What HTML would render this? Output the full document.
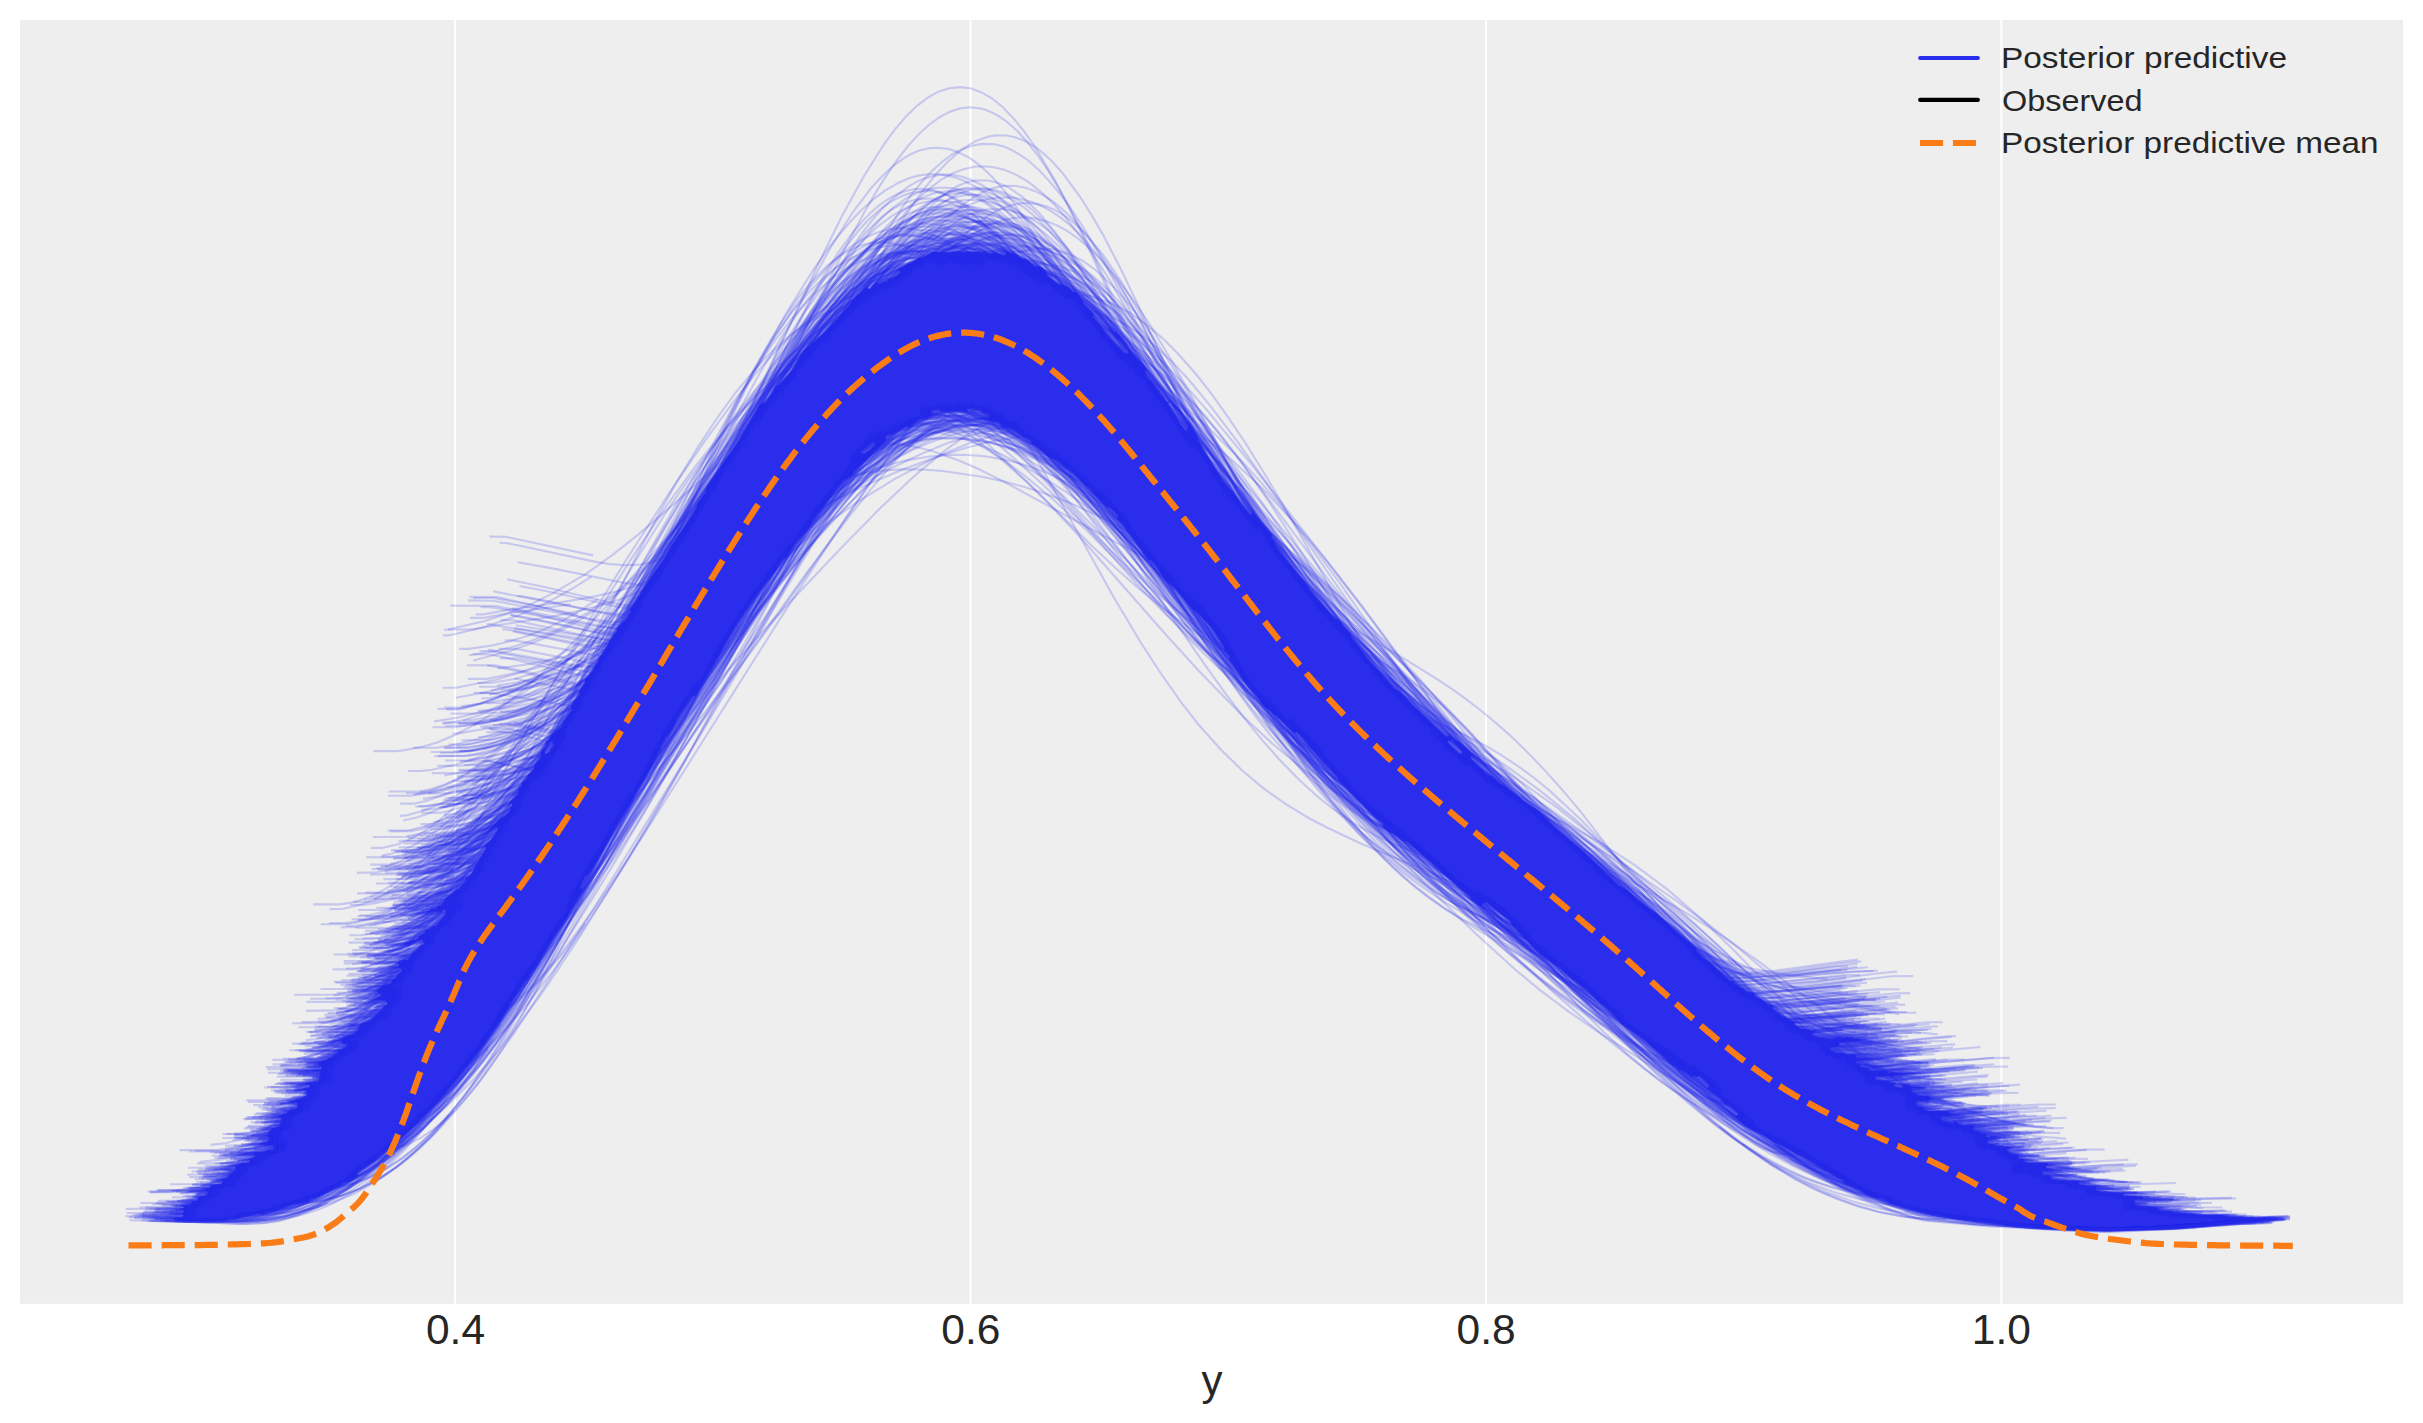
<!DOCTYPE html>
<html><head><meta charset="utf-8"><style>
html,body{margin:0;padding:0;background:#fff;}
svg{display:block;}
text{font-family:"Liberation Sans",sans-serif;fill:#262626;}
</style></head><body>
<svg width="2423" height="1423" viewBox="0 0 2423 1423">
<rect x="20" y="20" width="2383" height="1283.8" fill="#eeeeee"/>
<g stroke="#ffffff" stroke-width="2.1">
<line x1="455" y1="20" x2="455" y2="1303.8"/>
<line x1="970.5" y1="20" x2="970.5" y2="1303.8"/>
<line x1="1486" y1="20" x2="1486" y2="1303.8"/>
<line x1="2001.3" y1="20" x2="2001.3" y2="1303.8"/>
</g>
<path d="M172 1218 174 1218 175 1220 180 1221 225 1221 229 1219 234 1219 257 1213 264 1214 267 1212 275 1211 291 1204 308 1202 310 1199 317 1197 338 1186 340 1186 342 1183 350 1181 359 1175 357 1174 358 1171 374 1161 381 1154 392 1146 433 1107 482 1047 503 1016 511 1001 518 992 524 981 529 978 529 975 537 965 548 945 562 925 563 922 567 918 569 912 588 882 583 889 580 888 585 876 588 875 594 866 619 820 631 803 635 793 646 776 658 754 658 752 661 750 660 747 665 737 668 735 672 729 678 716 691 697 696 695 716 659 721 652 725 642 733 630 735 625 756 595 772 575 780 562 783 559 786 558 795 543 810 526 813 519 823 507 836 488 842 481 851 476 853 474 853 472 873 452 884 443 887 439 885 438 886 435 892 434 905 426 910 427 919 419 928 418 932 415 938 414 939 413 935 414 931 413 931 411 934 409 940 409 941 412 944 411 964 411 971 413 968 412 967 409 972 408 981 410 983 413 987 413 989 415 988 418 984 417 977 418 982 418 991 421 999 422 1002 427 1010 428 1015 430 1024 437 1029 439 1031 441 1031 443 1038 447 1049 457 1059 461 1067 469 1069 469 1074 473 1085 485 1091 489 1093 493 1107 507 1110 507 1118 515 1117 519 1125 526 1126 530 1131 535 1149 560 1151 560 1156 565 1165 580 1177 590 1191 608 1197 612 1213 629 1224 646 1224 650 1230 656 1229 659 1246 684 1258 697 1262 704 1267 709 1270 710 1274 715 1276 715 1294 733 1297 732 1306 741 1310 747 1338 777 1338 779 1342 784 1377 819 1383 823 1383 827 1389 832 1392 832 1403 841 1407 841 1463 891 1468 894 1471 897 1471 899 1477 904 1488 911 1482 906 1483 903 1487 902 1501 914 1511 921 1511 924 1540 954 1555 965 1558 966 1571 978 1587 990 1600 1003 1607 1008 1623 1025 1644 1039 1672 1065 1677 1067 1678 1070 1681 1070 1687 1073 1692 1078 1693 1076 1696 1077 1700 1076 1703 1078 1709 1085 1708 1088 1706 1088 1698 1082 1720 1098 1723 1101 1724 1104 1730 1106 1738 1113 1738 1115 1735 1116 1722 1106 1747 1127 1764 1135 1775 1143 1780 1144 1797 1154 1810 1160 1824 1170 1831 1173 1838 1178 1842 1179 1845 1184 1859 1189 1867 1195 1876 1198 1882 1198 1885 1199 1886 1201 1888 1201 1889 1203 1933 1215 1938 1215 1957 1219 1971 1220 1972 1221 1989 1222 2010 1226 2033 1227 2034 1228 2054 1228 2055 1229 2076 1229 2077 1230 2164 1229 2165 1228 2194 1227 2195 1226 2206 1226 2207 1225 2217 1225 2218 1224 2238 1223 2239 1222 2253 1222 2254 1221 2277 1219 2277 1218 2228 1217 2222 1215 2197 1215 2196 1214 2174 1213 2171 1211 2162 1211 2159 1210 2156 1207 2137 1206 2134 1202 2135 1199 2158 1199 2144 1199 2142 1197 2137 1197 2136 1196 2124 1196 2123 1195 2124 1192 2123 1193 2100 1192 2096 1190 2096 1186 2080 1185 2079 1182 2081 1181 2054 1180 2051 1178 2050 1175 2043 1175 2042 1174 2043 1171 2054 1170 2046 1168 2046 1166 2049 1164 2046 1163 2028 1163 2025 1162 2024 1159 2019 1159 2018 1158 2019 1155 2011 1154 2008 1152 2007 1149 2010 1147 1995 1146 1994 1144 1988 1144 1987 1141 1989 1139 1999 1137 1991 1136 1990 1138 1986 1137 1985 1133 1980 1133 1979 1131 1976 1131 1973 1129 1973 1126 1975 1125 1974 1124 1973 1125 1960 1125 1956 1121 1954 1121 1953 1123 1943 1121 1941 1119 1942 1116 1958 1114 1952 1114 1949 1113 1948 1111 1926 1111 1923 1107 1917 1106 1916 1105 1917 1101 1927 1101 1933 1098 1930 1098 1929 1096 1919 1096 1911 1091 1912 1088 1921 1088 1923 1087 1912 1087 1909 1085 1899 1084 1903 1085 1902 1088 1899 1088 1894 1086 1895 1083 1890 1083 1889 1081 1876 1080 1875 1079 1876 1076 1890 1076 1893 1077 1894 1075 1913 1073 1894 1073 1893 1072 1888 1073 1887 1070 1870 1071 1868 1068 1861 1067 1860 1064 1856 1063 1856 1061 1863 1059 1877 1058 1857 1058 1855 1056 1855 1054 1849 1055 1843 1053 1836 1053 1830 1050 1831 1047 1842 1046 1839 1045 1840 1042 1860 1041 1860 1039 1854 1039 1852 1037 1846 1037 1845 1038 1837 1037 1834 1039 1827 1039 1813 1036 1812 1033 1816 1031 1815 1030 1812 1031 1806 1029 1800 1029 1799 1027 1794 1025 1795 1022 1798 1022 1791 1021 1789 1019 1781 1016 1773 1009 1772 1005 1768 1005 1762 1000 1756 998 1753 993 1747 992 1742 988 1740 988 1738 985 1736 985 1734 983 1734 981 1730 981 1708 961 1703 958 1696 951 1696 948 1675 931 1655 912 1652 911 1640 902 1627 890 1619 886 1585 853 1554 827 1540 812 1527 804 1505 786 1500 784 1492 776 1487 775 1471 759 1471 757 1474 756 1480 760 1487 768 1486 765 1477 757 1475 757 1462 744 1455 740 1449 734 1449 736 1446 737 1416 709 1399 691 1394 689 1378 670 1367 659 1359 647 1351 638 1351 634 1343 626 1339 620 1335 619 1309 590 1307 585 1277 549 1274 541 1271 538 1272 535 1259 520 1251 509 1253 514 1250 515 1240 503 1233 492 1224 483 1208 457 1203 451 1200 443 1198 441 1198 438 1190 424 1187 422 1178 408 1167 397 1169 399 1169 401 1168 402 1165 401 1165 399 1159 393 1158 390 1154 386 1154 384 1146 376 1145 371 1147 370 1142 363 1135 357 1119 335 1116 332 1114 332 1101 317 1109 326 1110 331 1118 340 1120 340 1128 350 1128 353 1125 354 1105 333 1101 326 1093 317 1093 314 1090 310 1083 304 1083 301 1076 292 1072 292 1070 289 1062 284 1059 285 1047 276 1046 272 1042 268 1038 266 1035 267 1027 260 1022 259 1014 253 1010 253 1003 249 1006 252 1005 256 995 252 990 254 984 251 982 253 979 252 965 252 962 253 960 251 945 253 944 251 943 252 932 252 924 257 918 258 911 263 899 268 896 271 899 270 900 273 897 276 889 279 886 282 882 282 880 284 878 284 876 282 870 289 867 288 868 285 851 301 851 303 848 307 844 310 838 318 819 338 814 342 812 342 803 351 794 368 779 385 776 386 766 402 760 404 740 439 707 486 706 492 697 504 697 507 692 516 671 546 665 558 649 580 640 594 640 596 638 597 635 603 630 609 631 613 629 614 628 618 617 628 617 632 614 634 613 637 610 640 608 645 599 658 598 662 594 667 593 671 585 679 585 683 579 691 580 695 574 701 571 706 572 710 564 721 561 728 556 730 551 735 550 739 546 742 546 747 542 750 540 759 535 764 534 769 528 775 527 779 522 782 522 786 518 789 519 790 518 795 509 803 512 804 512 806 510 808 510 811 504 817 502 817 485 834 495 827 497 827 498 830 492 839 484 846 486 847 486 849 476 864 473 872 466 878 466 881 459 889 456 890 445 899 445 901 443 902 442 905 437 907 436 909 431 909 429 911 427 911 427 912 431 911 441 912 443 909 445 909 446 914 436 926 433 926 430 929 425 930 425 933 419 936 418 939 403 944 408 945 420 939 423 940 424 944 420 946 418 949 411 954 411 956 408 960 402 960 398 962 399 966 394 968 401 968 402 971 397 975 396 978 392 980 392 982 390 984 383 985 378 990 375 990 377 990 378 993 381 994 381 996 369 1002 374 1000 385 1000 387 1002 387 1004 372 1019 367 1022 360 1024 358 1030 354 1034 344 1037 340 1040 333 1041 341 1040 342 1043 347 1044 346 1047 341 1050 335 1050 337 1050 338 1053 335 1054 333 1057 331 1057 324 1061 316 1062 319 1063 319 1066 321 1066 322 1069 321 1070 312 1070 312 1071 319 1071 320 1072 319 1081 318 1082 303 1083 310 1085 309 1088 305 1088 300 1090 306 1090 307 1095 303 1098 289 1102 297 1102 298 1107 295 1109 290 1110 286 1114 277 1116 282 1118 281 1121 276 1121 280 1121 281 1124 278 1127 273 1128 269 1132 268 1135 265 1135 269 1137 268 1142 259 1144 273 1145 274 1148 272 1150 268 1150 263 1152 245 1153 244 1154 251 1153 255 1155 254 1158 248 1159 250 1160 249 1163 242 1163 238 1165 235 1165 236 1167 235 1171 229 1175 228 1178 222 1179 221 1180 223 1181 222 1184 211 1185 210 1188 206 1188 205 1190 199 1191 207 1191 208 1194 205 1196 198 1197 197 1201 192 1201 192 1203 189 1205 181 1205 183 1205 184 1208 179 1209 183 1209 184 1212 183 1213 176 1213 182 1213 183 1216 182 1217ZM552 741 554 746 551 749 550 752 545 754 544 751 549 742ZM1448 741 1452 740 1462 751 1462 753 1459 754 1448 743ZM875 443 875 445 870 450 864 454 861 453 861 451 872 442ZM1169 402 1171 402 1172 405 1182 415 1188 426 1187 431 1185 431 1179 423 1177 418 1170 408 1170 406 1168 405Z" fill="#2a2eec"/>
<g fill="none" stroke="#2a2eec" stroke-opacity="0.2" stroke-width="2.1">
<path d="M504.7 640.4l8.6 0 17.3 2.7 80.6 15.2M1377.4 676l43.2 38.5 28.8 28 20.2 20.8M1933.4 1116.7l43.2-3.1"/>
<path d="M408.6 882.7l14.6-4 14.5-6.4 14.6-8.6 11.6-8.6 17.5-15.8 14.6-15.2 14.5-17 17.5-22.7M533.8 776.4l29.1-42.7M656.1 579l37.8-64.7 29.1-48 26.2-41.3 29.1-42.4 23.3-29.8 20.4-22.5 20.4-18.5 8.7-6.6 11.7-7.5M1174.3 580l26.1 39 23.3 32.9 26.2 34.9 26.2 31.9 23.3 25.9 23.3 23 23.3 20.7 29.1 22.4"/>
<path d="M868.8 297.6l21.2-23.9 17.6-15.4 7-4.9 10.6-5.9 10.6-4.3 7-1.9 10.6-1.1 7.1 0.2 7 0.9 7.1 1.8 7 2.7 10.6 5.2 10.6 6.9 10.6 8.3M1686.8 1065.2l35.2 32.1 31.7 25.2M1774.9 1137.1l28.2 17.3 24.7 13"/>
<path d="M376.1 1014.4l6.9-0.2 6.8-0.9"/>
<path d="M1689.4 1065.6l32.8 26.1"/>
<path d="M765.6 575.8l36.5-32.6 26.5-20.8 29.8-21.1 36.5-22.4 36.4-19.3 16.6-7.6 23.2-9.5 29.8-9.2 16.6-3.6 9.9-1.3M1431.8 730.5l26.5 22.4 53 43.1M1537.8 817.3l63 50.8 39.8 33.6 46.3 41.1 59.7 54.5M2008.4 1158.2l16.6 1.6"/>
<path d="M394.7 975.1l7-0.9 10.6-2.6M2146.9 1212.1l45.7 0.4"/>
<path d="M858.3 447.8l15.1-7.5 22.8-9 18.9-5.5 22.8-4.4 22.7-1.9 18.9 0.2 22.8 2.4 18.9 3.7M1676.7 938.5l30.3 15.1 22.7 12.4 26.6 15.7 30.3 19.4 45.4 31.8 94.8 69.5 30.3 20.9 26.5 17.1 26.5 15.6 22.8 11.9 22.7 10.6 22.7 9.2M2123.8 1201.6l18.9 4.1 19 3 18.9 2 22.8 1.1"/>
<path d="M459 833.6l17.8-4.3 14.8-5.5 17.8-9.3 11.9-7.6"/>
<path d="M1998.8 1155.6l24.3-1.2"/>
<path d="M197 1172.7l28.6-0.2 21.4-3.5M957 406.7l14.3 3 14.3 4.4 14.2 5.5 17.9 8.8"/>
<path d="M1229.7 494.7l26.1 30.1 39.1 41.9 84.8 84 35.9 37.9 35.9 41.7 19.5 24.6 26.1 34.5"/>
<path d="M188.9 1151.5l27.2 0 10.2-1 10.2-1.9 10.2-2.8 10.2-3.7 10.2-4.5 13.6-7.3M1202.8 610.1l30.6 45.2M1264.1 698.2l17 22.9 20.4 25.8 37.4 43.9 34.1 36 34 32.1 30.6 25.7 40.8 30.2 40.9 26.4 54.4 33M1917.4 1099.5l10.2-0.6"/>
<path d="M709.6 663.3l42.6-60.2 51.8-76.2M1711.2 973.1l9.1 2.4 9.2 1.4 12.1 0.7 12.2-0.3 18.3-1.3 85.2-9.1"/>
<path d="M2126.3 1208.2l14.6 0.3"/>
<path d="M157.8 1200.8l17.7-0.1 14.2-1.5 14.3-2.5 14.2-3.9M544.8 767.2l21.3-34.9"/>
<path d="M373.7 1007.3l13.3-2.6 9.9-3.6"/>
<path d="M262.2 1141l15.9 0"/>
<path d="M1353.9 648.6l94.6 90 48.9 48"/>
<path d="M569.2 907l27.8-46.1 24.2-42.4 24.3-45.2 27.8-54.4M884.9 292.9l10.4-12.5 13.8-14.1 10.4-8.6 10.4-7.2 10.5-5.3 10.4-3.6 10.4-2.1 6.9-0.5 13.9 1.3 10.4 2.6 10.4 4.1 13.9 7.4 10.4 7 13.8 10.9 13.9 12.9 10.4 10.7"/>
<path d="M216.3 1218.5l23.7 0 20.3-1.6 16.9-3.5 20.4-6.6 10.1-4.4 13.6-7 16.9-10.4 20.3-15.6 17-15.5M1906.6 1097.5l23.7-2"/>
<path d="M272.1 1146.9l13.8 0"/>
<path d="M541.9 947.9l26-35.4 29.3-43 29.3-45.1 39-62.7 48.8-82.1 78.1-139.2M1085.1 315.7l16.3 14.1 16.3 15.8 16.2 17.5 22.8 27.3 19.5 25.3 22.8 31 58.5 84.1"/>
<path d="M380.5 936.3l11.8-2.8 11.8-4.3 11.8-5.9 11.9-7.2 17.7-13.6 11.8-10.8 11.8-11.7 14.8-16.3M1819.8 1050.7l35.5 6.4 35.5 4.1"/>
<path d="M299 1093.9l9.2-1.2 9.2-2M1826.3 1056.1l36.8-3.1"/>
<path d="M323.8 1067.9l10.9-1.9M1052.4 449.5l29.1 30.3 21.9 24.4 83.8 99 29.1 33.3 25.5 28M2087 1189l43.8 3.4 54.6 1.8"/>
<path d="M423.1 798.9l15.7-2.7 12.6-3.5 9.5-3.3 18.8-8.8 22.1-13.5 22-16.6 22.1-19.7 25.2-26.1 22-25.4"/>
<path d="M314 1076.9l16 0"/>
<path d="M417.6 886.5l17-2.7 10.1-3 10.2-4 10.2-5 10.1-5.9 17-11.9"/>
<path d="M376.3 969l13.3-2.7 13.4-4.6 10-4.5 13.4-7.7"/>
<path d="M212.9 1179.6l14.2-1.6 14.1-3.1M535.2 782.7l31.9-56.5M620.2 636.7l21.3-34.1"/>
<path d="M1144.6 380.8l16.5 15.4 16.5 17.3 16.5 19.1 16.5 20.6 36.3 49.8 59.4 88.7"/>
<path d="M1771.1 1017.5l16.2 1.2 16.3-0.1 87.7-5.8"/>
<path d="M349.2 999.3l13.9-2 13.8-4.1 13.9-6.1 13.8-8.4M810.1 516l31.2-27.5 24.3-18.6 27.7-17.7 20.8-10.5 13.9-5.7 17.3-5.6 24.2-5.3 20.8-2.1 27.8 0.2M1281.4 560.5l27.8 31.8 31.2 39.5"/>
<path d="M500.5 1014l29.8-44.8 33.2-54.3M570.2 903.7l76.3-129.2 36.5-59.7 66.3-105 56.4-85.9M1074.5 303.8l13.2 4.7 16.6 8.1 16.6 10.4 13.3 10.1 13.3 11.1 16.6 15.4 19.9 20.5 23.2 26.3 43.1 52.5 73 93.5 49.8 65.4 53.1 72.6 63 91.6"/>
<path d="M604.2 839.8l45.1-70 104-158.5 79.8-124.6M1082.8 311.6l17.3 11.7 10.5 8.4 10.4 9.6 17.3 17.8 24.3 28.9 20.8 27.3 17.3 24.3 72.9 106.3 27.7 39"/>
<path d="M803 528.6l29.2-38.8 39-54.1M1043.2 282.2l9.8 1.6 9.7 3.1 6.5 2.7 9.7 5.4 9.8 6.9 9.7 7.9 16.3 16 19.4 23.4 16.3 22.3 22.7 34.7 26 43"/>
<path d="M477.4 683l13.4 0 23.4-4 23.5-6.7 20-8.1 16.8-8.2 20.1-12 23.4-16.7 23.4-19.1"/>
<path d="M786.3 549.7l29.5-32.2 26.2-27 19.7-18.9 23-20.3 19.6-15.2 19.7-13.2 19.7-10.8 13.1-5.6"/>
<path d="M391.3 941.9l14-1.9 17.4-5.3 13.9-6.4 13.9-8.2M2149.1 1213l20.9 0.6"/>
<path d="M389.8 927.7l7.1-0.3 10.7-1.5 17.7-4.7 14.2-5.7 21.3-11.5M2172.1 1226.4l32-1.6"/>
<path d="M286.9 1113.8l14 0"/>
<path d="M238.1 1155.3l26.9 0M541.2 773.5l37.1-70.8 37-66.8 40.4-68.7 40.5-64.9 33.6-50.6 30.4-41.5 23.5-28.9 13.5-14.7 13.5-13.4M1417 844.2l23.5 24.1 37.1 36 26.9 24.7 20.2 17.5 30.4 25 23.5 18 33.7 24.2 20.2 13.4"/>
<path d="M398.1 900.7l13.9-1.7 10.3-2.9 13.8-5.7 10.4-5.8 10.4-6.9 13.8-10.9 13.8-12.6 13.8-14.4M1652.2 1040.6l20.7 21.9 24.2 24 24.2 22.2 13.8 11.6 17.3 13.7 24.1 17 20.8 13 20.7 11.5 24.2 11.6 24.2 9.7 20.7 7 20.7 5.8 17.3 3.8 31.1 4.2 44.9 4"/>
<path d="M241.3 1144.5l17.3-0.2 10.4-1.6 10.4-2.7M921.2 408.2l10.4-0.2 10.4 0.8 13.8 2 7 1.7 20.8 6.5 24.3 11.2 24.3 14.3 27.7 19.1 31.2 24.5 34.7 29.1"/>
<path d="M189.5 1190.9l18-1.1 14.5-2.4M948 407.2l14.4 4.4 18.1 6.5 32.5 14.8 32.5 18.4 18 11.3 21.7 14.8"/>
<path d="M935.6 262.8l11-2.6 11-0.7 11 1.3 10.9 3.1M2172.4 1215.8l18.3-0.1"/>
<path d="M201.3 1178.9l19.6-3 13-3.7 13.1-5M266.6 1157.3l19.5-13.1M1082.3 474.6l65.2 76.6 19.6 22.1"/>
<path d="M848.9 469l10.7-6.3 14.2-7.2 14.2-5.9 14.2-4.7 14.2-3.4 14.2-2.2 14.3-1 10.6 0.1 17.8 1.3 17.8 2.9 28.4 7.5 14.2 4.9 17.8 7.2 39.1 18.9M1701.9 961.2l35.5 29.9M2124.8 1199.2l10.7 0.5"/>
<path d="M651.1 756.3l40.3-58.6 40.3-54.3 141.1-181.9 36.9-44.9M2041.5 1178l23.5 3.6 23.5 1.6"/>
<path d="M417.6 913.6l9.4-1.4 9.3-2.4 9.4-3.5 9.4-4.7M813.9 354.2l25-44.3 21.8-35.1 18.7-26.5 15.6-18.6 9.4-9.5 9.3-8.1 15.6-10.3 9.4-4.4 6.2-2.1 6.3-1.3 9.3-0.9 9.4 0.7 6.2 1.3 9.4 3.1 6.2 3 9.4 5.6 9.4 6.9 18.7 17.3 15.6 17.9 21.8 29.3 18.8 28 28 45.4"/>
<path d="M1960.4 1128.2l55.9-4.5"/>
<path d="M161.1 1221l36.1 0.7 14.5-0.4 14.4-1.2 10.8-1.9 10.9-2.7 10.8-3.7 10.8-4.7M1305.6 733l28.9 40.7 32.5 41.5 28.9 32.7 14.4 14.7 18.1 16.8 14.4 12.4 18.1 14.3 14.4 10.5 21.7 14.4 39.7 23.2 43.3 23.1"/>
<path d="M272.4 1206.2l22.8-2.7 22.8-5.8 22.7-9.2 11.4-6 11.4-6.9 22.8-16.7 22.8-20.5 22.7-24 22.8-27.7 19-25.5 22.7-32.9 22.8-35 30.4-48.8 140.4-233.1 38-65.7 45.5-80.8M1657.7 920.4l26.6 18.9 37.9 29.3 87.3 71.8M2124.5 1208.1l56.9-1.8"/>
<path d="M323 1190.6l15.6-7 15.6-8.7 15.7-10.7 12.5-9.8 12.4-11 12.5-12.1 18.8-20.3 15.6-18.8M1728.4 987.9l18.8 1.1 21.8-0.8 96.8-9.2"/>
<path d="M145.1 1207.2l18.3 0 14.7-1 18.3-2.4 14.7-3.2M1289.4 720.6l22 27.4 18.4 21 18.3 19.7 22 21.6 25.7 23.1 22 18.2 22 16.9 29.4 21M1476.5 894.6l47.7 33"/>
<path d="M1845.6 1060l74.6-7.2"/>
<path d="M235 1158.8l14.4-1.1 10.8-2 14.5-3.7 10.8-3.9M1476.9 892.3l54.1 51.4 36.1 31.5 28.9 24.2 25.3 20.8 43.3 34 36.1 26.8 21.6 15.2"/>
<path d="M1900.2 1093.4l13.3 0.4 16.7-0.8 63.2-6.4 26.6-2"/>
<path d="M403.8 910.8l33.2-0.5 10-2 13.3-4.5"/>
<path d="M345.6 997.8l14.3 0 10.7-1.8 10.7-3.2 14.3-6.7"/>
<path d="M329.2 1029.5l10.5-1.5 7-1.8 7-2.5 10.5-5.2 7-4.2 10.5-7.7 14-12.2 7-6.9"/>
<path d="M427.2 851.9l12.2-2.1 9.1-2.4 15.2-5.4 12.2-5.5 12.2-6.6 12.1-7.6 21.3-15.7M1163.6 407.1l15.2 17.2 21.3 26.8 21.3 29.8 21.3 32.3"/>
<path d="M801.2 364.1l19.6-31.9 19.6-29.2 16.4-21.6 19.6-22.6 16.3-15.7 16.4-12.6 16.4-9.5 9.8-3.8 6.5-1.9 9.8-1.7 6.6-0.4 6.5 0.1 9.8 1.5 9.8 2.9 6.6 2.8 13.1 7.4 9.8 7.1 6.5 5.5 16.4 16.3 16.3 19.4 16.4 22.5"/>
<path d="M1902.2 1093.9l9.8 0.7"/>
<path d="M427.5 932.7l10.3-1.4M936.1 262.7l10.3-2.6 13.7-0.8 6.9 0.6 6.9 1.5 10.3 3.5M2083.8 1227.8l24 1.4 13.8 0 61.8-1.6"/>
<path d="M279.9 1103.9l17.4-2.9 10.5-3.1 10.4-4.4"/>
<path d="M770.9 403.3l24.9-36.1 10.7-14.2 14.3-16.9 10.7-11.4 10.7-10.1 14.2-11.6 7.1-4.8M1294.8 721.6l28.5 36.3 21.4 25.1 21.4 23.5 28.5 27.8 24.9 21.1 28.5 21.1 35.7 23.2 28.5 16.9"/>
<path d="M963.5 267.2l13.2-7.5 13.1-5.3 13.2-2.7 9.9-0.5 9.8 1 16.5 5.1 13.1 6.8 9.9 6.7 9.9 8 13.1 12.9 13.2 14.9 13.1 16.8 13.2 18.6 13.2 19.9 32.9 54.5"/>
<path d="M1962.5 1129.4l20.7 1.8"/>
<path d="M321.6 1081.7l10.5-1.3"/>
<path d="M402.6 967.6l9.3 0M724.4 636.8l65.6-91.6M852.5 462.8l25-30M1149.4 385.9l18.7 21.2 21.9 28.1 25 35.2 31.2 47.3"/>
<path d="M360.3 969.6l24.6-0.3 12.3-2.6 12.2-4.1M1907.5 1098l21.5-1.6"/>
<path d="M1409.9 708.8l46 34.3 31.8 25.8 28.4 24.9 21.2 20.4 21.2 21.7M2061.1 1226.6l46 2.8 63.7-2.2"/>
<path d="M463.8 782.2l15.9-3.2 9.5-2.7 15.8-5.6 12.7-5.6 22.2-12.6 25.3-18"/>
<path d="M301.8 1089.5l10.3-1.2 10.2-2.6M1146 547.2l51.3 83.2 30.7 47.4 27.4 38.2 13.7 17.5 17.1 19.8 13.6 14.6 13.7 13.1 13.7 11.9 17.1 13.1 17 11 13.7 7.5 17.1 8 20.5 8.2"/>
<path d="M182.6 1213.2l14.7 0.2"/>
<path d="M412.1 933l9.3-1.8 12.4-4 9.3-4.2 9.3-5.3M1820.5 1046.9l12.4 8.1 6.1 3.2M1845.2 1060.8l9.3 2.6 9.3 1.6 12.4 1 12.4 0 21.6-1.2 83.6-7.1"/>
<path d="M681.2 541.1l33.4-65 16.6-30 16.7-28 13.3-21.1 16.7-24.2 13.3-17.7 13.3-16.1 13.4-14.8 13.3-13 16.6-13.9 13.4-9.3 13.3-7.6 13.3-5.8 13.4-4.1 13.3-2.1M2007.4 1158.5l10-0.4"/>
<path d="M200.9 1221.1l33.7 0.8 15-0.4 18.7-1.9 15-2.8 15-4.3 11.3-4 22.5-10.4 15-8.5 11.2-7.4 18.8-14.3 18.7-16.8 15-15.5 15-17.2 15-19.1 18.8-26.5 15-23"/>
<path d="M784.9 386.6l21-27.5M819.9 342.5l14-14.9 14-13M1267.4 697l31.5 48.5 17.5 24.7 17.4 23.3 14 17.5 14 16.1 14 14.8 17.5 16.8 14 12.1 13.9 10.8 14 9.7 17.5 11 17.5 9.8 24.5 12.4 48.9 23"/>
<path d="M300.5 1103.2l10.9 0"/>
<path d="M1953.6 1215.3l17.7 3.8 21.2 3.2 28.4 2.9 35.4 2.7 49.6 1.4 42.5-2.3"/>
<path d="M280.9 1123.7l10.3 0M1983.3 1148.5l47.9-3"/>
<path d="M192 1185l24.9-0.1 17.8-2.4M921.3 409.7l14.2-0.8 10.7 0.3 10.7 1 14.2 2.3 24.9 6.6 24.9 9.7M1949.4 1128.3l60.5-3.8"/>
<path d="M651.3 756.2l45-70.6M703.2 674.9l48.5-74.9 31.2-46.9M2012.9 1168.1l27.7 9 24.2 6.1 24.3 3.8 24.3 1.9"/>
<path d="M1015 270l11.6 3.3 11.5 4.9M1080.4 307.9l15.4 15.3 15.3 17.5 15.4 19.7 11.6 16.1M1411 839.5l19.3 18.7 23 18.9M2195.4 1224.2l34.6-1.9"/>
<path d="M456.6 746.4l15.7-2.9 15.6-4.3 18.8-7.5 18.8-9.6 18.8-11.8 18.7-13.3 21.9-17.7 21.9-19.5"/>
<path d="M1978.8 1144.1l13 1.1"/>
<path d="M247 1163.4l12.9 0"/>
<path d="M459.5 887.3l15.5-3.5"/>
<path d="M401.2 970.1l10.8 0M2217.2 1218.9l14.3-0.7"/>
<path d="M444.7 798l11.4-0.8 14.3-3 14.3-4.6 17.1-7.6 14.3-8.2 17.1-11.4 14.3-11.3 17.2-15.1"/>
<path d="M921.2 414.9l19.6-3.2 9.8-0.8 13.1 0.3 19.5 2.5 19.6 5.1M1864.5 1075.4l104.4-8.9"/>
<path d="M288 1070.9l24.4-0.1 9.1-1.2 9.2-2.1"/>
<path d="M1089.8 483.7l53.8 61.9M1189.8 599.3l34.7 38.1"/>
<path d="M203.9 1185l13.5-0.3 16.8-2"/>
<path d="M1096.1 330.1l9.8 7.2 13.1 11.4 22.8 23.7 13.1 15.7 13 17 29.4 42.5"/>
<path d="M873.3 291.7l16.3-11 9.8-4.9 9.7-3.6"/>
<path d="M419.5 1114.1l13.3-9 10-8.1 9.9-9.1 10-10.4 23.3-28 23.2-32.9 23.2-37.2 26.6-46.2 39.9-75.1 33.2-65.6"/>
<path d="M851.6 461.5l22.3-25.9M2123.4 1205.1l41 2.3"/>
<path d="M388.5 973.8l12-2.1 12-3.9M1905.8 1105.5l18-1.1"/>
<path d="M2124.7 1201.3l11.4 0.6"/>
<path d="M390.8 992.9l8.5 0M1736.5 994.1l28.3-1.2 76.7-6.4"/>
<path d="M347.1 1001.8l30.1-0.3 10.1-1.9 13.4-4.7"/>
<path d="M2126.9 1208l32.7-0.7"/>
<path d="M319.5 1063.1l10.2-0.2 6.9-1"/>
<path d="M1647.5 1036.8l22.6 22.1 22.7 20.5 29.2 24 16.2 12.2 25.9 17.7 19.5 11.9 25.9 14.3 22.7 10.9"/>
<path d="M407.1 946l15.9-3.4 12.7-4.6"/>
<path d="M142 1215.6l31.2 0.1 23.4-2.2M883.3 294.7l15.7-21 15.6-17.8 15.6-14.5 11.7-8.4 11.7-6.3 7.8-2.8 7.8-1.9 7.8-0.8 7.8 0 11.7 2.1 11.7 4.4 15.6 9.3 15.6 13 15.6 16.3 15.6 19.2 15.6 21.6 15.6 23.6 19.6 31.3M2085.1 1189.8l23.4 2.1 27.3 1.2"/>
<path d="M1819.3 1048.5l19.9 9.3M1845.8 1060.6l26.4 9.8 23.2 6.3 19.8 3.6 19.8 2"/>
<path d="M279.5 1127.2l13.9-0.4"/>
<path d="M285.1 1090.8l19.5-0.3 16.2-3.2"/>
<path d="M506.7 1003.6l25.3-38.3M568 904.5l25.3-45.8M2068 1187l64.9-2.8 43.2-1.2"/>
<path d="M266.1 1154.3l9.4 0M1864.7 1080.2l9.5-0.8"/>
<path d="M417.1 898.6l15.5-3.2 15.6-5.4 15.5-7.7 18.7-11.9"/>
<path d="M168.6 1213.7l28 0.5M1929 1118.5l31.5-2.4"/>
<path d="M1501.7 906.3l37 45.9 33.9 38.5 36.9 37.3 24.7 21.8 27.7 22.4 21.5 15.8 18.5 12.7 27.7 17.6 9.3 5.1 6.1 2.5 9.3 2.2 9.2 1"/>
<path d="M334.2 1050.9l12.2-2.2 12.2-4.1"/>
<path d="M754.7 590.9l37-38.3 40.3-40.5 23.5-22.4 26.9-24.3 23.5-19.5 20.2-15.2 20.1-13.6 20.2-11.4M1235.2 502.9l20.1 23M1268.8 541.7l83.9 99.9 67.2 76.9"/>
<path d="M2230.5 1221.1l59.2-3.7"/>
<path d="M264.3 1139.2l16.3 0M774.2 399.1l22.9-32.7 22.8-27.8 19.6-19.4 9.9-8 9.8-6.8"/>
<path d="M342.8 1047l13.7-0.9"/>
<path d="M241.7 1138.6l6.8-0.2 13.7-2.2 10.3-2.8 10.2-3.6M925.9 405.4l10.3 2.4 10.2 3.3 20.6 9 13.6 7.8 10.3 6.7 27.4 20.4 17.1 14.7 27.4 25.7 75.2 76.9 37.6 36.8 30.8 27.2 17.1 13.6 17.1 12.5"/>
<path d="M239.3 1153.6l24.5 0 10.5-1.2 10.5-2.4"/>
<path d="M387.2 966.3l12.5-1.6 9.3-1.9M649.1 761.7l24.9-34.1 28.1-41.2 31.2-49 56.1-91.1M1082.5 314.9l15.6 9.9 9.3 7 12.5 10.7 18.7 18.9 15.6 18 18.7 24 28.1 40 24.9 38.8 28.1 45.7"/>
<path d="M2013.2 1172.5l34.2-1.6"/>
<path d="M788.2 384.9l21.3-38.5 15.2-25.5 15.2-23.2 15.2-20.8 12.1-14.5 15.2-15.3 12.2-9.7 15.2-9.2 12.1-4.6 15.2-2.4 12.2 0.5 12.1 3.1 12.2 5.3 15.2 9.5 12.1 10.1 15.2 15.2M1292.6 721.6l18.2 24.1 18.3 22.1 15.2 16.9 24.3 24.8 21.2 19.3 24.3 20.2 51.7 38.6M1471.9 892l51.6 37.8"/>
<path d="M213.1 1185.5l22.6-0.8M2122.2 1204.2l11.3 0.4"/>
<path d="M324.5 1047.6l21.2 0 12.1-2.7M1102.9 494.4l60.5 78.3 30.3 38 27.3 32.2 18.2 19.8M1802.5 1034.9l33.3 5.8 36.4 4.2"/>
<path d="M484.7 1036.6l23.5-30.8 23.5-34 23.5-36.1 26.9-44 33.6-58.1 26.8-48.7 26.9-50.2 30.2-58.6M937.9 268l10.1-8.6 10.1-7.4 16.7-9.5 13.5-4.9 10-2.1 10.1-0.9 6.7 0.2 10.1 1.4 6.7 1.6 10.1 3.5 16.8 8.6 16.8 12.1 16.7 15.2 16.8 18 16.8 21 20.1 28.4 20.2 31.3 23.5 39.4 60.4 108.9"/>
<path d="M1303.9 589.6l41.9 42.3 52.5 55 28 30.6 41.9 47.5M2122.2 1200.6l41.9-0.7"/>
<path d="M589.2 865.4l36-51.5 39.2-62.6 39.3-68.1 49.1-91.1"/>
<path d="M2111.6 1195.5l44 1.5"/>
<path d="M2086.3 1191.7l10.3-0.3"/>
<path d="M804.4 359.6l19.1-29.5 9.5-12.9 12.8-15.5 12.7-13.2 6.4-5.7 15.9-11.6 15.9-8.3 9.6-3.2 9.5-1.9 9.6-0.6 9.6 0.4 12.7 2.4 9.6 3.3"/>
<path d="M302.2 1074.6l29-0.1M620.6 638.4l29-56.3 35.4-65.1 25.7-43.5 25.7-39.6 22.5-30.7 22.6-26.6 22.5-22.1 9.6-8 12.9-9.3"/>
<path d="M1099.8 335.1l20 17.3 16.7 16.4 13.4 14.6 20 24 20 26 20 27.7 46.7 68.4M1990.5 1149.9l20-1"/>
<path d="M500.2 1014.5l17.9-26.4 14.9-23.7M571.9 900.8l71.6-118.4 92.6-148.3 53.7-89.6M1088.4 319.3l20.9 17 20.9 20.2 23.9 26.3 23.9 28.7 23.9 30.7 32.9 44.4 83.6 119.8M1864.8 1075.6l38.8-3.3"/>
<path d="M402.9 891.4l8.6-0.4 11.6-3.2 14.4-6 14.4-8 11.6-8.1 11.5-9.4 14.5-13.3 17.3-18"/>
<path d="M1088.6 317.2l16.8 19.4 16.9 22.4M1931.1 1115.6l47.2-4"/>
<path d="M1205.3 460.8l27.4 33.3 24.2 31.4M1269.1 541.8l21.2 28.6M1855 1070.9l33.4-2.9"/>
<path d="M941.4 263.3l16.4-5.8 13.1-2.2 13.1-0.1 6.5 0.9 9.8 2.4M1019.9 266.8l9.8 6.1 9.9 7.3M1984.7 1148.4l39.3-2.3"/>
<path d="M643.8 598.8l26.8-48.4 20-34.2 20.1-32.4 20-30.5 26.8-37.5 13.4-17.5 20-24.4 20.1-21.6"/>
<path d="M234.5 1133.5l14.8-0.9 14.7-3.3 14.7-5.6 14.7-7.8M473.8 876.8l51.6-93.8 114.1-214.4 33.1-58.2 25.8-41.8 14.7-21.9 18.4-25.2 14.8-18.1 14.7-16.2 14.7-14.1 14.7-12.2 14.8-9.9 14.7-8.1M1066.5 459.4l29.5 36.3 73.6 95.6 25.8 32.4 40.5 46.6 18.4 19.3 14.7 14.2M1291.1 723.9l22.1 18.6M1622.4 1016.8l25.8 25.5 22.1 20.8 25.8 22.8 29.4 24.1 25.8 19.4 25.8 17.7 25.7 16 22.1 12.1 22.1 10.9 25.8 11 22.1 7.9 22.1 6.5 14.7 3.2 33.1 4.8 55.2 4.9M2045.8 1226l22.1 1.1"/>
<path d="M283.6 1084.4l14.7 0 7.3-0.7 14.7-3.2 11-4.1"/>
<path d="M259 1136.4l10.4 0 10.4-1.3M1012.8 424.2l17.4 14.7 24.3 23.1 24.3 25.1 48.7 52.9 31.2 33 38.2 37.4 27.8 25M2013.3 1166.2l20.9 1.7"/>
<path d="M267.6 1131.5l15.5-0.5M852 453.4l21.7-12.8 24.9-11.8 21.8-7.7 18.6-4.3 18.7-2 18.6 0.5 24.9 4 18.6 6M1831.2 1044.4l24.8-2.2"/>
<path d="M1785 1026.8l69-7.4"/>
<path d="M256.9 1153l10-0.8 16.6-3M999.8 415.3l16.5 12.5 13.3 11 19.9 18.1 19.9 19.6 36.5 38.9 86.2 95.9 23.2 24.9 19.9 20.4M1818.8 1047.4l13.3 0.6 19.9-1 69.6-7.5 29.9-2.6"/>
<path d="M939.7 268.2l14.1-12.5 14.2-9.5 14.2-6.9 14.1-3.7 14.2-0.6 14.2 2.5 14.1 5.5 14.2 8.8 14.2 11.7 14.1 14.2 14.2 16.6 14.2 18.8 17.7 26.1 17.7 28.5 42.5 74.7M1478 890.2l31.9 31.9 35.4 32.4 28.3 23.8 42.5 32.8"/>
<path d="M1208 464.4l48.8 63.1M1269.8 544.6l19.5 25.5M2047.1 1225.5l42.3 3.5 19.5 0.8 19.5-0.3"/>
<path d="M1904.2 1096.9l54.2-3.8"/>
<path d="M218.5 1179.8l22.8 0M685.4 538.4l18.9-40.2 22.8-46.1 15.2-29.1 19-34.3 15.2-25.1 15.1-23 15.2-20.6 15.2-18 15.2-15.2 11.4-9.3 15.2-9.9 11.4-5.3 15.1-4.1 7.6-0.9 7.6-0.1 11.4 1.5 15.2 4.5M1163.6 567.9l34.2 50.6 30.4 41.6 26.5 33.3 38 43.1 41.7 42.1 34.2 30.7 38 31 41.7 31M1478.7 892.9l22.7 15.5"/>
<path d="M1819.6 1048l57-6.3 22.1-1.7"/>
<path d="M365.3 1163l15.8-9.4 15.8-11.8 12.6-11.1 15.9-15.7 15.8-17.9 15.8-20.2 12.6-17.6 15.8-23.8M943.8 266.6l12.6-10.7 12.7-8.3 12.6-5.9 12.7-3.2 9.4-0.8 12.7 1.6 12.6 3.9 12.7 6.7 12.6 8.9 12.7 11.2 12.6 13.1 12.6 15.1 12.7 16.5 15.8 22.8 19 29.6 18.9 31.3"/>
<path d="M969.4 401.2l24.1 15.6 20.6 16.2 24 20.9 75.6 69.4 41.3 35M2007.1 1159.3l34.3-1.7"/>
<path d="M386.1 1006.4l12.5-1.8M807.8 356.8l12.5-16.7 12.5-15.1 12.5-13.4 12.5-11.8 9.4-7.7 15.6-10.8 12.5-6.8 15.6-6.3M1566.9 968.6l40.6 38.9 43.7 38.1 46.9 36.1 21.9 15.6 28.1 18.8"/>
<path d="M275.4 1129.7l13.6 0"/>
<path d="M1978.4 1146.1l59.7-4.6"/>
<path d="M758.5 425.4l25.9-54.5 25.9-51.8 19.4-35.6 19.4-31.9 13-18.6 9.7-12.4 9.7-11 9.7-9.8 16.2-12.7 9.7-5.5 6.4-2.8 9.7-2.9 9.8-1.4 9.7 0.4 9.7 1.9 9.7 3.4 9.7 4.8 9.7 6.4 9.7 7.9 9.7 9.1 9.7 10.4 19.4 24.6 16.2 23.5 25.9 43.2M1658 1043.9l19.4 17.2 25.9 21.7 22.6 17.7 22.7 16.4"/>
<path d="M192.9 1219l39.6 1.3 19.7-0.6 19.8-2.4 19.8-4.5 23.7-8.1 19.8-9 23.7-13.8 19.8-14.2 19.8-16.7 15.8-15.3 23.7-26.4 19.8-25 15.8-22.1 27.7-42.1 23.7-39.4 23.7-41.7M572.6 896l23.7-44M1229 496.4l47.5 47.5 23.7 25.5 27.7 31.3 43.5 53.3 55.3 72.8"/>
<path d="M840.8 320.6l19.3-20.5 19.4-17.1 9.6-6.9 9.7-6 16.1-7.9 16.1-5.2 9.7-1.7 9.7-0.6 16.1 1.3 16.1 4.3M1466.3 887.2l22.5 24.8 22.6 22.9 32.3 29.7 19.3 16.3 25.8 19.8 25.8 18.3 29 19.1 41.9 26"/>
<path d="M1423.3 720.1l23.8 22.8 20.8 21.4"/>
<path d="M1019.1 266.8l9.2 3.4 9.1 4.5 9.1 5.8 9.2 6.7"/>
<path d="M568.3 902.3l34.1-54.5 30.6-52.4 23.8-43.2 27.2-52.3M956.2 260.7l13.6-4 13.6-2 13.7 0.1 13.6 2 13.6 3.8 13.6 5.5 13.6 7.6 17 11.8 13.6 11.5 13.6 13.3 17 18.9 13.6 16.7 27.3 37.5 23.8 36.7 17 28"/>
<path d="M954.3 260.1l14.8-6.2 11.2-2.6 14.8-0.6 7.4 1 7.4 1.9 14.9 6.2 14.8 9.3 14.8 12.3 14.9 15.1M1963.1 1216l29.7 6.6 29.7 4.2 44.5 3.7 37.1 1.3 70.4-3.2 66.8-5.5"/>
<path d="M2110.6 1195.8l25.8 1.1"/>
<path d="M871.9 292.9l10.7-8.2 7.1-4.4 10.7-5.1 10.7-3.4M2049.9 1182.9l64.3-2.8"/>
<path d="M2078.7 1227.4l28.2 2.5 36.2 0 32.1-1.2 64.4-4.8 28.1-1.3"/>
<path d="M1864.6 1080.9l66.6-5.5"/>
<path d="M921.4 413.1l21.9-8.1M1353.4 650.2l62.6 51.1 37.5 32.7 37.6 36.6 37.6 41.4"/>
<path d="M282.8 1113.9l18-0.2M1566.5 967.2l21.5 22.4 32.4 31.7 25.2 22.7 18 15.2 25.1 19.8 18 13.2 25.2 17 21.5 13.5"/>
<path d="M268.5 1146.2l17.3-2.8M1689.2 1065.1l31.2 28.4M1789.7 1145.8l27.7 17.1 20.8 11.1"/>
<path d="M768.3 406.2l20.4-31.2 17-24.2 20.4-27.2 17-20.7 13.6-15 17-16.6 17-13.7 13.6-8.8 13.6-6.9 16.9-5.5 13.6-1.9 13.6 0.8 13.6 3.5 13.6 6.1 13.6 8.7 13.6 11.4M1291.8 719.4l20.4 28.6 20.4 26.9 27.1 33.6 13.6 15.7 17 18.6 20.4 20.8 17 16.5 23.8 21.6 40.8 33.6 44.2 32.4 44.2 29.6 105.4 67.4M1692.9 1069l23.8 15.6"/>
<path d="M236.6 1214.3l15-0.9 15-1.9 15-3.1 15-4.3 18.7-7.2 11.2-5.1 26.3-15 15-10.6 14.9-11.9 22.5-20.7 15-15.6 15-16.7 26.2-32.8M506.4 1004l22.4-35.4M2124.6 1207.9l18.8 0.8"/>
<path d="M180.3 1206l22 0.1"/>
<path d="M366.9 999.6l18.2-0.1 15.1-2.7"/>
<path d="M806.9 358.9l18.8-28.7 15.6-22 15.7-19.8 15.6-17.6 15.7-14.9 15.6-12.1 12.5-7.5 15.7-6.5 15.6-3 12.5 0 12.5 2.3 12.6 4.6 12.5 6.9 15.6 11.7 12.5 11.8 15.7 17.7M1288.7 718.5l28.2 40.1 21.9 27.8 28.1 31.7 31.3 30 18.8 15.9 21.9 17.1 175.2 128.1M1880 1085.3l9.4-0.4"/>
<path d="M183.3 1215.8l11.2 0.3M231.8 1215.5l18.6-2 22.3-4.5 18.7-5.8 14.9-5.9M2000.9 1156.4l55.9-4.7 29.8-1.8"/>
<path d="M490 818.5l15.5-2.3 12.4-2.9M2013.6 1166.9l58.9-3.2"/>
<path d="M193.3 1197.1l11.3-0.7 15-2.2"/>
<path d="M381.5 980.1l16.8-3.5 13.4-4.7M2012.7 1166.8l23.5 7.9 20.2 5 20.2 3.6 23.5 2"/>
<path d="M388.2 882.8l27.3 0 6-0.6 15.2-4.2 12.1-5.4 15.1-9.2 15.2-11.8 15.1-14.1 15.2-16.6"/>
<path d="M1847.6 1064.1l30.1 3"/>
<path d="M499.6 1013.2l15.1-21.4 15.1-23M575 891l18.1-33.7M1036.9 277.1l12.1 3.3 15.1 6.3 12 6.6 12.1 8.1 12.1 9.4 12.1 10.9 12 12.1 15.1 16.8 24.2 29.8 27.1 37.7 30.2 45 78.5 119.8"/>
<path d="M2068 1186.3l10.8 0.4"/>
<path d="M319.1 1058.2l16.6-3.1 13.2-4.6M1916.7 1114.3l59.6-6 33-2.4"/>
<path d="M928.1 260.6l16-10.9 9.6-4.7 9.5-3.4 9.6-2 6.4-0.5 9.6 0.4 9.5 1.9 9.6 3.3 6.4 3.1 9.6 5.8 9.5 7.2 9.6 8.7 12.8 13.5 12.7 15.5"/>
<path d="M273.8 1127.6l19 0"/>
<path d="M1869.7 1083.7l37.4-3.6"/>
<path d="M256.2 1129.1l20.4-0.2 13.6-2.5M1191.5 600.7l34.1 38.1"/>
<path d="M2230.8 1220.2l18.7-1.2"/>
<path d="M172.8 1218.5l20.8-0.3"/>
<path d="M1906 1103.8l22.1 2.4"/>
<path d="M329.3 1036.7l10.2 0 10.3-1.4 10.2-2.6 10.2-3.7"/>
<path d="M236.3 1214.9l22.2-2 14.8-3 14.8-4.3 18.5-7.6"/>
<path d="M342.6 1043.1l14-1.7"/>
<path d="M221.8 1178.9l17.7-0.2M2015 1163.6l17.7 1.3"/>
<path d="M1945.8 1127.3l79.9-6.2"/>
<path d="M816.6 506.7l39.7-33.8 16.5-13 23.2-17 29.8-19.2 19.9-10.9 13.2-6.4"/>
<path d="M570.8 898.1l20.6-36.2M1765.2 1010.3l14.8 1.6 20.6-0.1 97.4-9.3"/>
<path d="M356.5 1031.8l12.4 0M931.7 258.6l15.5-7.4 12.4-3.4 15.4-1.3 12.4 1.5 12.4 3.5 15.4 7.4 12.4 8.1 15.5 12.9"/>
<path d="M201.2 1188.2l18.7-0.4M1471 888.5l37.2 40.9 18.6 18 21.8 19.3 18.6 14.7 18.6 13.1 18.7 11.4 18.6 9.8"/>
<path d="M2015.7 1164.4l9.9-0.4"/>
<path d="M1693.5 954.7l53.9 42.7M1996.5 1151.7l23.6 2.8"/>
<path d="M2010.6 1167.2l61.8-3.3"/>
<path d="M385.5 1006.1l12.7-1.8"/>
<path d="M651 757l36.7-60.3M1601.7 875.5l29.4 23.4M2181.7 1225.1l77.1-3.7"/>
<path d="M317.6 1018.7l25.9-0.4 11.1-2.2 7.5-2.4 11.1-5 11.1-6.7 18.5-14.7M1961.4 1216.2l22.2 4.7 22.3 3.4 29.6 3.1 37 2.4 33.3 1.1 11.1-0.3 55.6-2.2 37-2.6"/>
<path d="M1377.7 678.5l35 25.3 35 29 28.7 27.3 35 37.6"/>
<path d="M381.5 1151.3l13.2-2.4 13.2-4.6 13.1-6.6 13.2-8.8 13.2-11.1 16.4-16.9 13.2-15.9 13.2-17.8 13.1-19.8 13.2-21.8 16.4-29.5 13.2-25.2 36.2-75.9 36.2-82.2"/>
<path d="M1803.8 1036.9l78-6.1"/>
<path d="M1932.1 1119.9l15.6-1.2"/>
<path d="M203.7 1174.2l26.2-0.7 18.7-3.3M607.4 654.9l44.8-80.1 37.4-61.2 33.6-49.5 15-19.9 18.7-23.1M1687.5 1066l33.7 28.3M1807.1 1155.1l22.5 12.6"/>
<path d="M414.7 868.8l13-2.5 13-4 9.8-4.2 13-7.2 13-8.7 13-10.3 16.2-14.7 16.2-16.3M902.1 424.3l22.7-2 9.8 0.1 9.7 1 22.8 4.3 22.7 7.3 16.2 6.5 26 12.9 29.3 16.1 42.2 24.9"/>
<path d="M1820.7 1047.6l53.6-5"/>
<path d="M247.3 1158.9l19.9 0"/>
<path d="M1961.7 1130.1l66.3-4.8"/>
<path d="M850 454.9l20.3-11.4 23.8-10.6 23.7-7 20.4-3.5 23.7-1.2 20.4 1.6 16.9 3.2 10.2 2.6 23.7 8.1M1382.4 682.9l30.5 24.2 27.2 23.5 23.7 22.5 33.9 35"/>
<path d="M187.2 1191.8l18-0.1 14.3-1.1"/>
<path d="M377.7 998.1l13.8-2.3 10.3-3.3M2012 1172l24.1-0.6 99.8-5.6"/>
<path d="M297.3 1085.1l7.1-0.9 10.6-2.5 7.1-2.5 10.6-5.1"/>
<path d="M602.6 842.6l64.6-102.6 105.4-173.3M1996.6 1153.3l44.2-3.6 30.6-1.7"/>
<path d="M366.5 988.1l19.1 0 9.5-1.7M1436.8 861.2l25.4 27.8 16 15.3 15.9 14.1 31.9 24.7 50.9 34.1"/>
<path d="M856.2 452.1l25-18.1"/>
<path d="M271.5 1119.2l9.8-1 9.9-1.9M1062.8 458.1l29.5 34.5 98.1 122.3 32.7 38.3 29.4 32.1M1291.7 724l26.2 23.5M1864 1082.3l52.3-5.2 26.1-2"/>
<path d="M418.1 933.6l16.3-4.4 13.6-5.9M959.8 261.2l10.9-0.3 10.8 1.3"/>
<path d="M414.8 926.9l23.4-0.1 10-1.1M1200.2 453.7l23.4 28.7 30.1 38.4 66.8 89"/>
<path d="M823.4 497.9l20.9-19.9 17.4-15.3 17.4-13.9 17.4-12.4 17.4-10.8 13.9-7.3 17.4-7.4 13.9-4.6M1279.2 558.8l24.4 21.9 31.3 29.4 59.1 59.3 52.2 56.2 62.7 72.3M2089.9 1194l66.1-2.5"/>
<path d="M306.2 1051.4l20.7-0.1 6.9-0.9 10.3-2.3 13.8-5.3M1198.7 604.8l37.9 54.4M1267.6 700.8l27.5 33.7 31 33.8 27.6 26.2 27.6 22"/>
<path d="M157.1 1203.7l20.5 0 30.7-2.6M1677.8 937.7l85.5 64.1 20.5 14.1 27.3 16.5 27.3 13.5 20.5 7.7 24 6.1 20.5 2.7"/>
<path d="M295.2 1088.6l15.8-0.1 9.5-1.6M1103.3 496.7l25.2 27.7"/>
<path d="M1952.2 1128.4l32.8-2.5"/>
<path d="M1948.4 1126.2l22.7-1.6"/>
<path d="M1473.6 768.3l47.9 31.6 34.2 23.5 24 17.5 30.8 24.8 27.4 24.3 34.2 33.5 34.2 36.4 27.4 30.6M2123.9 1198.9l71.8-1.3"/>
<path d="M291.8 1112.4l14.3 0M1380.3 680.2l82.1 70.5 57.1 52.3"/>
<path d="M1984.1 1146.7l13.9 0.8"/>
<path d="M669.3 727l28-43.6M712.8 659l43.6-68.4M1136.2 373l21.8 17.5 18.6 17.7 21.8 23.6 21.8 26.1 37.4 49.2 90.2 126.2 46.7 61.5M1976.6 1144.4l24.9 3.5 28 1.9"/>
<path d="M1964.6 1130.6l13.5 2 13.5 1.1"/>
<path d="M317.6 1026.8l12.6 0 9.4-1.4 9.4-2.6 9.4-3.7 9.4-4.7 9.4-6 12.6-9.6 9.4-8.4M618.8 638.7l37.7-69.9 37.6-66.8 25.1-41.5 25.1-37.8 25.1-33.5 12.5-14.8 12.6-13.6 15.7-15.1 9.4-8 12.5-9.4 12.6-7.8M1462.8 884.2l40.7 44.3 25.1 25.5 28.3 27.5 50.2 45.3 31.4 26 25.1 19.8 43.9 32.1 28.2 18.6 22 13.2 25.1 13.5 18.8 9 18.8 7.7 18.8 6.4"/>
<path d="M381.9 951.8l12.3-2.2 12.4-3.6 15.4-6.4 12.3-6.6"/>
<path d="M874.2 293l12.2-10.9 15.4-10.9 12.2-6.6 12.2-4.4M935.4 258.3l12.3-0.9 9.2 0.7 9.2 1.7 12.2 4.5"/>
<path d="M384.8 871.3l10.1-1.6 13.5-3.6 10.1-4 10.1-5 13.5-7.9 10.1-7.2 23.6-19.4 20.2-20 23.6-26 26.9-32.6 37.1-47.6"/>
<path d="M568.9 904.8l60.6-96.3 41.6-69.3 41.7-72.7 41.6-77.1M2170.3 1226.3l34.1-1.2"/>
<path d="M1933.8 1123.8l52.3-5.1 32.6-2.4"/>
<path d="M1974.2 1140.1l26.6-1.5"/>
<path d="M1686 944.7l23.9 21.4 24 23.2"/>
<path d="M446.4 709.4l11.6 0 2.9-0.5 14.6-3.7 14.5-4.6 26.1-10.4 11.6-5.7 14.5-8.1 26.1-16.9 26.2-19.5 23.2-19.4 29-26.5"/>
<path d="M203.9 1171.4l17.2-2.4 10.3-2.5 13.8-4.6 20.7-10.1 20.6-13.6"/>
<path d="M853.4 465l18.8-15.8 18.7-13.6 15-9.1 18.7-9 15-5.1 18.7-3.6 18.8-0.6 15 1.8M2112.5 1196.6l18.7 1.1"/>
<path d="M181.6 1220.4l26.2-0.1 23-1.9 19.7-3.5 19.7-5.5M1703.7 965.4l9.8 3.8 9.8 2.3 13.2 1.4 13.1 0 26.2-2.4 55.8-7.8 26.2-3.1"/>
<path d="M254.7 1139.9l14.3-2 10.8-2.6M2039.4 1178.7l32.3 2.8 17.9 0.8"/>
<path d="M380.7 1010.8l13.2-2.4M1907.7 1102.8l49.5 16.2 42.9 11.3 16.5 3.2 19.8 2.9 29.7 2.2"/>
<path d="M274.5 1148.7l10.5-0.1"/>
<path d="M364.7 1005.3l16.1-3 9.7-3.2 9.6-4.3"/>
<path d="M448.5 1084.3l20.8-25.6 20.8-28.6 17.3-25.6 24.3-38.7M573.3 894l20.8-38M1211.3 472.1l24.2 25.8 24.3 27.1 45.1 53.7 20.8 25.9 27.7 36.3 41.6 56.5M2033 1175.3l31.2 3.2 31.2 1.5"/>
<path d="M164.4 1220.9l40.2 1.3 32.9-0.5 21.9-2.6 11-2.5 14.6-4.4 14.6-5.7 14.6-6.9 25.6-15.1 25.6-19 25.6-23.2M1947.7 1127.7l54.8-5.8 29.3-2.2"/>
<path d="M391.6 937.7l12-3.3 12-5.3 12-7.6 9-6.8 9-7.9 12-12.4 12-14 12-15.8M535.7 777.6l33-62.4 54-107 36-69 30-53.2 30-47.5 18-25.3 15-19 15-16.7 12-11.8 15.1-12.7 18-12.5 15-7.9 12-4.8"/>
<path d="M442.7 723.8l20.2-3.5 14.5-4.4 11.6-4.5 11.6-5.3 11.6-6.3 23.1-14.7 20.3-15.2 31.8-26.7 72.4-67.9M923.3 409.5l11.6-0.6 14.5 0.5 11.6 1.5 11.5 2.4 14.5 4.5 14.5 5.9 23.2 12.4 11.5 7.6 14.5 10.7 26.1 22 34.7 33.9 29 30.9M1907.8 1100.6l14.4-1.1"/>
<path d="M2182.9 1225.1l56.8-3.9 37.8-1.8"/>
<path d="M493 725l11.8-0.8 14.7-3 11.8-3.9 11.8-5.1 14.8-7.9 11.8-7.5 14.8-11.2 11.8-10.7M811.8 354.2l20.7-31.1 17.7-24.5 14.7-18.4 17.8-19.4 17.7-16.3 14.7-10.7 14.8-7.9 14.8-5 14.7-2 14.8 1.3 5.9 1.4 8.8 3.1 8.9 4.3 5.9 3.6 8.9 6.2 8.8 7.2 14.8 14.6 14.7 17.6 14.8 20"/>
<path d="M1881 1084.7l21.5-1.8"/>
<path d="M1940.6 1125.6l36.3-3.5 29.6-2"/>
<path d="M396 879l10-0.4 16.6-3.5 13.3-4.5 13.3-6.1 16.7-9.5 13.3-9.1 13.3-10.4 16.6-14.3"/>
<path d="M1996.8 1151.1l30.3 5.6 30.2 2.9"/>
<path d="M1477.2 892.9l27.6 23.2 21.5 17.1"/>
<path d="M210.6 1144.9l13.9-1.5 13.9-3.3 10.4-3.5 13.9-6.2 13.9-8 13.9-9.3 13.9-11.2 13.9-12.3M902.1 421.3l13.9 1 13.9 2.5 13.9 3.9 13.9 5.3 13.9 6.7 17.4 9.8 13.9 9.1 20.9 15.4 27.8 23 34.7 32.1 111.2 111.4 41.7 40.1 45.2 40.1 38.2 30.4M1913.4 1113.6l73-4.9"/>
<path d="M456.4 791.8l14.5-3 11.6-3.3 14.5-5.5 14.6-6.9 14.5-8.4 11.6-7.9 8.7-6.6 17.4-14.8M1914.7 1109.9l26.1-1.5"/>
<path d="M2172 1216.6l54.8-1.2"/>
<path d="M251.8 1144.2l18.3-0.1 14.5-2"/>
<path d="M2123.3 1205.8l65.8-1.5"/>
<path d="M450.7 1078.5l18.4-14.2 18.3-16.8 18.3-18.8 22-25.2 29.4-37.6 22-30.9 25.6-38.2 22-35 22-36.6 36.7-64.8 40.3-75.3 69.7-134.3 29.3-54.2M1583.7 858.1l223.7 179.5M2185 1216.6l29.4 0.7 33-0.1"/>
<path d="M211.7 1173l19.9-0.5 16-2.6M2192.5 1224.3l59.9-3.5"/>
<path d="M315.6 1043.8l10.4-0.2 13.8-2.6 13.8-5 13.9-7.4"/>
<path d="M493.1 591.3l106.3 20.7 21.9 2.4 18.7 0"/>
<path d="M1210.7 470.5l48.6 59.6M1266.8 539.6l52.3 68.9"/>
<path d="M1820.1 1049.8l24.2 3.1"/>
<path d="M426.8 914.6l6.1-0.1 9.2-1.4 18.4-5.4"/>
<path d="M386.2 1001l12.9 0"/>
<path d="M373.5 990.6l21.6-0.1"/>
<path d="M378.2 939.4l10.8-1.6 7.2-1.8 10.9-3.8 7.2-3.3 10.8-6.3 10.9-7.4 10.8-8.5 10.9-9.6"/>
<path d="M1803 1151.9l20.4 13"/>
<path d="M419.8 791.5l12.4-2.7 12.5-4.3 9.4-4.3 12.4-7.2 15.6-11 12.5-10.2 24.9-24.4 21.9-24.6 21.8-26.8 68.6-91.1 31.2-40 24.9-30.4 28.1-32"/>
<path d="M693.7 521.9l31.5-62.9 21-39.3 28-48.8 24.6-38.7 24.5-34.5 21-25.8 21-21.5 10.5-9.1 10.5-7.9 17.5-10.6 10.5-4.4 10.5-3.1 10.5-1.6 10.5-0.2 10.5 1.2 7 1.5 10.5 3.7 10.5 5.1 7 4.2 10.5 7.5 10.5 8.8 10.5 10.1 21.1 23.9"/>
<path d="M367.2 1011.5l13.3-1.9 10-3.2 6.7-2.8M810 359.7l16.6-32.7 13.3-24.3 13.3-22.1 13.4-19.5 9.9-12.8 13.4-14.6 13.3-11.2 13.3-7.8 6.7-2.7 6.6-1.7 10-0.9 6.7 0.5 6.6 1.4 13.3 5.2 13.3 8.2 13.4 11.2 13.3 13.8 13.3 16M1412.5 841.7l20 16.1M1935.2 1211.8l23.3 6 29.9 4.9 33.3 3.2 46.6 2.5"/>
<path d="M331.2 1055.3l17 0"/>
<path d="M468.5 1059l27.3-35.6 24.4-34.7 24.3-37.2 36.5-58.5 79-133.3 103.3-179.8M1745.1 995.1l15.2 2.7 18.2 0.3 79.1-7"/>
<path d="M2015.3 1161.3l23.5 2.3"/>
<path d="M935 260.9l14-4.7 7-1.5 10.5-1.1 14.1 0.6 10.5 2.2 10.5 3.4"/>
<path d="M334.8 1038.2l14.6 0 10.9-1.6"/>
<path d="M1908.1 1105.9l24.8 2.9"/>
<path d="M258.4 1140l10-0.8 10-1.7"/>
<path d="M422.6 886.2l6.2-0.3 9.4-2 9.4-2.8 9.3-3.9 18.8-10.6 15.6-11.6"/>
<path d="M2086.6 1191.9l10.6 0.5"/>
<path d="M303.3 1079.4l12.9-0.8 13-2.8"/>
<path d="M497.6 1016.4l20.2-27.4 20.1-29.4 23.5-36.6 20.2-33.7 23.5-41 23.5-43.2 47-90.5M1303.4 588.5l43.7 48 26.9 31.3 30.2 36.6M2011.9 1169.1l33.6-1.4"/>
<path d="M271.6 1120.5l19.5 0M1900.7 1094.5l32.6-3.3"/>
<path d="M231.8 1215.6l16.6-1.2 19.9-3.7 19.9-6.3 16.5-7.6M1689.8 1066.2l26.5 26.6 19.9 18.3 19.9 16.8 16.5 12.4 19.9 13.3 19.9 11.2 23.2 10.6 19.9 7"/>
<path d="M2009.5 1158.7l9.8-0.5"/>
<path d="M278.4 1123.9l13.9-0.1M1190 598.6l41.9 52.1"/>
<path d="M282.3 1111.6l12.9-0.8 12.8-3.2M535.9 781.4l48.2-87.6M609.8 649.9l48.1-78.6 57.8-88.4M1492.5 900l38.6 44.6 22.4 24.4 25.7 26.5 45 42.6 25.6 22.4 25.7 21.2 22.5 17.2 22.5 16 16 10.7 22.5 13.7 19.2 10.4 22.5 10.6 19.3 7.8 22.4 7.2"/>
<path d="M278.6 1109.1l15.3-2 15.4-4.6M1405.4 834.4l30.6 29 23 19.3 30.7 22.8 34.5 22.2M2171.9 1215.5l30.7 1 34.4-0.3"/>
<path d="M362.7 1026.5l9.9 0"/>
<path d="M263.3 1108.2l27.3 0 10.3-1.2 6.8-1.5"/>
<path d="M343.1 1048.1l13.6-1.7"/>
<path d="M214.3 1186.5l21.4 0"/>
<path d="M958.1 402l26.5 16.6 26.5 19.3 29.8 24.4 33.1 29.8 29.8 28.8 36.4 37.2 102.6 111.4M1901.4 1093.9l46.4-4.7 26.5-2"/>
<path d="M255.4 1152.9l14.9-1.3 15-2.6"/>
<path d="M286.3 1099.2l16.5-0.6 16.5-3.5"/>
<path d="M914.1 266.7l13.3-9.5 13.4-6.6 9.9-3.2 13.4-1.7 13.3 1.1 10 2.8 13.3 6 13.3 8.6"/>
<path d="M1555.1 956.7l37.1 42.9 18.6 19.8 24.8 24.9 30.9 28.1 34.1 27.9 24.8 18 21.6 14.5 15.5 9.3 18.6 10 18.6 8.9 18.6 7.2 15.4 5 12.4 3.2"/>
<path d="M603.4 839.7l47-59.5 30.2-39.8 20.1-28.4 20.1-30.3 20.1-32.4 23.5-40.8 26.8-49.5 33.5-64.2M1082.9 312.4l20.1 15.5 23.5 20.9 26.8 27.3 30.2 33.4 30.1 35.9 93.9 114.4 67.1 79.5 50.3 60.8 40.2 51.2 26.8 36.1"/>
<path d="M277.1 1113.4l14.4-2.3 18-5.7M1052.1 450.6l28.8 28.6 32.5 35.1 129.7 151.8"/>
<path d="M500.4 711.9l12.2 0 6.2-0.8 27.5-6.7 21.4-7.6 24.5-11.8"/>
<path d="M178.7 1210l18.5 0.2M1468.3 886.4l33.3 33 33.4 29.5 37 29 33.4 22.6"/>
<path d="M1950.3 1127.1l22.7-1.1"/>
<path d="M1998.2 1151.7l52.4-4"/>
<path d="M150.2 1191.9l21.5-0.5 14.4-1.8 14.3-2.9 14.3-4.2 10.8-4 21.5-10.1M261.3 1159.8l25.1-18.4M436.8 936.2l78.8-139.5 35.9-60.5 42.9-67.3 21.5-31.2 25.1-34.5M1479.3 892.7l43 36.1"/>
<path d="M220.7 1183.8l13.5 0"/>
<path d="M282.5 1122.9l9.5-1.3M1884.6 1088.1l12.6-0.8"/>
<path d="M403.7 843.4l24.7 0 10.6-1.1 14.1-3.3 17.6-6.5 10.6-5.2 17.6-11.4 14.1-11.4 17.7-16.9M756.3 420.8l21.2-34 17.6-25.6 17.6-22.7 17.7-19.1 17.6-15.3 14.1-9.2 7.1-3.7 10.5-4.5 14.1-3.6M2060.9 1226.5l21.2 1.9 28.2 1.4 59.9-2.4 35.3-2.8"/>
<path d="M214.7 1218.9l18.6-0.4 14.9-1.4 14.8-2.4 11.2-2.6 14.8-4.9 14.9-6.1 14.9-7.5 14.8-8.9M2083.7 1193.1l14.8-0.4"/>
<path d="M293.8 1086.1l17.2-2.7 10.3-3 10.3-4.2M1081.2 471.3l85.9 119.7 34.4 44.8 24.1 29.3 34.4 38.1 24 23.8 31 27.5 30.9 23.9"/>
<path d="M251.1 1142.6l15.8-2.7 12.7-3.8M519.9 801.6l50.6-102.1 41.1-79 34.8-62.4 18.9-31.6 19-30 31.6-45.5 15.8-20.6 15.8-18.9 19-20.4 12.7-12.3 15.8-13.8 15.8-11.8M1193.4 600.6l47.4 68.4M1250.3 682.1l38 49.5 18.9 22.8 22.2 25.2 18.9 20.4 25.3 25.8 25.3 24.5 25.3 23 31.6 27.6 19 15.5 25.3 19.6 22.1 16 25.3 17.3 25.3 15.8 41.1 22.9"/>
<path d="M1884.6 1090.5l43.6-4.3 23.4-1.7"/>
<path d="M306.9 1096.8l10-1.3M680.5 543.2l40-75.9 30-52.7 13.3-21.3 16.7-24.8 13.4-18.2 10-12.3 13.3-14.8 13.4-12.7 13.3-10.5 10-6.5 10-5.2 13.4-5 13.3-3 13.3-0.8M1491 899l36.7 38.7 50 51 60 58.5 43.4 39.1 23.4 19.1 23.3 17.7 20 13.8 23.4 14.5 20 11 20 9.8 20 8.7 20 7.5 26.7 8.6 23.3 6"/>
<path d="M2068.3 1227.1l21.8 0.9M2097.4 1228.3l21.8-0.1"/>
<path d="M340.9 1038.7l14.4-2.5 11.5-4"/>
<path d="M328.9 923l17.3-0.1 7-0.9 13.8-3.1 10.4-3.4 10.4-4.3 13.9-7.4 10.4-6.5 13.9-10.2 27.7-23.8 24.3-24.4 34.6-38.4 45.1-53M1258 690.6l24.3 34.5 20.8 26.9 24.3 27.9 20.8 21.1 24.2 21.3 24.3 18 24.3 15.3 27.7 14.6"/>
<path d="M153.8 1210.4l26.3 0.2 15.1-1"/>
<path d="M455.7 791.7l17.1-2.6 10.2-2.5 13.7-4.4 13.6-5.5 10.3-4.8 13.6-7.6 13.7-8.6 13.7-9.7"/>
<path d="M932.9 259l10.1-3.6 6.6-1.7 16.8-1.6 16.7 2 10 2.8 6.7 2.8M1581.4 979.9l26.7 27.6 30.1 29 30.1 27.1 30.1 24.8 26.7 20.4 33.4 23 10 5 13.4 3.7"/>
<path d="M299.8 1084.6l9.5-0.2 6.3-0.7 15.7-4M956.9 405.3l22 4.9 25.2 8.4M1859.2 1074.1l47.1-3.9"/>
<path d="M719.6 645.5l29.1-44.2M1441.6 744.5l36.5 23 18.2 12.4 25.6 18.7 36.4 29.1 43.8 37.7 142.2 130.8M2087.1 1192.8l11 0.5"/>
<path d="M419.9 1114.6l16.3-14.2 16.3-16.5 29.4-35.1 32.7-44.3 49-73.1 68.6-108.8 49-81.7 49-87 58.7-109.6M1164.5 408.4l26.2 28.7 35.9 42.2 104.5 131.5 45.7 55.2 42.5 47.6 49 50.9M1968 1136.1l39.2-2.3"/>
<path d="M2000.4 1156l12.8-0.7"/>
<path d="M165.6 1209l30.5 0.1"/>
<path d="M322.3 1189.4l9.7-2.8 13-5 19.4-10.2 22.7-16 16.2-14.2 19.4-20 22.7-27.4 19.5-26.7 22.6-34.3M954 259.8l6.5-3 9.7-3.5 12.9-2.4 9.7-0.3 9.8 1 9.7 2.2 12.9 5 9.8 5 9.7 6.4 9.7 7.6 9.7 8.6 13 13.3 22.6 27.2 26 36.1M1932.2 1122.2l16.2-1.1"/>
<path d="M1963 1128.9l12.9-0.5"/>
<path d="M321.8 1061.8l9.5-0.3 9.5-2M1883.2 1089.1l57-5.7"/>
<path d="M468.3 759.8l13.9-1.7 13.8-2.6 13.8-3.4 10.4-3.3 10.4-3.8 17.3-7.6 24.2-12.7M852.3 462.5l31.1-28.1"/>
<path d="M474.7 818.6l18.9-2.5 25.2-6.2M1271.2 548.8l40.9 42.4 103.9 118 25.2 28.1 25.2 26.8"/>
<path d="M1974.5 1138.2l9.9 0.6"/>
<path d="M363.3 1022.2l13.1-2.1 9.8-3.1M657.2 583.9l52.2-121.1 22.9-49.6 16.3-33 16.3-30.4 16.4-27.3 16.3-23.8 13.1-16.1 16.3-16.6 13-10.2 6.6-4 9.8-4.7 6.5-2.3 9.8-2 6.5-0.6 9.8 0.4 9.8 1.8 6.5 2 6.6 2.5 9.8 4.9 16.3 10.7M1166.5 572.7l22.9 33.4 22.9 31.8 22.8 29.9 16.3 19.6 22.9 25.5 16.3 16.3 19.6 17.8 22.9 18.1M1963.2 1216.8l22.9 3.6 22.8 2.1"/>
<path d="M282.6 1117l15.8-3.3M531.7 781.5l41-76.7 22.1-38.9 18.9-31.4 18.9-29.6 15.8-23 18.9-25.5 18.9-23.3M891.2 426.4l25.2 1.1 22.1 2.5 28.4 5.6 25.2 7.1 25.3 9 28.3 11.9 34.7 17.7 22.1 12.9"/>
<path d="M1723.9 985.6l14.9-0.1 17.9-1.1 89.6-8.3"/>
<path d="M458.1 723.2l6.9 0 10.4-1.4 13.8-2.4 10.3-2.6 17.3-5.4 20.7-8.9 20.7-11.2 20.7-13.8 17.2-13.6 17.3-15.6"/>
<path d="M510.4 614.7l26 4.6 63.6 14.1 23.1 4.1M1880.2 1085.5l20.2-1.2 57.8-5.6 28.9-2.2"/>
<path d="M437.8 755.9l26.4 0 11.7-1.8 20.5-5.3 17.6-7 11.7-5.9 11.7-6.7 14.6-9.8 14.7-10.8 23.4-20.7M827.3 339l23.4-39.7 17.6-27.2 17.6-24.4 17.6-21.2 8.7-9.1 8.8-7.9 14.7-10.6 8.8-4.6 5.8-2.2 5.9-1.8 8.8-1.3 8.7 0.1 5.9 0.8 5.9 1.4 8.7 3.4 14.7 8.8 8.8 7.3 8.8 8.6 17.5 21 14.7 21.4 17.5 29.5 17.6 33.1M1292.9 721.3l14.7 19.5 17.6 21.4 14.6 16.2 20.5 21 26.4 24.2 23.4 19.8 43.9 34.1M1477.4 894.8l44 32.3"/>
<path d="M324.4 1014.9l10.1-0.5 13.3-3.4 10.1-4.3 13.4-7.7 13.4-10.3 13.3-12.5 13.4-14.7 13.4-16.5 23.4-33 20.1-31.5 26.8-44.5 56.9-97.2 30.1-48.9 33.4-50.4 26.8-37.3"/>
<path d="M1537 943.9l58 66.7 25.7 27.8 19.3 19.8 25.8 24.9 22.6 20 22.5 18.5 19.3 14.5 19.4 13.2 22.5 13.3 22.5 11.3 16.2 6.7 22.5 7.3 19.3 4.7 19.4 3.1 19.3 1.2"/>
<path d="M266.9 1143.1l13.3 0M1949.5 1127.1l13.3-0.9"/>
<path d="M282.3 1124.8l9.7-0.4"/>
<path d="M293.2 1090l28.5-0.2M1854.2 1067.8l28.5 6.7 28.5 3.8"/>
<path d="M1062.3 459.4l68 63.3"/>
<path d="M275.6 1117.7l11.1-1.3 11.1-2.6M852.6 465.4l33.2-27.5 25.9-18.4"/>
<path d="M1368.5 667.6l43.8 34.9 51 43.3 43.7 40.1 36.5 36"/>
<path d="M396 875.4l13.5-2.4 20.2-6.1 16.9-7.6 13.5-7.6 16.9-11.6 16.9-13.5 13.5-12.4 16.8-17.5"/>
<path d="M379.1 962.2l12.9-2.3 16.2-5.4 12.9-6.4 12.9-8.2"/>
<path d="M1822.4 1048.6l42.4-5.2 30.3-2.9"/>
<path d="M224.6 1181.2l11.1-0.8"/>
<path d="M1790.8 1031.2l12.4 0.2 12.4-0.9 49.5-6.4 21.7-2.2"/>
<path d="M303.8 1094.8l14.2 0"/>
<path d="M247.1 1161.2l13.7 0M853.3 465.9l27.4-16.8 24-11.5 13.7-5.1 10.3-3 20.5-4 20.6-1 10.2 0.6 13.7 1.8 20.6 5 13.7 4.9 13.7 6.1M1552 831.4l34.3 24.4 30.8 25 34.2 31.1 30.9 31M1976.7 1140.9l20.6-1.4"/>
<path d="M264.4 1120.7l29.1-0.1"/>
<path d="M449.8 856.5l17.1-4.3 14.3-5.9 11.4-6.1 14.3-9.4"/>
<path d="M382.2 1008.9l13.3-2.2"/>
<path d="M705.9 668.2l18.1-24.5 21.8-32.2 32.6-53.4"/>
<path d="M283.2 1127.3l9.8 0"/>
<path d="M421.6 906.2l13.8-4.6 13.8-6.7 11-6.9 16.6-13.1M1790 1027.9l24.8 4.9 16.6 2.3"/>
<path d="M193.7 1197.7l24.7 0"/>
<path d="M801.6 531.1l35.7-42 17.9-19.2 21.4-20.7 17.9-15.5 14.2-10.9 17.9-11.8 14.3-7.7M1351.5 647.6l85.7 71.3 53.6 47.2 46.4 44 46.4 47.6M2126.3 1207.3l14.3 0.3"/>
<path d="M226 1168.9l6.2-0.4 9.2-1.7 9.3-2.3 9.3-3.2M501.3 832.8l40.3-74.8 37.1-64.6 34-53.7 21.7-31.5 12.4-16.8M922.2 409.5l21.6-0.4 21.7 1.4 15.4 2.1 21.7 4.7"/>
<path d="M1414.9 841.7l22.1 22.2 25.4 21.3 25.3 17.8 28.5 16.7"/>
<path d="M1864.3 1077.6l23.2-1.7 56.4-6.5 29.9-2.8"/>
<path d="M184.1 1202.8l14.9 0 11.2-0.6"/>
<path d="M401.5 957.3l3-0.3 9.1-2.6 12.1-5"/>
<path d="M893.2 290.2l21.5-32.2 12.3-16.3 9.2-11.1 9.3-10.1 9.2-8.9 9.2-7.6 9.3-6.4 9.2-5.1 9.2-3.9 9.2-2.2 6.2-0.6 9.2 0.2 9.3 1.7 9.2 3.2 9.2 4.7 9.3 6.1 9.2 7.5 9.2 8.7 9.2 10.2 18.5 24.1 18.5 28.6 21.5 38.2 18.5 36.3 24.6 51 36.9 79.4"/>
<path d="M432 835.3l11.8-0.2 5.9-1.3 11.9-3.7 14.8-6 14.8-8 11.8-7.6 14.8-11.2 11.9-10.2"/>
<path d="M322 1070.9l9.7-1.4M1195.4 602.7l19.4 26 16.2 20.1"/>
<path d="M313.7 1065.2l10.9-1.4 7.2-1.6M800.7 529.5l21.8-24.8 21.8-23.6 18.2-18.3 18.2-16.7 14.5-12.2 18.2-12.9 18.2-10.3 14.5-6.2M2087.4 1194.3l83.6-2.9"/>
<path d="M444.1 775.5l18-3.3 15-3.6 18-5.6 18-6.9 18-8.5 11.9-6.4 15-9 15-10.2"/>
<path d="M235.3 1174.7l10.6-1"/>
<path d="M2153.4 1226.7l37.7-0.9 60.3-3.4"/>
<path d="M225.1 1169.4l22.8 0M1934.2 1212.3l34.2 6.1 41.8 4.1"/>
<path d="M1226.9 491.1l30.2 33.6M1263.1 531.7l36.3 44.2 81.5 103.5"/>
<path d="M1579.1 855.2l20.4 12.2 23.8 15.5 23.8 17 20.4 16 20.4 17.2 23.8 21.6 23.8 23 33.9 34.5M1983.5 1148.8l30.6-2.4"/>
<path d="M335.9 1013.2l14.3-2.7 10.6-3.6 7.2-3.2 14.2-8.4 14.3-10.7M542.5 773.3l21.4-38.4M645.8 594.3l32-49.4M1297.6 726.3l39.2 46.8 46.3 51.7 35.6 36.5 28.5 26.6 17.8 15.1 21.4 17 28.5 20.2 32 19.6 28.5 15.1M2123.9 1206.6l32.1 1.5"/>
<path d="M1810.8 1040.4l67.4-5.6"/>
<path d="M738 451.2l21.5-43.3 18.4-34.9 18.5-32.5 15.3-24.9 18.5-26.4 15.3-19 15.4-16.1 15.4-12.7 15.3-9.6 9.2-4 6.2-1.9 6.1-1.4 9.3-0.9 9.2 0.3 6.1 0.9 6.2 1.5 9.2 3.3 15.4 8.5 15.3 11.7 15.4 14.9"/>
<path d="M363.9 979.8l27.8-0.2 10.4-2 7-2.2M2125.1 1227.8l17.4-0.4"/>
<path d="M289.7 1114.4l10.7-0.9"/>
<path d="M731.8 462.2l16.8-35.4 20.1-39.8 20.1-36.3 20.1-32.5 16.7-23.7 13.4-16.5 16.8-17.6 16.7-13.9 16.8-10.3 6.7-3 10-3.3 6.7-1.7 10.1-1.3 6.7-0.1 10 0.9 10.1 2.2 6.7 2.1 16.7 7.5 16.8 10.6 16.7 13.7"/>
<path d="M1845.8 1060.2l26.5 5 20.6 1.9"/>
<path d="M237.8 1172.1l10.6 0M896.3 424.3l17.7 0.7 21.2 2.4 28.3 4.9 21.3 4.6 42.4 11.8 24.8 8.5 21.3 8.2"/>
<path d="M265.3 1135.3l12.6 0M1860 1072.8l15.8-0.9"/>
<path d="M270.9 1114.8l19.4-2.9 6.4-1.7 12.9-4.9M619.3 637.2l22.6-37M922.5 411.6l19.4 3.7 25.8 7.4 22.6 8.8 25.8 12.3 25.8 14.4 29 18.6 29 20.8 29.1 22.8M1883.8 1088.8l35.5-3.1"/>
<path d="M378.1 1016.5l10.2 0"/>
<path d="M348.8 956.4l19.6 0 6.5-0.7 13-3 16.3-6.2 16.2-8.8 13.1-8.8 16.2-13.4 13-12.2"/>
<path d="M298.6 1084.9l13.9-0.6 10.4-2 7-2.1"/>
<path d="M657.1 578.4l24-40.9 27.5-42.3M1103.4 494.3l34.3 43.6M1144.6 546.7l51.5 64.2 13.7 16.1 24 26.5"/>
<path d="M351.7 986.4l29.1 0 9.6-1.7 12.9-4.2"/>
<path d="M406.9 895.6l20.8 0 13.9-2.5 7-2.2 10.4-4.3 17.4-9.8M886.5 432.1l20.9-5.8 17.4-3.4 17.4-1.8 17.3-0.3 17.4 1.2 17.4 2.9 17.4 4.2 20.8 7"/>
<path d="M305.8 1040.4l10.9-1.6 10.9-3 10.8-4.7 14.5-8.6 14.5-11.3 10.8-10.1 14.5-15.4 10.9-12.9 21.7-28.7 25.3-37.3 25.4-40.1 65.2-106.3 25.3-38.8 18.1-26.4"/>
<path d="M1977.8 1139.4l16 1.6"/>
<path d="M348.4 992.6l14-2 17.6-6 14-7.5 17.6-12.6"/>
<path d="M377.4 940.6l21.1-0.1 14.1-2.6 14-4.6 21.1-10.5M2144.2 1210l28.1 0.8"/>
<path d="M437.3 842l22.1 0 12.6-2.4 19-6.9 18.9-10.6M920.6 415.7l19-3.3 15.8-1.5 18.9-0.5 19 1.2M1950.5 1126.4l12.7 0.3 12.6-0.6 75.8-5.7"/>
<path d="M237.6 1163.5l10.4-0.4 13.9-2.4M970.2 404.6l13.9 5.6 20.9 10.8 17.3 11.1 24.3 18.3 20.9 18 20.8 19.5 55.6 56.9"/>
<path d="M1693.5 956.9l35.8 13.2 20.8 6.4 23.9 6.1 17.8 4 26.9 4.6 47.6 5.9"/>
<path d="M209.6 1152.2l25 0 14.2-1.7 14.2-3.7 17.8-7.7M544.3 768.4l21.4-36.6M672.5 553.3l60.5-98.4 24.9-37.9 17.8-25.2 21.4-27.7 17.8-20.3 21.4-20.6 14.2-10.8M1167.4 570.8l49.8 71.8 42.8 56.6 35.6 43.2 24.9 28.1 24.9 26.1 21.4 21 24.9 22.7 21.4 18.1 24.9 20 24.9 18.7 28.5 19.9 53.4 34.4"/>
<path d="M274.4 1149.4l9.5-0.1M853 456.6l25.3-15.4 25.3-14.3 25.3-13.4 19-8.8"/>
<path d="M308.2 1083.1l20.9 0"/>
<path d="M311.5 1078.2l10.2-0.2 10.2-1.7M1976 1142.8l67.8-4.1"/>
<path d="M341.9 1035.1l11.9 0 11.9-1.7"/>
<path d="M1783.6 1025.8l18 3.6 15 1.9"/>
<path d="M2111.4 1197.1l37.2-0.7"/>
<path d="M1160.1 402.5l20.9 23.7 20.9 26.6 24.4 33.9 27.9 41.5"/>
<path d="M1374.4 810.7l18.3 17 18.2 15.5 14.6 11.3 21.9 15.2"/>
<path d="M1763.8 1011.5l54.2 4.5"/>
<path d="M734.1 457.8l34-64.3 13.5-23.4 17-27.1 13.6-19.5 16.9-21.6 10.2-11.3 13.6-12.8 13.6-10.5 13.5-7.8 13.6-5.5 13.6-2.9 13.6-0.5 13.5 1.9 13.6 4.3 13.6 6.4M1317.8 748.3l30.5 39.9 33.9 39.9 27.2 28.5 33.9 32 33.9 28.5 44.2 33 20.3 14 30.6 19.8 44.1 26.4"/>
<path d="M194.9 1194.2l15-1.4 11.3-2.3M1146.1 546.9l56.4 75 22.6 27.9 18.8 22"/>
<path d="M373.2 983.3l29.5-0.5"/>
<path d="M852.6 466.3l18.8-13.2 15-9.5 18.7-10.3 15-7 18.7-7.1 22.5-6.5 18.8-3.7 15-1.6M2130.8 1208.9l22.5 0.7"/>
<path d="M1905.8 1095.1l25.9 4.4 29.3 2.9"/>
<path d="M1931.4 1118.1l9.8-0.4"/>
<path d="M378.4 1150.1l14-7.7 14.1-9.5 14.1-11.5 14-13.3 14.1-14.9 14-16.6 17.6-22.8 14.1-19.9 28.1-43.8 31.6-53.1 98.4-177 45.7-79.1M2012.6 1165l21.1-0.6 94.8-4.7"/>
<path d="M662.7 735.1l69.2-88 79.5-102.6 24.2-30.4 20.8-24.8 27.6-30.5 24.2-23.6 20.8-17.3 10.3-7.4 13.9-8.7M1350.8 644.7l27.6 26.8 27.7 25.4 48.4 41.8 55.3 46.5 45 39.6 44.9 42.9 34.6 34.9"/>
<path d="M880.4 292l13.3-11.4 16.6-11.6M933.7 257.1l13.3-3.7 10-1.4 6.6-0.2 13.4 1.4 16.6 5.1M1689.7 1066.5l30 23.4"/>
<path d="M1286.4 718.3l14 16.5 17.6 18.7 14 13.3 10.5 8.9"/>
<path d="M296.2 1105.4l14.2-2.6M2074.2 1187.8l39.1 1.8"/>
<path d="M328.2 1035.7l27.2 0 10.2-1.1"/>
<path d="M355.4 1032.2l13.2-2M963.7 264.9l9.9-3.7 10-2.2M993.5 258l9.9 0.5 9.9 1.9M1019.9 262.3l13.3 6.1 13.2 8.3 13.2 10.7 9.9 9.8M1691.1 1067.3l29.7 23.5"/>
<path d="M320.7 1054.3l6.9-0.8 10.5-2.5 10.4-4 10.5-5.3M536.5 778.4l31.3-61.9 31.4-60.1 24.3-44.1 20.9-35.4 24.4-37.7 20.9-29.1 20.9-26 24.3-26.5M978.6 406.9l20.9 10.5 20.9 12.6M1051.7 452.7l14 11.4 24.3 21.7 38.3 38.5"/>
<path d="M306.3 1061.6l21.7-0.1 14.4-2.4"/>
<path d="M310.9 1195.6l18.4-6 18.4-8.1 18.4-10.5 15.3-10.5 18.4-14.6 18.4-17 18.4-19.3 18.4-21.2 27.6-35.7 27.6-38.8 42.9-64.5 92-143.1 39.9-59.7 67.4-98.1 55.2-76.9 43-57 21.4-26.7 18.4-21.6 18.4-19.9 15.4-15.4 15.3-13.8 18.4-14.3M1190.9 441.9l36.8 34.7 42.9 45.3 21.5 24.1 73.6 85.9 36.8 41.8 36.8 39.3 18.4 18.3 30.6 28.5 33.8 28.5 36.8 29.2 61.3 47.3 36.8 30 36.8 32.6 42.9 40.1 6.1 4.1 9.2 3.7 6.2 1.4 9.2 0.7 18.4-1 55.2-6.5"/>
<path d="M461.4 1066.7l19.8-20.9 16.4-20.9 19.8-28.1 23-36.4 19.7-33.3 26.3-46.5 46.1-84.6 42.7-80.8M902.1 278.4l19.8-25.3 16.4-17 9.9-8.5 6.6-4.7 6.5-4.1 9.9-5 9.9-3.1 6.5-1.4 13.2-0.3 9.9 1.5 6.5 1.9 9.9 4.2 6.6 3.6 6.6 4.2 9.8 7.6 16.5 15.4 16.4 19.1 19.8 26.6 16.4 25.1 19.7 32.9 26.3 47.2 26.4 49.2M2033.5 1177.3l42.7-2.5"/>
<path d="M2064.1 1226.7l43.2 2.4 50.2-1.2"/>
<path d="M2104.5 1228.1l32.8 0.6 43.7-1.1"/>
<path d="M489.6 720.4l15.5-2.9 12.4-3.2 18.6-6.5 15.5-7 12.4-6.8 15.6-9.9 12.4-9.2 12.4-10.2"/>
<path d="M232.7 1174.4l14.6-1.3"/>
<path d="M206 1168.3l19-0.9 19-3.8 11.5-3.9 11.4-4.8 19-10.7M533.3 779.3l49.5-89.2 45.7-76.6 38.1-58.4 22.8-32 19-24.8M967.3 402.4l19 9.9 22.9 14 19 13.2 22.8 17.8 22.9 19.6 19 17.5 22.9 22.5 30.4 31.8"/>
<path d="M391.8 895.1l14.4-0.2 10.7-1.5 10.8-2.7 14.4-5.6 14.4-7.7 14.4-9.7 10.8-8.5 14.4-13.1"/>
<path d="M1866.7 1083l15.9-1.2"/>
<path d="M322 1062.4l18.7-0.6M2124.3 1228l18.6 0.3 30-0.6 59.8-4.2"/>
<path d="M712.1 658.8l52.1-68.1 88.9-119.7 30.6-39.9M1168.7 415.2l30.7 34.8 33.7 41.7 30.6 40.8 33.7 47.6M1775.5 1020.8l91.9-6.4"/>
<path d="M343.1 1041.7l10.5-1.5"/>
<path d="M269.9 1127.4l23.1 0M1936.1 1124.8l16.5-1.1"/>
<path d="M1203.3 458.8l20 25 31.5 42.1"/>
<path d="M923.6 409.9l20.8-3.3M1589.9 863.5l20.9 16.1 41.6 34.5 86.8 76.7M2013.3 1170l20.9 3.8 17.3 1.7"/>
<path d="M956.8 261.3l12.8-1.2 12.7 0.8"/>
<path d="M1041.9 278.6l13.1 4.7 9.7 4.6 13 7.6 13.1 8.9 13 10.4 13 11.8 26.1 27.9 22.7 28.6 26.1 36.3 26 39.5 45.6 73.3"/>
<path d="M368.2 994.5l15.8-2.6 12.7-4.3M1973.6 1136.1l12.7-0.8"/>
<path d="M1801.2 1038.5l53.8-5.5"/>
<path d="M275.1 1146.8l11.1-1M2113.7 1197.8l47.9-1"/>
<path d="M2154.5 1227.3l21.7-0.4 39.9-2.3"/>
<path d="M174.8 1209.3l22.7 0"/>
<path d="M272.7 1111.3l24.7 0 9.2-0.8M1718.1 982.1l12.3 0.2 18.5-1.2 67.8-8.4 30.8-2.9"/>
<path d="M1829 1042.7l16 2.6 12.7 1.3"/>
<path d="M1460.3 882.9l24.3 22.1 24.3 20.3 24.3 18.9 24.3 17.8M2043.1 1182.6l62.4-2.3"/>
<path d="M205.7 1175.6l22.3-1.7 18.6-3.8M957.1 406.5l22.3 3 14.9 3.9"/>
<path d="M922.2 410.4l10.2-2.5 10.2-1.4M956.2 406.1l10.2 0.9 13.6 2.6 10.2 2.9 13.6 5.5M1868.3 1080.5l13.6 3.4 17 0.9 78.3-5.3"/>
<path d="M249.3 1156.1l13.8-1.8 10.3-2.6 10.3-3.6"/>
<path d="M322.6 1063.5l13.9 0"/>
<path d="M349.2 1019.5l23.9 0 11.9-2.7M1859.7 1070.9l14.9 1"/>
<path d="M1074.2 303.5l14.6 8.5 10.9 7.7 21.8 18.4 21.9 21.7 14.6 16.2 18.2 21.6 25.4 32.5 32.8 44.2 105.6 147.9 51 70.1M2170.1 1226.3l21.9-1.3"/>
<path d="M1786.3 1142.6l23.1 16.4 29.8 17.8 26.4 12.7 29.7 11.1"/>
<path d="M861.7 302.6l17.6-20.6 10.6-10.4 7.1-6 14.1-9.8 7.1-3.7 10.5-4.1 7.1-1.7 10.6-1.1 10.6 0.6 7 1.3 14.1 4.9 17.7 9.6M1800.3 1149.3l28.2 21.7 14.1 9.5 17.6 10.4 17.7 8.9 17.6 7.6 24.7 8.1 10.6 2.5 21.2 3.2 31.7 3.5 60 3.7 49.4 1.3"/>
<path d="M226 1175l19.3-0.2M2121.9 1205.3l77.2-2.7"/>
<path d="M368.6 994.1l10.1-1.7 16.7-5.2"/>
<path d="M708.3 497.8l20.2-44.6 23.6-49.3 16.8-32.6 16.9-29.9 16.8-26.5 16.9-23 16.8-19.1 13.5-12.5 13.5-9.9 10.1-5.7 6.8-2.9 16.8-4.8 6.8-0.9 10.1-0.5 16.8 2.3 16.9 5.4 16.8 8 20.3 13.3M1631.8 1025.3l30.4 28.2 26.9 22.3 33.7 24.7 30.4 19.9M1982.4 1219.4l26.9 3.5M2043 1225.9l43.9 2.2M2097 1228.3l20.2 0M2127.3 1228.1l13.5-0.4"/>
<path d="M408.8 961.4l13.6-2.9M1702.2 962.8l64.7 43.5 78.3 56.1M2012 1165l34 13.1 34.1 9.4 17 3.6 17 2.7 34 2.9"/>
<path d="M262.7 1114.2l26.1 0 9.8-1.4"/>
<path d="M2229.2 1220.1l11.4-0.9"/>
<path d="M830.2 333.7l18.8-25.5 18.9-21.1 9.4-8.7 9.4-7.5 9.4-6.3 9.4-4.9 15.7-5.5 9.4-1.5 9.4-0.2 9.4 1 9.4 2.2 12.6 4.8 9.4 4.8"/>
<path d="M392.1 948.1l10.4-1.9 10.4-3.2 6.9-2.7 13.9-7.5"/>
<path d="M868.7 298.1l12.5-15.4 12.4-13.6 12.5-11.7 9.3-7.4 12.5-7.8 9.3-4.4 9.4-3 9.3-1.5 9.4-0.3 9.3 1.1 12.5 3.7 9.3 4.7 9.4 5.8 12.4 9.8 9.4 8.9 12.4 13.9"/>
<path d="M165.6 1216.4l27.9 1.2"/>
<path d="M272.4 1129l18.6 0"/>
<path d="M409.6 882.8l19.9-3.4 8.6-2.5 17.1-6.7 17.1-8.8 22.8-14.8M1820.3 1050.7l45.6-5.2"/>
<path d="M293.1 1073l20.4-0.3 10.2-1.9 10.2-3.3M927.8 406.3l17 2.4 20.4 5.4 20.3 7.6 20.4 9.6 23.8 13.1 23.7 15.1 30.6 21.6 20.3 15.4"/>
<path d="M748 602l19.5-26.8M825.9 497.3l29.3-36 26-28.6M1433.4 731.9l35.8 33.1M1976 1137.7l35.7-3.4 29.2-1.9"/>
<path d="M490.3 729.4l33.5 6.6 40.3 9.5M651.3 747.7l6.7-4.4 6.7-5.9 10.1-12.3 6.7-10.9 20.1-37"/>
<path d="M905.4 420.4l13.8-2.4 17.2-1.8 27.5 0.2 27.5 3.7 13.7 3.2 13.8 4.1M2012.4 1172.8l61.9-4.2"/>
<path d="M283.1 1119.2l9.5-0.7"/>
<path d="M459.9 761.1l25.5 0 22.3-5 16-4.9 12.7-4.8 12.8-5.7 12.7-6.7M2042.2 1178.1l22.3 3 25.6 1.9"/>
<path d="M445 747.5l20-0.1 13.2-1.6 16.6-3.5 16.6-5.3 19.9-8.7 16.6-9.1 19.9-13.2 23.2-18M2080.9 1188.9l59.7-2.2"/>
<path d="M785.6 386.6l18.2-30.8 18.3-27 18.2-22.4 9.2-9.5 9.1-8.3 15.2-11.4 6.1-3.5 12.2-5.5 6.1-2 9.1-2 9.1-0.7 9.2 0.2"/>
<path d="M1018 271.3l16.1 3.7 12.9 5.2 12.9 7.3 12.9 9.6 16.1 14.4 16.1 16.9 12.9 15.4 19.3 25.6"/>
<path d="M908.1 420l14.6-1.1 18.3 0.6 18.3 2.4 18.3 3.8 22 6.4 18.3 6.4 18.3 7.5 18.3 8.3M1431.6 730.9l40.3 35"/>
<path d="M498.2 709.9l30.5-6 15.3-4.6 12.2-4.5 12.2-5.2 15.2-7.9 18.3-11.4M861.2 301.9l15.3-17.2 18.3-16.6 9.1-6.5 9.2-5.4 12.2-5.1 6.1-1.7 9.1-1.5 6.1-0.4 9.2 0.7 9.1 1.8 9.2 2.8 15.2 7"/>
<path d="M937 263.6l13.7-5.4 13.7-2.9 13.8-0.3 13.7 2.2"/>
<path d="M856.8 464.1l29.3-24.6 29.3-20.9M921.9 414.4l19.5-11M1947.8 1126.1l71.7-6.4 26-1.8"/>
<path d="M281.7 1203.5l13-0.3 16.2-2.3 19.4-5.3 16.2-6.6 16.2-8.6 16.1-10.6 13-10.2 16.2-14.8 12.9-13.4 16.2-19 16.2-20.9 12.9-18.2 32.4-50.7 32.4-56.1M864.4 306.8l19.4-35.1 16.2-26 16.2-22.3 9.7-11.7 6.5-6.7 6.5-6 9.7-7.5 9.7-5.7 6.5-2.7 6.4-1.9 6.5-0.9 9.7 0.2 6.5 1.2 9.7 3.4 6.5 3.2 12.9 9.1 16.2 15.5 16.2 19.7 16.2 23.1 16.2 25.8 19.4 33.1 32.4 58M1803.2 1152.5l9.7 6.2 9.7 3.6"/>
<path d="M373.4 751.1l22.5 0 7.5-0.7 18.8-3.6 15-4.4 18.7-7.9 18.8-9.8 18.7-11.8 15-11 15-12.1 18.8-16.8 30-29.8 33.8-36.5 67.5-76.6 22.5-24.2 22.5-22.8M921.1 409.6l22.5 9.9 11.3 6.2 15 9.4 26.2 19.7 30 26.6 22.5 22.2 30.1 31.9 86.2 98 33.8 37.2 45 46.2 30 27.9 33.8 27.8 26.2 18.9 33.8 21.3 37.5 20.1M2151.5 1226.7l30.1-0.9 60-4.8 48.7-2.5"/>
<path d="M2123.1 1198.5l36.4 1.1"/>
<path d="M1818.4 1048.1l6.8 2.3 10 2.3 10.1 1.3 13.5 0.4 23.5-1.1 70.7-5.8"/>
<path d="M1311.4 599.9l26.9 22.9 30.3 27 43.7 42.8 36.9 40.1 47.1 55.9"/>
<path d="M1431.2 731.2l38.8 34.1M2126.2 1228.4l46.6-0.6 66-4.8"/>
<path d="M1696.5 1068l19.7 18.3M1795.1 1148l19.7 12.7 29.5 16.4"/>
<path d="M2124.2 1205.9l10.7 0.4"/>
<path d="M772.9 400.6l17.9-25 17.9-22 14.3-15.4 17.9-15.9"/>
<path d="M1845.6 1059.5l24.7 2.8"/>
<path d="M413.3 747.8l22.5 0 12.9-1.9 25.7-5.9 25.7-8 25.7-11 22.5-11.4 22.5-13.4 25.7-17.8M1412.8 841.7l12.8 11.1 19.3 15.3M2013.7 1167l22.5 3 19.3 1.3"/>
<path d="M1269.7 703.7l25.1 31 25.1 27.3 25.1 23.6 25.1 20.4"/>
<path d="M1846.3 1060.8l40.3-4.4 18.5-1.5"/>
<path d="M345.8 985.4l13.7-2.1 13.6-4.6 13.6-6.8 13.7-9.1 17-13.9 13.7-13.2 17-18.4 13.7-16.7"/>
<path d="M224.5 1150.9l14.1-0.7 14.2-3 14.1-4.8 14.2-6.9M475.5 875.5l67.2-120.6 49.5-83.6 21.2-33.7 28.3-43.3 28.3-41.1 24.7-34.2M1062.4 457.5l31.9 40.9 84.8 113 17.7 22.4 28.3 33.3 31.8 34.6 28.3 27.6 31.8 27.7 31.8 24.1"/>
<path d="M259.2 1137.8l20.5 0M1929.2 1119.5l51.4-4 27.4-1.5"/>
<path d="M957.9 259.1l13.2-3.7 13.2-1.5 6.6 0.2 9.8 1.2 13.2 3.6 13.1 5.6 16.5 9.9 13.2 10 13.1 11.8M1083 309.8l16.4 19.1 23.1 30.4"/>
<path d="M473.5 692.7l13.4 0.2 20.1 2.6 77.1 12.8M2149.6 1211.8l36.9 1"/>
<path d="M325.6 998.2l24.1-0.2 9-1.5 9-2.6 12-4.7 9-4.7 12-7.5 9-6.7M1763.8 1010.5l96.1-9.5"/>
<path d="M433.9 929.3l8.8-1.7M694.7 688.6l52.8-67.1 41-49.6 41-47.3 29.3-31.2 32.3-31.1 17.6-15.3 14.6-11.8 11.7-8.7 14.7-9.6 26.4-14.3M1597.3 870.7l64.5 49.7 46.9 37.2 99.6 80.9M1820.1 1045.5l5.8 2.1 8.8 1.8 17.6 0.8 17.6-1.1 61.5-6.4"/>
<path d="M1801.3 1033.8l69.1-7.3"/>
<path d="M252.5 1117.7l16.2-0.2 9.7-1.6 16.3-4.6 13-5.7M655.2 579.8l22.7-36.2 26-38.2M1486.6 894.2l39 44.9 35.7 38.2 29.3 28.6 29.2 25.7 29.2 22.7 32.5 21.8 26 15.3 35.7 17.9"/>
<path d="M406.4 867.6l13.1-2.6 16.3-4.7 16.4-6.9 9.8-5 13-7.7 16.3-11.2 13.1-10.4 16.3-14.3M919.1 415.8l22.8-1.3 13.1 0.3 16.3 1.7 26.1 5.3 19.6 5.9"/>
<path d="M242.7 1220.6l19.9 0 19.9-1.9 16.6-3.3 16.5-5 13.3-5.2 19.9-10.3 16.6-10.7 16.5-12.8 16.6-15.3 16.6-17.5 16.5-19.6 13.3-17.4 16.6-23.6 16.5-25.6 19.9-33 16.6-29.2M1150.8 388.6l19.9 23.3 29.8 37.7 92.8 123.2 36.5 46.6"/>
<path d="M429 874.8l10.1-0.1 16.7-2.9 16.8-5.2 16.7-7.4M1316.5 605.2l103.8 103.7 90.4 89.1"/>
<path d="M195.6 1195.3l17.7-0.1 7-0.6M523.5 793.8l31.7-63 28.2-53.1 28.2-49.9 24.7-40.5 24.6-37.8 24.7-35 28.2-36.2 28.2-32.2"/>
<path d="M411.9 917.1l9.8-1.7 13-3.8 13.1-5.5 9.8-5.2M2056.3 1183.1l26.1-1"/>
<path d="M275.7 1207.3l24.7-7.6"/>
<path d="M2006.8 1159.1l9.9-0.3"/>
<path d="M479.1 686.8l25.7 0 6.4-0.7 16.1-3 19.2-5.3 16.1-5.8 16-7.2 16.1-8.3 22.4-13M2087 1191.8l32 1.8"/>
<path d="M1840.3 1057.9l39.9-3.8"/>
<path d="M381.8 981.1l22.8 0"/>
<path d="M1349.7 642.2l32.8 39.9M2102.3 1195.5l43.9-1.6"/>
<path d="M424.3 898l9.3-0.1 12.5-2.4 12.5-4 12.4-5.9"/>
<path d="M312.3 1087.6l10.3 0"/>
<path d="M815.5 509.2l26.4-20.4 29.4-20.6 23.5-14.9 23.5-13.1 20.6-9.6 23.5-8.7 20.6-5.4 20.5-3.4M1270.9 548.6l29.3 29.1 35.3 36.6 158.6 169.5M1820.3 1048l41.1-5.3 29.4-2.8"/>
<path d="M1550.3 955.2l21.4 20.7 14.3 12.9 17.9 15.2 21.4 16.8"/>
<path d="M382.3 955l26-0.1 11.2-1.3 7.4-1.5M713.2 654.8l78.1-105 37.2-48.5 18.6-23 18.6-21.7 14.9-16.3 18.6-18.5M1207.8 466l37.2 40.3 37.2 43.6 137.6 169.4M2226.8 1220.4l55.7-3.1"/>
<path d="M2012.5 1162.6l27.9 7.9 24.4 5.2 27.8 4 31.3 2.1"/>
<path d="M2010.4 1223.2l32.8 4 32.7 2.1 32.8 0.4 61.9-2.7"/>
<path d="M175.3 1216l17.8 0.9M225.2 1217.4l17.8-0.7 14.2-1.7 14.3-2.9 14.2-4.1 14.2-5.3 14.3-6.4 14.2-7.6 14.3-9"/>
<path d="M253.6 1149.4l15.1-1 19-4.2M851.1 454.8l30.3-12.7 22.7-7.4 15.1-3.8 15.1-2.8 22.7-2.4 22.7 0.3 22.7 3.4 22.7 6.5 18.9 7.9M2144.4 1227.5l41.6-0.8"/>
<path d="M486.9 760.7l26.8 5.4 29.8 7M1267.4 542.2l65.6 75.6 32.8 39.4 35.7 44.8"/>
<path d="M350.2 1026.2l23.3-0.2"/>
<path d="M1864.8 1080.7l74.5-8.1 25.9-2.1"/>
<path d="M149.9 1192.5l40.3-0.5 16.8-1.4 13.4-2M1829.2 1043.3l37-4.6"/>
<path d="M1963.8 1131.5l16.3 2.7 16.3 1.6"/>
<path d="M348.5 1172.7l12.9-5.3 16-9.1 16-11.6 12.9-11.3 12.8-13 16-18.6 16-21.2 16.1-23.2M935.3 261.2l9.6-3.7 6.5-1.8 9.6-1.7 9.6-0.7 16 1.4 16.1 4.8M1018.7 267.2l9.6 6.1 9.6 7.2M1910.1 1109.4l32.1-2.5"/>
<path d="M481.8 1040.6l20.2-25.8 23.5-33.7 20.1-31.2 26.9-44.3 57.2-100.3 67.2-124.2M1224.4 489.8l43.7 40.5 33.6 32.5 80.7 80.6 57.1 58.1 63.8 68.7 67.2 77.7"/>
<path d="M338.5 1055.9l10.3 0"/>
<path d="M278.8 1116.5l16.5 0M758.4 420.2l22.9-34.5 23-29.7 13.2-14.6 9.8-9.9 13.2-11.8 9.8-7.7M1402.1 833.1l29.5 28 32.9 28.4 36.1 28.2 36.1 25.8M1911.1 1110.2l46-3.3"/>
<path d="M1946.3 1127.2l60.2-4.3"/>
<path d="M1976.5 1144.8l13.9-0.8"/>
<path d="M239.7 1213.9l19.3-2.3 19.3-4 15.4-4.7 15.4-6.1M2124.6 1207.8l57.8 1.2"/>
<path d="M1888 1090.9l14.6-0.9"/>
<path d="M417.6 892.7l29.5-0.2 11.8-2.6 11.9-4.4M851.9 458.2l26.6-24.7M1138.5 372.9l23.7 16.9 23.6 20.9 26.6 28 23.6 28.8 26.6 35.8 26.6 38.9 85.7 133.9"/>
<path d="M1861.1 1072.9l42.1-4.1"/>
<path d="M229.7 1158.8l26.9-0.2 10.1-1.2M1480.3 892.8l20.3 15.6M1905.1 1104.4l23.6 3 23.6 1.6"/>
<path d="M694.4 689l38.7-51.2 35.1-49.2 31.6-46.9 70.2-107.2"/>
<path d="M281.7 1119.7l10.4 0"/>
<path d="M2124 1208.3l14.4-0.2"/>
<path d="M773.6 400l25-40.5 21.4-30.7 21.4-26.3 10.8-11.2 10.7-9.7 10.7-8.2 10.7-6.6 7.2-3.5 10.7-3.8 10.7-2 7.2-0.4 7.1 0.3 10.7 1.9M2124.2 1227.8l25-0.6"/>
<path d="M246.8 1136.6l10.5-1.3 10.4-2.3 10.5-3.3 10.5-4.4M850.7 462.4l21-11.9 20.9-10.3 24.4-9.8 17.5-5.6 20.9-4.4 14-1.5 17.5-0.3 17.4 1.3"/>
<path d="M335.6 999.8l10.3 0 10.4-1.4 6.8-1.8 10.3-4.4 10.4-5.9 10.3-7.3 10.3-8.9 10.3-10.4M442.2 926.1l20.6-30.1M531.6 781.5l58.4-98.3M621 634.3l20.6-31.4M1545.8 951.4l58.4 65 27.5 28.4 20.6 20 20.7 18.8 20.6 17.3 27.5 21.2 20.6 14.1 27.5 17 24.1 12.9 24.1 11.2 24 9.7 31 10.6 24 6.9 27.5 6.4 20.7 3.1"/>
<path d="M500.2 658.2l17.5 0.3 84.8 16.1"/>
<path d="M1083.9 311.2l14.7 13.7 11.8 12.6 14.8 17.6 11.8 15.7"/>
<path d="M292.2 1023.3l27.6 0 6.9-0.7 13.8-3.5 13.8-5.9 13.8-8.4 17.3-13.7 13.8-13.5 13.8-15.3M437.1 931.6l24.2-34.5M1317.1 748.3l48.3 57.9 55.2 60.9 48.3 49 31.1 29.3 27.6 24.1 24.1 19.9 20.7 15.6 20.7 14.5 24.2 15.4 17.2 10 27.6 14.3 24.2 11.3 31.1 12.4M2014.1 1164.2l41.4-1.7"/>
<path d="M501.9 1009.3l35.9-50.4 42.5-62.1 49-73.6 42.5-66.2 22.8-37.6 39.3-67.3 71.8-129.6M1315.5 603.4l32.6 31.5 26.2 23.9 91.5 79 35.9 32.9 45.8 45.2 29.4 31.5 22.8 25.8"/>
<path d="M370 933.3l13.4-1.9 13.4-3.8 13.3-5.4 13.4-6.9 16.7-11.1 13.3-10.3 13.4-11.4 16.7-15.8"/>
<path d="M1745.8 998.2l24.2-0.2 72.5-6.3"/>
<path d="M312.5 1070.9l10.3-0.2 10.3-1.9M1477.8 891.3l17.2 15.4 27.5 23.1"/>
<path d="M782.6 392.3l14.7-25.1 14.7-23.4 11.1-16.1 14.7-19.7 11-13.3 11.1-11.8 14.7-13.3 11-8.2 11.1-6.5 14.7-6.3 11-2.8 14.8-1.2 11 1 14.7 3.7 14.7 6.2 11.1 6.5M1971.2 1217.9l22.1 3"/>
<path d="M434.8 892.4l6.5 0 13.1-2.3 19.5-6.3"/>
<path d="M818.8 345.5l13.6-17.7 13.7-16 13.7-14.2 13.7-12.2 13.6-9.8 13.7-7.7 13.7-5.2 13.7-2.7M935 259.6l10.3 0.7 10.2 2.1M1181.2 585.9l23.9 41.4 24 37.6 20.5 28.8 20.5 25.4 20.5 21.9 24 21.7 23.9 17.9 23.9 15M1964.3 1128.2l10.2-0.6"/>
<path d="M1376.1 808.7l18.4 22.9 18.4 20.5 22 21.7 18.4 16.1 18.4 14.1 25.7 17.6 18.4 10.9 25.7 13.6"/>
<path d="M336.9 1015l27.2 0 6.8-0.5 10.2-2 13.6-4.8"/>
<path d="M475.2 766.5l6.7-0.1 13.5-1.9 10-2.5 13.5-4.6 10-4.3 13.4-7.2 20.2-13.4M2069.1 1226.9l40.2 2.5 40.3-1.3 40.3-2.6"/>
<path d="M145.4 1209.3l30.6-1.2 27.2-3.5M1846.4 1060.7l37.5-1.7"/>
<path d="M1884.2 1088.1l31.4-2.2"/>
<path d="M771.1 403.4l21.8-32.4 21.8-29.6 18.2-21.9 18.1-18.7 18.2-15.1 7.3-5 10.9-6.4 14.5-5.9 7.3-1.9 10.9-1.7M1290.8 720.8l25.4 26.7M1930.4 1211.4l29.1 6.7 29.1 4.1 43.6 3.5 50.9 2"/>
<path d="M392.9 967.2l15.1-3.4"/>
<path d="M1850.4 1069.8l42.7-5.1 26.3-2.4"/>
<path d="M351.3 1029.3l10.3-1.5 10.3-2.5"/>
<path d="M1997.1 1154l27.8 2.4"/>
<path d="M432.3 860.2l17.9-0.1 14.3-2.4 7.2-1.9 10.7-4 14.3-6.9M844.1 474.6l21.5-12.9 21.4-11 21.5-9.3 25.1-8.5 21.5-5.3 21.5-3.6 21.5-1.7 21.4 0.3M2226.3 1221.5l35.8-1.3"/>
<path d="M469.7 794l9.7-1.2 9.8-2 9.8-2.8 13.1-5.1 19.5-10 22.9-16"/>
<path d="M2224.5 1219.7l35.7-0.7"/>
<path d="M246.7 1163.4l14.9-1.7"/>
<path d="M352.1 964.3l13-2.2 9.8-2.8 16.3-7.1 9.7-5.8 9.8-6.8 16.3-14 9.7-9.4 9.8-10.6 19.5-23.6 22.8-31.8 19.5-30M534.4 777l35.8-63.2 55.3-100.3 29.3-51.1 35.8-59.4 32.6-49.7 32.5-44.4 16.3-20.2 16.3-18.6 16.2-17 13-12.4 13.1-11.3 16.2-12.5M1240.7 667.5l22.8 36.9 19.5 30.2 16.3 23.8 19.5 26.8 22.8 28.6 16.3 18.5 16.2 16.8 19.6 18.8 19.5 16.8 13 10.2 19.5 14.1 16.3 10.8 35.8 22.3 68.4 40.3 55.3 34"/>
<path d="M402 921.8l14.2-2.7 11.4-4.2 11.4-5.8 14.3-9.6M1834.8 1057l22.7-1.5"/>
<path d="M2012.1 1167.2l63.2-4.3"/>
<path d="M377.6 976.6l15.8-3 18.9-6.6"/>
<path d="M2061.5 1183.9l23.9-1"/>
<path d="M304.7 1091.6l6.5-0.2 6.5-1.1M957.8 260.1l13-1.1 13 1.3"/>
<path d="M934.3 262.2l10.2-9.1 10.2-7.5 10.3-6 13.6-5.3 10.2-1.8 10.2 0 10.2 1.9 13.6 5.5 10.2 6.1 10.2 7.9 10.2 9.6 13.6 15.3 10.2 13.1 13.6 19.6 13.6 21.7 13.6 23.3"/>
<path d="M517.7 562.2l34.8 6.2 69.7 14.1 19 2.7 15.9 0.8"/>
<path d="M375.8 985.3l26.2 0"/>
<path d="M413.2 952.7l13-2.6"/>
<path d="M298.1 1105.5l10.2-1.3M920.8 412.5l17-2.4 20.4-1.2 20.4 0.8 13.6 1.6"/>
<path d="M2008.9 1160.7l10.2-0.4"/>
<path d="M250.4 1152l15.3-1.7 19.1-4.9"/>
<path d="M317.8 1044.6l12.5-1.8 12.6-3.6 12.5-5 12.5-6.7M1906.8 1108.8l12.5-0.9"/>
<path d="M487 623.9l37.5 6.2 65.7 12.2 28.2 3.6"/>
<path d="M2013.7 1169.9l21.2 4.8 17.6 3.1 28.2 3.1 17.7 0.8"/>
<path d="M296.1 1071.2l23.8 0 13.6-2.1"/>
<path d="M408.6 863.6l11.7-0.3 14.6-3.3 14.6-4.9 14.7-6.9 14.6-8.8 14.6-10.6 14.6-12.4 11.7-11.1M1402.6 832l20.4 20.8 26.3 22.9 35.1 26.5 35.1 23.6M1867.4 1079.7l35.1-2.7"/>
<path d="M2069.9 1187.7l44.5-1.8"/>
<path d="M311.9 1077.1l18.5 0"/>
<path d="M271.2 1130.3l16.9 0M1932.1 1116.4l64.2-5"/>
<path d="M347.6 1038.6l12.1-2.6"/>
<path d="M277.1 1105.2l11.5-1.4 7.6-1.7 11.5-3.8 11.4-5.1M854.2 465.9l30.6-24.5 22.9-15.1 11.5-6.5 11.4-5.4 11.5-4.4 11.5-3.2M2207.1 1223.4l23-0.8"/>
<path d="M270.9 1150l13.2-1.1"/>
<path d="M479.3 1044.4l20.1-25.2 23-32 20.1-30.2 34.5-55.1 28.8-48.7 43.1-75.7 57.5-107.4M936.4 267l17.3-17.3 8.6-7.4 11.5-8.5 11.5-6.7 8.6-3.9 8.6-2.9 8.7-1.9 8.6-1 8.6 0.1 8.6 1.2 11.5 3.2 8.7 3.6 8.6 4.6 8.6 5.7 8.6 6.8 17.3 16.3 17.2 20.1 20.2 27.2 14.3 21.9 17.3 28.6 23 40.7 74.8 140.4"/>
<path d="M325.2 1050.3l29.3-0.5"/>
<path d="M281.2 1127.6l10.8 0"/>
<path d="M142 1213.6l26.7-1.5 13.3-2.1 13.3-3M465.5 891.9l90-162.9 36.7-63.4 26.7-44.5 26.6-42.1 26.7-39.6 26.7-36.7 23.3-29M995.7 413.8l13.3 10.7 20 18 33.4 34.1 26.7 30 83.3 98.6 26.7 29.8 23.4 24.9 26.6 26.8 23.4 21.9 50 44M1782.7 1028.4l63.4-5.4"/>
<path d="M2012.7 1163.5l10.1-0.4"/>
<path d="M1977.9 1140.4l13.2-0.6"/>
<path d="M445.1 846.4l18.1-3.8 18.1-7.4 18.1-10.7 18.1-14M1978 1145.2l9-0.3"/>
<path d="M1991.9 1149.4l39.5-2.5"/>
<path d="M219.6 1155.9l23.5 0 10.1-1.2 16.8-3.9 13.4-5.4"/>
<path d="M393.7 901.7l29.8-0.1 13.3-2.7 16.6-5.9 9.9-5.2 9.9-6.2"/>
<path d="M409.4 915.7l9.1-1.6 12-3.2 12-4.7 12-6.1"/>
<path d="M266.7 1136l12.8-1.1M1883.8 1087.7l12.8-0.7"/>
<path d="M241 1144.4l11.1-0.1 11-1.1 11-2.6 7.3-2.5M1479 894l25.7 21 18.4 13.8"/>
<path d="M419 941.4l14.7 0M1019.5 262.3l8.9 1.7 8.8 2.8 8.8 3.6 8.9 4.5 17.6 11.9 17.7 15.8 17.6 19.4 20.6 26.8 23.6 35.5 20.6 34.3"/>
<path d="M416.2 950.5l12.3-2M1901.6 1091.3l48.9-5.6 27.5-2.3"/>
<path d="M1886.2 1088.1l43.4-4.2"/>
<path d="M297.1 1058.6l10-1.5 13.3-3.8 13.3-6 13.4-7.6 9.9-7.2 13.4-11 16.6-15.9 10-10.7"/>
<path d="M980.9 258.7l15.8-6.8 15.8-3.9 15.8-0.9 6.4 0.6 9.4 1.7 15.8 5.5 15.8 8.5 15.8 11.3 15.8 14.4 12.7 13.5 19 23 15.8 21.5 22.1 33.1 18.9 30.6 19 32.3 56.9 102.8M1492.9 900l31.6 34.5 25.3 24.1 34.8 29 28.4 20.8"/>
<path d="M384.5 1147.9l14.7-12.2 18.5-18.1M572.7 892.4l22.2-37.4M650.3 760.6l36.9-64.3"/>
<path d="M336 1035l9.3-1 12.5-3.8 15.5-8.1 12.5-9.1M731.3 461.1l37.4-78.5 18.7-37.7 21.8-41 15.5-26.5 15.6-23.6 18.7-23.8 9.3-9.9 9.4-8.6 6.2-5.1 9.3-6 9.4-4.6 6.2-2.2 9.3-2 9.4-0.6 6.2 0.4 9.4 1.9 9.3 3.6 9.3 5.1 15.6 11.3 12.5 11.5 6.2 6.7 18.7 23 21.8 31.7M1207.7 613.6l18.7 32.4 15.5 25.4 28 41.1 25 31.9 12.4 14.3 18.7 20 21.8 21 24.9 21.7 105.8 83.4 46.7 39.5 53 49.2 90.2 88.6 40.5 36.3 24.9 19.8 28 19.4 21.8 12.8 24.9 12.2 25 9.3 28 7.7 24.9 4.4 15.5 1.8 15.6 1"/>
<path d="M1094.6 327.6l10 8 13.3 12.5 10 10.4 13.2 15.4 23.3 30.6 26.6 39.8"/>
<path d="M1474.5 769.2l20.4 14.7"/>
<path d="M1442.8 745.5l24 15.5 26.9 18.6 17.9 13.2 27 21.5 14.9 12.6 24 21.6 47.9 47.2M1801.9 1034.7l89.8-10.3"/>
<path d="M934.7 258l11.6-4.7 15.6-3.8 11.7-0.5 11.6 1.4 15.6 4.7 11.7 5.7 15.5 10.3 11.7 10M1292.4 715.7l27.3 42.9 23.3 32.5 27.2 32.7 23.4 23.3 11.6 10.3 15.6 12.2 27.2 17.9 31.1 16.6 42.8 19.8M2183 1217.2l15.5-0.3"/>
<path d="M410.1 920.6l12.7-0.6 12.7-3 12.7-5.4 12.6-7.4"/>
<path d="M1017.9 266.4l10.6 4.1 14.2 7.7"/>
<path d="M388.6 962.9l14.2-0.3 17.1-4.1"/>
<path d="M353.8 1014l29.1-0.1 7.3-0.8M2194.1 1224.4l18.2-1.1"/>
<path d="M568.6 905.6l37.9-49.8 34.2-46.8 26.6-39.5 18.9-30.8 22.8-39.6 26.6-50.4 19-38.8 30.4-65.3M936.8 268.9l11.4-9.6 11.4-7.6 11.4-5.1 7.6-2.1 11.4-1.5 7.6 0.2 11.4 2.2 11.3 4.3 11.4 6.3 11.4 8.3 11.4 10 11.4 11.7 11.4 13 11.4 14.4 30.4 43.3M2163.1 1214.6l11.4 0"/>
<path d="M2006 1161.5l62.9-4.1"/>
<path d="M822.1 342l13.3-18.3 13.4-16.8 13.4-15.3 10-10.3 10-9.2 13.4-10.3 10-6.3 10.1-5.1 10-3.8 10-2.3 10.1-0.9 10 0.3 10 1.8 10 3 13.4 6.2 10 6M1290.1 717.4l16.7 24.7 16.7 22.6 20.1 24.4 16.7 17.5 20 18.1 23.4 17.6 20.1 12.8 23.4 13.3"/>
<path d="M163.2 1210.8l15-0.2 18.7-1.4M1194.9 601.4l29.9 42.5 18.7 24.6M1288.3 720.9l22.5 22.6 18.6 16.9"/>
<path d="M407.8 771l13.7-0.1 10.2-1.2 27.3-6 13.7-4.4 13.6-5.2 23.9-11.8 20.5-12.7 23.9-18.3 13.7-12.3 13.6-13.4 23.9-26.1"/>
<path d="M1912.9 1108.1l19.8 4.5 23 2.9"/>
<path d="M184.8 1203.5l17.7 0.1M1932.5 1124.1l60.1-4.5"/>
<path d="M398.8 1132.3l16.5-9.3 13.2-10 16.4-15.6 13.2-15 16.5-21.7 19.7-29.9 16.5-27.5 23.1-42.3M1288.1 568.4l72.5 82.4 42.8 50.9"/>
<path d="M276.7 1119.1l10.6 0 7.1-0.9M833.1 481.1l17.7-5.1 14.2-3 14.1-2.1 21.3-1.5 21.3 0.1 21.2 1.5 39 5.8 21.3 4.5 21.2 5.7 21.3 6.8 24.8 9.3 35.4 16.3 21.3 11.4 17.7 10.5"/>
<path d="M226.4 1163l10.9-0.8 18.2-3.6 14.6-5 14.5-6.8"/>
<path d="M409.1 1123.4l12.9-8.7 13-10.2 13-11.7 16.3-16.7 12.9-14.9 16.3-20.6 16.2-22.3 16.2-24.2 29.3-47.5 35.7-64.3 35.7-69.8 45.4-94M1444.8 746.5l35.7 24.7 35.7 26.4 38.9 32.6 35.8 33.6M1964.2 1129.9l42.2-3.1"/>
<path d="M919 410.9l15-0.3 26.2 1.4 26.3 3.4 18.7 3.6"/>
<path d="M175.8 1206.1l18.1 0.1 10.8-0.7M1928.5 1211.2l21.7 4.7 18.1 2.8 14.4 1.7 25.3 1.9"/>
<path d="M758.5 418l18.2-30.9 18.2-28.9 18.2-26.8 14.6-19.6 14.6-17.6 14.6-15.4 10.9-10 18.2-13.7 10.9-6.4 11-4.9 7.3-2.4 14.5-3 14.6-0.6 14.6 2.3 14.6 5 14.5 7.8 14.6 10.4M1214 622.3l21.8 39.6 18.3 29.9 21.8 31.9 11 14.4 10.9 13.1 21.9 23.2 25.5 22.2 21.8 16.1 36.5 22.9"/>
<path d="M246.5 1127.1l17.2 0 6.9-0.6 10.3-1.9 10.4-3"/>
<path d="M368 1015.4l12.7-1.9 9.5-2.9M1974 1137.6l9.5-0.4"/>
<path d="M188.3 1187.5l25.2 0 14.5-1.3"/>
<path d="M570.2 904.9l14-22.3 20.9-35.7 24.4-45.3 21-41.8M933.2 263l13.9-3.8 10.5-0.9 13.9 1.2 14 3.8"/>
<path d="M375.2 934.5l13-2.3 12.9-4 13-5.7 9.7-5.5 13-8.6 13-9.9 13-11.1 13-12.4"/>
<path d="M830.2 488.9l22.9-18.8 19.1-13.6 22.9-13.6 22.8-10.7 22.9-7.4 22.9-4.5 22.9-1.5 19.1 1.4M1409.9 711.9l38.1 15.4 15.3 7 22.9 11.7 15.2 9.1 19.1 12.7 15.3 11.4 15.2 12.7 30.5 28.4 30.5 32 30.5 34.6 80.1 94.9"/>
<path d="M219.1 1163.5l11.5-0.1 15.3-1.9 11.5-2.9 11.5-4M957.4 406.1l11.5 1.6 11.5 2.6 22.9 7.5"/>
<path d="M283.5 1071.1l25.5-0.4 12.7-2.5 9.6-3.2"/>
<path d="M363.2 998.7l15.4-2.6 9.2-3 9.3-4.1"/>
<path d="M213.1 1170.5l19.2-2.6 15.3-4.3 15.4-6.1 11.5-6 11.5-7M884.2 431.7l23.1-5.2 15.3-1.8 19.2-0.1 19.1 2 15.4 3.2 19.2 6.2 23 10.4 15.3 8.8 19.2 12.9 15.3 11.6 15.4 12.7 23 21.1 38.3 39 80.6 86.6M2130.7 1208.3l42.1 1.9"/>
<path d="M1446.7 748.2l59.7 41.8 19.9 14.6 26.5 20.2 33.2 26.6 26.5 22.8 29.9 26.9 96.1 90.8"/>
<path d="M240.8 1149.9l10.1-0.9 10.1-1.8 10.1-2.7 10.1-3.7"/>
<path d="M197.3 1193.9l23-0.1"/>
<path d="M314.5 1068.3l17.4 0"/>
<path d="M360.3 957.5l8.9-0.4 14.8-3.7 11.8-4.6 11.9-5.8 11.8-7.2 11.9-8.4 14.8-12.6 14.8-14.1M985.4 408.5l17.7 11.1 26.7 18.7 29.6 22.2 41.5 32.7M1847.4 1062l26.7-2.1"/>
<path d="M425 871.9l15.8 0 15.9-3.3 15.9-6.2 9.6-5.2 12.7-8.4"/>
<path d="M142.7 1218.2l37.1 1.3 22.2-0.2M847.1 318.7l29.6-55.3 14.8-25.7 11.2-17.8 11.1-16.7 11.1-15.2 11.1-13.7 11.2-12 11.1-9.8 11.1-7.9 7.4-4 11.1-3.9 7.4-1.3 11.2 0.1 7.4 1.4 11.1 4 11.1 6.8 7.4 5.8 7.5 6.8 11.1 12.2 18.5 25.1 11.1 17.6 11.2 19.4 18.5 35.5 22.2 46.9 74.2 167.8"/>
<path d="M413.9 794.8l14.8-3.6 14.8-5.2 14.8-7 14.9-8.8 14.8-10.5 11.9-9.8 20.7-19.3 11.9-12.3 23.7-27.4 26.7-34.5 32.6-45 56.3-80.5 23.8-32.4 32.6-41.1 20.7-23.4M1694.8 1067.6l23.7 22.8M1777.8 1139.3l20.8 13.9 14.8 8.7 14.8 7.7 17.8 8"/>
<path d="M335.3 1040.9l15.9 0"/>
<path d="M1883.8 1086.9l45.8-4.7"/>
<path d="M336.6 992.9l23.8 0 10.1-1.5 6.8-1.6 10.2-3.6 17-8.1M1168 573.8l44.1 60.9 27.2 35.2 13.5 16.6M1263 698.1l30.6 32.2 16.9 15.4 17 13.7"/>
<path d="M264.6 1130.1l13.5-1.6 13.4-3.4"/>
<path d="M1534 941.7l43 47.6 23.1 23.4 23.2 22.2 29.8 26.6 23.1 19.2 26.5 20.9 23.2 17 36.4 24.2 23.1 13.6 23.2 12 26.4 11.9 19.9 7.5 19.9 6.3 23.1 5.6"/>
<path d="M1691.6 952.9l22.9 18.1 23 19.5M1976.8 1139.4l13.1 1.2"/>
<path d="M2008.6 1159.4l20.3 3.5 23.7 2.2"/>
<path d="M230.3 1165.9l23.4 0"/>
<path d="M1846.6 1064.5l41.7-3.8"/>
<path d="M375.6 1000.8l12.5-1.9 12.6-3.7M1928.5 1114.3l53.4-4.2"/>
<path d="M375.1 942.5l10.1 0 10-1.5 13.4-3.6 10-3.9 13.4-6.9 10-6.2 20.1-15.3"/>
<path d="M206 1189.2l17.5-1.6"/>
<path d="M222.2 1185.7l11.5-0.2"/>
<path d="M1789.3 1145l29 18.4 25.8 13.7"/>
<path d="M2088.3 1192.7l28.1 2.3"/>
<path d="M1730.9 986.8l16.2 7.8 16.1 6.8 19.4 7.4 22.6 7.2 19.3 4.9 12.9 2.5 12.9 2 19.4 1.9"/>
<path d="M448.7 744.6l19.3-0.3 16-2.7 19.3-5.3 19.3-7.7 16-8.3 19.3-12 19.3-14.5 19.3-17.1"/>
<path d="M1976.2 1137.8l29.5-2"/>
<path d="M222.8 1216.8l14.6-0.4 10.9-0.9 18.3-3.3 18.3-5.2 21.9-9.2M642.9 773.8l22-36.4 25.5-45.5"/>
<path d="M1961.7 1132.6l26.7-1.7"/>
<path d="M1847.2 1066.2l38-4.4 22.2-1.9"/>
<path d="M170.3 1209.4l24.4-0.9M1865.8 1079.4l52.2-5.8 31.3-2.5"/>
<path d="M321.5 1079.4l10.4-1.2"/>
<path d="M765.3 412l21-38.1 21-33 18-23.7 18-19.3 9-7.8 9-6.6 15-8.5 9-3.3 9-2.3 12-1.1 9 0.4"/>
<path d="M984.1 407.8l13.3 8.1 16.6 11.6 23.4 18.6 19.9 17.4 43.3 41.3 66.6 67.6M1606.8 879.6l39.9 31.6M1656.7 919.3l66.6 54.6 33.3 25.8 33.3 23.8 30 18.8 26.6 13.9 13.4 5.9 16.6 6.3 13.3 4.2 13.3 3.2 13.4 2.6 16.6 2"/>
<path d="M275.2 1151.2l10.7 0M825.5 341.6l21.6-31 10.8-13.6 10.8-11.9 10.8-10.4 10.8-8.7 7.2-4.8 10.8-5.8 10.8-3.9 10.7-2.1 7.2-0.3 10.8 1 10.8 2.8 7.2 2.8 7.2 3.5 10.8 6.9"/>
<path d="M306.6 1089.9l14.3-1"/>
<path d="M466.9 665.2l28.4 0.2 31.1 6.4 68 15.6M1906.5 1106.8l8.5 0.5"/>
<path d="M2013 1167l58.6-3.2"/>
<path d="M1066.9 461.8l35.1 33.7"/>
<path d="M220.6 1177.5l11.2-0.6 11.1-1.5"/>
<path d="M2170.7 1226l47.9-2.3"/>
<path d="M1551.3 953.5l34.3 40.4 31.2 33.3 28.1 26.9 21.8 18.9 12.5 9.9 28 20.2 15.6 10.1 21.9 12.9 31.2 15.6 31.1 12.5"/>
<path d="M2112.9 1197.5l21.2-0.6"/>
<path d="M916.4 265.2l12.7-10.6 12.7-8.6 12.7-6.7 12.7-4.4 12.7-2.1 12.7 0.3 12.7 2.6 12.7 5 12.7 7.4 9.6 7 12.7 11.3 12.7 13.4 12.7 15.3 12.7 16.9 15.8 23.3 15.9 25.4"/>
<path d="M216.5 1185.6l17.3-2"/>
<path d="M1997.8 1151.5l26.3-1.6"/>
<path d="M436.6 907.6l10.4-0.9 13.9-2.8"/>
<path d="M1802 1039l92.2-6.7"/>
<path d="M2013.8 1169.2l37.3-1.6"/>
<path d="M740.8 448.3l24.1-51.3 24.1-47.1 20.7-36.6 10.3-16.9 10.4-15.4 13.7-18.8 10.4-12.6 17.2-17.7 6.9-6 13.8-10.2 10.3-5.8 6.9-3.1 10.3-3.5 6.9-1.5 10.4-1 10.3 0.2 10.3 1.8 10.4 3 10.3 4.1 10.4 5.4 10.3 6.7 10.3 7.8 10.4 8.8 10.3 9.9 20.7 22.8 24.1 30.8M1330 760.1l20.7 32.2 13.7 19.3 13.8 17.9 24.1 27.5 20.7 19.8 20.7 16.9 20.7 14.1 20.6 12.4 65.5 35.8"/>
<path d="M719 647.3l46.9-64.9 46.8-59.9 46.9-54.5 24.9-26.6 21.9-21.4M1137.4 372.9l15.7 10 15.6 11.2 18.7 15 18.7 16.5 34.4 34.2 21.8 24.1 15.7 18.4 34.3 43.2 28.1 38.4 34.4 49.7 68.6 102.7 21.9 31.7"/>
<path d="M293.2 1087.8l9.2-1.5 9.3-2.6 9.2-3.7 9.2-4.8M995.6 414.9l18.4 13.9 21.5 17.7 101.2 89.2M1848.3 1066.5l12.2-1"/>
<path d="M1786 1024.3l8.6 1"/>
<path d="M871.3 299.7l14.8-20.9 14.9-18.2 14.9-15.4 11.1-9.6 14.9-9.7 11.1-5.1 11.2-3 7.4-0.9 7.4 0.1 7.5 1.1 7.4 1.9 11.1 4.6 11.2 6.8 11.1 8.7 14.9 14.3 11.1 12.9 14.9 19.6 14.9 22.1M2123.5 1201l26 0.1"/>
<path d="M155.5 1202.7l13.8-0.4 20.7-2.6 13.8-2.8 13.8-3.9M1103.9 495l24.1 28.5M1186.7 596.8l27.6 33.9 20.7 24.3"/>
<path d="M1204.8 611.5l27.8 42.1M1267.4 700.8l24.3 29.1 20.8 22.2 20.9 19.8 20.8 17.8"/>
<path d="M1223.4 487l20.3 22.2 30.5 36 67.7 85.8M1348.6 639.6l30.5 37.9M2012 1165.2l47.4-2.5"/>
<path d="M369.6 918.7l20.6 0 8.8-1.7 14.7-4.8 8.8-4.1 8.8-4.9 14.7-10.3 17.7-15.2 14.7-15.2 17.6-20.2"/>
<path d="M621.2 810.6l45.9-71.9 30.5-49.4 38.2-64 26.7-46.3M2148.4 1212.5l38.2 1.1"/>
<path d="M1582.2 980.4l45.8 49.1 16.4 16.8 26.2 25.2 36.1 31.9 22.9 18.3 19.6 14.4 23 15.4 19.6 11.7 19.7 10.4 16.4 7.8 19.6 7.8 16.4 5.3 16.4 4 19.6 3.4"/>
<path d="M353.4 1002.8l14.2-0.1 10.7-1.4 7.2-1.8 14.2-5.5"/>
<path d="M257.2 1159.7l10.3 0M859.6 304.7l13.8-19.1 10.3-12.7 13.8-14.9 10.3-9.4 10.4-8.2 13.7-8.2 10.4-4.1 10.3-2.5 10.3-0.7 13.8 1.8 10.3 3.4 10.3 5.1 13.8 9.6 10.3 8.9 13.8 14.3 10.3 12.4"/>
<path d="M1605.3 878.6l24.6 18.1 24.5 20.3M1801.8 1035.5l15.3-0.9 58.4-6.7"/>
<path d="M403.3 906l9.8-1.8 9.7-2.6 9.8-3.4 9.7-4.3 13-7 9.8-6.2 19.5-15M2008.5 1158.8l32.5 3 22.7 1.1"/>
<path d="M275.3 1149l10.1 0M810.1 353.9l20.3-27.4 16.9-21 20.4-22.5 20.3-19.6 16.9-13.4 13.5-8.6 17-7.9 13.5-3.8 13.5-1.6 13.6 1 13.5 3.3 10.2 4.3 6.7 3.6 13.6 9.1 13.5 11.5 16.9 17.7 17 21.2M1470.2 889.3l64.3 62.2 67.7 67.2 47.4 44.1 27.1 23 23.7 18.6 30.4 22.2 23.7 15.5 37.3 22 27 14 30.5 13.7 30.5 11.3 27 8 23.7 4.8 37.3 4 37.2 1.8"/>
<path d="M301.9 1199.3l22-6.7 14.6-5.9 14.7-7 22-12.9 25.6-18.8 22-19.4 25.6-26.4 25.6-30.1 25.7-33.3 29.3-41.5 32.9-50 29.3-46.7 33-54.2 47.6-82 98.9-177.8 40.3-69.7M1382.4 681.9l25.6 24.2 44 39.6 65.9 55M1536.2 815.3l102.6 80.6 54.9 44.8 98.9 82.4 47.6 38.4"/>
<path d="M298.7 1100.3l15.4 0M713.9 487.9l36.9-73 18.4-33.4 15.4-25.6 15.4-23.5 15.4-20.8 15.3-17.9 12.3-12.3 15.4-12.5 12.3-7.5 15.4-6.7 12.3-2.9 15.4-0.9 12.3 1.6 15.3 4.8 15.4 7.8M1479.6 894l64.6 62.8 21.5 19.7 24.6 21.3 24.6 19.4 21.5 15.6 21.6 14.4 27.7 17"/>
<path d="M369.1 980.6l13.9-2.4 10.4-3.2 10.4-4.5 10.4-5.7"/>
<path d="M316.9 1065.8l9.5 0 6.4-0.6M1904.1 1095.9l31.7-2.5"/>
<path d="M221.4 1182.9l14.2-1M1196.2 601.7l17.8 26.1 21.4 29.3M1288.7 720.8l32 31.8"/>
<path d="M293.6 1090.1l16.2 0 9.7-1.8M908.6 419l22.6-1 16.2 1.1 16.2 2.6 22.7 5.8 19.4 7 29.1 13.1 22.7 12.1 19.4 11.5M1442.6 743.6l25.9 20.9"/>
<path d="M346.9 1175.3l9.8-4.1 13-7 9.8-6.2 13.1-9.5 9.8-8.1 13-12.4 13.1-13.5 13-14.7 22.9-28.8 26.1-36.6 29.4-46 35.9-60.7M568.9 904.9l42.4-75.9M653.8 752.1l19.5-35.2M1110.8 346l22.9 18.7 19.6 18.4 19.5 21.1 22.9 27.5 35.9 47.9 78.4 112.2 22.8 31.7"/>
<path d="M304.8 1088.8l16.7 0M1945.8 1126.7l40-3.5 23.4-1.4"/>
<path d="M352 991.5l22.9-0.1 9.9-1.5 9.8-2.8"/>
<path d="M271.5 1124.6l20 0M1199.4 603.6l29.9 49.2 30 45.7 26.6 36.3 13.3 16.5 13.3 15.1 26.6 26.9 26.6 22.2 13.3 9.5 16.6 10.6 16.7 9.7 19.9 10.4"/>
<path d="M196.2 1194.2l23.4-1.9"/>
<path d="M2012.8 1170.4l13.6 1"/>
<path d="M187.3 1204.9l16.8 0.1M760.7 583.5l40.2-46.3 16.8-18.2 20.1-20.7 16.8-16.1 13.4-11.8 16.8-13.5 13.4-9.5 13.4-8.5 13.4-7.3 13.4-5.9 13.4-4.7 16.8-3.9 10-1.4 13.5-0.7 13.4 0.6M1434.7 731.9l57 44.3 50.3 40.8 50.2 43.7 60.4 55.7M1756.5 1003.4l6.8 1.6 10 1.6 20.1 0.3 23.5-2.1 57-6.8 26.8-2.4"/>
<path d="M1964.1 1132.5l9.8 0.8"/>
<path d="M389.8 916.9l9.5-1.5 12.6-3.4 12.7-4.9 12.6-6.7 12.6-8 9.5-7 9.5-7.8 15.8-14.6"/>
<path d="M883.6 290.6l14.1-13.5 10.6-8.5 10.6-7.3 10.6-6 10.6-4.8 10.6-3.3 10.6-1.9 10.6-0.5 14.2 1.4 10.6 2.6 10.6 4.1 10.6 5.3 10.6 6.7 10.6 8 10.6 9.4 10.6 10.7"/>
<path d="M1718.1 977.7l24.7 12.2 21.7 9 27.8 10 21.7 6.3 21.6 5.1 30.9 5.9 27.9 3.8 43.3 4.4"/>
<path d="M820.5 342.7l14.1-17 10.5-11.5 21-19.7 10.5-8 14-8.9 10.5-5.3 10.6-3.9M1265.6 697l24.5 37 14 19.4 21 27.4 14.1 16.6 21 23.1 17.5 17.5 14 12.8 31.6 25.4 28 19.5 38.5 23.7 56.1 31.5"/>
<path d="M386.5 994.2l12.5-2.6"/>
<path d="M647.5 592.7l18.1-32.2 18.1-30.5 14.5-23 18.1-27.1M1295.8 723.6l25.4 32.7 28.9 34.2 29 31.2 25.4 24.4 32.6 27.8 28.9 21.7 32.6 21.4 32.6 18.9"/>
<path d="M519.5 586l37.4 7.2 59.1 13.2 24.9 4.3"/>
<path d="M487.2 665.3l25.7 4.9 57.8 13.8 22.4 3.4"/>
<path d="M421.5 810.1l12.4-1.1 18.5-3.8 18.4-5.9 18.5-8.2 18.5-9.7 15.4-9.2 21.6-14.8 18.5-14.3M1043.8 281.3l9.3 2.9 12.3 5.5 12.3 7.1 9.3 6.6 9.2 7.4 12.3 11.4 21.6 23.5 21.6 27.7 24.6 36.1 27.7 44.7 27.8 47.9M1478.2 891.9l21.6 24.3 27.7 29 27.7 26.6 30.8 27 30.9 24.8 46.2 34.9 36.9 26.6 52.4 36.3M1780.1 1139.6l30.8 19.1 21.6 12.1"/>
<path d="M1974.1 1139l52-3"/>
<path d="M1671.8 933.2l25.6 19.8 18.3 15.2 40.3 36.5"/>
<path d="M1007.8 261.4l14.2-1.2 10.6 0.8 10.6 2.2 14.1 5.2 14.2 7.6 10.6 7.4 10.6 8.8 14.1 13.9 14.2 16.1 10.6 13.5 14.1 19.6 14.2 21.4 14.1 22.8 14.2 24.5 35.3 65.6M1693.8 1066.8l24.8 23.5M1778.7 1139l24.7 16 14.2 7.9 17.7 8.6"/>
<path d="M1829.9 1042.7l64.4-7.4"/>
<path d="M2062.6 1227l45 1.7 44.9-1.7"/>
<path d="M1567 843.4l31.9 24.9 42.5 35.9 46 41 56.7 51.9M2084.3 1191.2l17.8 3.1 24.8 3.4 21.2 1.8 24.8 1.1"/>
<path d="M782.2 389.9l17.5-25.2 17.6-22.7 17.5-20 14.6-14.3 17.6-14.2 14.6-9.2 14.7-6.8 14.6-4.1M1197.6 602.7l20.5 32.1 20.4 29.3M1291.2 725l23.4 20.2M1835.4 1057.3l20.4-2"/>
<path d="M342.3 1014.2l17.3-0.1 10.4-1.9 13.8-4.5 13.9-6.9"/>
<path d="M931.2 258.7l6.6-4.2 9.8-5 6.6-2.6 9.8-2.8 9.9-1.3 6.5 0 9.9 1.1 6.5 1.6 6.6 2.2 9.8 4.6 16.4 10.5 16.4 14.3 16.4 17.6"/>
<path d="M314 1042.2l14.5-0.7 14.5-3 14.5-5.3 10.9-5.2"/>
<path d="M346.4 975.7l20.6-0.1 14.7-2.4 20.7-6.7 17.7-8.7"/>
<path d="M258.7 1116.6l24.4-0.4 7-1.1 10.5-2.9"/>
<path d="M1480.4 890.6l29.9 29.8 20 18.4M1550.2 956.7l53.2 43.3M1693.1 1068.2l23.3 17.4"/>
<path d="M1088.7 321.7l10.1 4.5 13.4 7.5 13.5 9.1 13.5 10.6 23.6 22.3 16.8 18.4 10.1 12.1 27 36.1 30.3 45.6 33.6 55.8 37.1 64.8"/>
<path d="M2011.8 1165.6l20.5-0.9"/>
<path d="M390.4 831.4l20.9-0.3 20.9-4.3 13.9-5 10.4-4.5 10.5-5.5 13.9-8.5 24.3-18.1 24.4-22.3 20.9-22.1 13.9-16.2 17.4-21.7M2148 1211l20.8 0.4"/>
<path d="M1954.3 1215.7l20.5 3"/>
<path d="M1962.8 1132.2l16.3-1.1"/>
<path d="M784.7 551.2l30.3-30.3 30.3-28.2 30.4-25.5 26.5-19.4 22.7-14.2 22.7-11.6 11.4-4.5 11.4-3.5 11.3-3 11.4-1.8M2148.7 1211.1l41.7 3.2 45.4 0"/>
<path d="M167.2 1212.3l27.6 0.1M1887.9 1090.4l37.9-2.8"/>
<path d="M1906 1104.9l22.4-1.4"/>
<path d="M268.4 1131.3l14.8 0"/>
<path d="M181.8 1202.4l26.6 0"/>
<path d="M353.3 1171.7l20.4-14.6"/>
<path d="M803.5 528l27.9-31.1 15.5-15.4 12.4-11.3 12.4-10.2 15.5-11.4 12.4-7.7 12.4-6.6 12.4-5.5 12.4-4.2 12.4-3 15.5-2.4 12.4-0.8 12.4 0.4 15.5 1.6 12.4 2.3M1342.9 634.6l83.7 77.2 77.5 69.1 43.4 39.7 27.9 26.8 27.9 28M1711.8 975.5l15.5 2.5 21.7-0.3 18.6-2 62-8.9 27.9-3.1"/>
<path d="M298.9 1050.5l6.8-0.3 6.8-1.2 13.5-3.8 13.6-5.7 10.2-5.5 10.1-6.7 13.6-10.5 13.6-12.1 13.5-13.6"/>
<path d="M305 1066.7l21.6 0 7.2-0.9"/>
<path d="M640.2 778.5l67-106.6 59.2-99.3M2185.8 1216.9l75-0.6"/>
<path d="M216.3 1179.8l10.8-1 14.5-2.6"/>
<path d="M194 1206.5l10.8 0"/>
<path d="M323.1 1066.1l9.5-1.6M545 769.3l19-35.6M614.7 643.2l44.4-72.8 47.5-72.2M1495.9 903.2l25.4 26.2M1543.5 951.4l41.2 38.2 38 32 47.6 36.2 50.7 35.3"/>
<path d="M385.5 976.8l13.5-1.8 13.6-3.8M1085.9 314.8l10.1 10.3 13.6 15.4 20.3 26.4"/>
<path d="M437.1 765.8l24.8 0 22.1-3.3 16.5-3.6 30.4-9.6 30.3-13.4"/>
<path d="M360.9 963.1l23.2 0 10-1.1 16.6-4.7 13.3-5.6"/>
<path d="M363.4 962.9l24.3 0 7-0.8 13.9-3 14-5.2M2124.3 1204l17.4 0.8"/>
<path d="M1437.3 737.4l29.5 25.8M2064.8 1226.9l40.6 1.9 36.9-0.5"/>
<path d="M1347.9 644.8l30.5 15.5 27.1 16.6 20.4 14.7 20.3 17.2 20.4 19.7 23.7 26.1 23.7 29.1 30.5 40.4"/>
<path d="M1431.8 732.3l84.9 67.6M1539.5 818.4l62.1 50.8 45.7 39.4 39.2 35.6 48.9 46.5"/>
<path d="M399.7 935.1l13.3-2.1 6.7-2 9.9-4.1 16.7-9.8 16.6-13.3M1287.7 568.5l16.6 18.2 23.3 26.9 26.6 32.5 26.6 34"/>
<path d="M244.3 1149.1l21.3-0.4 10.6-1.7 10.6-2.9M1693.1 1065l31.9 33.6 14.2 13.7 17.7 15.9 28.3 22.4 17.7 12.2 14.2 8.7 17.7 9.6 14.2 6.7 31.9 12.4 31.9 8.7 17.7 3.5 21.2 2.6"/>
<path d="M411.5 869.5l14.8-4 14.7-5.7 11.8-5.9 14.8-8.9 11.8-8.5 14.7-12.5 26.6-26.3M1022.1 429.1l26.5 26.2 70.8 74 26.6 26.1 26.5 24.6"/>
<path d="M296 1085.5l10.2-1.6 6.8-1.8 17.1-6.8"/>
<path d="M2126.5 1227.5l28.7 0.2 28.6-0.8"/>
<path d="M301.5 1042.5l26.6 0 6.6-0.9 16.7-4.7 16.6-7.5M1102.8 492.1l39.9 59.4 23.3 33.5 26.6 35.8 26.5 32.9 26.6 29.5 16.7 16.7 26.6 24.1 26.6 21.2"/>
<path d="M262.1 1151.2l13.4-2.4 10.1-2.7M1102.3 496.3l33.5 38.5"/>
<path d="M182.6 1196l26-0.1 11.1-0.7"/>
<path d="M367.2 957.9l24.7 0 6.2-1.2 18.5-6 18.6-9.1M1050 448.2l24.8 31.7 80.3 106.8 27.8 34.5 24.7 28.6 30.9 32.6 21.6 20.2 27.8 23 27.9 19.7M1865.7 1081.4l18.6-0.5 61.8-5.5"/>
<path d="M1086.4 315.1l15.8 17.9 18.9 24.5M1661.3 1046.2l28.4 26.2 31.6 26.9 19 14.9 6.3 3.9 6.3 3"/>
<path d="M159.8 1219.1l52.7 1.9 17.5-0.6 14-1.4 14.1-2.8 14-4.3 14-6 14.1-7.6M780.9 397.3l28.1-53.2 21.1-37.5 17.5-28.8 17.5-25.5 17.6-21.8 17.5-17.5 14.1-10.5 10.5-5.8 7-2.7 7-1.9 10.6-1 7 0.4 7 1.5 14 5.5 10.6 6.4 7 5.5 14 13.4 17.6 21.4 17.5 25.7 17.5 29M1268.7 697.3l35.1 56.6 21 31 14.1 19.5 14 18.2 17.5 20.9 14.1 15.4 17.5 17.1 14.1 12 14 10.7 14 9.6 14.1 8.6 24.5 12.7 66.7 30.4 24.6 12.4"/>
<path d="M1823.8 1055.3l42.9-4.9 15.3-1.2"/>
<path d="M662.1 573.7l27.6-56.9 24.2-47.2 27.6-50.6 24.2-41 20.8-32.3 24.1-33.8 20.8-25.1 20.7-21.3 10.4-9 10.3-7.7 17.3-10 17.3-6.4 10.3-2.1 7-0.5 10.3 0.4 6.9 1.1 6.9 1.7 10.4 3.9 10.4 5.4 6.9 4.3 10.3 7.7 10.4 9M1401.4 831.1l41.5 45.9 38 39.1 41.4 38.9 31.1 26.8 44.9 35.5 45 32.2 55.2 36.9 55.3 34.4"/>
<path d="M502.9 701.2l27.4-5.8 21.4-5.5 24.4-7.6 24.4-9.3M850.5 458.9l18.3-15 12.2-8.9M920.6 414.1l15.3-4.8 15.2-2.8M1579.2 854.6l48.8 31.1 30.5 20.5 21.3 15 36.6 27 48.8 39.2 91.5 77.9 30.5 25M2015.2 1163.5l24.4 6 21.4 3"/>
<path d="M1847 1060.7l18.2-1.5"/>
<path d="M1901.1 1094.5l39.2-3.7 29.5-2.1"/>
<path d="M320.2 1082.5l10.5-0.2"/>
<path d="M414.2 899.1l13.4-1.7 20.1-4.6 10.1-3.1 16.7-6.5"/>
<path d="M402.9 855.9l15.4-3 15.5-4.2 18.5-6.8 12.3-5.5 15.5-8.3 18.5-11.6 24.7-18.7"/>
<path d="M377.6 869.5l29.4-0.1 16.4-3.6 9.8-3.7 13-6.7 9.8-6.2 9.8-7.3 13.1-11.1 13.1-12.6 22.8-25.4 26.2-32.7 32.6-44.6"/>
<path d="M390 968l9.5-1.9 9.5-3M1983.4 1148l18.9-0.7"/>
<path d="M1947.2 1126.9l39-2.7"/>
<path d="M456.9 852.9l9.6-1.4 12.8-3.2 12.8-4.8 9.5-4.6M1099.2 335.6l16 10.2 19.2 15.5 19.2 19.1 15.9 18.4 22.4 29.4 19.2 28.3 19.2 30.7 25.5 43.8"/>
<path d="M406.8 887.1l25.6-0.2 11.3-2.4 19.9-6.6 19.9-10.2M1754.6 1003.2l19.9-1.6 82.2-8.4"/>
<path d="M930.3 258.5l16.2-8.6 9.7-3.4 9.7-2.3 9.8-1 6.4 0.1 6.5 0.7 9.7 2.1 16.2 6.1 9.7 5.3 9.7 6.4 16.2 13 19.4 19.2M1859.3 1072.2l45.3-4.4 25.9-1.9"/>
<path d="M352.1 953.2l29.4-0.2 13-2.8 13.1-5 13.1-6.9 13-9.1 13.1-10.9 16.3-16.1"/>
<path d="M2012.5 1167.5l13.9 3.4 14 2.4 24.4 2.3"/>
<path d="M327.3 1032.1l19.4-4.1 16.1-6.1 19.4-10.6 16.1-11.7M1924.6 1114l51.6-3.6"/>
<path d="M371.8 997.2l12.8-1.1 16-4M1976.2 1143l19.2 2.4 12.8 0.8"/>
<path d="M169.1 1218.1l25.5 0.9M212.8 1219.1l14.5-0.7 14.6-2 14.5-3.7 14.6-5M740.3 448.3l25.4-57.1 21.9-46.7 18.1-36.3 18.2-33 14.6-23.1 14.5-19.9 10.9-12.6 7.3-7.3 7.3-6.4 7.3-5.4 7.3-4.4 7.2-3.4 7.3-2.3 7.3-1.4 7.3-0.3 10.9 1.4 14.5 5.4 7.3 4.1 10.9 7.7 14.6 13.5 18.1 21.7 18.2 26.2M1173.2 574.2l29.1 52.1 29.1 46.3 29.1 40.1 25.4 30 18.2 19.2 10.9 10.5 14.6 13 18.2 15.1 21.8 16.6 21.8 15.3 51 32.5"/>
<path d="M1007.8 258.9l13.8 0.2 13.9 2.1 13.9 4.2 13.8 6.1 13.9 8.3 13.8 10.2 10.4 9.2 13.9 14.3 13.9 16.5 13.8 18.4 24.3 36.9 27.7 48.1 38.2 72.5"/>
<path d="M2173.4 1216.1l54.9-0.9"/>
<path d="M357.9 1013.2l10.4-1.5 10.4-2.9 7-2.6 13.9-7.3M1383.7 816.9l20.9 17.9M2124.4 1208.3l10.4 0.1"/>
<path d="M921.4 412.3l14.2-3.9 14.2-2.3"/>
<path d="M934 262.6l13.8-12.6 13.8-10.1 10.4-5.9 13.9-5.3 6.9-1.5 6.9-0.7 13.8 0.8 10.4 2.8 13.8 6.5 13.9 9.8 10.4 9.3 13.8 14.9 13.8 17.5 10.4 14.8 13.9 21.8 13.8 23.4 17.3 31.5"/>
<path d="M1976.4 1143.6l64.4-4.7"/>
<path d="M380.7 1014.7l9-1.6"/>
<path d="M324.3 1066.8l10 0M1997.8 1153.9l30-1.6"/>
<path d="M291.7 1091.9l9.8-1.7 9.8-3 9.7-4.1 9.8-5.5M546 765.6l19.5-32.2M1367.5 803.8l26 28.9 29.4 29.8 22.8 21.2 29.3 25.2 22.9 18 32.6 23.8 26 17.3 39.2 24.4"/>
<path d="M1040.3 278.4l14.1 6.1 17.6 11 14.1 11.3 14 13.7 14.1 15.5 14.1 17.3 17.6 24.4 17.6 26.7M1796.8 1149.3l35.2 22.8 24.6 13.5 31.6 14.4 21.2 7.7 14 4.4 31.7 6.7 31.7 4.4 42.2 3.4 52.8 2.2"/>
<path d="M1417.8 843.9l31.3 32.3 25 22.4 34.4 27.3 34.4 24.2"/>
<path d="M286.1 1062l10.1-1.8 13.5-4.8 10.1-5.4 13.5-9.5 13.6-12.1 13.5-14.3 13.5-16.5 16.9-23.5 23.6-37 20.3-34.9 108.1-200.9 23.6-41.9 30.4-51.8 30.4-49.4 43.9-68 33.8-49.4 30.4-41.4 20.3-25.5 16.8-19.4 20.3-20.7 16.9-14.4 16.9-11.6 16.9-8.5 6.7-2.4 10.2-2.5 13.5-1.2M1012.3 417.3l27 46 74.3 133.8 27 45.2 20.3 31.2 20.3 28.8 16.8 21.7 23.7 26.4 20.3 19.8 20.2 17.2 23.7 16.8 23.6 14.3 16.9 8.8 33.8 16 64.2 26.8 47.2 21.2"/>
<path d="M1018.8 262.8l13 4.4 13 6.8 13.1 8.9 13 11.2 13 13.3 13.1 15.4 13 17.4 13 19.3M1364 798.2l26.1 35.4 26.1 31 26 27.2 16.3 15.1 13 11.1 29.4 22.4 26 17.5 45.6 26.3 35.8 18.2"/>
<path d="M238.7 1159.3l26.3-0.2M1905.3 1097.4l13.1-1"/>
<path d="M439.9 910.5l12.1-2.5 9.1-2.8M1595.6 869.5l27.2 21.6 27.2 23.2M1692.2 951.9l18.1 16.4M1906.4 1104.4l21.2 7 15.1 3.9 18.1 3.7 21.1 2.5"/>
<path d="M414.4 926.6l12.6-2.3 9.4-3.3 15.8-8.3 9.4-6.6"/>
<path d="M1969.4 1135.4l74.5-4.7"/>
<path d="M1486.3 778.2l21.5 12.8 21.5 14.2 17.9 13 21.5 17.4 21.4 18.9 17.9 17.1 43 44.6"/>
<path d="M269.6 1138l11.1 0M848.5 471.1l29.6-22.7 14.9-10.3 14.8-9.2 22.3-11.7 18.5-7.5 11.2-3.6"/>
<path d="M255.5 1146l28.3 0M804.2 526.8l28.3-24.9 25.3-20.1 28.3-20.1 25.3-15.3 28.3-14.2 25.3-9.3 18.9-4.9 18.9-2.5M1378.1 677.2l66.2 54.8 31.5 27 31.6 28.4 28.3 27.4M1816.4 1042.5l50.5-6"/>
<path d="M320.7 1023.5l16.1-2.2 9.6-2.9 9.6-3.9 12.9-7 9.6-6.5 19.3-15.6M1290.6 720.9l22.5 25 28.9 29"/>
<path d="M1104.6 492.8l49.1 75.8 22.9 32.7 13.1 17.2 16.4 20.2 19.6 22.1 19.7 19.4 16.3 14.5"/>
<path d="M1914.9 1112.7l67.8-4.8"/>
<path d="M269.2 1113.7l20 0 10-1"/>
<path d="M413.2 871.1l10.2 0 10.1-1.5 13.6-3.4 10.1-3.7 13.6-6.5 10.1-5.9 13.6-9.3 10.1-8.1M2112.1 1197.3l30.4-0.9"/>
<path d="M362.7 978.2l13.4-0.4 13.4-3.3 10-4.1 13.4-7.4M1478.2 893.5l23.4 17.5 20.1 14"/>
<path d="M375.4 992.1l21.2 0M917.9 264.8l9.1-5.7 9.1-4.7 9.1-4 9.1-2.9 9-2 12.2-0.9 15.1 1.6 15.2 4.6 9.1 4.2 9.1 5.3 9.1 6.5 9 7.5 18.2 18.3"/>
<path d="M1433.1 734l31.9 29.1"/>
<path d="M833.4 332.4l14.6-21 14.6-18.5 11-12.3 14.6-13.9 14.6-11 10.9-6.5 14.6-6.3 14.6-3.7 14.7-1.1 14.6 1.4 14.6 3.8 14.6 5.8 14.6 7.9 14.6 9.7 14.6 11.4 14.6 12.9M2067.4 1226.9l40.2 1.9 21.9-0.5 43.8-1.9 47.4-4"/>
<path d="M309.8 1036.2l9.3-0.7 12.3-3.5 15.5-7.6 12.4-8.3 12.4-10.5 12.4-12.4 12.4-14.3 12.4-16.1 24.7-36.5 24.8-41.3 37.2-67.5 71.2-135.2 30.9-56.4 37.2-64.2 31-49.2 21.6-31.7 18.6-25.5 18.6-23.5 18.6-21.8 18.5-19.7 18.6-17.4 18.6-15.1 18.6-12.6M1412.1 840.3l34 30.4M1470.9 892.1l130.1 111.2 43.3 36 58.8 46.7 27.9 20.3 21.7 14.7"/>
<path d="M376.5 982.8l12.8 0 12.9-2.5M1969.4 1135.2l48.2-3.3"/>
<path d="M1774.4 1020l67-3.6"/>
<path d="M239.6 1156.3l26.2 0M815.6 510.5l37.4-44.8 33.7-36.7M2124.7 1208.2l26.2 0.3"/>
<path d="M1931.4 1122.4l48.6-4.4"/>
<path d="M755.2 420l25.7-44 22-33.5 14.7-19.6 11.1-13.2 18.3-18.7 11-9.2 7.4-5 11-5.9 11-4.3 11-2.4 7.4-0.6 7.3 0.2 11 2"/>
<path d="M1301.1 584.8l38.2 43 31.8 38.6 19.1 24.1"/>
<path d="M1315 606.3l90.7 53.4 33.3 20.6 15.1 10.1 18.2 13.4 18.1 14.5 18.2 15.8 18.1 17.4 18.2 18.9 18.1 20.3 18.2 21.7 36.3 47.1 57.5 79.2M1847.4 1060.6l12.1-1.2"/>
<path d="M313.5 1060.9l18.2 0 10.9-1.3M2112 1196.3l25.5 1.9 36.4 1.5"/>
<path d="M280.8 1064.5l21.3-0.1 17.7-3.2 17.7-6.4 10.7-5.5 10.6-6.4M2032.3 1173.8l60.3-2.9"/>
<path d="M1980.9 1218.7l23.1 3.7M2023.2 1224.6l46.2 3.4 38.6 1.1 65.4-2.8 69.4-5.8 34.7-1.7"/>
<path d="M1863.9 1076.3l25.7 6.1 38.4 6.8 32.1 3.9 28.8 2"/>
<path d="M1825.2 1042.6l53.6-5.4"/>
<path d="M521.8 758.9l19.9-3.3 19.9-5.4"/>
<path d="M1908 1098.3l22.3 4.2 19.1 1.8"/>
<path d="M955.7 260.3l13.4-1 13.4 1.5M1478.7 892.8l43.6 33.3"/>
<path d="M388 949.5l17.2 0 6.9-0.8 10.3-2.6 13.7-5.2M2125.3 1202.4l20.6 0.7"/>
<path d="M2029.9 1174.3l39.1-1.6"/>
<path d="M786.9 386.7l14.9-25.3 14.9-23.5 14.9-21.3 14.9-19.1 11.2-12.8 14.9-14.7 11.2-9.1 14.9-9.6 11.1-5.4 11.2-3.5 14.9-2.1 11.2 0.6 11.1 2.1 14.9 5.4 11.2 5.8 14.9 10.2M2090.3 1228l18.7 1 33.5-0.3 33.5-1 33.5-2.1"/>
<path d="M1658 1044.6l27 21.3 33.7 25.1"/>
<path d="M1914.4 1099.1l19-1.1"/>
<path d="M2013 1166.5l20.2-0.9"/>
<path d="M318.9 1049.9l22.9-0.4 9.8-1.9 6.6-2"/>
<path d="M299.1 1073.4l25.5 0 7.3-0.8"/>
<path d="M352.9 985.1l16.8-2.8 13.3-4.4 16.7-8.2 13.4-8.5"/>
<path d="M470.1 871.4l15.4-2.3M2031.8 1175.8l12.3 0.9"/>
<path d="M323.3 1189.1l11.9-1.2 8.9-1.8 11.9-3.5 11.9-4.5 17.9-9.1 17.9-11.9 17.8-14.6 20.9-20.6 20.8-24 20.9-27.1 17.8-25.7 17.9-27.3 35.7-58.7 241.2-424.2M1752.6 1002.6l8.9 0.8 14.9-0.1 68.5-5.6"/>
<path d="M609.2 829.5l57.1-80.2 32.1-46.9 17.8-27.2 39.2-63.6 53.5-93.7M1090.7 320.3l17.8 19.1 21.4 26.2"/>
<path d="M364.6 1000l17.6-0.2 8.7-1.3 8.8-2.3M1831.3 1042.8l29.3-2.4"/>
<path d="M433.9 721.5l25-4.1 28.2-7.1 25-8.7 18.8-8.5 25-13.5 28.2-18.5 18.7-14.5 25.1-21.5M1100.4 494.6l84.4 105 21.9 25.8 28.2 31.1"/>
<path d="M370.7 897.3l11.9-2.6 11.8-4.1 14.8-7.3 11.9-7.7 11.8-9.1 11.8-10.5 11.9-12 17.7-19.9 26.7-32.7 35.5-48.1 97.7-138.6 74-107.5M1167.1 570.5l59.2 93.6 23.6 35.5 26.7 37.6 20.7 27.5 20.7 25.2 17.8 20 20.7 21.6 17.8 17 26.6 22.6 14.8 11.3 26.7 18.2 32.5 19.8 23.7 12.9 17.8 9 44.4 20.6"/>
<path d="M204.2 1185.8l13.6-0.4 17-2.6"/>
<path d="M256 1157.1l9.4 0M1790.9 1030.9l69.1-7.4"/>
<path d="M503.7 1007.7l8.6-11.3 17.3-24.7 17.2-27.2 14.4-24.2M572.7 900.1l34.5-65.2M1821 1048.2l28.8-2.4"/>
<path d="M942.1 263.5l8.8-3.8 8.7-2.9 8.7-2 11.6-1.3 8.7 0.1 8.8 1.2 11.6 2.6 5.8 2.1M1020.6 262l8.7 4.6 11.7 7.6 8.7 6.8 11.6 10.5"/>
<path d="M2151.8 1227l15.3-0.5"/>
<path d="M2148.4 1212.3l31.9-0.7"/>
<path d="M187.4 1197.7l14.9-1.1 18.6-3.2"/>
<path d="M1788.4 1030.9l70.2-5.6"/>
<path d="M289.7 1108.6l21.3 0"/>
<path d="M1851.2 1069.1l31-3.2"/>
<path d="M276.3 1150.9l9.9-0.8"/>
<path d="M1930 1115.9l16 1.1"/>
<path d="M308.2 1059.4l10.1-0.6 13.5-3.4 13.5-6.4 13.5-9.1M486.9 855l43.8-79.3 30.3-51.8 30.3-48.1 27-39.2M1659.6 1045.8l27 19.7 33.7 23.1"/>
<path d="M252.4 1117l20.1 0 6.7-0.7 10-2.1 10-3.3"/>
<path d="M781.5 396.2l19.4-37.4 16.2-28.8 19.4-31 13-18.2 16.1-19.7 16.2-16.1 13-10.1 9.7-5.9 6.4-3.1 9.8-3.5 6.4-1.4 6.5-0.9 9.7-0.1 6.5 0.6 9.7 2.2 12.9 4.9 16.2 9.5 16.2 12.7 16.2 15.5 16.2 18.5"/>
<path d="M346.7 1010.8l14.5-2.5 10.9-3.7 14.6-7.1 14.5-9.6"/>
<path d="M422.2 926.7l12.2-2.2 15.3-5.1"/>
<path d="M386.4 946.3l16.9-3 16.8-6.4 16.9-9.6 13.5-9.9"/>
<path d="M2024 1224.3l44.8 4.1 37.9 1.6 10.3-0.2"/>
<path d="M432.7 870.4l26.5-0.4 14.8-3.4 14.8-5.7M1841.3 1058.1l70.9-8 29.6-2.7"/>
<path d="M377.6 976.3l8.7-1.6 8.8-2.6 8.8-3.9 8.7-4.9M1848.4 1060.4l23.4-1.9"/>
<path d="M738.4 614l100.1-117.8 38-43.1 34.5-37M1166.6 409.8l13.8 18.2 13.8 19.8"/>
<path d="M263.7 1103.4l14.6-1.3 14.5-3.4 10.9-3.8 14.6-6.9M922.7 408.2l10.9-0.2 14.6 1.1 14.6 2.2 14.5 3.7 18.2 6.3 14.6 6.2 14.6 7.4 18.2 10.5"/>
<path d="M254.3 1153.6l18-2.7 14.4-4.2M1109.3 500.3l21.6 26.8M1188.7 598.3l36 41"/>
<path d="M264 1103.6l25.4-0.2 10.9-1.5 10.9-2.6"/>
<path d="M309.9 998.8l22.4 0 9.6-1 12.8-3.2 16-6.6 16-9.6 16-12 16-14.5 16-16.8M1906.4 1100.4l38.4-2.2"/>
<path d="M321.5 1189.6l17.8-5.1 17.8-7.4 17.8-9.6 17.8-12 17.8-14.5 14.3-13.7 17.8-18.7 17.8-21.1 14.2-18.7 21.4-30.6 17.8-27.7 21.3-35.6 17.8-31.5 21.4-39.8 17.8-34.6 28.5-58.2"/>
<path d="M992.5 258.2l16-0.5 12.7 2.4 6.4 2.1 9.5 4.3 16 10.1 9.5 8 9.6 9.2 15.9 18 15.9 21.1 19.1 28.7"/>
<path d="M277.2 1102.9l11.8 0 7.8-0.8 11.8-2.7 7.9-2.8M1189.8 596.8l47.3 62.4M1280.3 712.9l23.6 26.9 15.8 16.9 35.4 34.5M2224.5 1220.6l15.7-1.5 47.2-2.7"/>
<path d="M391.6 905.2l25.8-0.1 12.9-2.1 16.1-4.6 19.3-9M1796.8 1149l29 18.8 29 15.8M1877.4 1193.7l19.3 7.6"/>
<path d="M1381.6 684.1l33.5 18.6 33.5 20.7 26.8 19.2 20.1 16.5 26.8 24.8 26.8 28.3 23.4 26.8 30.2 37"/>
<path d="M875.1 294.9l13.5-14.2 17-15.4 10.2-7.8 13.6-8.6 10.1-5.3 13.6-5 13.6-2.7 10.2-0.2 13.6 1.9 10.1 3.1 13.6 6.5 10.2 6.7 10.2 8.1 13.6 13.2 6.7 7.5 13.6 17.1M1289.1 718.5l20.4 29.9 27.2 34.7 23.7 26.5 27.2 26.2 37.3 31 37.3 27.2 40.8 26.5 30.5 18.8"/>
<path d="M1374 808.5l26.7 29.6 23 23.4 26.7 25.4 22.9 20.2 23 18.6 26.7 19.9 38.2 26.4 42.1 27M2023.7 1224.1l45.8 4.8 34.4 1.6 68.8-2"/>
<path d="M547.8 940.7l29.6-42.9 29.5-44.7 26.2-41 23-37.5 49.1-84.3 75.5-136.3M1489 781.6l32.8 16.3 29.5 17.3 22.9 15.8 26.3 20.6 26.2 23 23 21.8 104.9 106.6M1997.3 1152.1l13.1 1.2"/>
<path d="M404.2 853.2l12.9-0.4 9.6-1.9 9.7-2.8 19.4-8.1 19.3-11.2 19.4-14.4 22.5-20.4 16.2-16.7 22.5-26.3"/>
<path d="M2150.9 1212.8l45.4 1.2"/>
<path d="M356.5 995.5l10.1-1.4 13.4-3.8 10.1-4.3 13.5-7.5"/>
<path d="M389.2 972.5l12.9-2.7 9.7-3.3"/>
<path d="M241.5 1163.8l20.1-0.4"/>
<path d="M306.2 1064.4l26.6-0.2M1930.6 1118.2l46.6-4.6 30-2.1"/>
<path d="M301.4 1059.9l13.7-0.1 10.3-1.4 10.3-2.4 13.7-4.9M781.3 555l34.2-31.8 24-21.4 34.3-28.3 24-18 27.4-18.5 24-13.8 20.6-9.9 20.5-7.5M2011.7 1172.7l41.1-2.2"/>
<path d="M402.5 961.6l9.9-1.3 9.8-2.5M2069 1185.8l9.9-0.3"/>
<path d="M1278.8 556.5l39.2 45.4 33.1 36.2 42.2 42.8 78.3 76.1 42.2 42.6"/>
<path d="M1523.7 931.5l19.5 20.4 26.1 24.3 29.3 24.1 22.8 16.6"/>
<path d="M402.4 875.8l15.6-3.2 9.4-3 9.4-3.9 18.7-10.6 12.4-9.1 9.4-7.8 12.5-11.6 12.4-12.7 18.8-22.1 21.8-28.9 21.8-31.4M1793.4 1147l24.9 18.5 28.1 17.6 25 12.9 21.8 9.2 18.7 6.2 18.7 4.6 31.2 4.7 34.3 2.7"/>
<path d="M846.1 317.8l18.7-30.3 15-21.5 15-18.7 15-15.5 15-11.9 11.2-6.6 7.5-3.1 7.5-2.1 15-1.7 7.5 0.6 7.5 1.6 14.9 5.7 15 9.3 15 12.4 18.7 19.6 15 18.3 18.8 25.6 18.7 28M2172.4 1216.2l63.7-1.2"/>
<path d="M433.5 822.2l11.6-2.8 17.4-5.9 17.3-8.2 14.5-8.4 14.5-10 17.3-13.6 17.4-15.5 20.2-20"/>
<path d="M390.8 994l8.9 0M1824.7 1045.7l76.8-6.8"/>
<path d="M1878.7 1073.6l25.7-1.4 64.1-6.1 25.7-1.9"/>
<path d="M285.9 1092.6l6.9-0.3 10.4-1.7 10.3-3.1 6.9-2.8"/>
<path d="M260.8 1131.2l14.4-2.1 7.2-1.9 10.7-4M858.2 446l14.4-2 7.2-0.3 14.4 0.2 10.8 1.1 14.3 2.7 14.4 3.8 25.2 9 18 7.8 28.8 14.3 97.2 52.9 64.8 33.8"/>
<path d="M280.2 1204.4l19.3-4M306 1198.4l16.1-6.1 12.9-6.3 9.6-5.7 19.3-13.8 19.4-17.3M940.4 265.3l16.1-8 12.9-3.8 9.7-1.3 6.4-0.1 12.9 1.6 6.4 1.6 9.7 3.6 12.9 6.7 16.1 11.3 16.1 14.7"/>
<path d="M304.3 1059.8l23.9 0 10.2-1.8 6.8-2.1M542.7 774.4l51.1-99.9 47.6-89.4 37.5-65.5 34-54.6 17.1-25.2 17-23.5 17-21.6 13.6-15.7 13.6-14.1 13.7-12.5 13.6-10.7 13.6-8.8M1033 434.7l78.3 105.3 27.3 34.7 27.2 32.5 23.8 26.1 27.3 27.2 23.8 21.5 30.6 25.5M2030.7 1176.9l13.6-0.3"/>
<path d="M1786 1024l19 7.2 15.9 4.7 15.9 3.5 19.1 2.5"/>
<path d="M220.8 1163.5l14.7-1.5 18.3-3.9 14.7-4.6 18.4-7.7M1191 598.6l44.1 57M1290.3 720.6l36.7 39.7M1477.7 892.6l29.4 20.9"/>
<path d="M2162.4 1214.4l14.6 0.2"/>
<path d="M260.6 1128.8l23.4 0 7.7-0.6M2223.1 1220.3l23.3-1.7"/>
<path d="M191.8 1200.9l18-1.4M854.8 464.8l28.8-25.6 14.5-11 14.4-10"/>
<path d="M448 629.6l36.8-8.7 21.4-7 15.4-5.8 12.2-5.3 18.4-9.1 33.8-19.9 27.6-19.7 24.5-19.5 33.7-28.7 43-38 30.6-25.1M966.2 401.8l18.4 11.3 21.5 16.2 21.4 19.1 18.4 18.2 18.4 19.6 21.5 24.5 85.9 103.2 24.5 27.5 24.5 25.3 21.5 20.3 21.5 18.5 21.4 16.8 30.7 21.5"/>
<path d="M855.5 462.9l31.3-25.1 25.1-17.9M1434.6 734.5l31.3 28.1M1835.2 1057l53.2-6.6 34.4-3.3"/>
<path d="M243.2 1215.1l12.6-0.5 12.6-1.3 12.7-2.2 15.8-3.9 15.8-5.6 9.4-4.1 22.2-11.9 25.2-18 12.7-10.8 12.6-11.9 22.1-24 22.1-27.5M1769.2 1017.7l56.8-8.2 31.6-3.6"/>
<path d="M2090.5 1194.6l45.3-1.1"/>
<path d="M384.6 951.1l12.2-2.2 12.2-4 12.3-5.5 15.3-8.6"/>
<path d="M463 720.6l11-0.9 24.6-5 19.2-5 16.5-5.6 19.1-8 16.5-8 16.4-9.4 16.5-10.6M893.3 428.1l24.7-6.9 27.4-4.4 13.7-1 19.2-0.3 24.7 1.4M1852.7 1068.6l11-0.9"/>
<path d="M1961.5 1130.9l46.8-3.6"/>
<path d="M341.9 1044.2l10.4-1.8 7-1.9"/>
<path d="M398.1 869.4l25.1-0.2 12.6-2.3 15.7-4.8 15.7-6.9 12.5-7 15.7-10.5 12.6-9.9"/>
<path d="M441.5 918.9l6.8-0.2 6.8-1.1"/>
<path d="M1902.2 1090.8l12.6-0.9"/>
<path d="M388 795.8l22.9 0 16.3-2.5 22.8-5.6 26.2-9.5 29.3-14.5 26.2-15.4 19.5-13.2 22.9-16.9M854.8 461.4l19.6-13.2 19.6-11.2 16.3-7.3 9.8-3.6 13.1-3.7 22.8-4 19.6-0.8 13.1 0.9 9.8 1.3 19.6 4.5"/>
<path d="M788.5 384.5l16.5-26.8 19.8-28.2 13.2-16.1 16.4-17.1 16.5-13.3 16.5-9.7 9.9-4 6.6-1.7 9.9-1.8 6.6-0.5"/>
<path d="M746.7 603.1l107.7-130.7 42.5-49.3M1813.8 1041l97.9-8.2"/>
<path d="M1434.6 733.6l34.4 30.9M1903.6 1095.5l40.6-3.3"/>
<path d="M890 284.9l9.9-7 9.9-5.6M1688.4 1065.8l29.8 26.1"/>
<path d="M407.8 870.8l27.3-0.3 15.1-3.5 12.1-4.1 9.1-4 12.1-6.4 12.1-7.8"/>
<path d="M393.9 957.3l21.5 0 6.1-1.1"/>
<path d="M502.5 629.4l3.2 0 12.4 2.2 68.7 13.4 15.6 1.8 15.6 0"/>
<path d="M266.5 1119.9l13.7-1.7 13.8-3.6M850.6 459.5l17.2-13.8 13.7-9.4 10.3-5.9 13.8-6.3 10.3-3.6 17.2-3.6 13.7-1.1 13.8 0.8 10.3 1.7 13.7 3.7 17.2 6.6 17.2 8.5 17.2 10.3 17.1 11.2 48.1 35.1M1355.7 655l30.9 21.7 17.2 13 17.2 13.9 24 21.1 24.1 23 20.6 21.1 41.2 45.6"/>
<path d="M354.3 1000.3l9.8-1.3 9.7-2.3 9.7-3.4 13-6.1M1975 1138.3l35.6-2.5"/>
<path d="M1996.6 1152.5l13.3-0.6"/>
<path d="M1632.3 901.3l52.7 32.3 27.9 16 34 17.8 24.8 11.3 27.9 10.7 24.8 7.8 27.9 6.6 34.1 5.3"/>
<path d="M460.4 750.9l9.1-0.1 15.2-2.8 21.2-5.5 18.3-6.2 15.1-6.4 12.2-6 15.2-8.7 15.2-9.8"/>
<path d="M332.8 1045.8l25.9 0"/>
<path d="M1911.3 1109.1l20.5 3.3 20.5 1.9"/>
<path d="M178.1 1218l16.2 0.5M214.5 1218.5l16.1-0.9 12.2-1.6 12.1-2.6 16.2-4.7M1690.3 950.8l64.7 51M2232.1 1220.2l12.2-0.4"/>
<path d="M397.8 930.4l6.4-0.1 6.4-0.9 16-4 16-6.7 12.8-6.9"/>
<path d="M953.2 261.5l13.7-8.3 10.2-4.7 10.2-3.4 13.7-2 10.2 0.2 10.2 1.8 13.7 4.9 10.2 5.7 10.2 7.3 10.3 9.1 10.2 10.8 13.6 16.7 10.3 14.3 13.6 21.4 13.6 23.4 10.3 19.2M1342 777.5l20.4 23.6 17.1 16.6 10.2 8.6 13.7 10.2 17 10.3"/>
<path d="M390.9 1000.6l9.5-1.7"/>
<path d="M196.3 1181.7l25.8 0 14.7-1.5"/>
<path d="M957.3 262l9.4-2.9 15.6-2.5M991.7 256.8l9.4 1.2 9.4 2.3M1019.9 263.9l9.4 4.6 9.4 5.7 12.5 9.2 9.4 8.1M1930.3 1122.4l18.8-1.2"/>
<path d="M1768.8 1013.3l18.3 4.7 15.3 2.2"/>
<path d="M264.1 1132.1l19.9 0"/>
<path d="M1604.9 878.7l48.1 35.6 37.1 29.4 29.6 24.8 48.2 43"/>
<path d="M264.2 1153l11.3-1.1 11.3-2.3M2045.5 1225.6l26.3 2.5 33.8 1.7 33.8-1.1 45.1-2.8"/>
<path d="M272.1 1143.8l12.5 0M815.3 509l25-23.5 28.1-24.2 21.8-16.6 18.7-12.3 15.6-8.7 21.9-9.6 18.7-5.4 18.7-2.9M1445.8 748.4l31.2 18.2 37.5 23.7 28.1 19.8 31.2 24.7 25 21.8 31.2 29.6 28.1 28.2 49.9 52.7M1801.7 1038.8l12.5-1 53-6.5"/>
<path d="M438.3 912.5l13.4-2.2 10-2.6M2129.2 1209.2l16.7 0.4"/>
<path d="M2113.3 1198.5l62-1.8"/>
<path d="M1291.1 720.4l17.6 22.7 17.7 20.7 21.1 22.1 21.2 19.3"/>
<path d="M454 813.9l15.4-3.3 21.4-7.2 21.5-10.1 18.4-10.8M1978.3 1144.5l21.4 3.9 21.5 2.5"/>
<path d="M1084.9 315.2l12.3 9.9 12.2 11.7 12.3 13.3 15.4 18.9"/>
<path d="M284.2 1111.9l10.7-0.7 14.2-2.8M854 462.7l17.8-12.2 14.3-8.3 14.2-6.8 17.8-6.4 14.3-3.4 17.8-2 17.8 0.4 14.2 2 17.8 4.5 14.3 5.2 14.2 6.7 17.8 10.2 17.8 12 17.9 13.7 21.3 18.6 21.4 20M1495.1 785.1l21.3 12.2 28.5 18.3 21.4 15.5 32.1 25.8 24.9 21.8 32 29.7 96.2 93.1"/>
<path d="M953.4 406.9l14.4 4.6 14.5 5.8 18 8.3 14.5 7.7 36.1 22.1 36.1 24.7"/>
<path d="M288.9 1114.8l9.9-1.6"/>
<path d="M252.1 1153.8l14.4-0.4 18-3.7"/>
<path d="M349.6 980.7l9.9-1.5 9.9-2.6 13.2-4.9 9.9-4.9 19.9-12.5 13.2-10.3 9.9-8.7M821.8 502.3l19.8-19.9 23.1-21.8 26.4-22.4 29.7-21 26.5-14.5"/>
<path d="M826.9 338.3l23.5-33.3 10.1-12.4 10.1-11 10.1-9.9 10.1-8.6 6.8-4.8 13.5-7.8 10.1-4.1 10.1-2.6 10.1-1 10.1 0.7 10.1 2.3 10.1 3.7 10.1 5.3 10.1 6.6"/>
<path d="M1888 1090l59.1-3.7"/>
<path d="M851 456.6l14.3-11.7 14.3-10.5M1309.2 598.6l25 20.1 21.5 18.5 39.4 37.5 25 26.2 17.9 19.9 57.3 67.6M2125.2 1227.9l39.4-0.6 35.8-2.2"/>
<path d="M398.5 934.1l19.7 0 16.3-3.3"/>
<path d="M234.8 1166.4l18.6-0.2M966.1 404.3l14.8 4.7 18.6 7.7"/>
<path d="M568.8 899.8l125.7-201.3 89.4-146.9"/>
<path d="M1283.4 564.6l35.8 32.6 18 18.2 17.9 19.5 20.9 24.4 14.9 18.7 35.8 48"/>
<path d="M383.8 942.8l20.5 0 6.8-0.6 13.7-3.5 10.2-4.3M1428 853.6l23.9 23.2 27.3 23.6 20.4 16.1 30.7 21.6"/>
<path d="M372.6 1156.4l14-9.1 10.5-7.9 14.1-12.2 10.5-10.2 17.6-19.2 10.5-12.7 17.6-22.8 14-20.1M1046.6 286.5l14 0.3 10.5 1.8 14.1 4.6 10.5 5 10.5 6.3 10.6 7.8 14 12.6 10.5 11 14.1 17 14 19.3 24.6 38.8 17.5 31 14.1 26.5 31.6 63.4"/>
<path d="M271.1 1207.1l14.4-1.8 21.6-5 14.4-4.8 18-7.9 14.4-7.8 14.4-9.1 18-13.7 18-15.9 14.4-14.4 18-20.1 14.4-17.5 18-23.8 14.4-20.4 21.6-32.7 39.6-65.8M569.9 901.9l25.2-45.7M1228.7 497.5l50.4 46.9 43.2 41.4 82.8 80.3 43.2 43.3 54 57.5 39.6 45 36 42.7M2067.6 1187.3l32.4-1.1"/>
<path d="M1546 826.3l22.3 13.1 25.5 16.6 19.1 13.7 25.5 20.1 19.1 16.4 31.8 29.4 73.3 73.6"/>
<path d="M1801.5 1035.8l36.6 4.6 39.6 3.1"/>
<path d="M322.3 1054.9l24.6-0.2M1847.5 1065.8l46.2-4.5"/>
<path d="M758.8 418.7l14.6-25.7 18.3-30.1 14.6-22.1 14.6-20.4 14.6-18.4 14.6-16.1 14.6-13.8 14.7-11.3 14.6-8.7 14.6-6 14.6-3.1 10.9-0.5 14.7 1.9 10.9 3.3 11 5.1 14.6 9.1M1200.8 605.3l21.9 36.9 18.2 28.3 18.3 25.9 25.6 32 21.9 24 18.2 17.2 22 17.9 21.9 15.5"/>
<path d="M452.5 733.8l5.8-0.4 46.6-8 29.1-5.9 26.2-6.7 20.3-7.1M1907.6 1106.8l32 4.3"/>
<path d="M236.2 1214l18.7-1 26.1-3.4 15-3.3 14.9-4.4 11.2-4 18.7-8.3 14.9-8.3 18.7-12.4 14.9-11.8 14.9-13.6 15-15.5 14.9-17.2 15-19.3 14.9-21.2 14.9-23 15-24.9"/>
<path d="M391.4 928.8l28.4 0 3.2-0.5 15.7-4.1 12.6-5.4"/>
<path d="M254.7 1160.4l10.8 0"/>
<path d="M231.4 1171.6l16.5-0.2M1907.8 1102.4l16.6-1.1"/>
<path d="M865 296.9l10-7.9 10-6.7 13.4-7 13.4-4.7"/>
<path d="M302.5 1198.5l19.3-5.2 23.2-10 19.3-11.8 19.4-14.3 23.2-21.5 19.3-21.1 19.4-23.9 23.2-32.8M2123.9 1227.8l50.2-1.7"/>
<path d="M331.5 1031.7l13.5-0.1 6.7-1 10.1-2.6 10.1-4"/>
<path d="M758.2 424.2l22.8-48.9 19.6-39.7 19.5-36.8 16.3-27.1 16.3-23.3 13-15.9 16.3-15.7 9.7-7.2 6.5-3.6 6.6-3.1 9.7-3 6.5-1.2 9.8-0.2 9.8 1.2 6.5 1.8 13 5.5 16.3 10.6 9.7 8 9.8 9.1 19.6 21.4 22.7 28.6M1448.5 871.1l22.8 26.4 22.8 25.2 39 40.4 22.8 21.8 19.6 17.7 29.3 24.9 19.5 15.6 48.8 35.9 26.1 17.5 22.8 14.2 35.8 20.8 22.8 12.1 26 12.4 16.3 6.9"/>
<path d="M309.3 1097.9l10.3 0M1472.3 767.5l27.5 17.5 31 21.2 30.9 23 20.7 16.7 24.1 20.8 20.6 19.1 34.4 34 27.6 28.8"/>
<path d="M1309.8 597.3l19.7 16.4 19.7 17.8 16.4 16 16.4 17.1 36.2 41.4 49.2 62.3"/>
<path d="M211.8 1181.1l11 0 14.7-1.4"/>
<path d="M447.5 858.7l18.2-0.3 27.4-5.4M910.2 271.2l9.1-8.8 9.1-7.5 9.2-6.3 9.1-4.8 9.1-3.5 12.2-2.5 9.1-0.2 9.2 1 9.1 2.1 12.2 4.7 9.1 4.7 9.1 5.8 9.2 6.7 15.2 13.2 21.3 22.1"/>
<path d="M1474.5 770.5l21.7 13.1 18.1 11.8 21.7 16.1 18.1 14.5 32.5 29.7 14.5 14.6 25.3 27.3"/>
<path d="M195.8 1190.9l24.9 0M1977.4 1146.9l39.2-2.5"/>
<path d="M346.1 1177.3l13.8-9.3 17.3-13.6M964.1 267.2l17.3-10.8 13.8-6.1 10.3-2.9 6.9-1.2 13.8-0.5 13.9 2.3 10.3 3.4 10.4 4.7 13.8 8.3 17.2 13.9 17.3 17.4 13.8 16.3 13.8 18 20.7 30.1 17.3 27.5 17.3 29.2 62.1 112.7"/>
<path d="M2014.3 1168l55.7-3.1"/>
<path d="M861.8 303.2l12.3-17.4 12.4-15.5 12.3-13.2 9.3-8.5 12.3-9 9.3-5.3 12.3-5 9.3-2.1 9.3-0.9 12.3 1.2 12.4 3.7 12.3 6 12.4 8.2 9.2 7.5 12.4 11.9 12.3 13.7"/>
<path d="M242.5 1161.3l12.4-1.9 9.3-2.3M1687.7 949.9l27.9 9.1 18.6 5.2 21.7 5.2 34.1 5.9 37.2 3.8"/>
<path d="M442.5 1089.5l15.9-15 19.1-21.7 22.2-29.9 19.1-28.9 22.3-36.4 22.2-39.2 66.8-123.3M1351.9 645.1l41.3 42.8 38.2 36 38.1 33.5 66.8 56.8 41.4 37.3M1984.7 1147.1l19-1.2"/>
<path d="M1801.6 1033.8l15.1 5.5 15 4.6 15 3.5 21 3.2"/>
<path d="M270.7 1132.8l10.7 0"/>
<path d="M345.9 926l6.9 0 10.4-1.3 17.4-4 10.4-3.5 13.8-6 17.4-9.5 20.8-14 20.8-16.9 20.8-19.7 20.9-22.3M1102.2 491.2l45.1 67 34.7 49.4 24.3 32.6 31.2 38.7 13.9 16 17.3 18.7 24.3 24.2 24.3 21.7 34.7 27.7"/>
<path d="M305.4 1093.6l15.5-1.9M2181 1224.9l96.5-4.6"/>
<path d="M446.2 859.4l26.3-0.1 11.7-2.1 8.8-2.5M1906 1105.1l32.1-2.1"/>
<path d="M327.9 1060.7l13.5 0"/>
<path d="M1879.5 1085.8l49.9-4.3"/>
<path d="M343.4 1050.8l13.6-2.4M2013.7 1167.7l17 3.7 17 2.8 34 3.2"/>
<path d="M1431.7 729.5l40.2 34.3 36.6 32.5"/>
<path d="M858.9 447.8l23.7-12.5 20.3-9.3 27.1-10.3 27-8.2"/>
<path d="M530.6 967.3l37.3-52.7 41-61.9 67.2-106.6 134.3-218.8 37.3-57.6 26.1-36.8M1276.7 553.6l126.9 148.8M2231.8 1220.6l48.5-2"/>
<path d="M375.1 1015.6l15-3.5"/>
<path d="M646.2 597l23.7-45.7 20.2-36.8 23.7-39.6 16.9-26 20.3-28 16.8-20.7 16.9-17.9 16.9-15.3"/>
<path d="M266.5 1143.4l13.8 0"/>
<path d="M170.2 1214.8l26-0.6"/>
<path d="M252.6 1135.5l17.3-3.1 6.9-2 13.8-5.6"/>
<path d="M595.7 674.6l41.4-86.1 31.9-60.8 15.9-28.2 19.1-31.9 12.8-20 15.9-23.2 15.9-21.7 16-19.8 15.9-17.8 15.9-15.9 16-14 12.7-9.8 16-10 15.9-7.7M1545.3 951.2l38.3 40 38.2 38.1 28.7 26.4 31.9 27 12.7 9.6 9.6 4.9 12.7 3.6 15.9 1.6"/>
<path d="M409.9 1124.6l12.9-11.1 12.8-12.6 12.8-14.4 12.8-15.8 16-21.7 12.9-18.8 16-24.6 16-26.2M935.6 263.2l12.8-4.6 9.6-2.1 12.9-0.9 12.8 1"/>
<path d="M391.4 945.3l14.9-3.5 14.9-5.9 14.9-8.5 14.9-11"/>
<path d="M399 897.2l21.5-0.3 9.3-1.9 12.3-4.1 9.2-4 9.2-5 15.4-10.2 9.2-7.4"/>
<path d="M308.9 1050.7l30.1-0.3 10-1.8 10-2.8M2007 1158.8l10-0.3"/>
<path d="M1780.8 1019.4l23.6 8.6 26.7 7.5 26.6 5.4 35.6 4.3"/>
<path d="M2153.4 1226.9l11-0.2"/>
<path d="M1041.6 280l6.5 1.8 9.6 3.9 9.7 5 9.6 5.9 19.4 15.3 19.3 19.4 22.5 27 22.6 31.1 22.5 34.3 29 47.2"/>
<path d="M264.2 1122.1l13.7-0.8 13.7-3.3"/>
<path d="M1935.8 1122.8l13.2 2.1 16.5 1.2"/>
<path d="M191.6 1206.5l11 0"/>
<path d="M780.4 557.7l23.8-27.7 30.7-33.9 20.4-21.2 20.5-20 13.6-12.4 20.4-16.8 17.1-12.3 17-10.3M1788.6 1026.7l30.6 12.7 17.1 6 23.8 7 13.6 3.3 20.5 3.8 34 3.8"/>
<path d="M438.4 1095.2l24.7-26.2 17.7-21.1 10.5-13.9 28.3-39.4 35.3-54.4 31.8-52.5 45.9-79.4 123.5-221.4M1296.2 579l49.4 53.6 42.4 43.1 31.8 30.6 98.8 91.5 24.7 23.7"/>
<path d="M322.2 1033.1l17.1-0.6 10.2-2.2 10.3-3.7 6.8-3.3 10.2-6.3 10.3-7.5 6.8-6"/>
<path d="M1729.9 988.7l30.6-1.6 85.8-8.7"/>
<path d="M861.3 302.3l17.8-24.8 14.8-18.4 14.9-15.8 14.8-13 11.9-8.3 14.9-7.4 14.8-4.1 5.9-0.6 9 0.1 8.9 1.6 5.9 1.8 11.9 5.3 11.9 7.7 14.8 13 14.9 16.5 14.8 19.6 14.9 22.6 14.8 25.3M1297.8 724.5l17.9 25.6 14.8 19.1 17.8 20.8 20.8 21.3 17.8 16 17.9 13.9 23.7 16.1 17.8 10.4"/>
<path d="M374 1003.5l10.5-0.7 10.5-2.5 7-2.5"/>
<path d="M1690.1 953.4l24.8 16 31.8 22.7 28.3 21.6 28.4 22.8"/>
<path d="M1784.1 1028.2l76.9-5.8"/>
<path d="M358.1 997.7l27.7-0.1 13.9-2.6M2068.7 1184.9l58.9-3"/>
<path d="M716.3 484.7l35.4-68.4 14.1-25.2 17.7-29.7 14.1-21.9 14.1-19.9 14.2-17.7 14.1-15.4 14.1-12.8 10.6-7.7 14.2-7.8 10.6-3.9 10.6-2.2 14.1-0.3 14.1 2.9 7.1 2.4 7.1 3.4"/>
<path d="M2125.8 1207.6l26 0.6"/>
<path d="M2181.9 1225.1l11.5-0.5"/>
<path d="M462.5 800.9l19.6-3.8 8.4-2.4 14-5.1 19.6-9.2 16.8-10.2M1656.3 1044l28 27.9 30.8 27.4 25.2 19.9 5.6 3.4 8.5 3.5"/>
<path d="M1334.5 624.1l34.7 26.4 20.9 17.1 24.3 21.3 24.3 22.8 31.3 31.7 20.8 22.2 24.3 26.9 24.3 28"/>
<path d="M1602.9 876.4l19.8 14.9 23.1 19.3M1969.1 1136.4l33-3.3 26.3-1.9"/>
<path d="M1935.6 1122.9l16.1 1.7"/>
<path d="M1978.2 1142.6l19.5 1.7"/>
<path d="M292.1 1043.6l27.4 0 10.3-1.2 10.3-2.6 10.2-3.7 17.1-8.4"/>
<path d="M457.3 779l16.1-3.7 9.6-3.4 9.7-4.4 16.1-9.7 16.1-12.2 12.9-11.7 12.9-13.1 16.1-18.3 9.6-11.8 16.1-21.6 32.2-47.1 83.7-133.1 35.5-53 32.2-43.1 16.1-19 12.8-14.1"/>
<path d="M1857.1 1071.4l63.4-5.8"/>
<path d="M1997.7 1154.9l24.3-1.5"/>
<path d="M956.8 262.7l14.1-2.6 7-0.1 7 0.8"/>
<path d="M260.2 1127.3l15.9-0.8 15.9-3M1847.7 1063.3l34.9-2.8"/>
<path d="M2013.7 1173.1l83.6-4.7"/>
<path d="M1666.3 1047.2l22.5 23.5 19.2 18.6 19.3 16.7 19.2 15.4 22.5 15.8 12.8 7.7 12.8 4.8 12.8 2.6"/>
<path d="M272.4 1128.6l10.5-1.3 10.6-2.5"/>
<path d="M514.3 678.5l77.1 14.8M1687.6 947.2l23.4 21.6M2217.2 1219.2l10.1-0.5"/>
<path d="M365.4 892.6l20.2 0 6.7-0.7 16.8-3.3 16.8-5.2 16.8-7.2 16.8-8.8 16.9-10.6 20.1-14.6M812.5 514.4l23.6-24.9 20.1-19.6 16.9-14.8 16.8-13.2 20.1-13.7 13.5-7.7 16.8-7.7 16.8-5.9"/>
<path d="M1095.4 330.1l13 9.9 16.2 14.4 19.5 20.3 16.3 19.1 16.2 20.4 22.8 30.8 58.5 83.5"/>
<path d="M1402.8 701.9l46.3 35.5 86.1 62.3 33.1 25.9 23.1 19.4 26.5 24.4 29.8 29.8 26.5 28.7 39.7 45.9"/>
<path d="M183.2 1213.9l10.2-0.1M1859 1073.6l61.2-5.5"/>
<path d="M653.6 751.1l53.3-73.1 89.9-128.6 26.6-37.2 36.7-47.9 26.6-31.3"/>
<path d="M1997.3 1150.5l27.1 8.9 30.4 7.3 27 4.1 23.6 1.8"/>
<path d="M349.7 1172.1l18.2-9.5 18.2-12.2 18.2-14.8 18.2-17.8 18.3-20.5 18.2-23.1 18.2-25.5 18.2-28M2128.3 1208.2l32.8 1.6"/>
<path d="M467.6 802.6l15.5 0 12.3-2.1 18.5-5.9 15.5-7.6M862.8 298.4l18.5-16.5 18.5-13.3 18.6-9.9 12.3-4.7 9.3-2.5 9.2-1.7 9.3-0.9 9.3 0 12.3 1.2 15.4 4.1 18.6 7.8M1020.2 265.4l12.4 7.9 9.3 7"/>
<path d="M169.4 1204.4l21.5-0.7 17.9-2M1964.1 1132.8l32.2-1.8"/>
<path d="M217.5 1158.4l14.2-1.2 17.9-3.8 17.8-6.3 17.9-8.7M970.6 401.7l21.4 14.9 14.3 11.6 21.4 18.8 21.4 20.1 85.7 84.4 32.1 29.4 32.1 27.4"/>
<path d="M2125.2 1199.9l30.9 1.5"/>
<path d="M772.6 403.5l23-48.4 20.2-39.6 20.2-35.7 20.2-31.1 17.3-21.9 11.6-12 8.6-7.6 14.4-10 8.7-4.1 8.6-3.2 8.7-1.8 8.6-0.6 8.7 0.6 8.6 1.6 8.7 2.9 8.7 3.9 17.3 10.8 17.3 14.4 11.5 11.4 11.5 12.5 23.1 28.8 20.2 28.9"/>
<path d="M339.3 1019.1l13.6-0.6 6.8-1.4 10.2-3.3 13.6-6.5 13.6-9.2"/>
<path d="M608.2 830.2l96.2-117.4 38.4-49.8 44.9-61.3 92.9-133.2 25.7-34.5 22.4-28.3M1076.1 309.4l12.8 1.3 12.9 3.2 12.8 5.1 12.8 6.7 16 10.9 12.9 10.4 16 15.1 16 17.2 22.4 27 25.7 33.9 28.8 40.8 76.9 112.1 51.3 70.5 44.9 57.9 48.1 57.9"/>
<path d="M2032.8 1176.1l19.9 1.3"/>
<path d="M850.6 460.4l21.6-15.3 18.1-10.8 14.4-7.5 18-7.6 14.5-4.7 18-3.9 18-2 18.1 0.1M2145.6 1210.7l18.1 0.7"/>
<path d="M388.5 954.2l9.2-0.3 12.3-2.7 12.2-4.4 12.2-6.4M1906.9 1108.3l45.9-3.6"/>
<path d="M265.2 1098.7l29.7-0.1 11.2-1.4 11.1-2.5M2147 1212l14.8 0.4"/>
<path d="M375.1 964.5l15.4-2.4 12.3-4 15.4-7.7 15.4-10.3"/>
<path d="M421.2 929.5l6.4-0.1 6.5-1.1 12.9-4"/>
<path d="M814 509.4l28.2-22.9 21.1-15.1 24.7-15.4 17.6-9.8 28.2-13 24.7-9 21.1-5.8 24.7-4.2M2075.2 1188.6l21.1-0.4"/>
<path d="M1709.9 969.5l35.1 21.4 28 18.8 28.1 19.8 45.6 33.5M2008 1156.4l14 4.1 14 3.2 14 2.3 21.1 1.9"/>
<path d="M262.4 1143.4l16.1 0"/>
<path d="M377.4 973.1l16-3.3 16.1-6.3"/>
<path d="M1995.3 1149.6l17.5 4 17.5 3 17.5 2.2 21 1.4"/>
<path d="M421.5 855.2l15-3.6 14.9-5.6 12-5.9 11.9-7 15-10.6 14.9-12.1 24-23"/>
<path d="M379.3 972.5l20.3 0 13.5-2.2M1587.1 983.5l27 31.2 23.7 24.8 27.1 25.1 23.7 19.7 23.7 17.5 30.4 19.6 30.5 17.1 30.4 14.8"/>
<path d="M1100.5 491.2l47.6 69 37.4 50.7 34 41 20.4 21.6 23.8 22.5"/>
<path d="M235.9 1169.2l11.2 0M1262.8 537l29.8 31 29.8 33.2 44.6 54.2 41 51.8"/>
<path d="M493.9 1017.5l12.1-8.4 9.1-7.3 12.1-10.9 12.1-12.2 15.1-17.3 12.1-15 27.2-36.9 21.2-30.9 30.3-46.3 136.1-215.4 57.5-88.4 30.3-44.7 21.1-29.8 18.2-24.5 18.1-22.8M1086.9 320.4l12.1 4.2 12.1 5.7 12.1 7.1 12.1 8.5 12.1 9.7 12.1 10.9 15.1 15.1 12.1 13.2 18.2 21.2 27.2 34.1 96.8 130.2 45.4 58.5 42.3 50.9 24.2 26.9 21.2 22.3 30.3 29.8 30.2 27.9 99.9 85.5 36.3 32.2 45.4 42.4 42.3 41M1906.8 1101.5l57.4-6.1 27.3-2.3"/>
<path d="M364.2 948l23.9-0.4 10.3-2.2 10.3-3.3 10.2-4.4 10.3-5.5 10.2-6.6 13.7-10.4M962.5 405.8l20.5 2"/>
<path d="M416.5 1117l8.9-6.4 11.8-9.8 17.8-17.5 20.7-24.7 20.8-28.8 23.7-36.9 23.7-40.1 59.3-108.9M1036 274l8.9 0.2 14.8 2.8 11.8 4.3 11.9 6 11.9 8 11.8 9.5 11.9 11.1 11.8 12.7 11.9 14.3 14.8 19.6 23.7 34.8 29.7 48.2 50.3 85.8M1836.3 1057.5l41.5-4.7"/>
<path d="M447.9 848.9l26.1-0.3 11.5-1.9 14.5-4M1885.5 1089.1l43.5-4.3"/>
<path d="M337.2 1038.8l13.6-2.2 10.1-3.1 6.8-2.7"/>
<path d="M2043.4 1183.1l50.7-2.7"/>
<path d="M959.8 264.2l11-2.7 14.7-2.1M1018.7 261.8l18.4 5.9 14.7 7.4 14.7 9.8 14.7 12.5 14.7 15 14.8 17.6 14.7 20.1 14.7 22.5M1397.7 829.5l18.4 20.7 18.4 18.7 14.8 13.7 22 18.9 14.8 11.7 22 16.1 44.2 28.8M2060.2 1226.8l47.8 2.6 51.6-1.1"/>
<path d="M494.5 798.6l17.7-4.5 17.8-6.3M887.7 286.4l8.9-8.1 11.8-9.4 8.9-5.9 8.9-5 8.9-4 8.8-3.1 8.9-2 11.8-1.2 8.9 0.3 8.9 1.2 8.8 2.2 8.9 3.4 8.9 4.3 11.8 7.2 17.7 14"/>
<path d="M1722.4 979.4l20.3 14M2087.7 1189.6l10.1 0.7"/>
<path d="M229.3 1171.1l17.8-0.1"/>
<path d="M394.1 910.1l10.6-1.1 10.7-2.4 10.7-3.5 10.6-4.7 14.2-8.2 10.7-7.3 14.2-11 10.6-9.4M813.1 510.9l28.4-23.1 24.9-18.7 21.3-14.5 21.3-12.5 24.8-12.2 24.9-9.5 14.2-4.1 10.6-2.3 17.8-2.5M2098.5 1228l10.6 0.5 17.8-0.2 49.7-2.5"/>
<path d="M228.5 1172.3l19.8-2.4M919.5 407l15.9 2.3 15.9 4.1 11.9 4.1 15.9 6.9 15.9 8.1 11.9 6.9 27.8 18.8 31.8 25.5 27.8 24.7 99.3 96.2 27.8 25.9M2214.3 1221.8l43.7-1"/>
<path d="M329.6 1023.6l6.9-0.2 10.4-1.6 6.9-1.9 10.4-4.1 17.3-9.8 20.8-16.6"/>
<path d="M408.3 877l26.6 0 14.8-3 20.6-7.6 20.7-11.2M1279.2 556.5l59 71.9"/>
<path d="M1194.4 598.7l25.2 43.1 25.2 39.5 18.9 27 25.2 31.6 22.1 23 22 19.4 22.1 16.4 25.2 15.3M1821.3 1051.8l37.8-4.1"/>
<path d="M363.9 899.8l10.2-1.3 10.1-2.2 20.4-7.2 10.1-5 13.6-7.8 10.2-6.9 13.5-10.2 23.7-20.7 20.4-20.3 27.1-29.7 37.3-44.7"/>
<path d="M2014.2 1164.6l25.2-1"/>
<path d="M684.7 533.3l21.1-33.8M1109.5 497.8l42.2 62.9 17.5 24.8 21.1 28.3 17.5 21.9 21.1 24.7 14 15.4 21.1 21.4"/>
<path d="M270.8 1121.9l16.3 0 6.6-0.7"/>
<path d="M421.8 910.2l16.3-3.3 16.3-6.5"/>
<path d="M252.2 1213.3l16.3-1.1 13.1-2.2 16.3-4.6 16.4-6.5 16.3-8.6 13.1-8.5 16.3-12.6 16.4-15.1M918.9 267.9l13.1-12.9 16.3-13.1 13.1-8 16.3-6.9 13.1-2.5 9.8-0.3 6.5 0.6 13.1 3.2 13.1 5.8 13.1 8.4 16.3 14 16.3 17.8 13.1 16.6 16.4 23.8 16.3 26.7 32.7 59.8"/>
<path d="M1189.1 595.6l32.6 51.5 25.3 37 21.7 29 25.3 30.3 21.7 22.8 14.5 13.6 10.8 9.2 25.4 19.2 25.3 15.8"/>
<path d="M284 1061.9l19.5-0.1 9.8-1.5 9.8-2.4 16.3-6.1 9.7-5.1 9.8-5.9M1193 599.5l16.3 25.3 32.6 47.3 19.5 26.4 26.1 31.9 16.3 18 26 26 26.1 22.3 22.8 17.3"/>
<path d="M259 1214.5l25.5-1.6 22-3.3 10.9-2.6 14.6-4.3 22-8.9 21.9-12.1 21.9-15.6 21.9-19.2 22-22.8 21.9-26.9 21.9-30.5 18.3-28.2 21.9-37 25.6-46.8 25.6-50.2 25.6-52.7 29.2-62.4"/>
<path d="M222.1 1175.1l14.1-1.4 10.5-2"/>
<path d="M757.9 421.8l30.5-50.3 22.8-33.7 22.8-29.2 11.4-12.6 11.5-10.9 7.6-6.4 11.4-8 11.4-5.9 11.4-4.4 7.6-1.8 11.5-0.9 11.4 1 7.6 1.8M1168.9 573.4l22.9 34.1 19 26.1 19 23.8 22.9 25.5M1656 1042.3l22.9 22.4 22.8 20.6 22.9 18.7 19 14.2 19 13 26.6 16.3 22.9 12.4 22.8 10.9M2124.1 1228.3l49.5-2 30.5-2.5"/>
<path d="M280.5 1079.9l31.1-0.4 10.4-1.7 10.3-3"/>
<path d="M747.7 601.8l20.2-25.6 23.5-28.6 20.1-23 20.2-21.4 16.8-16.5 13.4-12.1 16.8-13.7 16.8-11.9 16.8-10 16.8-8 13.4-4.9 13.4-3.3 16.8-2.2 13.5-0.2 16.8 1.5 16.8 3.8M1419.4 719.7l53.8 31.6 43.6 27.5 40.3 28.8 30.3 24.2 30.2 26.3 36.9 34.8 97.4 97.9 37 36M1846 1058.8l13.4 0.5 20.2-1.1 67.1-8.1 33.6-3.1"/>
<path d="M538.4 955.6l20.3-31.9M568.8 907.4l27.1-45.1 43.9-76.4 57.5-105M2013.1 1164.6l23.6 2"/>
<path d="M341.6 1050.3l14.4 0M849.9 463l25.2-29.4M2097.1 1227.9l32.5 0.7 54.1-1.6"/>
<path d="M715.2 485.9l29.7-54.1 25.9-43.1 14.8-22.3 11.1-15.4 22.3-27.3 11.1-11.6 14.8-13.5 11.1-8.3 11.1-6.9 11.2-5.2 11.1-3.5 11.1-1.9 11.1-0.4M1141.3 542.1l25.9 40.8 18.5 27.2 18.6 25.4 22.2 27.6 18.5 20.6 22.2 21.9 26 21.8 22.2 16"/>
<path d="M1727 984.9l73.7 34.2 25.6 10.6 19.2 7.1 19.2 5.9 16 3.9 19.2 3.3 19.2 1.9"/>
<path d="M2012.2 1163.6l21.2 3.6 21.2 2.7 38.8 2.5"/>
<path d="M963.8 405.3l21.6 3.5"/>
<path d="M483.2 749.1l12.6-2.5 15.7-4.8 15.8-6.9 9.4-5.1 15.7-10.1 9.5-7 28.3-24.8"/>
<path d="M288.3 1101.4l24.5 0"/>
<path d="M295.7 1102.3l12.2-1.6M1472.5 890.1l24.4 26.3 27.4 27.3 24.4 22.3 27.5 23 21.3 16.7 36.6 26.6 85.4 57.2"/>
<path d="M366.2 857.2l26.3 0 11.8-2.4 23.4-7.7 23.5-11.1 23.5-14.1 23.4-17.3 29.4-25.5 26.4-26"/>
<path d="M667.6 725.9l74.4-95.4 101.4-126.4 47.3-56.1 20.3-22.4 16.9-17.4M1164.6 408l17 19.9 16.9 22 16.9 23.8 20.3 30M2013.4 1170.8l10.2 0.7"/>
<path d="M411.2 912.2l24.6-0.2 12.3-2.6 12.4-4.3"/>
<path d="M2124.9 1206.3l10.6-0.2"/>
<path d="M207.7 1194.8l11.4-0.4M1423.7 848.7l22.7 23.1 22.8 20.2 30.3 23.7 34 23.3"/>
<path d="M1322.2 752.6l27.9 36.2 21.7 25.3 21.7 22.7 34.1 32.1 37.3 30.9 37.2 27.8 34.1 23.7 46.6 30.1M1871.3 1084l49.7-3"/>
<path d="M957.9 261l13.6 0.5 10.2 2.1"/>
<path d="M1297.4 580l23.4 26.9 20 24.8"/>
<path d="M2013.3 1171.1l14.7-0.4 62.7-4.5 33.1-1.6"/>
<path d="M1778.2 1137.5l24.7 18.1 28.3 18.1 24.8 13.2 21.2 9.6 28.3 10.1 21.3 5.6 21.2 3.7 21.2 1.2"/>
<path d="M821.2 344.2l23.1-31.2 19.8-22.7 9.9-9.5 9.9-8.2 9.9-7.1 10-5.9 9.9-4.6 9.9-3.4 9.9-2 9.9-0.6 6.6 0.2 13.2 2.1 9.9 3.1 9.9 4.3M1693 1068.5l26.4 21.6"/>
<path d="M315.9 1077.4l16.5 0M1273.2 703.9l26.5 37.6 29.8 38.5 26.5 30 13.3 13.5 13.2 12.2 23.2 19.1 16.6 11.6 13.2 8.5 36.5 19.6 33.1 14.7M1978.8 1143.6l13.3 2.6 16.5 1.7"/>
<path d="M317.4 1057l10.2-1.5 10.2-2.9 10.2-4.5 10.2-5.7"/>
<path d="M243.2 1136l23.9 0 15.9-1.8M2215.8 1222.5l59.6-3.2"/>
<path d="M2005.4 1157.4l33.4-1.2"/>
<path d="M364.9 1162.4l14.2-7.1 17.7-11 17.6-13.4 17.7-15.8 21.2-21.9 17.7-20.6 17.6-22.6 17.7-24.7 17.7-26.6 17.7-28.5 21.2-36.3 17.6-32.2 21.2-40.2 24.8-49.2 45.9-96M955.2 265l14.1-5.5 14.2-2.4M990.5 256.9l7.1 0.3 10.6 2 7.1 2.3 10.6 4.5 10.6 6.1 7 5 17.7 14.9M2022.6 1224.6l45.9 4.1 35.4 1.2 10.6-0.2"/>
<path d="M940.3 264.3l13-6.3 6.4-2.3 9.7-2.4 9.7-1.1 6.5 0.1 6.5 0.5 9.7 1.8 16.1 5.9 16.2 9.1 16.2 11.9 16.2 14.7"/>
<path d="M1366 664.2l49.9 36.3 21.8 17.7 18.7 16.2 18.7 17.3 21.9 21.8 40.5 44.8M1846.3 1066.6l31.2-3.7 15.6-1.1"/>
<path d="M197.1 1200.7l11-0.7M1041.4 443.3l121.2 145.9 62.4 71.2 29.3 31.6 33.1 33.4 25.7 24.4 29.3 25.6"/>
<path d="M378.9 1151.1l9.9-6 9.8-7.1 19.6-17.5 13.1-13.9 9.8-11.7 19.6-26.4M935 261.7l16.4-7.7 16.3-4 13.1-0.8 16.4 2.3 9.8 3 9.8 4.3 13.1 7.4 16.4 12.2 16.3 14.8"/>
<path d="M254.1 1148.4l16.6-2.7 13.2-4.3"/>
<path d="M1268.6 543.8l51.2 52.9 45.2 49.5 45.3 53.4 42.2 53.9"/>
<path d="M497.2 1014.4l13-13 19.5-22.7 16.3-21.6 26-38.9 29.3-46.9 94.2-158.5 45.5-74.3 78.1-124.1 52-80M1046.6 284.2l9.8 1.1 16.2 4.7 13 6 13 8 13 9.8 13 11.5 16.3 16.9 9.7 11.3 9.8 11.8 16.2 21.6 29.3 42.6 29.3 45.9 52 84.2 32.5 49.8"/>
<path d="M766.6 412.6l47.5-101.8 27.1-55.3 23.8-44.5 13.5-23.1 10.2-15.8 10.2-14.4 10.1-12.8 10.2-11.2 10.2-9.2 10.2-7.4 10.1-5.4 10.2-3.3 10.2-1.1 10.1 1.1 6.8 1.9 10.2 4.8 10.2 7 10.2 9.2 10.1 11.2 10.2 13 10.2 15 16.9 28.5 23.8 46 30.5 66.3 44.1 100.5"/>
<path d="M436 904.3l10 0 9.9-1.1M713.8 653.3l46.3-62.8 42.9-61.8M2033 1176.7l56.2-4.2 36.4-2"/>
<path d="M966.4 264.7l11.5-4.6 8.7-2.4 11.5-1.6 8.6 0 8.6 1.2 11.5 3.3 8.7 3.8 11.5 6.5 8.6 6.1 11.5 9.9 17.3 17.8 20.1 25.6 14.4 20.8 11.5 18"/>
<path d="M351.9 979.5l12.9-1.9 9.7-2.9 9.7-3.9 9.7-5 12.9-8.1 9.7-7.2 19.4-16.8M1485.8 894.2l58.1 63.7 38.8 39.9 22.6 21.8 16.1 14.7 16.2 14 19.4 15.8 25.8 19.5 22.6 16 42 26.6 42 23.5 25.9 13 22.6 10.1"/>
<path d="M268 1141.9l12.9 0"/>
<path d="M282.2 1110.6l14.6-0.2 14.5-2.6M934.8 258.5l14.6-5.4 7.3-1.5 10.9-0.5 11 1.3 7.3 2 7.3 2.7 7.3 3.8M1266.6 700.2l14.6 20.1 18.2 22.7 14.6 16.2 14.6 14.6 18.2 16.4 14.6 12.1 21.9 15.8 21.9 14.7"/>
<path d="M1385.1 818.4l18.2 15.4M1819.5 1047.8l27.3-2.1"/>
<path d="M1867.1 1077.2l45.7-4.7"/>
<path d="M1930.9 1115.9l20.2-1 57.2-5.9 30.2-2.4"/>
<path d="M353.3 1168l17.7-5.8 17.7-8.9 17.7-11.5 17.6-14.4 21.3-20.5 17.6-19.8 21.3-26.4 21.2-29.3 21.2-31.8 24.8-39.3 28.2-48.1 21.3-38.3 24.7-47.1 17.7-35.7 24.8-52.3 24.7-55.7M852 313l21.2-36.4 17.7-25.3 10.6-12.7 10.6-11.1 10.6-9 10.6-7.3 7.1-3.9 10.6-4.2 10.6-2.6 10.6-0.8 10.6 0.8 10.6 2.4 10.6 3.9 10.6 5.2 10.7 6.4 10.6 7.8 14.1 11.6 10.6 10.1 17.7 18.5 14.2 16.2 28.2 35.6 28.3 39.4 31.9 48 35.3 57.2 42.5 71.6"/>
<path d="M330.8 1040.6l12.7-0.2 9.5-1.3M854.7 463.5l19.1-10.6 12.7-6 15.9-6.3 12.7-3.8 15.8-3.5 12.7-1.7 12.7-0.5 15.9 0.7 12.7 1.6 12.7 2.8 12.7 3.6 15.9 5.9 15.9 7.2 12.7 6.7 15.9 9.5 15.8 10.6M1908.9 1099.4l44.5-4.2"/>
<path d="M174.6 1220.2l31.6 0.4 24.7-1.4 17.5-3.5 21.1-7.1M1208.8 618.3l21.1 29.3M1937 1114.5l35.2-2.3"/>
<path d="M1848.3 1064.4l12.4-1"/>
<path d="M271.4 1106.1l14.1-1.7 10.6-2.9 10.6-4.2 10.6-5.4M1502.6 908.5l21.2 20.3M1569.7 971.6l35.2 30.5"/>
<path d="M426 907l13.9-1.1 14-3.3M1301.8 729.7l20.9 27.3 17.5 20.9 20.9 23.3 20.9 21.1 17.5 16 20.9 17.3 21 15.5 27.9 18.2M1479.7 895.4l21 11.7"/>
<path d="M870.7 294l11.2-8.1 11.2-6.4 7.4-3.5 11.2-3.8"/>
<path d="M437.2 925.2l11.8-2.3M1926.8 1114l11.8-0.7"/>
<path d="M1693.7 1066.8l22.7 18.5"/>
<path d="M331.9 1051.7l10-0.6 13.5-3.3"/>
<path d="M223.2 1155.1l16.7-0.1 13.5-1.9 16.8-4.9 13.4-5.8"/>
<path d="M328.7 1188l13.4-6.5 10-5.9 20.1-14.2 23.4-20.7 23.4-24.8"/>
<path d="M828.9 337.8l18.7-29.3 9.4-12.9 9.3-11.3 9.4-10.1 9.3-8.5 9.4-7.1 9.3-5.5 9.4-3.8 9.3-2.4 9.4-0.9 9.3 0.7 9.4 2.3 9.3 3.7 9.4 5 12.4 8.6M1823.1 1055.1l37.4-2.9"/>
<path d="M261.3 1136.8l19.4 0M1480.2 893.6l42 40.3 84.1 76.9 42 36.6 51.7 42.2 42 31.3 19.4 13.1 19.4 12 32.4 17.2 16.1 7.3 13 4.9"/>
<path d="M1762.4 1011.2l16.1 0.2 16.1-0.9 90.3-9.2"/>
<path d="M1157.9 399l24.9 28.9 17.8 22.8 21.3 29.7 28.5 42.5"/>
<path d="M194.2 1202.4l13.8-1.1M858.3 449.1l20.6-11.5 24.1-11.2 17.2-6.2 17.2-4.5 17.2-2.7 17.2-0.9 13.8 0.7 17.2 2.8M1904.3 1103.7l48.2-4.2"/>
<path d="M484.3 1038.1l14-19.4 24.4-36.6 38.5-63.2M568.2 906.8l31.4-55.7 31.5-57.5"/>
<path d="M440.8 878.9l19-4.3 9.5-3.3 15.8-7.3"/>
<path d="M172 1202.9l18.8-0.6 18.8-2.6M540.4 776.2l60.1-118.8 26.4-50.5 33.8-61.2 26.3-43.6 26.3-38.8 15.1-20.3 11.2-13.9 15.1-17 11.3-11.6 15-13.9 15-12M1412.5 840.4l26.4 26.7 30 29.1 75.2 69.4 52.7 45.8 52.6 43 45.1 34 18.8 13.2 26.3 17.2 45.1 27 22.6 12 22.5 11"/>
<path d="M352.5 1027.1l7.4 0 11-1.4M2147.4 1210.8l36.7 4.2 22 1.2 22 0.2"/>
<path d="M206.7 1193.7l15 0"/>
<path d="M779 396l28-47.4 14-21.3 14-19.3 10.5-13.1 10.5-11.7 10.5-10 10.5-8.6 10.5-6.9 10.5-5.1 10.5-3.5 14-1.7 10.5 0.7 10.5 2.5 10.5 4.3 10.5 5.9"/>
<path d="M203.7 1194.1l16.1 0M1736.7 993.8l25.6-1.2 80.2-7"/>
<path d="M480.1 726.8l16.9-2.1 10.1-2 16.9-4.6 10.2-3.6 27-12 16.9-9.4 16.9-11M2088.6 1227.8l20.3 1.3 23.6-0.3 40.6-1.7 33.8-2.8"/>
<path d="M307.5 1066.9l15.8 0 9.6-1.2"/>
<path d="M1292.9 576.2l46.1 44 36.2 36.7 49.4 52.7 69.1 75.8"/>
<path d="M1442.3 745.1l34.1 23.5 17 13.5 13.6 11.9"/>
<path d="M1694.4 1065.2l26.3 28.6 26.3 25.8 23 19.6 26.3 18.9 26.3 15.4 19.7 9.3 26.3 9.7 16.5 4.6 13.1 2.9"/>
<path d="M447.4 881.1l8.4-1.9 11.3-3.6 16.9-8"/>
<path d="M925.4 406.9l14.4 3.2 23 6.4 77.8 26.2M1262.5 536.4l23.1 16 28.8 22.4 28.8 25.7 28.8 28.8 31.7 35 31.7 37.8 34.6 43.9 40.3 53"/>
<path d="M466.5 773.9l8.8-0.4 17.8-4.4 14.8-6 14.8-8 11.8-7.9 14.8-11.9 17.7-16.7 14.8-16.1"/>
<path d="M399.5 930.1l15.4-3.8 18.4-6.3 12.3-5.5 15.3-8.5M958.5 404l15.3 5.4 15.4 6.9 15.3 8.2 21.5 13.4 24.6 17.8 24.6 19.2 52.2 43.3M1950.5 1125.9l18.4 2.5"/>
<path d="M304.7 1051.4l32.7-0.3 10.8-1.8 10.9-2.8M921 411l21.8-4.9M1537.3 817.2l25.4 19.2 32.7 26.6 32.6 28.9 32.6 30.6"/>
<path d="M415 913.9l9.9-1.5 13.2-3.3 19.7-7.5M2069.9 1185.9l26.3 2.4"/>
<path d="M262.4 1132.6l20.3 0M1374.4 810.6l20.3 19.6 20.2 17.8 23.7 18.9 23.7 17.4M1475.8 893.8l47.3 31.5"/>
<path d="M2170.3 1226.2l22-1.5"/>
<path d="M1698.9 1069.9l19 17.7M1794 1148.1l28.5 17.7 22.2 11.4"/>
<path d="M364.5 943.6l12.5-0.2 9.4-1.7 12.5-3.6 12.5-5.3 12.5-6.9 9.4-6.2 12.5-9.9 12.5-11.3M1290.3 721.6l28.2 32.4 15.6 16 15.6 14.7"/>
<path d="M636.5 784.9l135.7-193.4 45.2-62 30.1-38.5 26.4-31.7 22.6-24.9 18.8-18.7M1148.9 386.9l15.1 13.9 15.1 15.4 26.4 30.5 33.9 43.8 56.5 77.7 22.6 30 26.4 33.2 22.6 26.5 22.6 24.9 22.6 23.3 22.6 21.7 71.6 65.9"/>
<path d="M303 1096.8l14.2 0"/>
<path d="M272.6 1145.1l13.9-2.2M533.8 784.6l52.2-99.8 38.3-69.8 38.3-65.9 31.4-50.4 31.3-46 17.4-23.5 17.4-21.5 24.4-26.7 13.9-13.3 10.5-9M1435.7 860.6l20.9 23.2 31.3 32.5 31.4 29.3 27.8 23.5 20.9 16.1 24.4 17.5 94 61.8M1693.4 1069.3l24.4 16.4M1947.6 1214.4l20.9 4.3 17.4 2.7 27.9 2.8 31.3 1.8"/>
<path d="M1100.2 333.7l20 19.2 20 21.2 20.1 23 23.3 28.2 73.5 94.5 43.4 57.5 40.1 54.5"/>
<path d="M406.6 836.2l12.5-2.5 9.5-2.8 18.8-7.8 12.6-6.7 9.4-5.8 18.9-14.2 25.1-22.7 25.2-26.8 25.1-30.3 28.3-37.3M1198.7 601.7l28.3 50.4 28.3 45.7 25.1 35.3 12.6 15.9 12.6 14.6 12.6 13.2 12.5 11.8 12.6 10.9 12.6 9.6 15.7 11 15.7 9.8 37.7 20.2"/>
<path d="M1963 1130l16.9 2.6 23.8 2.2"/>
<path d="M2054.5 1182.8l21.5 0.8"/>
<path d="M358.6 971l19.4-4 9.7-3.3 9.7-4.1 16.2-8.6 19.4-13.1"/>
<path d="M859.7 300.2l15.1-14.2 9.1-7 9.1-6 6.1-3.5 9-4 9.1-3.1 9.1-1.9M935.4 259.6l15.2 0.7 9 1.9"/>
<path d="M336.4 1027.5l27.3 0 6-0.7M803.1 527.1l33.4-37.7 27.3-28.6 24.2-23.1 24.3-19.8M1533.6 813.2l18.1 12.1 18.2 13.2 21.2 16.6 21.3 17.7 42.4 38.9 66.7 66.1M1785.1 1026.9l12.1 0.9 12.2-0.4 75.7-8.7"/>
<path d="M482.5 800.9l11.2-2.5 14.1-4.5 11.3-4.8 11.3-5.8M1353.7 646.9l42.3 43.6 31 33.5M1435.4 733.2l22.6 24.6"/>
<path d="M405.2 851l9.8-1.8 9.8-2.6 9.9-3.4 9.8-4.4 19.6-11.4 9.9-7.1 13.1-10.6 22.9-21.3 19.6-21.2 26.2-31.2 26.2-33.9M1200.9 609.3l26.2 32.3"/>
<path d="M488.4 649.5l83.7 15.3 19 1.4 8.1-0.3 8.1-1.3M958.5 405.6l10.8 2.4 18.9 5.8 13.5 5.1 16.2 7.4M1787.8 1030.4l51.4-6.3 29.7-3"/>
<path d="M221.2 1185.6l14.7 0"/>
<path d="M472.3 770.9l10.9-2 16.4-4.7 11-4.3 13.7-6.7 21.9-13.4 13.6-10.2 13.7-11.7M874.6 291.8l16.4-12.5 11-6.3 8.2-3.5M1835.3 1056.4l35.5-3.2"/>
<path d="M644 772.5l58.6-86.9 80.1-121.2 27.7-40.7 37-51.1 33.9-42.1M1167.8 412.7l21.6 24.6 27.7 34.3 24.6 32.2 80.1 107.6M1784 1028.7l49.3-6 21.5-1.9"/>
<path d="M299.9 1106.9l10 0"/>
<path d="M622.5 810.9l40.7-67.1 37.5-63.5M713.3 658.9l28.1-48.4M1802.8 1037l40.7-4.8 12.6-0.9"/>
<path d="M1573.7 973.2l24.7 23.6 24.6 21.7M1633.5 1027.2l21.2 16.7 21.1 15.3 45.7 30"/>
<path d="M171.4 1205.8l31.6-0.2M1500.1 906.4l23.8 22.7M2061.7 1226.6l47.5 2.5 47.4-2 35.6-2.7"/>
<path d="M652.7 586.2l21.4-38.6 17.9-30.2 17.8-28 14.3-20.9"/>
<path d="M392.5 906.4l13.8-1.6 10.3-2.5 10.3-3.9 13.8-6.9 13.7-8.8 10.4-7.9 13.7-11.8 17.2-17.3M1979.1 1218.8l20.7 3.1M2023.8 1224.7l44.8 3.5 37.8 1.3 44.8-2.3"/>
<path d="M860.7 300.8l10.4-12.6 10.4-11.3 17.4-15.6 6.9-5.1 10.5-6.2 10.4-4.5 6.9-2.1 7-1.3 10.4-0.5 10.4 1.2 7 1.9 10.4 4 6.9 3.5 10.4 6.5 7 5.3M1447.6 871.8l34.7 32 34.7 29.5 52.1 41.6 41.7 31.8"/>
<path d="M388.4 995.7l12.2-0.2"/>
<path d="M319.2 1080l10.1-1"/>
<path d="M417.1 1117.9l12.7-11.3 16-16.4 15.9-18.7 15.9-20.6 16-22.4 19.1-29 28.6-48M863.1 303.4l22.3-29.6 12.8-14.8 9.5-10 12.8-12.1 12.7-10.7 12.8-9.1 9.5-5.9 9.6-4.8 12.7-5 9.6-2.4 9.6-1.4 12.7-0.2 9.6 1.3 12.7 3.4 9.6 3.9 9.5 5.2 9.6 6.4 9.5 7.7 9.6 9.1 19.1 22.1 19.1 26.9 19.1 31.8 22.3 42.3 22.3 47 31.9 72.7M1411.1 839.8l19.2 17.3 12.7 10"/>
<path d="M1019.9 265.5l12-1.7 12.1-0.1 15.1 2.5 15.1 5.5 15.1 8.4 15.1 11.4 12.1 11.1 15.1 16.2 12.1 14.8 15.1 20.3 27.2 41 21.1 34.4 60.4 102.9 33.3 54.8"/>
<path d="M402.1 926.4l18.5 0 6.2-0.9 15.5-4.1 12.3-4.9M1931.6 1116.4l49.4-3.7"/>
<path d="M1156.5 397.3l20.1 19.4 23.4 25 26.7 31.2 26.8 32.9 43.4 56.4 103.6 139.5"/>
<path d="M170.5 1213.2l27.7-1"/>
<path d="M385.6 943.9l18-0.2 7.3-1.1 14.4-4.1 10.8-4.5M808.1 515.6l25.3-14.7 28.9-14.2 39.7-17 36.1-13.3 28.9-9 25.3-6.1 25.2-4.2 21.7-1.4"/>
<path d="M268.5 1145.2l7.6-0.6 11.2-2.1"/>
<path d="M363.6 991.2l7.2-0.8 14.4-3.6 10.8-4.6 7.2-4M2169 1226.1l32.3-1.3"/>
<path d="M2226.3 1219.7l58.7-1.1"/>
<path d="M2031.9 1177.1l41.3-2.4"/>
<path d="M233.6 1157.7l14.2-1.5 14.1-3.2 14.2-4.7 10.7-4.8M850.4 458.4l35.5-23.9 28.4-15.3M921.3 415.9l14.2-5.9 14.2-5"/>
<path d="M998.1 414.6l18.5 12.6 14.7 11.5 18.4 15.8 18.4 17.5 29.5 30.1 92.1 101 40.5 42.4"/>
<path d="M358.3 977.6l23.1-0.1 6.7-0.9 13.2-3.5 9.9-4.1"/>
<path d="M410.5 960.1l8.8 0M891.4 287.3l14.6-17.7 14.6-15.2 14.6-11.9 14.5-8.7 14.6-5.4 11.7-1.9 11.6 0.4 14.6 3.3 11.7 4.9 14.5 9 14.6 11.9 17.5 17.5 11.6 13.5 14.6 18.8 20.4 29.1 17.5 27.4"/>
<path d="M849.6 455.7l11.3-8 15-9.3 11.3-5.8 11.2-4.8 11.3-3.9 11.3-2.9 11.2-2 11.3-0.9 11.3-0.1 11.3 1 22.5 4.2 11.3 3.2 15 5.4 15 6.6 11.3 5.7M1473.1 768.3l105.2 71.1 33.8 24.6 37.6 29.5 37.6 31.7 26.2 23.8 41.4 38.9 52.6 51M2216.9 1222.4l37.6-1.1"/>
<path d="M291.4 1085.4l6.9-0.6 10.4-2.2 10.4-3.3 10.4-4.6M541.2 771.3l55.5-104.8 27.8-49.1 13.9-23.2 20.8-33.4 20.8-30.9 20.8-28.3 17.4-21.3M1197 604.3l34.7 45.9M1290.7 722.5l27.7 30.5 31.3 30.5"/>
<path d="M321.9 1046.3l10.1-1.5 13.4-4 13.4-6.4 10.1-6.7M543.3 770.3l20.2-37.1M590.3 683.7l53.7-97.4 50.3-87.8 20.2-33.5 20.1-31.8 16.8-25.3 16.7-23.6 16.8-21.6 16.8-19.6 13.4-13.7 13.4-12.2 13.5-10.4 13.4-8.5 13.4-6.4 13.4-4.7M1422.4 848.1l50.3 53.4 47 46.8 43.6 39.6 33.6 28 16.8 13.1 36.9 27.8 26.8 19.3 36.9 25.7 40.3 27 30.2 18.8 23.5 13.6 26.8 13.9 20.1 9.3"/>
<path d="M259.3 1153.9l10.5-0.8 10.5-2.1M1289.9 721.5l17.6 21.8 17.5 20.4 24.5 26.5 17.6 17.3 17.5 15.8 24.5 19.9 21.1 14.9 17.5 11.4"/>
<path d="M236.3 1215l20.6-3.7"/>
<path d="M1575.8 850.6l35.2 26.4 49.3 40.5 45.8 40.5 49.3 45.1M2012.5 1169.7l28.1 5.2 28.2 2.3"/>
<path d="M1996 1150.6l16.4 1.6"/>
<path d="M234.4 1168.3l13.1-1.5"/>
<path d="M1433.1 734.6l76.2 60.5M1969.8 1133.4l9.5 0.9"/>
<path d="M401 852l18.4 0 6.1-0.6 15.4-3.3 15.3-4.8 18.4-8.2 15.4-8.5 12.2-7.8 18.4-13"/>
<path d="M1375.8 810l12.4 14.1 15.6 16.4 15.6 14.4 15.6 13 15.6 11.5 15.6 10.2 21.8 12.1 15.6 7.5M1843.4 1058.2l65.5-6.3"/>
<path d="M174.9 1221.4l22.3 0.7 26.1-0.3 14.8-1.4 11.2-1.8 14.9-3.7 14.9-5.5 14.9-7 11.1-6.3M934 263.8l11.1-5.6 14.9-4.8 11.2-1.5 14.9 0.9 11.1 2.9 14.9 7 14.9 10.1 11.1 9.7"/>
<path d="M1906 1097.8l34.9-3.9 22.3-1.7"/>
<path d="M849.3 461.9l14.3-13.1 17.9-14.1M1503 791.9l64.3 32.3 35.7 20.2 32.1 21 32.2 24 35.7 31 28.6 27.5 32.1 33 78.6 83.2"/>
<path d="M350 1016.1l22.2-0.1 7.3-0.9 11.1-2.4M2215.5 1219.5l18.4-1"/>
<path d="M1864.9 1075.7l13.5 0.1 13.4-0.6 74-5.9"/>
<path d="M936.9 263.2l9.9-3.5 13.3-2.7 13.2-0.3 9.9 1.3"/>
<path d="M442.3 905.4l12.3 0"/>
<path d="M1845.6 1061.9l52.4-4.2"/>
<path d="M305.3 1085.1l17.4 0M1144.7 547l34.8 49.8 27.9 37 31.3 37.6 24.4 26M1291 723.8l27.9 23.4M2067.7 1185l17.4-0.4"/>
<path d="M460.8 836.6l15.2-3.2 9-2.8 12.1-4.8 12.1-5.8M1297.9 580.2l39.3 47.3"/>
<path d="M236.6 1152.4l28-0.2 10.5-1.5 10.5-2.6"/>
<path d="M385.3 867.3l29.1 0 9.7-1.1 16.1-4.4 12.9-5.5 12.9-7.5 19.4-14.6 19.3-18.3 19.4-21.6M1637.4 1027.7l29.1 30.3 25.8 24.4 22.6 19.2 32.3 24.4 25.8 17.1 32.3 18.5 32.2 15.9 25.8 10.9"/>
<path d="M1821.7 1053.3l69.8-8.7 30.4-2.8"/>
<path d="M405.9 793.3l23.3 0 9.9-1.5 10-2.6 13.3-5 10-4.8 10-5.6 13.3-9 23.2-18.7 26.6-24.9 33.3-35.2 36.6-41.1"/>
<path d="M421.9 873l10.3 0 6.9-0.7 10.2-2.1 10.3-3.2 17.2-7.4 17.1-10.2M922.6 415.8l17.2-5 13.7-3.2"/>
<path d="M482.3 799.2l14.6-3.1 11.6-3.5 11.6-4.5 11.6-5.5M1907.8 1107.7l58.1-4.9"/>
<path d="M224 1217l26-1.4 14.9-2.4 11.1-2.9 22.3-7.7 14.9-7 11.1-6.3"/>
<path d="M347 1045.8l8.8-1.6"/>
<path d="M352.2 950.1l26-0.3 13-2.8 16.2-5.8 13-6.8 13-8.4 16.2-12.8 13-12.1M1978.4 1139.9l16.3 2.7 16.2 1.5"/>
<path d="M356.9 1025l11.9-2 14.8-4.6"/>
<path d="M149 1214.8l25.1 0.8 21.5-0.4M1864.3 1074.1l14.3 0.9 18-0.5 86.1-6.6"/>
<path d="M854.2 305.2l9.9-10.9 10-9.4 9.9-8 9.9-6.5 6.7-3.4 9.9-3.9 10-2.2 9.9-0.6M1202.2 608.8l23.2 35.6 16.6 24.1M1265.2 699.8l23.2 28.5 26.6 28.5 23.2 21.4 23.2 17.6"/>
<path d="M784.7 392.3l16.2-34.5 19.3-37.8 16.2-28.2 16.1-24.8 16.2-20.8 12.9-13.4 16.1-13 12.9-7.1 13-4.2 6.4-1 9.7-0.1 9.7 1.4 6.5 1.6 6.4 2.3 9.7 4.6 6.5 3.7 9.6 6.9 16.2 13.7 19.4 19.9 19.3 23.1M1343.3 778l19.4 25.2 19.4 22.3 16.1 16.2 22.6 19.9 16.2 12.4 22.6 14.7 22.6 12.8 35.5 18.5"/>
<path d="M2070.2 1184.9l10.4-0.3"/>
<path d="M382.7 992.5l12.3 0 6.2-0.8"/>
<path d="M1396.3 697.1l59.5 36 48.9 31.7 35 25.6 35 28.5 41.9 38.6 31.5 31.8 38.5 40.8 66.4 72.6"/>
<path d="M1976.1 1140.3l13.2-0.9"/>
<path d="M512.1 608.2l89.9 17.9 16.1 2.2 12.8 0.6M2131.2 1208.6l22.5 0.7"/>
<path d="M1933.1 1118.3l15.8-1"/>
<path d="M1018.6 263.4l14 2.8 10.5 3.8 7 3.4 17.6 11.3 17.5 15.4 17.6 18.9 17.5 21.9 21.1 29.9 17.5 27.1"/>
<path d="M405.9 879.3l28.6 0 11.4-2.6 11.5-4 11.4-5.2 11.5-6.5 11.4-7.7M1807.5 1039.6l60.1-6.1"/>
<path d="M312.6 1065.9l12.4 0 6.2-0.7M1564 965.9l37.2 38.5 31 30.4 34.1 31.1 27.8 23.2 27.9 21.1 27.9 18.8 12.4 5.1 15.5 2.9"/>
<path d="M853.1 456.6l26.1-23.1"/>
<path d="M2043.8 1225.3l25.5 2.6 36.4 1.9 43.6-0.8"/>
<path d="M449.3 879.2l9.8-0.2 6.6-1.1 9.8-2.6 9.8-3.8"/>
<path d="M155 1218.5l22.6 0.5 18.8-0.6"/>
<path d="M1677.2 938.5l57.3 29.4 8.6 3.4 11.4 2.9 14.4 1.5 17.1 0.1 91.7-5.2"/>
<path d="M365 994.5l9.3-0.1 6.3-1.2 6.2-1.5 9.4-3.4M1939.5 1126l21.9-1.4"/>
<path d="M215.7 1174.8l29.3-0.6"/>
<path d="M388.6 913.6l30.6-0.1 10.2-1.4 16.9-4.5 13.6-5.3"/>
<path d="M1433 733.6l34.3 32.9"/>
<path d="M1866.1 1082.7l19.1-1.3 60.7-6.9 32-2.9"/>
<path d="M474.7 831.1l18.2-4.2 15.2-5.5M1948.2 1214.7l24.3 4.3 33.3 3.5"/>
<path d="M275.8 1111.8l18.2-2.6 14.5-4.2M955.4 404.9l25.4 9.8 21.8 10.1 21.9 11.4 25.4 15.2"/>
<path d="M373.7 1154.4l21.1-10.1 17.6-10.6 21-16 17.6-15.6 21.1-21.1 17.6-19.7 21-26 28.2-37.9 17.5-25.4 24.6-37.3 45.7-73.9 49.2-84.2 98.4-173.7 35.1-59.4 21.1-33.3 17.5-26.2 17.6-24.4 21.1-26.8M1505.1 791.5l91.3 56 35.2 22.4 45.7 31.6 31.6 23.3 31.6 25 42.2 35.5 91.3 81.9 28.1 24.4 24.6 20.2 24.6 18.8"/>
<path d="M319.7 1069.7l13.8-1.8"/>
<path d="M1171.6 421.2l23.7 24.9 20.3 24.3 23.8 31.5 20.3 29M2032.4 1172.7l30.5-1.5"/>
<path d="M288.8 1111.5l6.7-0.5 10.1-1.7"/>
<path d="M450.6 713.6l25.1 0 21.9-4.8 12.6-3.9 12.5-4.9 12.5-5.8 12.6-6.8 21.9-14.6 22-17.7 25.1-25 25.1-29.1"/>
<path d="M497.2 716.9l2.8-0.1 5.8-1.5 20-6 11.4-4 17.1-7.2 25.7-13.7 22.9-15.6M1205.8 613.9l20 27.8"/>
<path d="M1744.6 1000.4l19.3-1.5 61.1-8.7 22.5-2.3"/>
<path d="M436.8 822.2l9.3-0.1 9.4-1.4 12.5-2.7 12.4-3.7 12.5-4.6 12.5-5.5 21.8-11.8M1937 1212.8l18.7 3.9 15.6 2.5 40.6 4"/>
<path d="M229.4 1216.5l26.5-1.5 13.2-2 9.9-2.3 10-2.7 16.5-6 19.9-9.5 19.8-11.5 13.3-9.1 13.2-10.3 23.2-20.7 23.1-23.8M570.3 900.7l26.4-44.7 33.1-58.3M649.7 761.9l23.1-42.5M1017 268.2l9.9 1.7 10 2.9 9.9 4.1 9.9 5.3 9.9 6.2 10 7.4 9.9 8.3 9.9 9.5 10 10.2 13.2 15.1 23.2 30 23.1 33.7 26.5 41.7"/>
<path d="M258.4 1116.7l13.1-2.1 16.3-5.4 13-6.3 16.3-10.5M1165.3 571.2l39.1 60.2 26.1 37.8 29.4 38.8 26.1 30.9 13 14 16.3 16.2 26.1 22.9 29.4 21.6 32.6 20M1866.6 1082.8l58.8-5.4"/>
<path d="M1575.5 975.7l25.5 22.9M1659.2 1045.2l25.4 18.2 32.7 21.6"/>
<path d="M359.3 915.2l9.3-0.2 9.3-2 12.4-3.9 12.5-5.1 9.3-5 12.4-7.8 12.4-9.1 12.4-10.4 24.8-24.1 24.9-27.8 34.1-42.7 31.1-41.9M1479.8 892.8l31 30.5 34.2 31 40.3 33.8 37.3 28.3"/>
<path d="M450.6 851.9l9.1-0.1 15.3-2.7 15.3-4.3 9.2-3.3M1964.8 1133.6l48.9-4.1"/>
<path d="M2013 1169.4l20.3 4.9 20.3 3.6 17 2.2 20.3 1.3"/>
<path d="M1479.5 893.7l26.8 21 16.8 12.1"/>
<path d="M1815.8 1042.2l42.5-4.1"/>
<path d="M147.4 1216.9l46.3 1.3"/>
<path d="M309.1 1051l27.1-0.4 9-1.9 12.1-4.3"/>
<path d="M306.9 1068.5l25-0.1"/>
<path d="M390.7 975.9l12.3-2.8 9.3-3.3"/>
<path d="M426.1 917.2l17.5-3.7 7-2.4 10.5-4.8"/>
<path d="M390.8 986.5l9.5-1.5M1685.6 947.4l31.6 23.3 38 30.8M1999 1150.9l9.5 1"/>
<path d="M285.9 1071.6l13.4-0.3 10.1-1.8 6.7-2 16.8-7.4 16.8-10.8M709.2 492.9l26.9-46.7 30.3-48.8 20.1-29.4 20.2-25.9 10.1-11.5 10-10.2 10.1-9.1 10.1-8 10.1-6.5 6.7-3.5 10.1-4.1 10-2.7M1088.9 479.7l40.3 62.6 37 54.7 33.6 45.5 16.8 21.1 16.8 19.9 30.2 32.8 30.3 28.7 20.1 17.7 16.8 13.7 43.7 32.8M1982.7 1148.4l20.1-1"/>
<path d="M250.5 1135.5l7.4-0.2 11.2-1.4 14.8-3.7"/>
<path d="M453.3 851.6l11.5-1.8 14.4-3.2 11.5-3.7 11.4-4.7M1852.7 1070.3l43.1-4.9 25.9-2.2"/>
<path d="M320.5 1071.4l12.5-1.4M1847.2 1061.2l75.3-6.7"/>
<path d="M208.7 1192.1l10.8 0"/>
<path d="M384.8 872.8l26 0 7.4-0.8 14.9-3.3 14.9-5.4 18.5-9.9 14.9-10.1 14.9-12.1 14.8-14.3M2231.9 1220.8l52-3.2"/>
<path d="M353.1 995.6l13.5 0 10.1-1.2 10.2-2.3 10.1-3.5"/>
<path d="M725.1 633.2l31.7-37.9 31.6-40.8 31.7-43.4 59.9-84.1"/>
<path d="M385.1 993.5l11.6-2.6"/>
<path d="M1432.3 735.1l35.3 24.2 35.3 26.9 31.8 26.8 38.9 36.6"/>
<path d="M231.6 1164.2l28.7 0M1693.2 1068.9l25.2 18.6"/>
<path d="M288.4 1106.1l11.4-1.5 11.4-2.8M1189.1 598.7l45.6 56.6M2150.6 1212.6l38 2 41.8 0.3"/>
<path d="M1860.9 1071l18.9 2"/>
<path d="M421.3 901.9l9.6-0.2 12.7-2.3 9.6-2.9 12.8-5.4"/>
<path d="M1963.3 1129.6l50.5-4"/>
<path d="M315.6 1033.8l23.4 0 10-1.1 10.1-2.6 13.3-5.7M1274 704.4l26.7 39.6 30.1 39.9 20 23.8 20 21.7 10 10.2 16.7 15.3 33.4 27.5 36.8 26 36.7 22.9 56.8 32.9"/>
<path d="M855.6 462.4l20.3-11.6 23.6-10.8 23.7-8 20.2-4.4 23.7-2.5 20.2 0.2 23.7 3.1 20.2 5.1M1686.4 947.7l57.4 40.6 64.1 49.1M2013.9 1161.1l16.9 2.9 16.9 1.6"/>
<path d="M1495.3 904.1l26 23.7M1659.1 1044.8l37.3 28.1 26 18.3"/>
<path d="M2023.5 1224.4l50.7 3.8 32.5 1 14.5-0.4"/>
<path d="M934.8 269.8l17.5-21.6 7.1-7.8 10.5-10.3 10.6-8.9 7-5 7-4.2 10.6-4.8 7-2.3 10.5-1.8 7.1 0 7 0.8 10.5 2.8 7.1 3 10.5 6.2 7 5.2 14.1 13.1 17.6 21.1 17.5 25.9 17.6 30.1 17.6 33.8 17.5 36.6 52.8 117.6M1658.7 1045.6l49.2 41.9 45.7 36.3M1760.6 1129l24.6 17.5 14.1 9.3 17.6 10.7 17.5 9.7 17.6 8.6 17.6 7.5 14 5.1 17.6 5.3"/>
<path d="M286 1114.2l13.4-2M1038.1 441.2l86.9 97 23.4 24.9 30 29.5 23.4 21.4 16.7 14.1"/>
<path d="M467.9 678.9l19.4 0 41.6-8.8 30.5-8.3 13.9-4.8 22.2-9.1 11.1-5.4 16.6-9.2M1818.9 1042l66.5-5.2"/>
<path d="M198.8 1191.8l21.6 0"/>
<path d="M1916.2 1110l33.5 6.4 20 2.4 16.7 1.1"/>
<path d="M427.3 862l9-1.5 12.1-3.6 12-5.1 12.1-6.8 12-8.2 12.1-9.6 12-10.9 12.1-12.1"/>
<path d="M362.3 946l9.8-1.6 9.8-2.9 16.2-7.4 16.3-10.5 16.3-13.5 16.3-16 19.5-22 22.8-28.1 32.6-43.2"/>
<path d="M331.4 1058l14.4 0M2125.3 1199.4l18 1.5 25.1 1"/>
<path d="M1480.3 894.9l44.4 36.5"/>
<path d="M2084.2 1227.8l24 1.7 43.9-0.8 23.9-1.2 63.9-5.6 43.9-2.2"/>
<path d="M2030.4 1173.6l14.2 0.6"/>
<path d="M401.4 964l9-0.7M1861.4 1073.6l38.9-4.5 26.8-2.3"/>
<path d="M295.8 1109.1l14.3 0"/>
<path d="M444 629.7l28.6-0.4 79.9-12.8 22.9-4.8 20-4.9 22.9-6.9 17.1-6.6 20-9.6"/>
<path d="M308.3 1077.4l14-2 10.4-3.7M520.6 797.4l38.3-74 27.8-51.8 27.8-48.8 27.9-45.3 24.3-36.9 27.9-38.6 27.8-34.8 24.4-27.1M1790.6 1145.1l27.8 20 27.9 16.9 24.3 12 27.9 11 13.9 4.4 13.9 3.6 24.3 4.3 34.8 4.3 34.8 2.8"/>
<path d="M340.1 1015.6l18.3-0.2 9.2-1.8 15.3-5.9 15.3-9.2"/>
<path d="M849.8 459.3l20.7-20.6M1865.8 1078.5l31.1 10.9 27.6 7.6 27.6 5.6 20.8 2.8 13.8 1.1"/>
<path d="M1385.2 685.8l46.4 35.2 43.1 35.1 29.8 27.3 33.1 33.3"/>
<path d="M308.6 1032.3l9.7-1.3 13-3.4 12.9-5.6 13-7.5 12.9-9.3 13-11.2 16.2-16.2 13-14.4M431.7 939.3l29.2-40.5"/>
<path d="M151.7 1213.1l23.5 0.2 19.7-1.1M925.3 406.5l11.8 1.1 19.6 3 27.5 7.2 15.7 5.6 11.8 4.9 31.4 15.9"/>
<path d="M422 918.5l9.6-0.7 9.5-1.5 15.8-4.4M989.8 258l9.5-1.4 9.6-0.2 9.5 1.1 9.5 2.2 9.5 3.5 9.5 4.6 9.5 5.9 9.6 7 12.6 11.2 12.7 12.8 19.1 22.5 25.3 34.9 22.2 34.7"/>
<path d="M1864.2 1076l25.1 6.1 18.8 2.4"/>
<path d="M652.6 752.5l37.4-58.8M710.5 662l44.2-67.4 34-49.3M850 465.9l13.6-15.4 17-17.8M2088.8 1192.9l20.4 2.4 34.1 1.9"/>
<path d="M397.8 972.7l6.3-0.9 9.5-2.4"/>
<path d="M1093.8 326.8l12.2 9.6 12.1 11 24.3 26.1 24.3 31 27.4 39.6M1497.8 905.1l24.3 27 18.2 19.1 21.2 20.8 27.4 24.7 24.3 19.7 21.2 15.5 24.3 16.2 27.4 16.5"/>
<path d="M2043.8 1181.2l23.9 1.6"/>
<path d="M650.7 758.4l70.4-107.5 67-105M1783.8 1021.7l20.2 13.4M1820.7 1046.5l20.1 13.8M1904.5 1101.7l30.2 16.4 23.5 10.4M1974.9 1134.5l16.8 4.7 10.1 2.1 23.4 2.6"/>
<path d="M1017.1 270.7l9.7-0.4 9.8 0.9 9.8 2.2 9.7 3.4 13.1 6.6 9.7 6.7 9.8 7.9 9.8 9.2 13 14.1 9.8 12 13 17.5 9.7 14.4 26.1 42.4 22.8 40.7"/>
<path d="M319.3 1075.2l12.1 0M1867.1 1081.4l9.1-0.4"/>
<path d="M663.3 736.3l67.5-96.1 77.6-107.4 27-36 23.6-30.2 20.3-24.6 16.8-19.3M1763.2 1006.1l43.9 25.6 57.4 31.8 47.2 24 30.4 13.5 26.9 10.3 30.4 9.1 23.6 4.7 13.5 1.9 16.9 1.3"/>
<path d="M134.7 1216.7l36.6 1.4 22-0.4"/>
<path d="M216.5 1182.4l18.6-2.3M2089.9 1194.6l33.6-0.8"/>
<path d="M198.8 1169.6l20.3-0.1 10.1-1.3 16.9-3.9 13.6-5M618.2 639.1l33.9-59.4 30.4-50 27.1-40.4 27-35.8M997.1 413.4l30.4 25.5 30.5 28.9 33.8 34.2 94.7 98.9 40.6 40"/>
<path d="M2124.2 1228.1l48.8-1.4 67.6-5.9 41.3-2.2"/>
<path d="M452.9 801.3l7.1-0.5 14.1-2.3 21.2-5.4 21.2-8.1 21.2-10.2M2169.3 1226.3l21.2-1.6M2232.9 1220.7l24.7-1.7"/>
<path d="M933 258.8l6.7-2.4 10.1-2.6 13.4-1.5 6.7 0.2 10.1 1.4 13.4 3.9"/>
<path d="M820.9 501.7l56.8-53.3 36.7-31.6M1558.7 839.1l33.3 15.4 26.8 14.7 26.7 17.2 26.7 19.7 23.3 19.2 23.4 20.9 96.8 92.7 26.7 24M1975.9 1138.4l10 1.9 13.4 1.5"/>
<path d="M1315.2 605.6l53.2 43.6 25 22.2 25.1 23.4 28.1 28.2 21.9 23.4 53.2 59.9"/>
<path d="M440.7 807.7l17.9-4.3 17.9-7.1 17.8-9.9 14.9-10.3 17.8-14.8 14.9-14.3 23.8-25.7 14.9-18.1"/>
<path d="M2041.3 1180.9l17.4 1.3"/>
<path d="M1378.8 812.1l55.2 53.3 29.4 26.9 40.4 35.3 51.5 41.1 36.8 26.5 29.4 19.8"/>
<path d="M1932.2 1120.2l23.2 6.8 19.9 4.3 19.9 3.1 19.9 1.7"/>
<path d="M1594.4 869.3l33.8 23.5 33.8 25.7 37.2 30.9 67.7 59.6M1932.6 1116.3l16.9 3.6 13.5 1.6"/>
<path d="M2007.3 1161.3l10.3-0.4"/>
<path d="M231.2 1164.6l20.8 0 10.4-0.8"/>
<path d="M329.8 1044.7l19.5 0 9.7-1.3M645.5 595.8l78.1-155.7 19.5-36.9 19.5-35 19.6-32.2 19.5-28.6 16.3-20.9 16.2-17.5 16.3-14.1 9.8-6.5 9.7-5.4 9.8-3.9 6.5-1.9 9.8-1.8 6.5-0.5 9.7 0.4 9.8 1.5 9.8 2.8 9.7 3.6 9.8 4.7 9.8 5.7 19.5 14.1M1384.3 817.8l39 37.3 78.1 68.7 26.1 23.8 29.3 27.7 81.3 79.9 35.8 33.4 22.8 20.2 19.5 16.3 19.6 15 16.2 11.6 22.8 14.5 26.1 14.2 26 11.8 26 9.3 26.1 6.9 29.3 5.2 19.5 2 48.8 2.4"/>
<path d="M807.7 358.4l19.6-29.2 13.1-17.3 9.8-11.8 9.8-10.5 9.8-9.2 9.8-8 9.8-6.5 6.6-3.6 9.8-4 9.8-2.6 9.8-1.2 9.8 0.3 9.8 1.8 9.8 2.9 9.8 4.2"/>
<path d="M405.4 857.9l29.3-0.2 9.8-1.8 13-3.4 13-4.7 13-5.9 13-7.2 13.1-8.6"/>
<path d="M378.7 1017.3l9.2-1.6M827.8 491.4l18.5-13.3 24.6-15.9 18.4-10.4 24.7-11.9 21.5-8 21.5-6.2 21.6-4.4 24.6-3.2M1292.3 572.8l67.7 76 36.9 40.5 30.8 31.9 43.1 42.6"/>
<path d="M423.1 942.8l12-2.6"/>
<path d="M297.4 1106.4l12.4 0M759.1 417.5l27.9-38.8 24.8-30.6 21.6-23 12.4-11.2 12.4-9.9M1496.6 905.5l24.8 22.1M1571 972.7l99.1 89.5 31 26.1 27.9 22 24.8 17.6 24.8 15.1 24.8 12.6 21.7 8.7"/>
<path d="M721.8 640.5l46.5-60.4 76.3-103.8 19.9-25.7 16.6-20.3"/>
<path d="M2013.7 1164.7l56.7-3.3"/>
<path d="M806 357.8l16.2-22.2 13-15.8 16.2-17.3 13-11.7 12.9-9.7 16.2-9 9.8-3.9 16.2-3.7M1308.8 738.3l19.4 25.9 16.2 19.8 22.7 25.6 19.5 19.6 16.2 14.6 22.7 18.2 26 17.6 19.4 11M1866.7 1073l16.2 2.9 19.5 1.8"/>
<path d="M382 855.5l9.6-1.9 9.6-2.9 9.7-4.1 9.6-5.1 12.8-8.4 6.5-4.9 12.8-11 9.6-9.2 19.3-20.5 22.4-26.4 61-77.5 38.5-46.7 25.7-29 28.9-30M1274.2 706.9l32.1 39.1 19.3 20.9 12.8 12.9 19.3 17.9 12.8 10.7 12.9 9.9 16 11"/>
<path d="M456.7 812.1l16.8-2.5 10.1-2.9 13.4-4.8 20.2-10.4 16.8-11M2123 1199l50.4 0.7"/>
<path d="M1803.3 1034.3l40.8-3.9"/>
<path d="M1793.7 1146.4l25.5 18.9 25.5 16 25.5 13 25.5 10.3 21.8 6.8 18.3 3.8 32.7 4.6 43.7 3.4"/>
<path d="M937.8 265.6l14.6-7 7.3-2.4 10.9-2.4 14.5-0.9 14.6 2.1 14.5 4.5 7.3 3.2 10.9 5.9 18.2 12.3 18.2 15.3M1083.4 310.4l25.4 28.1 25.5 31.7"/>
<path d="M1906.6 1102.4l24 2.7"/>
<path d="M439.4 884.3l10.6-1.5 10.7-2.8 14.3-6 10.7-5.9M2091.7 1227.9l14.3 1 24.9-0.5 42.7-2.2 17.9-1.6M2230.6 1220.6l28.5-2.1"/>
<path d="M849.5 468.8l23.4-15.8 16.7-10.1 20.1-10.4 20.1-8.4 16.7-5.4 16.7-3.8 16.8-1.8 20 0.2"/>
<path d="M198.3 1192.8l20.6-0.5"/>
<path d="M409.7 877.5l9.6-2.2 9.6-3.2 9.6-4.3 9.7-5.4 9.6-6.6 9.6-7.7 12.8-11.6 9.7-9.9 19.2-22.2 22.5-29.8 28.8-43.7 28.9-46.7M615 641.4l22.4-37.3 32.1-51.3 22.5-33.7 16-22.6"/>
<path d="M359.5 1001.5l10.5-1.4 10.6-2.9 10.5-4.2 10.6-5.6"/>
<path d="M303.1 1096.1l15.2-2.5M1783.5 1024.7l45.7-5.4 27.3-2.6"/>
<path d="M365.8 982.5l20.3-0.3 11.7-2.2 8.7-2.8M1820.2 1051.5l31.9-2.7"/>
<path d="M1224.6 489.3l92.2 97.1 44.5 48.2 38.1 42.9 95.4 110.6"/>
<path d="M359.6 1166.7l11.4-6.7 11.3-7.7 18.9-14.9 22.7-21.8 15.1-16.7 18.9-23.2 18.9-25.7 26.4-39.3 26.5-42.8"/>
<path d="M373.2 956.9l9.1-1.5 9.1-2.5 9.1-3.4 9.1-4.4 18.2-11 12.2-9.2 12.1-10.4M1869.7 1081.5l24.2 3.5 30.4 2.7"/>
<path d="M1906.6 1105.6l21.9-1.2"/>
<path d="M922.3 413l10.1-3.2 16.8-4.1"/>
<path d="M254.3 1155.3l10.5 0"/>
<path d="M173.6 1208.7l22.3-1.5"/>
<path d="M375 959.2l23.9 0 11.9-2.4 11.9-3.9M1866.8 1080.2l32.9-2.7"/>
<path d="M1575.1 974.9l35.5 40.7 29 32.2 25.8 27.3 22.6 22.5 22.6 20.8 22.6 19 22.6 17.1 16.1 11 22.6 13.4 19.4 10.1 22.6 9.7 22.5 8 19.4 5.3 25.8 4.8 16.2 1.7 25.8 0.4"/>
<path d="M275.4 1131.1l8.8-1.6M519.6 799.9l64.8-138.2 32.3-66.7 23.6-46.3 20.6-38.4 17.6-31.2 20.6-33.8 17.7-26.8 17.6-24.4 20.6-24.9 17.7-18.5 17.6-15.5 17.7-12.5 8.8-5 11.8-5.6 17.7-5.4 14.7-2M1081.7 475.2l50 61.8 26.5 31.4 32.3 35.9 35.4 35.6"/>
<path d="M269.8 1120.7l25.7 0"/>
<path d="M206.7 1197.8l10 0M734.9 455.1l23.4-41.4 16.7-26.8 20-28.5 16.8-20.7 10-10.9 10-9.6 16.7-13.3 16.7-9.9 10.1-4.3 6.7-2"/>
<path d="M1203.3 609.3l28.7 43.6M1264.3 697.7l21.5 27.4 18 20.9 17.9 19.4 25.1 25 18 16.6 28.7 24 14.3 11.3 43 31.7M1479.5 894l21.6 14.7"/>
<path d="M389.9 908l23.7 0 11.9-2.2 11.9-3.6 8.9-3.4 20.7-10.6M1866.8 1081.1l38.5-3.2"/>
<path d="M228.8 1165.6l19.2-1.8 15.4-3.6M605.8 659.2l34.6-67.4 34.6-63.5 30.8-52.2 26.9-41.1 26.9-36.2 15.4-18.3 11.5-12.5 11.6-11.3 15.4-13.3 11.5-8.4 11.6-7M1067.3 458.5l42.4 62.5 65.3 100.3 30.8 44.9 19.2 26.7 19.3 25.3 19.2 23.4 15.4 17.4 19.2 19.7 19.3 17.7 15.3 12.3 19.3 13.5 23.1 13.2 19.2 8.9 19.2 7.4 26.9 8.5"/>
<path d="M454.3 798.7l26.6-0.4 10-1.9 10-3.2 10-4.6 10-5.6 13.3-9.3 10-8.4M774 399l23.3-33.1 20-24.6 20-21 20-17"/>
<path d="M179.4 1193.7l23.9-2.3 20.4-4.2M963.8 402.9l17 6.8 17.1 8.8 17 10.3 17.1 11.9 13.6 10.4 23.9 19.6 23.9 20.9 34.1 31.3"/>
<path d="M936.5 265.5l16.1-8.1 16-4.8 6.4-1 9.7-0.3 16 2.1 16.1 5.4 16 8.5 16.1 11.9 16 14.6"/>
<path d="M638.2 610.7l30.8-67.8 30.9-65.8 27.7-56.1 21.6-40.6 21.6-37.1 21.6-33.1 18.6-24.5 18.5-20.6 9.2-8.7 12.4-9.9 9.2-6 9.3-4.8 9.2-3.7 9.3-2.5 9.3-1.4 9.2 0 6.2 0.7 12.3 3.1 9.3 3.5 9.2 4.8 9.3 6.1 9.3 7.2 15.4 14.6M1144.2 543.5l21.6 36.3 18.5 28.6 21.6 30 18.5 22.7 12.4 13.8 21.6 21.6 27.8 24 24.6 19.3M1496 904.1l27.8 27.8M1545.4 952.6l24.6 22.5 18.6 15.8 33.9 26.5"/>
<path d="M1821.8 1051.2l65.4-6.3"/>
<path d="M1074.5 303.5l12.3 6 12.3 7.6 21.5 16.7 18.4 17.7 21.5 24.4 21.5 28.3 21.5 31.5 24.6 39.6 33.8 57.6"/>
<path d="M955.2 404.2l21 9.1 28 14.1 35 19 31.5 18.3"/>
<path d="M344.1 1038.2l17.1-0.6"/>
<path d="M445.5 897.6l15.5 0"/>
<path d="M1801.8 1032.9l27.7 7.5 24.5 5.3 24.6 3.8 21.5 2.2"/>
<path d="M849.5 460.1l19.2-17.8 11.6-9.7M2210.2 1218.5l23.1-0.7"/>
<path d="M646.9 766.3l70.2-106.8 77.6-113.2 29.5-41.6 22.2-30 22.2-28.3 14.7-17.5M1552 830.7l33.3 22.5 33.2 23.5 29.6 22.1 22.1 17.6 25.9 21.3 29.6 25.7 33.2 30.2 48 45.1"/>
<path d="M1261.5 691.2l25.6 46.6 12.9 20.8 12.8 19.1 9.6 13.1 12.8 15.7 12.9 13.9 12.8 12.2 12.8 10.8 12.8 9.2 25.7 15.3 28.8 13.4 57.8 23.9"/>
<path d="M507.3 579.4l40.6 8.3 63.9 15.2 17.4 3.2 14.5 1.5"/>
<path d="M1686.1 1063.3l18.6 18.5 18.6 17.2 29.8 24.5M1768 1134.3l18.6 12.2 18.7 10.8 14.9 7.7 18.6 8.4"/>
<path d="M857.7 460.3l12.8-6.2 12.9-5.1 12.9-4.2 16-3.7 12.9-2.1 16.1-1.1 16.1 0.3 12.8 1.2 16.1 2.7 16.1 3.8 12.8 3.8 16.1 6 16.1 7 16.1 8.1 12.9 7 25.7 15.6M1420.4 719.7l38.6 25.6 32.2 22.7 28.9 22 25.8 21 32.1 28.1 35.4 33.1 38.6 38.3 35.4 36.5M1816 1041.5l22.5-1.5 61.1-8 32.2-3.4"/>
<path d="M1866.2 1075.2l21.7 13.1M1906 1099.3l54.2 31.4M1974.7 1138.6l25.3 12.7 32.5 14.4 21.7 8 25.3 7.9 29 6.9 21.6 3.9 29 3.4 25.3 1.6"/>
<path d="M252.5 1143.7l31.7-0.4M852.1 458.1l19-20M1829.2 1044.4l44.4-3.9"/>
<path d="M330.4 1058.6l14.8-2.2M1756.3 1006.4l89-7.4"/>
<path d="M357.2 971.3l18.6-0.2 15.5-3.2 15.5-6.4 15.5-9.3M816 348.2l18.6-24.5 18.6-21.2 18.6-17.4 9.3-7.2 9.3-6.1 9.3-5.1 9.3-3.9 15.5-4.2 9.3-0.9 12.4 0.4 9.3 1.6 6.2 1.9"/>
<path d="M2031.5 1175.1l17.5 1.4"/>
<path d="M295.4 1091.2l13.8-2.4 10.3-3.2M585 692.7l48.3-88.8 20.7-35.6 24.1-39.2 20.7-30.9 17.2-23.6 13.8-17.4 20.7-23.6"/>
<path d="M346.4 1049.2l9.3 0"/>
<path d="M238.4 1152.4l31.1-0.1 15.5-2.1"/>
<path d="M1432.4 733.4l63.1 51.2"/>
<path d="M358.6 1027.7l12.1 0M1888.6 1090.9l15.1-1.2"/>
<path d="M389.3 993.5l12.8-2.4"/>
<path d="M376.4 986.9l13.1-2.2 13.2-4.3M1413.2 839.9l16.4 18.8 19.7 20.9 19.6 19.2 16.4 14.5 19.7 15.7 19.7 14.2 26.3 17 22.9 13.4M2039.8 1180.8l13.1-0.4"/>
<path d="M347.7 1175.9l14.7-9.4 14.7-11.1 14.8-12.7 14.7-14.7"/>
<path d="M633.6 788.7l67-90 20-28.2 26.8-39.4 30.1-46.6 93.7-151.1M1018.5 276l13.3-3.1 10.1-0.8 6.7 0.1 13.4 2.4 13.3 4.7 13.4 6.9 13.4 9.3 16.7 14.8 13.4 14.1 23.5 29 23.4 33.3 23.4 36.2 63.6 101.5 36.8 54.3 23.4 31.9 26.8 34.4 43.5 51.5"/>
<path d="M638.8 779.2l43.9-55.8 25-30 25.1-28.6 34.5-38.3 37.6-40.3 40.7-42.8 34.5-35.1 37.5-35.2 28.2-23.2 15.7-11.3 12.5-8 15.7-8.6 12.5-5.7M1572.5 850.3l75.2 40.1 34.4 20.2 25.1 15.4 21.9 14.6 31.3 22.1 40.8 31 31.3 25.1 9.4 6.1 6.3 2.4 6.2 1.4 12.6 0.8 12.5-0.7 50.1-4.8"/>
<path d="M204.2 1190.7l17.7-2M1644.7 1033.8l31.8 31.5 35.3 32 24.7 20.4 28.2 20.7 24.8 15.8 28.2 15.5 17.7 8.2 17.6 7.4 21.2 7.2"/>
<path d="M312.3 1070.7l20.7 0"/>
<path d="M349.1 1047.2l9.8-0.9M956.3 262.1l9.8-3.9 9.8-2.3 13.1-0.9 9.8 1.1 13 3.6 9.8 4.3 9.8 5.8 9.8 7.1"/>
<path d="M371.6 869.3l9-1.1 15-4.9 11.9-5.6 12-7.5 11.9-9 15-13.5 11.9-12.3 12-13.5 11.9-14.6 15-20 26.9-38.7 29.9-46.5 77.7-124 35.9-53.7 26.9-37.1 32.8-40.8 15-16.6 14.9-15 15-13.4 11.9-9.4 15-10.3 11.9-6.9M1023.3 428.1l17.9 19.7 23.9 27.8 80.7 98.1 44.9 51.9 35.8 37.7 21 20.4 23.9 21.9M1659.9 1045.5l26.9 25.5 21 18.5 23.9 19.5 20.9 15.6 26.9 17.7 26.9 15 9 3.5 11.9 1.9"/>
<path d="M1437.4 738l30.4 26.5"/>
<path d="M296.6 1073.4l20.9-0.2 10.4-1.6 7-1.9"/>
<path d="M455.7 697.8l27.3-5 27.2-6.7 12.1-3.9 15.1-5.9 21.1-10.1 18.2-11 21.1-15.1 24.2-21.4 27.2-28.1M1659 1044.8l30.2 25.4 30.3 23.3"/>
<path d="M290.6 1073l9.3-0.2 9.2-1.8 12.4-3.8 9.3-4.1M1166.6 571.8l15.5 25 21.7 32.2 15.4 21 21.7 26.6 18.6 20.1 21.7 20.7 15.4 13.3 21.7 17.1"/>
<path d="M234.2 1134.8l18.7 0 11.2-1.1 15-3.5 11.2-4.1"/>
<path d="M473.4 660.4l37.6-9.9 17.4-6 14.5-5.7 23.1-11 14.5-8.2 11.5-7.4 26.1-19.1 23.1-19.8 31.9-31.4 28.9-31.3"/>
<path d="M335.8 1031.8l25.9 0 6.5-0.8"/>
<path d="M291.7 1097.2l27.9-0.4"/>
<path d="M279.3 1124.5l15.4 0M2220.8 1220.1l23.1-1.7"/>
<path d="M1935.3 1124.5l28.5-2.3"/>
<path d="M312.7 1077l9.4-1.7 9.4-2.8M1905.3 1099.5l15.8 1.7"/>
<path d="M329.7 909.1l13.3-0.4 16.7-3.7 13.3-4.8 13.3-6.9 13.3-8.7 16.7-13.1 19.9-18.5 13.4-14.1 23.3-27.5 33.3-43.8 23.3-32.8 76.5-111 46.6-65.1 46.6-60.4 36.6-43.2M1015.4 423.7l16.7 19.4 23.3 29 59.9 79.3 20 25.4 26.6 32.1 26.6 29.5 26.7 26.2 29.9 26.6 33.3 25.8 36.6 25.4M1957.5 1216.2l16.6 2.6 26.7 2.7"/>
<path d="M1885.3 1088.2l77-6.6"/>
<path d="M444.6 872.1l18.2-0.4 12.1-2.5 12.1-4.5"/>
<path d="M510.6 615.3l85.1 16.6 17 2.4 14.2 1.1M1932.1 1116.1l28.3-2"/>
<path d="M185.2 1211.8l10.8 0.1"/>
<path d="M311.8 1076.8l11.1-0.7 7.4-1.4M2163.5 1214.7l36.9 0.3"/>
<path d="M186.4 1201.7l21.8-1.8M1245.8 675.2l32.7 47.6 25.4 32.9 29 32.7 29 28.6 32.7 28 39.9 30 47.2 32.2 54.4 35.7"/>
<path d="M365 1010.4l17.4-0.6 13.9-3.1M887.5 289.8l10.5-11.8 10.4-10.5 10.5-8.8 7-5 6.9-4.3 10.5-4.8 10.4-3.1 10.5-1.4 10.4 0.4 10.5 1.9 6.9 2.2 10.5 4.7 10.4 6.1 10.5 7.7 10.4 9 10.5 10.5M1971 1217.6l17.4 3.1 20.9 2.8 59.2 4.9 38.3 1.3 38.3-2.1"/>
<path d="M2162.5 1214.9l30.8-0.7"/>
<path d="M1096.8 327.5l21.6 26.8M1885 1089.9l49.3-5.5"/>
<path d="M339.1 1009.6l28.5-0.2 12.7-2.9 15.8-6.3"/>
<path d="M264.9 1145l10.9-0.7 11-1.8M1658.3 1044.1l25.6 20.2 36.5 26.6"/>
<path d="M2015.2 1162.6l27.3 5.8 13.6 1.8 17 1.2"/>
<path d="M306.7 1091.9l9-1.3M1770.5 1018.8l84.8-7.5"/>
<path d="M304.5 1071.1l27-0.1M2002.9 1157.4l30.4-1.7"/>
<path d="M1660.1 1045.4l31.3 23.5 27.8 19.2"/>
<path d="M411.6 898.2l10-2.1 9.9-3 20-8.4 19.9-12 16.6-12.6M962.9 402.9l13.3 6.5 23.3 14.2 19.9 14.5 16.6 13.8 29.9 26.7 83 81.4 39.9 36.3M2085.5 1192.5l23.3 1.6"/>
<path d="M424.7 841l12.7-2.6 12.7-4.4 12.7-6.1 12.7-8.1 12.8-10.1 12.7-11.7 15.9-16.8 12.7-15 22.3-29.4 25.4-37.4 22.3-34.7 73.1-118.9 22.3-34.2 22.2-32.5M2040.2 1180.6l9.5-0.2"/>
<path d="M871.5 294.7l10.7-8.3 10.6-7.2 17.7-10M935.3 260.6l10.7-2 14.2-0.8 14.2 1.5 10.6 2.7M1261.6 692.7l17.8 30.1 14.1 22.6 14.2 21.3 17.8 24.3 10.6 13.5 14.2 16.4 14.2 15.3 17.7 16.9 14.2 12 14.2 10.9 17.7 12.3 17.7 10.7 17.8 9.4 24.8 11.9 46.1 19.2M2173 1215.5l32 0.3"/>
<path d="M224.7 1170.4l24 0M1053.2 449.1l52 61.2 40 45.3 36 38.1 44.1 43.4M2181.8 1225.5l24-0.6 64.1-3.3"/>
<path d="M2230.7 1220.3l15.4-1.1"/>
<path d="M307.4 1063.9l10.7-1.3 10.7-2.3 7.1-2 10.6-4"/>
<path d="M497.6 1015l18.5-23.6 22.2-30.5 25.9-38 22.3-34.3 29.6-47.6 37.1-61.2 96.3-161.5 48.1-76.5 22.3-33.2 22.2-31.3 18.5-24.1 18.6-22M1297.8 580.3l88.9 92 107.4 114.9M2212.9 1217.9l18.5-0.6"/>
<path d="M424.2 929.5l13.5-2.3 13.5-4.7M2038.8 1225.6l30.4 2.6 37 1.6 40.5-1.5"/>
<path d="M430 828.9l17.2-0.2 25.9-5.7 11.5-3.4 11.5-4.3 14.3-6.5 11.5-6M852.3 307.8l17.2-23.6 14.4-16.9 14.4-14.6 11.4-9.8 14.4-9.6 14.4-6.9 14.3-3.9 11.5-1.1 11.5 0.9 14.4 3.6 14.3 6.5 14.4 9.4 11.5 9.4 14.4 13.8 14.3 16.2 14.4 18.3"/>
<path d="M921.7 407.6l15.8 4.6 18.9 7.3 18.9 8.9 25.2 13.8 47.3 29.8 88.2 59.8M1864.1 1076l37.8-3.1"/>
<path d="M818.2 351.8l15.9-31.4 15.9-28.5 12.7-20.3 15.9-22 16-17.5 12.7-10.9 9.5-6.5 6.4-3.3 12.7-4.5 12.8-1.7 9.5 0.7 6.4 1.1 9.5 3.2 6.4 2.9 15.9 9.9 12.7 10.6 16 16.3 15.9 19.3 19.1 26.7M1935.4 1125l35-2.7"/>
<path d="M443.3 807.8l15.1-3.4 18.2-6.7 18.1-9.8 15.1-10.5 15.2-12.7 21.1-21 18.2-20.7 18.1-23.1"/>
<path d="M1845.6 1061.4l28.3 10.5 28.4 8.2 28.3 5.5 25.2 2.7"/>
<path d="M292.3 1108.4l16.3-0.4"/>
<path d="M280 1103.8l6.2-0.7 12.5-2.9 18.6-7.6"/>
<path d="M851.5 460.7l24.8-12 21.3-8 24.9-6.7 24.8-4 14.2-0.7 14.2 0.1 24.9 2.5 17.7 3.6 24.9 7.4"/>
<path d="M372.5 942.7l13.9 0 6.9-0.8 10.4-2.1 10.5-3.4 10.4-4.6 10.4-5.6 10.4-6.8 10.4-8.1"/>
<path d="M282 1126l10.6 0M1963.4 1216.4l21.2 4.1 31.8 3.9 35.3 2.7 35.3 1.6"/>
<path d="M957.3 260.6l7.1-0.5 7 0.5 14.2 3.3"/>
<path d="M489.3 694.5l17.5-4 17.6-5.2 29.2-11.4 14.6-7.1 17.6-9.6 23.4-14.4 14.6-10.1"/>
<path d="M286.3 1110l21.8 0"/>
<path d="M439.9 866.2l10-1.6 16.6-4.4 16.6-6.4 13.3-6.5M2085.2 1190.6l26.6 2 26.6 1.2"/>
<path d="M357.6 979.8l18.8 0 9.4-1 12.5-2.9 12.5-4.8"/>
<path d="M303.8 1084.3l26-0.1M1936.9 1124.4l26-1.7"/>
<path d="M268.7 1152.6l9.9 0M1901.7 1092.2l49.3-3.9"/>
<path d="M391.6 935.2l17.3-2.8 17.4-5.4 17.3-8.2 13.8-8.3"/>
<path d="M347.6 1175.4l16.4-9.5 16.5-11.3 19.7-15.9 19.8-19 19.7-21.6 16.5-20.3 19.7-26.9 16.5-24.6M1420.6 719.3l49.4 36.2 32.9 26.3 23.1 19.2 55.9 50.1 65.9 62.9M1802.5 1037.6l9.8 0 16.5-1.2 59.2-7.7 26.4-2.5"/>
<path d="M1093.1 326.6l21.1 15.6 21.1 19 21 22 24.6 29.1 21.1 27.2 28.1 38.5 35.1 51.2 42.1 63.7"/>
<path d="M2086.3 1189.3l43.9-1"/>
<path d="M475.7 614.4l8 0 24.2-4.5 48.2-6.8 37.5-6.5 21.5-4.9 18.7-5.3 13.4-4.8 16.1-6.7M856.3 450.2l26.8-13.2 18.8-7.4 21.4-5.9 13.4-2.3 10.7-1 18.8-0.2 21.4 2.5 24.2 6.2 21.4 8.4M1781 1023.5l16.1-0.5 48.2-3.5"/>
<path d="M1533.9 812.6l24.8 19.1 28.3 24.3 21.2 19.9 28.4 28.1"/>
<path d="M2089 1228l24.6 0.9 38.6-0.6"/>
<path d="M349.1 1005.5l13.1-1.7 13.1-3.6 13.2-5.3 13.1-7.1M818.9 505l16.4-16.4 19.7-18.2 16.5-14.2 16.4-13 16.4-11.8 16.5-10.6 13.1-7.6 16.4-8.2M2014.9 1172.5l13.1-0.6"/>
<path d="M436.4 894.3l8.7-2.2 11.6-4.1 8.7-4 11.6-6.5"/>
<path d="M392.2 983.9l9.8-1.7"/>
<path d="M2125.1 1207.3l41 3.2 48.4 1.2"/>
<path d="M314.5 1082.8l10.3 0 6.8-0.6M2041.2 1177.5l27.4 2.4"/>
<path d="M340.3 1027.6l10.4-1.5 13.8-3.8 13.9-6 13.8-8.2"/>
<path d="M436 886.8l13-2.6 13.1-4 9.7-4.1 13.1-6.7"/>
<path d="M1626.3 1020.1l30.4 30.3 16.9 15.2 16.9 14.2 27.1 19.9 20.2 12.9 13.6 7.7"/>
<path d="M296 1099.6l17.8 0M757.8 422.4l24.9-44.8 21.3-35.9 21.3-32.6 21.3-28.8 10.7-12.7 10.6-11.4 17.8-16.2 17.8-12.1 14.2-6.8 14.2-4.1 10.6-1.3 7.1 0.1 7.1 0.6 10.7 2.2 7.1 2.2 10.7 4.6 17.7 10.7 10.7 8.2 10.6 9.4 17.8 18.1 21.3 25.5"/>
<path d="M409 942.4l12.7-2.5 12.8-4.2"/>
<path d="M273.2 1149l11.3-1.3M2174 1215.9l14.9-0.3"/>
<path d="M683.5 540.2l25-48.3 25.1-46.2 17.9-31.2 21.4-35.2 17.9-27 17.9-24.5 14.3-17.6 17.9-19.2 17.9-15.9 14.3-10 14.3-7.5 7.1-2.7 10.8-3 14.3-1.7 14.3 1 10.7 2.6 7.2 2.6 14.3 7M1169.9 571.8l28.7 49.3 21.4 33.8 25.1 35.1 21.4 26.5 21.5 23 14.3 13.6 10.7 9.2 25.1 19.3 14.3 10 14.3 8.9"/>
<path d="M952.7 407.1l22 8.8 22 11.4 18.8 11.7 25.1 17.7 25.1 20.1 34.5 30.2 56.5 54M1755.9 1004.4l18.9 2.2 21.9 0.1 22-1.5 81.6-7.5"/>
<path d="M214.9 1178l26.4 0"/>
<path d="M204.6 1190.7l13.6 0M1083.8 477.1l23.8 29.2 81.8 103.2 30.7 36.1 23.8 25.9M1905 1097.9l20.5 3.8 20.4 2.3"/>
<path d="M826.2 496.7l24.8-26.5M857.2 464l24.8-22.6 27.9-21.6M1170 418.5l21.7 17.5 21.7 20.2 27.9 29.5 21.6 25.1 27.9 34.6 24.8 32.3 108.4 145.2M1823.5 1052.7l40.3 5.3 58.9 4.7"/>
<path d="M232.2 1173.8l14.3 0.1"/>
<path d="M2011.8 1166.2l34.4-1.6"/>
<path d="M2123.2 1204.4l15 0.3"/>
<path d="M283 1069.1l19.2 0 6.4-0.6 12.7-2.8 9.6-3.3M1174.5 581.8l31.9 39.6 25.6 29.1M1906.2 1097.3l9.6-0.4"/>
<path d="M882.1 290.6l12.3-11.4 12.4-10 9.2-6.5 12.3-7.3 12.3-5.5 12.3-3.9 9.2-1.7 12.3-0.7 9.3 0.8 12.3 2.7 12.3 4.5 12.3 6.4 12.3 8.1 9.2 7.1 9.2 8.1 15.4 15.5M1660.5 1046.7l24.6 17.7M1691.2 1068.6l24.6 16.1"/>
<path d="M1168.5 415l34.8 39 38.3 46.7 52.2 68.4 45.2 60.9"/>
<path d="M497 685.6l34.6-5.9 28.8-7.1 26-8.7 26-11M1371.1 670.8l43.3 32.6 20.2 16.6 20.2 17.7 28.8 27.8 34.7 36.7"/>
<path d="M390.5 863.7l9.8-1.4 9.7-2.3 16.3-5.5 19.6-9.4 19.5-12.7 22.8-17.8 22.8-21.1 29.3-30.7 22.8-26M1582.7 981.7l39.1 36M1628.3 1023.3l26 21.5 29.3 22.6 35.9 25"/>
<path d="M276.7 1126.2l13.7 0M1193.5 599.6l23.9 36 24 33.8M1268.7 704l17.1 19.4 24 24.5 17.1 15.4 20.5 16.9M2014.5 1169l10.2-0.3"/>
<path d="M1975.1 1138.3l26.2-1.6"/>
<path d="M592.1 861.7l31.9-47.1 35.4-54.5 92-146.7 46-70.7 17.7-25.7 24.7-33.9 21.3-26.5 21.2-24"/>
<path d="M205.4 1188l18.2 0"/>
<path d="M296.5 1203l21.1-2.1 24.6-5.7 17.6-6.8 17.6-8.9 17.6-11.5 17.6-14.1 17.5-16.9 17.6-20 21.1-27.4 17.6-25.7 14.1-22.3 21.1-36 35.2-65.5 70.3-140M1302.3 586.9l42.2 48.6 59.8 66.3"/>
<path d="M497.6 1015.6l17.8-20.3 17.8-23.5 20.8-30.9 20.7-34.1 20.8-36.2 29.6-55 59.3-116.1M1686.4 946.3l35.6 32.4M1888 1091.7l35.6-4"/>
<path d="M388.4 1002.3l9.2-0.9"/>
<path d="M322 1081.3l11.4-1.2M2100.4 1227.9l26.6 1 41.8-0.5 72.2-4.9 22.8-0.9"/>
<path d="M382.7 934.2l20.1-3.6 20.1-6.8 20.1-9.7 20.1-12.6"/>
<path d="M382.9 985.4l9.9-1.5 9.9-2.5"/>
<path d="M378.9 1001.2l14.5-0.2 7.3-1M2096.6 1228.1l25.5 0.3 51-2 65.5-5.8"/>
<path d="M167.4 1213.5l29-1.6"/>
<path d="M458.7 750.9l12.1 0 15.1-3.1 18.1-5 15.1-5.6 15.1-6.9 15.2-8.1 18.1-11.8 15.1-11.4"/>
<path d="M199.6 1161.7l22.1-2.1 22-5.5 18.3-7.1 18.4-9.8M1576.4 976.7l25.7 23M1660.8 1046.4l29.4 20.9 25.7 17.1"/>
<path d="M705.8 668.6l29.8-37.9 29.7-35.8 37.2-42.1 37.2-39.6 37.2-36.9 37.2-34.3 26-21.4 26-18.6M2111.4 1197.7l26 1.3"/>
<path d="M1930.7 1116.7l23.5 8.8 27 7.9 26.9 5 20.2 1.8"/>
<path d="M1167.3 412.2l24.6 30.5M1209.4 466.3l24.6 35.1"/>
<path d="M282.4 1082.4l30.5-0.1 7.6-0.9 11.4-2.8"/>
<path d="M865.7 304.8l17.1-29.7 17-26.2 17-21.6 10.3-11 6.8-6.4 6.8-5.4 10.2-6.8 6.8-3.6 6.8-2.6 6.9-1.8 10.2-1.2 6.8 0.4 10.2 2 6.8 2.2 10.3 5.2 10.2 6.6 6.8 5.4 13.6 13.1 17.1 19.8 20.4 28.6 17 27.3 20.5 36 23.8 45.5"/>
<path d="M359.8 1167.3l23.2-15.9 9.9-8 13.3-12.1 23.2-24.2 26.5-32.1M1907.8 1101l59.7-5"/>
<path d="M936.8 265.5l15.5-8.8 9.3-3.8 9.3-2.7 9.3-1.4 9.3-0.2 6.2 0.5 9.4 1.9 6.2 2 9.3 4.2 9.3 5.5 6.2 4.5 15.5 13.2 15.5 16.5M1405.3 833.8l15.5 16.4 18.7 18.5 24.8 23.1 21.7 18.6 40.3 31.4 21.8 15.9 31 21.3"/>
<path d="M269.4 1130.8l14.5 0M1187.7 596.4l32.6 46.4 28.9 37.8M1263.6 698.2l21.7 24.6 18.1 19 21.7 21 25.3 22"/>
<path d="M1042.6 281.2l9.9 2.3 9.9 3.5 9.9 4.7 9.9 5.9 9.9 7.2 13.3 11.5 19.8 21.1 9.9 11.9 13.2 17.6 19.8 29 26.4 42.5 36.4 62"/>
<path d="M1902.6 1090.7l22.1-1.5"/>
<path d="M407.1 895.2l19.5-0.3 9.8-1.7 9.8-2.6 9.7-3.9 9.8-4.9 16.3-10.3M1820.7 1162.9l26 16.8 16.3 9 26.1 12 22.8 8.3 19.5 5.1 22.8 3.7 26.1 3.2 32.5 2.7"/>
<path d="M1592.6 866.3l46.3 34.3 80.3 63 6.2 4.2 9.3 4.3 9.2 2.5 9.3 1.4 18.5 0.3 95.8-9"/>
<path d="M663.1 733.3l149.8-191.1 35.8-44.5 22.8-27.4 19.5-22.3 19.6-20.8 16.3-16.1M1135.3 370.4l16.2 12.9 16.3 15.3 19.6 21.3 19.5 24.1 29.3 39.6 65.1 95.7 32.6 46.2M2004.7 1157.1l61.8-4"/>
<path d="M486.2 732.4l23.5-0.4 23.4-3.3 26.9-6.7 20.1-7.4M1076.4 303l16.8 14.7 20.1 21.4 20.2 24.5 23.4 31.8M1163.6 404.9l26.9 39.1"/>
<path d="M183.8 1207.8l11.2-0.5M1103.2 495.8l26.3 30.1"/>
<path d="M1981.4 1219.2l28.9 4.1M2024.8 1224.8l50.6 3.6 28.9 0.9 18.1-0.6"/>
<path d="M878.8 296.1l13.2-19.1 13.2-16.4 9.9-10.5 13.2-11.5 13.2-8.7 9.9-4.5 9.9-2.8 13.2-0.9 6.6 0.5 6.6 1.5 9.9 3.3 9.9 4.9 13.2 9 16.4 14.3 13.2 13.5 16.5 19.2 13.2 16.8M1634.1 1026.9l29.7 27.2 26.4 22.2 29.7 23.3 33 23.5M1779.3 1140.2l33 19.6 23 12.1"/>
<path d="M1541.3 820.9l28 21.9 24.6 20.7 24.5 22.6 21.1 20.5"/>
<path d="M317.4 1057.3l13.9-0.2 7-1 10.5-2.6M2040.4 1225.8l31.4 1.9 27.9 0.9"/>
<path d="M238.3 1215.7l16.3 0 16.3-1.3 16.3-2.5 13-3.3 13.1-4.7 19.5-8.8 16.3-9.4 13.1-8.6 16.3-12.8 13-11.7 13-13 16.3-17.8 16.3-19.5 16.3-21.3 29.3-41.8M961.7 266.4l13.1-6.4 13-4.2 13-1.8 13.1 0.3 13 2.5 13 4.6 13.1 7 13 9.1 13 11.3 13.1 13.2 13 15 16.3 21 16.3 23.2 13 19.8 39.1 65.1M1867.6 1074.4l35.9-3.4"/>
<path d="M482.1 779.3l27.8 0 18.5-3.9 12.3-3.4M1164.5 411.2l15.5 9.7 18.5 12.7 15.4 11.6 18.6 15.3 30.9 29 33.9 36.3 30.9 36.7 34 43.6 40.1 54.5 92.7 128.6"/>
<path d="M785.3 386.9l21-30.7 17.6-21.8 17.5-17.9 17.6-14.1"/>
<path d="M496.5 1019.5l29.7-42.2 29.7-44.4 33.4-52.6 29.7-48.6 29.7-50.2 29.7-52.5 22.2-40.7 48.3-91.4"/>
<path d="M409.8 1124.4l13.5-10.8 13.4-12.7 13.5-14.8 16.8-20.9 13.4-18.6 16.8-25.7 16.8-27.6 16.8-29.3M883.8 290.3l10.1-10.4 10.1-9.3 10-8.1 10.1-6.7 10.1-5.5 10.1-4.1 10.1-2.7 10.1-1.3 10 0.1 10.1 1.4 10.1 2.6 10.1 3.9 10.1 5.2 10.1 6.4 10 7.5 10.1 8.6"/>
<path d="M1494.5 902.1l22.4 24 35.2 34.1 35.2 29.9 35.2 26.5"/>
<path d="M392.7 925.7l19.4-0.2 16.1-3.5 16.2-6.2 16.1-9.3"/>
<path d="M824.5 342.5l14.4-23 14.4-20.9 14.4-18.5 14.4-15.9 14.4-13 10.8-7.8 14.4-7.9 10.8-3.8 14.4-2.4 10.8 0.2 7.2 1.1 7.2 1.9 14.4 6 14.4 8.7 14.4 11.5 10.8 10.3 14.4 15.9"/>
<path d="M165.3 1216.4l30.5 1"/>
<path d="M408.3 838.2l28.1 0 14.1-1.9 14.1-3.5 14.1-4.7 14-6.1 14.1-7.3 14.1-8.8M2125.7 1227.8l45.7-0.9 35.2-2.4"/>
<path d="M539.8 948.5l20.6-21 14.7-17 14.7-18.4 26.5-36.7 26.5-40.9 17.7-29.8 20.6-36.5 82.4-155.1 26.5-48.2M1375.9 674.2l44.2 38.8 44.2 35 38.3 27.8 85.3 60.1 44.2 34 44.2 37.2 29.4 26.8 32.4 30.9 5.9 5 5.9 4 8.8 4.2 8.8 2.8 11.8 1.9 11.8 0.4 23.6-1.5 61.8-8.1 20.6-2"/>
<path d="M507.8 724.5l25.4 4.8 31.7 7.1"/>
<path d="M407.5 882.7l18.4-0.4 12.3-2.9 12.3-4.2 12.3-5.6 9.2-5.1 12.3-7.9 9.2-6.9"/>
<path d="M408.1 919.7l11.4-1.8 14.2-4 14.3-5.6 11.4-5.8M1789.5 1032.1l74-5.3"/>
<path d="M325 1031l9.3-1.2 9.3-2.1 15.4-5.6 18.6-10.1 18.6-13.3"/>
<path d="M358 1166.2l9.6-2.8 12.9-5.4 12.8-7.2 12.8-8.7 12.8-10.4 9.6-9.1 12.9-13.6 12.8-15.3 25.6-34.6 25.7-39.7 28.9-49.8 28.8-54.7"/>
<path d="M278.7 1125.4l14.5 0"/>
<path d="M352.4 1018.8l28.5 0 3.2-0.4"/>
<path d="M277.6 1100.9l20-0.4 10-1.7 10-2.7"/>
<path d="M935.6 260.2l10.4-3.6 13.8-2.4 10.3-0.1 13.8 2.6M1291.1 720.6l13.8 17.7 17.3 19.8 13.8 14.3 13.8 12.7"/>
<path d="M270.6 1135.1l9.3-0.9M1821.3 1049.6l37.3-3.5"/>
<path d="M344.4 1043.8l12.8-1.9"/>
<path d="M1930.5 1117.9l116.2-7.3"/>
<path d="M384.7 964.8l9.3-1.6 12.4-4.2 12.4-6.6 9.3-6.4"/>
<path d="M1569 848.4l23.9 9.7 24 12.5 23.9 15.8 20.5 15.8 24 21.2 20.5 20.1 30.8 32.4 34.2 37.7M1931.5 1121.1l54.7-6.8 30.8-2.5"/>
<path d="M214.5 1153l16.8-0.8 16.7-3.6 16.8-6.3 16.7-8.7M532.9 779.7l60.3-105.1 40.2-67.2 47-72.9 36.8-52.1M1421 847.5l40.2 39.4 40.2 37.3 43.6 38.5 30.2 25.4 40.2 32.2 43.6 33.2 40.2 28.5 33.5 22.5"/>
<path d="M154.6 1211.8l21.5 0.4 17.9-0.7M813.9 512.3l50.1-55.3 32.3-32.7"/>
<path d="M373.9 1016.1l16.6-3M2044.4 1181.2l26.6 1.7"/>
<path d="M1431.4 731.8l32.1 31.1"/>
<path d="M469.6 596.7l27 0.3 39 8.4 65.9 17 18 3.3 12 0.8"/>
<path d="M275.1 1121.1l6.9-0.7 10.2-2.1M919.7 416.3l13.7-4.1 20.6-4.3"/>
<path d="M1977.3 1140.1l17.2-1.1"/>
<path d="M272.6 1115.9l12.9-0.4 13-2.5M648.3 590.5l35.7-59.4 32.3-48.6M1623.3 1017.5l38.9 39.5 32.4 30.1 25.9 22.1 35.6 27 29.2 18.8 16.2 9.1 16.2 8.1 25.9 10.9 16.2 5.3 16.2 4.5"/>
<path d="M2035.1 1225.5l33.6 3.1 41.1 1.7 63.6-3.1 67.3-6.2"/>
<path d="M473 724.6l14-1.6 21-4.8 14-4.5 17.5-7.1 24.5-12.5 21.1-13.4 17.5-12.6M858.2 447.6l21-11.7M893.2 429.1l17.5-7.1 10.5-3.5 24.5-6 24.5-2.6 10.5-0.3 14 0.6M2185.3 1224.8l77-3.2"/>
<path d="M650.9 757.6l47.7-76.1M713.6 657.7l41.7-65.4M1357.9 653.3l41.8 45.9M1763.6 1009.4l20.9-1 62.6-5.9"/>
<path d="M418.3 839.5l15.8-0.6 15.8-3.8 15.7-6.2 19-10.8 15.7-11.7 19-16.6 22.1-23.4 18.9-22.4"/>
<path d="M254.7 1155.1l10.3 0M1801.1 1151.7l13.8 8.6 13.7 7.7"/>
<path d="M1824.9 1055.3l60.8-5.7"/>
<path d="M341.8 1036.1l23.4 0"/>
<path d="M342.1 1050.8l13.3-2.7M595.9 674.8l36.8-73.5 30-56.8 30.1-52.1 30.1-46.8 26.7-36.4 16.7-20 13.4-14.5 13.3-12.9 13.4-11.4 10-7.3 13.4-8.3M1467.8 886.8l23.4 25.8 26.7 27.3 23.4 22.1 30 25.7 23.4 18.2 30.1 21 60.1 36.4"/>
<path d="M321.6 1079.8l10.6-1.5M1067.1 461.6l24.8 27.8 24.9 29.4 88.7 110 46.2 55.3M1269.4 704l21.3 22.9 24.9 25 17.7 16.8 17.8 15.7M2125 1201.2l10.7 0.3"/>
<path d="M355.1 1007.9l13-2.4 9.8-3.3 13.1-6.1 9.8-6"/>
<path d="M266.3 1151.2l18.1-2.5M1048.7 450.1l39.8 36.3 47.1 46.9"/>
<path d="M407.8 949.2l12.9-2.7 12.9-4"/>
<path d="M373.9 942.3l10-1.8 13.3-4.1 13.3-5.7 13.4-7.7 13.3-9.6 13.3-11.4 13.3-13 13.4-14.6M670.3 557.2l40-69.8 20-32.4 16.6-25.4 16.7-23.3 16.6-21.2 16.7-18.6 13.3-12.8M1046.7 446.7l63.3 79 36.6 43 43.3 46.6 30 29.4 19.9 18.7"/>
<path d="M1821.6 1051.4l31.5-4.1 18.9-1.6"/>
<path d="M278.4 1203.8l28.2-0.6 14.1-2 10.6-2.4 14.1-4.3 14.1-5.6 21.1-11.3 14.1-9.5 10.6-8.1 24.7-21.8 21.1-22.2 28.2-34.5 35.3-49.1 38.7-59.5 52.9-84.4 95.2-155.4 31.7-53.5 31.7-55.3 105.8-192.3M997.5 263.2l14.1-7.9 14.1-4.9 7-1.4 7.1-0.6 14.1 1 14.1 4.1 14.1 7 14.1 10 17.6 16.5 14.1 16 14.1 18.1 14.1 20.2 17.6 27.6 31.8 54.4 81 145.4"/>
<path d="M279.1 1116.6l11.1-1.7 11-2.8M955.2 404.8l18.4 11.3 14.8 11 14.8 12.3 22.2 21.1 18.4 19 18.5 20.2 73.9 83.7 25.9 27.1 25.8 25.3 14.8 13.3 22.2 18.2 22.1 16.5 18.5 12.4M2144.8 1210.3l22.2 0.4"/>
<path d="M806.9 518.2l25.9-16.9 33.4-19.7 25.9-13.9 29.7-14.1 25.9-10.6 29.7-9.6 22.2-5 22.3-2.8M1418.6 718.3l92.7 65.3 25.9 20 26 21.4 25.9 23.2 26 25.4 25.9 27.2 29.7 33.1"/>
<path d="M978.4 405.3l13.9 9.1 17.3 12.7 17.3 14.3 17.2 15.4 27.7 26.6 89.9 92 31.1 29.6 27.7 24.6M2012.3 1169.7l55.4-2.3"/>
<path d="M348.3 1035.6l12-2.3 9-2.9M970.7 403.8l27 12.5 21.1 11.8M1854.7 1070.3l30-2.9"/>
<path d="M1821.3 1051.6l15 2.6 12 1.1"/>
<path d="M830.3 333.8l12-15.6 12.1-14.1 12-12.1 12.1-10.2 12.1-8.1 12-5.8 9.1-3 12-1.8"/>
<path d="M1978.3 1145.7l78.9-4.7"/>
<path d="M1916.3 1207.6l22 5.1"/>
<path d="M376.3 1003.5l13.7-2.4 10.3-3.7"/>
<path d="M849.6 464.3l18.3-18.9 14.6-13.8"/>
<path d="M304.8 1093.5l12.6 0"/>
<path d="M220.1 1176.2l22 0"/>
<path d="M863.7 300.5l15.9-14.8 12.7-9.4 15.9-8.8 12.7-4.3M1594.7 991.9l31.7 34.1 28.6 28.3 25.5 22.8 31.7 25.6 25.5 17.9 28.6 17 25.4 12.8 31.8 13.1"/>
<path d="M483 776l9.5-0.6 25.4-4.6 19.1-4.8 15.9-5.2M2087.3 1193.2l19.1-0.4"/>
<path d="M339.1 1038l11.4-0.2 15.1-3.3M669.1 561.1l22.8-44.6 18.9-34.5 19-31.6 15.2-22.8 15.2-20.5 15.1-17.6 19-18.2 15.2-11.2M968.8 399.5l22.8 21.7 22.7 23.3 49.3 53.7 64.5 71.8 34.2 36.6 37.9 38.9 34.1 32.8 34.2 30.5 22.7 18.9 30.4 23.5M2216.8 1220.2l60.7-3.4"/>
<path d="M575.1 888.7l17.5-28.9M645.2 770.7l43.7-75.5M1077.2 303.3l14.6 14 11.7 12.7 17.5 21.5 14.6 19.8M1766.3 1009.8l32.1 14 26.3 8.8 26.2 6.4 29.2 4"/>
<path d="M1117.1 351.4l10 8.8 16.7 16.7 13.3 15.1 13.4 16.6 16.7 22.3 16.6 24 33.4 51.2"/>
<path d="M326.7 1046.1l15.6-0.2 6.3-0.8 9.4-2.4"/>
<path d="M849.6 313.6l21.2-35.5 17.7-25.6 17.8-21.3 14.1-13.8 10.6-8.3 7.1-4.5 10.7-5.1 7-2.5 10.7-2 7.1-0.3 7 0.6 7.1 1.4 14.2 5 7.1 3.8 10.6 7.1 10.6 8.5 7.1 6.7 17.7 19.2 17.7 22.8 21.3 31.4 21.2 34.4 24.8 43.6"/>
<path d="M743.5 607.6l40.1-52.2 60-81.6M850.3 464.5l23.3-32.1M1040.4 282l10.1 0.3 10 1.7 13.3 4.5 10 5.2 10 6.6 10 7.9 10 9.4 13.4 14.5 10 12.3 13.3 18.2 23.4 35.8 26.7 45.7 33.3 61.1"/>
<path d="M724.4 471.3l30.3-57.2 21.3-38.1 24.2-40.2 24.3-36.2 21.2-27.7 18.2-19.9 18.2-16.5 12.2-8.9 9.1-5.5 9.1-4.5 9.1-3.5 9.1-2.3 12.1-1.5 9.1 0.3 12.2 2 15.1 5.5 9.1 4.7 9.1 5.9 18.3 15.2 12.1 12.4 9.1 10.3 21.2 28M1361.5 797.6l36.5 45.5 33.3 37.5 36.4 36.6 33.4 29.7 21.3 17.4 24.2 18.8 60.7 44.5 78.9 54.1 39.4 25.7 27.3 16.8"/>
<path d="M367.3 999.6l9.6-1.4 6.4-1.7 15.9-6.2"/>
<path d="M225 1176.6l17.8-0.3"/>
<path d="M298.9 1108.5l9.7-0.8"/>
<path d="M971.4 403l23.1 12.7 26.4 16.8 29.7 21.3 39.6 29.9"/>
<path d="M1784.6 1025.3l23.8 6.7 26.8 5.7 14.9 2.3 20.8 2.4"/>
<path d="M355 986.7l30.2-0.2 18.1-4.2"/>
<path d="M441 920.4l11.7-2.5M1916.2 1113.8l23.5-1.1"/>
<path d="M251 1164.4l10.3-1.1"/>
<path d="M302.7 1070.1l10.4-2 10.3-3.4 7-3 10.4-5.7M534.8 777.8l20.8-34.5 24.2-37.8M829.3 486.2l17.3-7.2 24.3-8.8 24.3-7.2 13.8-3.1 20.8-3.4 20.8-1.6 13.8-0.2 20.8 1.6 20.8 3.6 17.4 4.5 17.3 6.1 13.8 5.9 17.4 8.6 17.3 9.8 20.8 13.4 20.8 14.9"/>
<path d="M282.3 1117.9l9.8-1.1M1690.6 1066.5l29.5 29.6 32.8 29.8 32.9 26.1 26.2 18 29.6 17 16.4 7.5 6.6 1.6 9.8 1.3 23-0.2"/>
<path d="M568.6 900.3l68.6-102.8 113.3-175.2 30.9-46.1 24-34.5 27.5-37.2 27.4-33.8 27.5-30.3 24-22.4M1690.9 951.9l154.5 108.4M1865.9 1074.5l20.6 13.9M1907.1 1101.9l44.6 26.8M1975.8 1141.4l20.6 9.6M2006.7 1155.4l17.1 6.6 13.8 4.5 30.8 8.1 27.5 4.8 30.9 2.6"/>
<path d="M428.7 848.5l12.1-2.2 9-2.6 15.1-5.8 9.1-4.5 12.1-7.1 12-8.3 15.1-12.3 9.1-8.3M808.9 355.3l12.1-16.2 12.1-14.9 15-16.4 12.1-11.2 15.1-11.5 12.1-7.1 12-5.1 12.1-3"/>
<path d="M614.8 646.4l35-69.2 31.9-58.2 28.6-47.8 31.9-47.8 28.7-38.4 15.9-19.1 15.9-17.5 16-15.7 15.9-13.8 12.7-9.5 12.8-7.9"/>
<path d="M180.2 1218.2l56.9 2.9 26.7-1 13.4-2 13.4-3.3 13.3-4.6 13.4-5.6 16.7-8.8 16.8-10.6 13.3-9.9 16.7-14.3 13.4-13 13.4-14.4 16.7-20 13.4-17.5M1771.8 1018.9l13.3 0.4 16.7-0.9 66.9-7.4 20.1-1.7"/>
<path d="M2086.3 1190.1l17.5-0.3"/>
<path d="M302 1051.5l9.9-1.5 13.3-3.4 10-3.6 10-4.5 9.9-5.6 13.3-8.8 13.3-10.3 13.3-11.7M1053 450.9l26.6 26.8 16.6 17.8 89.8 101.2 43.2 47.6M1973.6 1134.6l26.6 2.7"/>
<path d="M1976.1 1141.5l27.4 5.3 30.8 3.1"/>
<path d="M373.3 1021l10.1-1.5"/>
<path d="M281.1 1122.6l10.9-0.8"/>
<path d="M321.6 1043.7l23.5-0.3 13.4-2.4"/>
<path d="M2171.6 1216l15 0.2"/>
<path d="M196.5 1188.3l26.9 0M719 479.5l23.6-42.6 23.6-40.1 20.3-31.6 16.8-24.1 20.2-26.2 20.3-23 20.2-19.3 16.9-13.5 16.8-10.6 16.9-7.7 16.8-4.6 10.1-1.4 6.8-0.2 10.1 0.8 10.1 1.8 13.5 4.4 10.1 4.9 6.8 4 16.8 12.5M1379.8 813.1l33.7 38.4 40.5 43.4 30.3 31.1 37.1 36.2 33.7 31.4 30.4 26.9 23.6 20 33.7 27.1 30.3 22.4 33.7 23 23.6 14.9 23.6 13.5 30.4 15.3 23.6 10.2 27 9.5 20.2 5.6"/>
<path d="M299 1101.3l12.7 0"/>
<path d="M427.3 854.9l9.9-1.1 10-2 10-2.7 9.9-3.7 10-4.5 13.3-7.3 19.9-13.6M1918.5 1207.6l19.9 6.2 16.6 4.1 23.2 4.3 20 2.5 33.2 2.9 36.5 2.2 39.9 1 16.6-0.6"/>
<path d="M322.6 1066l9.6-1M892.3 285.7l16-15.9 12.8-9.7 12.8-7.1 12.8-4.2 12.8-1.3 12.8 1.1 6.4 1.6 9.6 3.8 12.8 7.3"/>
<path d="M295.1 1098.2l22.1 0M1448.6 871.8l31.5 33.4 18.9 17.8 15.8 13.8 34.6 28.3 75.7 59.1 34.6 29.1 66.2 57.1 31.5 26 12.6 9 9.5 4.2 12.6 2.8 15.8 0.8"/>
<path d="M491.7 1026.3l21.9-29.6 18.3-26 47.4-71.5 58.5-92 116.9-187.3 54.7-84.4 21.9-31.5 29.3-39.1 18.2-22 18.3-20.1M1536.2 815.9l80.4 59.1 54.8 43.8 21.9 18.6 36.5 32.7 58.4 55.5"/>
<path d="M328.1 1062.1l9.4-0.1M1906.3 1102.5l34.7-2.2"/>
<path d="M321.8 1076l9.1-1.2M1681.8 942.5l36.6 21.9 36.6 24.9 9.1 4.5 9.2 2.8 15.2 2 15.3 0.1 76.2-6.6"/>
<path d="M643.5 773.5l46.9-72.8 87.2-141.3M1099.5 337.7l10.1 3.9 16.8 8.2 16.7 10.3 13.4 9.7 13.5 11.1 13.4 12.5 16.7 17.5 16.8 19.3 26.8 35 26.9 39 30.1 47.2 63.8 103 23.4 36.2"/>
<path d="M196.5 1196.8l24.1 0M2214.4 1219.9l40.3-2"/>
<path d="M324.9 1037.6l9.4-1.4 9.3-2.5 15.6-6.8 9.4-5.6 9.3-6.7 18.8-16.6"/>
<path d="M332.5 1026.6l16.8 0 10.1-1.4 13.5-3.9 13.4-5.9M1139.3 539.7l36.9 57.5 26.9 39.3 26.9 36.3 23.6 28.9 23.5 25.9 13.4 13.6 13.5 12.4 23.5 18.8 16.8 11.5 13.5 8.3"/>
<path d="M1901 1093.9l29.9-2.1"/>
<path d="M274 1206.5l13-2.6 13-3.9M1835 1057.4l35.6-3.9 25.9-2.1"/>
<path d="M1905.6 1097.1l22-1.4"/>
<path d="M1845.9 1066.9l68.7-5.9"/>
<path d="M1213 475.4l17.2 15.8 20.8 20.2 24.2 25.2 27.6 30.8 41.5 49.5 76.1 95.1 44.9 54.6"/>
<path d="M849.9 456l29.7-20.3"/>
<path d="M497.6 668.4l32.9-4.5 36.2-7.6 29.6-8.8 16.5-6.4 9.8-4.6M2162.5 1215.5l16.4-0.4"/>
<path d="M1846.3 1064.2l15.3-0.8"/>
<path d="M297.4 1200.8l13.6-2.9 13.6-4.3 13.6-5.7 13.6-7 13.6-8.4 13.6-9.8 17-14.4 13.6-13 27.2-30.2 17-21.5 13.6-18.7 30.6-45.8 34.1-55.7M1018.4 269.8l13.6 2.9 13.6 5.1 13.6 7.6 17 12.6 13.6 12.4 17 18.5 17 21.2 17 23.9M1970.7 1134l40.8-2.4"/>
<path d="M293.4 1104.9l17.8-3.1"/>
<path d="M373.6 923.7l13.8-1.7 13.8-3.1 13.8-4.5 10.4-4.5 13.8-7 10.3-6.3 13.8-9.2 13.8-10.6"/>
<path d="M1833.2 1056.6l26.5-1.8"/>
<path d="M2152.7 1227l15.2-0.3"/>
<path d="M407.7 908.4l18.5-4 18.4-7.7 12.3-7.2 9.3-6.6 18.4-15.7M1936.1 1125.2l43.1-3.1"/>
<path d="M2153.8 1226.7l44.1-1.4"/>
<path d="M934.4 260.4l13.7-10.8 13.6-8.2 13.7-5.6 10.2-2.5 6.8-0.9 10.2 0.1 6.9 0.7 10.2 2.5 13.6 5.6 17.1 10.4 17 14 17.1 17.4 17 20.7 13.7 18.5 20.4 30.7 17.1 27.9 37.5 66.4"/>
<path d="M347.5 1046.9l9.8-1.1M828 342.9l32.7-65.3 22.8-40.9 19.7-30.7 9.8-13.4 9.8-11.8 9.8-10.4 9.8-8.8 9.8-7.1 9.8-5.3 9.8-3.5 9.8-1.8 13.1 0.4 9.8 2.5 9.8 4.5 9.8 6.2 6.5 5 9.8 9.1 9.8 10.5 9.8 11.8 9.9 13.3 13 19.6 19.6 32.6 22.9 42 88.3 173.7M2007.9 1158.9l9.8-0.5"/>
<path d="M382.7 981.1l23.3-0.3M866.2 297.5l14.5-13 17.5-12.7 14.6-8.3 14.5-5.7 14.6-3.2 14.6-0.7 11.6 1.2 14.6 3.8"/>
<path d="M2067.4 1185.9l25.3 1"/>
<path d="M1310.3 600l27 19.4 18 14.1 30 26 24 23.2 21 21.8 33 36.9 48 57.7M1820.2 1047l36 4.6"/>
<path d="M392.9 1140l10.7-7.5 10.7-8.6 10.7-9.7 14.3-14.5 14.3-16.4 10.7-13.4 25-34.5 32.2-49.4 21.4-35.2 28.6-49.5 60.7-107.9M643 774.5l46.4-81.4M1060.9 293.1l14.3 0.4 17.9 3.2 17.8 6.2 17.9 9.3 17.8 12.5 17.9 15.2 14.3 14.6 17.9 20.5 14.2 18.2 17.9 24.9 17.9 26.9 17.8 28.8 21.5 36 78.6 138.7 28.5 48.6"/>
<path d="M1693.6 1067.4l26.3 24.4M1772.3 1135.7l29.5 21.2 29.6 18.3 29.5 15.4 32.8 13.6 22.9 7.1 16.4 3.5 36.1 4.9 39.3 3.2"/>
<path d="M399.1 963.1l8.7-1.6 11.7-3.4M1829.3 1043.1l61.3-4.8"/>
<path d="M280.5 1065.3l23.7 0 10.1-1.4 17-5.4 10.1-4.9 6.8-4"/>
<path d="M401.6 945l6.5-0.8 9.7-2.3 16.2-6.3"/>
<path d="M395.7 1134.1l13.7-5.9 13.6-8 17-13 13.7-12.7 17-18.8 10.2-12.4 13.6-18.2 17.1-25.1 34.1-55.6 37.4-67.4 40.9-78 64.8-127.2M1223.8 488.8l44.3 43.1 30.7 30.8 27.2 28.4 34.1 36.9 44.3 51.1 30.7 37.1 54.5 68"/>
<path d="M1949.8 1127.1l22.6-1.3"/>
<path d="M186.1 1215.3l10.5 0.2M1932 1121.1l41.9-3.2"/>
<path d="M245.8 1144.5l17.6-2.3 17.6-5.1"/>
<path d="M1081.6 311.3l16.8 11.1 16.8 14.2 20.2 20.7 16.9 20.2 16.8 22.3 20.2 29.4 50.4 79.3"/>
<path d="M227.9 1163.6l33.3-0.3"/>
<path d="M921.3 415.1l10.8-2 10.8-1.1 21.6-0.5 17.9 1.6 21.6 4.1"/>
<path d="M313 1077.2l17.1 0"/>
<path d="M1920.5 1114.2l33.4-2.6"/>
<path d="M436 915.1l11.4 0 8.6-1.7M1881.7 1084.4l14.3-1.2"/>
<path d="M349.3 935.3l12.7-0.2 9.5-1.6 9.5-2.4 19.1-7.3 19-10.4 15.9-11 19-15.8 22.2-21.3 19.1-20.7"/>
<path d="M637.8 783l89-144.6 41.1-64.8M1148 384.9l24 24.7 27.4 32 92.5 119.5 44.5 54.9 51.4 59 82.2 90.3"/>
<path d="M326.8 1054.8l20.9-0.2M1774.7 1020.4l44.6-5.4 26.8-2.3"/>
<path d="M507.6 691.5l17-2.5 13.5-3.6 10.2-3.5 13.5-5.9 17-8.9 10.2-6.3 20.3-14.7 10.2-8.5"/>
<path d="M358.3 910l23.4-0.1 13.4-2.3 13.4-4.2 10-4.4 10.1-5.3 16.7-10.9 20.1-15.9 23.4-22.3 20.1-21.8"/>
<path d="M442.7 832.8l23.9 0 9-1.5 9-2.6 9-3.7 9-4.8 9-5.7 8.9-6.9M1919.4 1114.1l54-3.8"/>
<path d="M295.3 1058.8l13.8-2.5 13.8-4.5 10.4-4.4 13.8-7.8 10.3-7.2 13.8-11 13.8-12.7 13.8-14.6M536.7 779.6l86.3-162.4 24.1-43.6 24.1-41 24.2-38 24.1-33.8 24.2-29.1 20.7-20.4M936.8 403.1l24.1 18 27.6 23.7 41.4 39.6 62.1 61.5 24.1 22.6 24.2 21.3 24.1 19.6 24.1 17.9 27.6 18.5 24.2 14.5"/>
<path d="M335.5 1048l8.9-1.8 11.9-3.9M640.9 603.3l38.6-73.2 20.7-36.2 17.8-28.5 14.8-21.5 17.8-23.1 14.8-16.9 17.8-17.2"/>
<path d="M827.7 338.3l13.6-21.1 10.2-14.4 13.7-17.3 10.2-11.2 10.2-10 13.7-10.9 10.2-6.3 10.2-4.8 10.2-3.4 13.7-2.1 10.2 0.3 10.2 1.8 10.2 3.3 13.7 6.5 10.2 6.5 13.6 10.5"/>
<path d="M186.3 1211.6l11.5-0.4M958.7 402.8l15.3 6.1 19.3 9.8 19.2 11.7 15.3 10.6 15.4 11.2 34.6 27.8 53.8 46.3"/>
<path d="M717.7 483.6l28.3-53.5 28.3-48.3 14.2-21.5 14.1-19.6 10.6-13.5 10.6-12.1 14.2-14 10.6-9 10.6-7.6 10.6-6.2 10.6-4.8 10.7-3.3 14.1-2.2 10.6 0"/>
<path d="M1913.7 1111.6l13.3 1"/>
<path d="M334.6 1047l23.7-0.3"/>
<path d="M368.7 925.4l6.8-0.5 13.5-3.4 10.2-4 13.6-7.4 13.5-9.5 10.2-8.5 10.1-9.6 13.6-14.2 20.3-24.3 27.2-36.8 30.5-45.1 54.2-82.4M924.6 407.9l13.6 0.7 16.9 2.3 13.6 3 13.5 4 17 6.3 16.9 7.6 17 8.9 13.5 8.1"/>
<path d="M1582.2 857.4l39.4 26.8 28.6 20.4 60.9 45.8 57.3 46.2 78.8 67.3"/>
<path d="M1597.6 870.8l18.7 14.5 34.3 28.7M1691.1 950.6l21.8 20.7"/>
<path d="M2044.4 1225.8l45.2 2.2"/>
<path d="M1060.8 289.5l16.5 7.8 9.9 6.2 9.9 7.4 16.5 14.6 13.2 13.9 10 11.6 19.8 25.9 23.1 34 23.1 37.7 33 58.1"/>
<path d="M1166.2 410.7l20.7 23 24.1 30 20.7 27.7 27.6 39.9"/>
<path d="M1891 1091.1l28.9-2.1"/>
<path d="M417.3 847l11.8-0.2 11.8-1.8 11.8-2.8 11.8-3.7 14.7-6 14.7-7.4 14.8-8.8 11.7-7.9M853.4 458l26.5-23.7M1704.8 963.7l17.7 15.6M1866.8 1077.5l56-5.3"/>
<path d="M1070.1 296.4l14 9.1 14.1 11.4 14 13.9 14.1 16 14.1 18 17.5 24.8 17.6 26.8 21.1 34.2"/>
<path d="M2064.3 1226.9l40.8 2 40.8-1.3"/>
<path d="M1975.2 1139.6l30-2.2"/>
<path d="M378.6 951.3l13.7-0.5 13.8-2.9 13.7-5.1 13.7-7.4"/>
<path d="M179.4 1221.3l60 2.6 24-0.8 16-2.5 12-3.1 16-5.8 12-5.4 16-8.8 12-7.8 16-12.1 16-14.2 16-16.4 11.9-13.6 16-20.3 12-16.5M2182.8 1225.3l40-2.6"/>
<path d="M320.6 1068.4l14.3-2.5"/>
<path d="M1768.2 1015.3l104.4-9.6"/>
<path d="M828.3 341.8l25.5-49.9 21.9-37.6 10.9-16.6 11-15.1 10.9-13.5 11-11.6 10.9-9.8 11-8.1 10.9-6.1 11-4.2 10.9-2.5 7.3-0.5 11 0.7 10.9 2.5 11 4.4 10.9 6.1 7.3 5.1 10.9 9 11 10.7 10.9 12.3 21.9 28.6 21.9 33.6 25.6 44.4 25.5 48.4 40.1 80.6M2185.7 1216.8l36.5-1.2"/>
<path d="M382.2 978.1l13.6-2.4 6.8-2 10.2-4.2"/>
<path d="M382 1007.4l15.5-0.5M886.3 290.6l15.5-17 15.6-14.1 12.5-9.3 15.5-8.8 15.6-5.5 12.4-2.1 12.5 0 15.6 3 12.4 4.8 15.6 9 12.4 9.5 15.6 14.5 12.4 13.8 15.6 19.4 15.6 21.8 15.5 23.7"/>
<path d="M2149.2 1211.8l10.9-0.2"/>
<path d="M291.8 1101.4l10.9-0.1 11-1.4M1574.5 973.3l43.8 44.1 36.6 34.7 32.9 28.9 36.5 29.2 36.5 26.1 32.9 20.7 32.9 18.2 40.2 18.9 29.3 11.5 25.5 8.1 11 2.6 40.2 6.2 43.8 4.1 54.9 3.2 36.5 0.9 51.2-2.6"/>
<path d="M1781.7 1140.9l15.5 10.6 15.5 9.7 18.5 10.1 18.6 8.5"/>
<path d="M930.5 258.3l14.6-7.6 14.6-4.4 8.7-1.2 8.8-0.2 14.6 2.1 14.6 5.1 17.5 9.8 14.6 10.7 17.5 15.8"/>
<path d="M142.2 1216.3l29.3 1.6 22 0.3M1977.7 1141.3l14.6 2.2 22 1.7"/>
<path d="M809 356l16-23.4 12.7-17.1 12.8-15.7 12.7-14.1 16-15 12.7-10.2 12.8-8.2 12.7-6.5 12.8-4.3 9.6-1.9 12.7-0.7 12.8 1.3 12.7 3.6 12.8 5.6 9.5 5.5 12.8 9.3M1692.2 1067.6l38.3 37.2 15.9 14.4 19.1 16.2 31.9 24.2 28.7 18.2 12.8 7 15.9 7.6 12.8 5.3 15.9 5.4 19.1 5 12.8 2.4 12.7 1.4 12.8 0.4"/>
<path d="M274.4 1150.1l10.2 0"/>
<path d="M267.8 1153l18.7-3"/>
<path d="M716.3 486.2l42.1-85.1 19.4-35.8 19.5-32.7 16.2-24.5 16.2-21.6 16.2-18.2 12.9-11.9 13-9.6 9.7-5.6 6.5-2.8 9.7-3 6.5-1.2 9.7-0.9 6.5 0.1 12.9 2.1 9.8 3 9.7 4.2 16.2 9.2 16.2 12.1"/>
<path d="M386.4 950.8l25.1 0 18.7-3M1907.3 1099.6l47-5.8 31.3-2.8"/>
<path d="M403.7 925.1l12.1-2.4 15.1-5.7 12.1-6.4 15.1-10.5M1918.6 1114.1l30.2-2.5"/>
<path d="M378.9 940.5l21.3 0 12.1-2.2 18.2-6.5 12.1-6.4 6.1-4"/>
<path d="M190.5 1201.5l17.2 0"/>
<path d="M728.8 628.4l33.8-42.4 37.5-42.9 37.5-38.8 33.8-30.9 15-12.5 18.8-14.1 15-10.1 15.1-9 15-8 15-6.5 15-5.4 11.3-3.2M1374.5 672l30.1 30.9M1430.8 728.6l37.6 35.2"/>
<path d="M1797.1 1033.8l34.6-4.7 25.1-2.7"/>
<path d="M406.4 891.2l14.2-4.4 14.1-6.6 16.9-10.6 11.3-8.5 14.2-12.6 16.9-17.6 11.3-13.1 17-21.6M536.4 776.7l28.3-43M649.4 588.5l28.3-49.3 22.6-37.8 17-26.9 19.7-29.8 22.6-31.2 14.2-17.6 14.1-15.9 16.9-16.8"/>
<path d="M2040.5 1179.5l10.4 0.6"/>
<path d="M1821.9 1053l64.8-6.5"/>
<path d="M385.2 1007.7l8.9 0"/>
<path d="M363.2 1021.3l12.9-2.1 9.6-3.1M958.4 261.3l12.9-4.1 9.7-1.2 9.6 0.2 9.7 1.9M1019.6 266.2l12.9 8.7 6.4 5.3"/>
<path d="M1996.1 1150.8l23-1.3"/>
<path d="M369.7 1023.8l9.8-1.7"/>
<path d="M408.1 918.1l13.8-2.4 10.4-3.2 10.4-4.5 13.9-7.6"/>
<path d="M373.6 991.6l15.7-0.1 6.3-1"/>
<path d="M2212.6 1218.9l23-1.5"/>
<path d="M471.6 795l12.2 0 18.3-4.1 18.2-6.5 18.3-8.8M1398.1 696.1l88.4 68.9 24.3 19.8 39.7 33.6 24.3 21.8 30.5 28.6 24.4 23.6 27.4 28"/>
<path d="M424 930l17 0"/>
<path d="M1595.7 870.7l30.8 20.5 34.3 27.3 34.2 30.8 48 46.7M1931.4 1116.6l34.3-3.8 24-1.8"/>
<path d="M1865.8 1083.1l28.6-2.3"/>
<path d="M271 1090.5l25.6-0.5 12.8-2.4 9.6-3M613.7 644.1l25.6-46.6 19.2-33.4 32.1-52.4 16-24.2 16-22.9 16-21.2 19.2-23.3M1199.8 606.2l28.8 40M1286.3 719.4l22.4 25.8 16 17.3 32 32.1 22.4 20.7 22.5 19.4 44.8 35.3M1481.6 895.1l19.3 13M1866 1076l41.6-3.8"/>
<path d="M1189.8 592.3l26.4 50.5 16.6 28.8 13.2 21.5 23.1 33.6 13.3 16.9 13.2 15.4 16.5 17.3 13.3 12.1 13.2 10.8 13.2 9.7 13.2 8.4 19.9 11.2 16.5 8.2 19.9 8.6"/>
<path d="M1689.6 1066.1l32.5 26.1"/>
<path d="M345.9 968.5l13.6-0.3 10.1-2.3 13.6-5.3 10.2-5.8 13.5-10 13.6-12.5 10.2-10.9 16.9-20.7 20.4-28.6 20.3-32 20.4-34.2 64.4-113 20.3-34.1 23.8-37.6 20.3-29.7 23.8-31.8 16.9-20.9 20.4-23M1102.1 493.5l33.9 42M1146.2 548.2l20.3 25M1173.3 581.2l27.1 31 27.2 28"/>
<path d="M457 776.3l24.1-0.2 24.1-5.7 15-4.5 15.1-5.7 18-8 9-4.8"/>
<path d="M936.8 264.4l14.3-5.8 14.4-3.1 10.8-0.3 14.3 2"/>
<path d="M1795.4 1032.7l31.4-4 18.8-1.8"/>
<path d="M431.4 858.2l9.8 0 6.4-0.7 19.5-4.6 16.2-6.2 19.5-10.4M781.6 555.4l39-38.5 68.1-65.8 32.4-29.7 25.9-21.8M1135.1 366l19.5 14.8 16.2 15.3 16.2 17.4 22.7 27.7 16.2 21.7 22.7 32.5 90.8 137.4"/>
<path d="M445.3 859.8l8.5-1.9 8.5-2.9 14.1-6.3 17-10.3 14.2-10.9"/>
<path d="M1539.5 820.5l23.7 16.4 16.9 12.5 23.7 18.6 27.1 22.4 47.4 42.4 64.4 62"/>
<path d="M360.3 1013.5l29.8-0.4"/>
<path d="M1914.5 1110.8l22.8 3.8 29.4 2.8"/>
<path d="M251.4 1160.2l14.3-1.9"/>
<path d="M412.3 1121.7l10.4-8.2 13.8-13.1 13.8-15.1 13.9-16.9 10.4-13.9 17.3-25.5 17.2-28 13.9-24"/>
<path d="M222.5 1138l26 0 6.5-0.6 13-2.3 13-3.8M1269.9 702.8l26 32.9 22.8 24.5 19.5 18.3 26 20.2M1845.6 1062.9l22.8 3.2 16.2 1.3"/>
<path d="M444.7 843.5l13.9-0.1 16.6-2.9 16.6-5.6 16.6-8.1M1764.3 1010.1l24.9-0.4 69.1-5.4"/>
<path d="M1625.2 1020.2l31.8 30 28.3 24.8 31.9 25.5 21.2 15.6 24.8 16.9 24.7 15.2 28.4 15.2 28.3 13.1"/>
<path d="M273.2 1116.6l20.5 0M1998.6 1153.6l17.1 1.6"/>
<path d="M2147.7 1212.5l76.9-2.2"/>
<path d="M2067.2 1186l62 1.1"/>
<path d="M263.3 1127.4l27.6-0.3"/>
<path d="M1984.4 1149.2l40.4-2.3"/>
<path d="M367.5 1023.2l13.8-1.8"/>
<path d="M286.5 1090l28.9-0.1 6.4-0.8"/>
<path d="M1697.2 1069.3l19.7 18.1M1795.9 1149.3l16.5 10.5 16.4 9.4 26.3 13"/>
<path d="M401.4 877.1l12.2-2.2 15.3-4.6 12.2-5.1 15.2-8.1 15.3-10 15.3-11.9 15.2-13.5 18.3-17.7"/>
<path d="M454.7 865.1l9.6-0.9 9.6-2.2 9.7-3.4 9.6-4.6"/>
<path d="M1819.5 1049l65-5.6"/>
<path d="M206 1194.4l13.8 0M1907.3 1107.2l55-4.9"/>
<path d="M374.6 969.4l9.8 0 6.5-0.8 9.8-2.2 9.8-3.3M2014 1170.7l22.9 2"/>
<path d="M859.5 303.9l19.5-25.6 16.3-18.6 9.8-10 9.8-8.8 13-10 16.3-9.5 16.4-5.9 6.5-1.3 9.8-0.7 9.7 0.8 6.6 1.3 13 4.4 9.8 5 6.5 4.2 13.1 10.1 16.3 16.2 16.3 19.3 19.5 27.2 16.3 25.2 22.9 38.7M1576.9 976.1l52.2 56.8 32.6 33 39.1 35.9 32.6 26.3 22.8 16.4 6.6 3.8 6.5 2.8 9.8 2.7 9.8 1.4 13 0.5 13-0.4"/>
<path d="M515.9 625.2l104.8 16.7M1907.5 1101.4l23.3 7.4 26.2 6.3 26.2 4.4 20.4 1.9"/>
<path d="M215.5 1179.5l14.2-0.2 10.7-1.2M657.5 577.2l25-41.5 24.9-38"/>
<path d="M353.4 955l14.7-3.1 14.6-5.3 14.7-7.2 17.6-11.4 17.6-14.3 17.6-16.6 20.6-22.1 17.6-20.7M1811.6 1041.1l41.1-3.6"/>
<path d="M384.3 1146.2l13.8-8.7 6.9-5.3 10.3-9 10.4-10.2 20.7-24.2 20.6-28.9M904.7 276.6l13.8-16.6 13.8-13.7 13.8-11.1 13.8-8 13.8-4.8 6.9-1.3 6.9-0.4 6.8 0.2 6.9 1.1 13.8 4.6 13.8 7.5 13.8 10.2 13.8 12.8 17.2 19.5 13.8 17.9 17.2 24.8 17.3 27.2 17.2 29.2M1407.9 834.8l13.8 16 17.2 18.2 13.8 13.1 13.8 11.9 13.8 10.7 13.8 9.6 20.7 12.5 17.2 9.1"/>
<path d="M344.7 1011.4l10.6-1 14.1-3.3 17.7-7.4 14.2-8.1M1547.5 953.2l35.4 33.9 28.3 24.3 21.2 16.8 21.2 15.3 31.9 20.7M1692.5 1068.5l21.3 12.2M2124.1 1207.4l28.3 0.6"/>
<path d="M1566.4 968.7l35.6 35.4 21.3 19.5 21.3 18.2 24.9 19.5 24.9 18.1 17.8 12.3 24.9 15.8"/>
<path d="M219.3 1169.8l15.8 0 11.8-0.9M2170.7 1226.3l63.1-4"/>
<path d="M1932.4 1118.5l24.6 3.3"/>
<path d="M819.2 347.5l16.2-26.8 16.2-24.6 16.3-22.2 16.2-19.3 13-12.9 13-10.7 13-7.8 13-5.1 13-2.2 13 1.1 6.4 1.6 6.5 2.4 13 7.3 13 10.4 13 13.3 13 16.1 13 18.4M1692.8 1065.3l32.5 34.4 32.4 30.4 26 20.8 26 17.8 19.5 10.8 16.2 8 26 10.2 16.2 5 16.3 4 16.2 3.1 16.3 2.1"/>
<path d="M836.8 330l21-37.6 17.6-28.1 21-28.7 7-8.3 10.5-10.8 10.5-9.3 10.6-7.6 14-7.3 7-2.4 10.5-2.1 10.5-0.1 10.5 1.5 7 2 10.6 4.3 10.5 6.1 10.5 7.6 10.5 8.9 10.5 10.3 21.1 24.4 21 28.7 24.5 37.8 24.6 41.5 28 50.4M1474.8 888.3l63.1 73.3 45.5 50 21.1 21.2 21 19.7 31.5 26.1 14.1 10.3 21 13.9 17.5 10.6 24.6 13.5 56 27.2 38.6 16.9 21 8.5"/>
<path d="M222.8 1179.6l16.1-2.1M1638.4 1028.5l45.1 48.2 12.8 12.9 6.5 5.2 9.6 5.7 9.7 3.5 9.6 1.9 9.7 0.8"/>
<path d="M404.2 940l12.8-0.5 16-4.6"/>
<path d="M226.2 1216.1l20.6-1.2 17.3-3 20.6-6.1 10.4-4.1 10.3-5"/>
<path d="M1858.2 1071.1l53.6-5.1"/>
<path d="M960.9 263.9l11-2.5 11-0.9M1015.9 266.3l14.7 6.5 11 6.8"/>
<path d="M316.4 1073.9l13.1 0"/>
<path d="M1100.6 335.5l18.6 16.6 15.9 17M1161.7 401.6l29.2 40.9M1440.6 741.7l26.6 20.9M1475.1 768.8l18.6 14.5M1554.8 832.7l15.9 13.2M1578.7 852.6l66.4 55.5 26.6 21.1 29.2 21.1 26.6 16.8 29.2 15.8 29.2 12.3 13.3 4.4 18.6 5.2 26.5 5.1"/>
<path d="M275.4 1144l11.3-0.7"/>
<path d="M875.9 292.3l10-8.4 9.9-7 16.6-8.5"/>
<path d="M2014.2 1171.7l17.4 1.1"/>
<path d="M138.6 1215.8l34.4 1.5 22.9-0.2"/>
<path d="M2218 1219l18.7-0.7"/>
<path d="M1906.5 1095.9l15.7 1.6"/>
<path d="M247.5 1117l25.5 0 7.3-0.7 10.9-2.3 10.9-3.5"/>
<path d="M230.2 1153.9l28.8 0 10.7-1 14.4-2.5"/>
<path d="M501.4 1011.2l23.9-34.4 23.9-37.2 34.1-56.3 75.1-128.5 37.6-62.8 44.4-70.7 30.7-45.9 20.5-28.5 17.1-22.4 17-21.2 20.5-23.5 17.1-17.9 17.1-16.1 17-14.5 17.1-12.8M921.3 413.9l20.5-12M1286.7 566.7l64.8 68.4 41 40.4 54.6 49.8 61.5 53.3 41 36.7 44.3 42.1 64.9 65"/>
<path d="M1016.7 266.2l16.9 4.9 16.9 8.2 17 11.6 16.9 14.3 16.9 17 16.9 19.7 20.3 26.6 20.3 29.6M1443.1 866.9l20.3 20.5 20.3 17.5 20.3 14.7 27 16.5"/>
<path d="M315.7 1063l16.3-3.4 13.1-5M1109.2 500.3l19.6 23.1"/>
<path d="M274.8 1205.2l18.3-2.7 11-2.9 10.9-3.9 18.3-8.7 11-6.5 14.6-10.5 11-9 14.6-13.9M1083 315.4l14.6 7.7 14.6 10.7 18.3 17.2 14.6 16.5 18.3 24.2 14.7 21.5 21.9 35.3 25.6 44M2125.2 1207.9l10.9-0.2"/>
<path d="M1905.6 1101.1l13.1-0.9"/>
<path d="M185.9 1204.2l18.5-0.3"/>
<path d="M360.8 1022.5l19.8 0"/>
<path d="M1973.1 1139.9l24.3-1.3"/>
<path d="M992.9 258.6l10.3-0.1 10.2 1.5M1020.2 262l13.7 5.9 10.2 6.6 10.3 8.2 13.6 13.5M2075.6 1188l27.3 0.7"/>
<path d="M165.5 1220.7l44.2 1.4 32.1-1.2 20.1-3 12.1-2.9 12-3.8 16.1-6.3 16-7.7 24.1-14.1 12.1-8.5 12.1-9.6 16-14.3 12.1-11.8"/>
<path d="M383.1 978.5l15.9-3.7 12.8-5.4M1068.1 464.2l54.2 50.2"/>
<path d="M403.2 820.5l12.3-2.8 12.3-4 15.4-6.5 12.3-6.4 12.3-7.5 15.4-11 12.3-9.9 12.3-10.9 27.7-27.6 27.7-31.4 24.7-30.3 52.3-67.9M1046.5 448.5l21.5 22.5 24.6 27.3 64.7 75.4 33.8 38.5 24.7 26.5 24.6 25.3"/>
<path d="M413.4 910.5l11.6-2 11.6-3.3 11.7-4.7 11.6-6.1"/>
<path d="M364.8 930.7l24.8-0.1 12.4-2.4 9.3-2.9 9.2-3.9 12.4-6.8 12.4-8.6 9.3-7.6M1934.5 1124.9l12.3-0.8"/>
<path d="M315.8 1074.6l14.1 0"/>
<path d="M2195.9 1224.5l47.1-3 43.2-1.8"/>
<path d="M456.5 818.6l19.9-4 17-5.8 19.9-9.4 14.1-8.7M1868.9 1083.4l36.9-3.6"/>
<path d="M1964.4 1130.7l49.4-3.1"/>
<path d="M390.9 957.2l12.3-2.8 9.3-3.7 12.3-6.8 9.3-6.8"/>
<path d="M386.4 1009.2l9.6-1.1M2000.8 1155.1l25.6 2.2"/>
<path d="M409.8 1124.3l14.7-12.2 14.6-14.2 11-11.4 14.6-17 14.6-18.4 18.3-24.8 29.2-43.1 32.9-52.6 47.5-80.4 65.8-115.2 80.5-143.6M1268.9 544.3l73.1 87.9M1353 645.4l36.5 43.7"/>
<path d="M296 1084.4l9.3-1.1 9.2-2.3 9.3-3.3 6.1-2.9M1195.8 600.6l33.9 55.7 30.8 47.3 24.7 33.9 12.3 15.2 15.4 17.5 9.3 9.8 15.4 14.6 24.6 19.6 12.4 8.3 15.4 9.2 15.4 8 18.5 8.6"/>
<path d="M353.9 990.6l26.3 0 5.9-1 8.8-2.6"/>
<path d="M201.8 1185.5l13.4-1.6 20-5.1M1346.3 781.5l16.7 19.7 20.1 21.6 16.7 16.2 20.1 17.6 20.1 15.8 26.7 19.3 30.1 19.6 23.5 14.3"/>
<path d="M236.2 1153.7l28.8-0.4 10.9-1.9 10.8-2.8M647.4 592.5l36.1-60.3 32.5-48.9M1062.3 457.9l32.5 41.1 86.6 113.6 21.6 27.2 25.3 29.9 32.4 35.5 28.9 28.7 32.5 29 28.8 22.5"/>
<path d="M295.1 1061.6l20.1-0.1 6.7-0.9 13.3-3.5 13.4-5.7"/>
<path d="M756.1 421l24.3-37.3 13.9-18.5 13.9-16.7 10.4-10.9 10.4-9.8 10.4-8.3 13.9-9.1"/>
<path d="M461.7 740.2l30.3-0.4 18.1-3.9 15.2-4.9 18.1-7.8 12.1-6.7 15.1-9.8 18.2-13.8M1018.3 267.7l9.1 3.6 12.1 6.2"/>
<path d="M393.1 858.9l9.9-1 13.3-3 10-3.4 9.9-4.4 19.9-11.6 13.3-9.6 10-8.3 13.3-12 13.2-13.2 26.6-30 26.5-33.4 33.2-45.1M1050.3 448.2l73 87.5 29.9 33.6 36.5 36.5 16.6 14.8 19.9 16.6"/>
<path d="M360.1 1025.1l18.4 0M2209.5 1217.9l33.2-0.9"/>
<path d="M212.6 1168.6l34.9-0.5M620.8 642.5l27.9-63.5 27.9-61.1 20.9-43.4 21-41 17.4-31.7 17.4-29.2 21-31.2 17.4-22.8 21-23.1 17.4-15.7 17.4-12 10.5-5.6 7-3 7-2.4 10.4-2.5 10.5-1.4 7 0 17.4 2.2 10.5 3 10.4 4.2M1185.9 593.3l21 33.3 20.9 31.7 17.5 25.3 24.4 33.6 24.4 30.5 17.4 20.2 14 15.3 20.9 21.3 34.9 31.8 21 17.3 31.3 24.2 21 15.4 52.3 36.6 69.8 46.9"/>
<path d="M756.8 419.9l20.4-34.7 13.6-21.7 27.1-39.6 10.2-13 13.6-15.5 10.2-10.4 13.6-11.8 10.1-7.3 13.6-7.4 10.2-3.8 13.6-2.6 13.6 0.1 10.2 2.1 13.5 5 10.2 5.6M1147.3 545.7l30.5 53.4 30.6 49.5 30.6 43.5 13.5 17.4 17 20 17 18.2 13.6 13.4 13.6 12.2 20.3 16.5 20.4 14.4 13.6 8.5 33.9 19.5"/>
<path d="M208.8 1167l29.3-0.5 11-1.5 11-2.4"/>
<path d="M1447.3 871.5l26.2 25.3 22.9 20 22.9 17.8 26.2 17.8"/>
<path d="M1847.9 1062.4l18.9 1.2"/>
<path d="M1484.4 777.7l22.3 13.6 14.8 10.1 22.3 16.6 14.9 12.1 33.4 30.1 40.9 41.6"/>
<path d="M1865.4 1082.2l12.1-0.9"/>
<path d="M1285.5 565.7l119.6 137.5"/>
<path d="M373.9 976.4l6.9-0.8 10.4-2.6 10.4-4.3 10.4-6.1M1905.4 1204.7l20.8 7.5 20.8 5.2 24.3 4.4 27.7 3.4 31.2 2.5 41.5 2.3 34.7 0.9 38.1-1.6"/>
<path d="M169.8 1184.2l23.2 0 13.3-0.7 16.6-2.1 16.6-3.5M1756.6 1005.2l29.9-1 79.6-6.5"/>
<path d="M816 349.4l11.1-15.8 14.7-19.3 11-13 11-11.7 11.1-10.4 11-8.9 11-7.5 11.1-6.3 11-4.7 11-3.2 11.1-2 14.7-0.3 14.7 2.1 11 3.1 11 4.5 11.1 5.7M2125.2 1228l47.8-0.9"/>
<path d="M1474.4 768.8l33.9 25.2M1538.9 818.1l40.8 34.9 47.6 44.2"/>
<path d="M374.2 957.9l29.4-0.1 11.1-1.6 11-3.1M2229.9 1220.5l22.1-1.7"/>
<path d="M264.5 1119.3l17.7-2.8 7-1.9 10.6-4"/>
<path d="M712.9 491l44.2-97.1 25.7-54.9 25.8-51.5 22.1-40.1 22.1-35.1 18.4-24.3 11.1-12 11-10.2 11-8 7.4-4.1 7.4-3.1 11-2.5 7.4-0.4 11 1.3 7.4 2.2 11 5.2 7.4 4.8 11 9 7.4 7.3 11.1 12.6 11 14.5 11 16.3 22.1 37.4 25.8 50.2M2089.9 1194.1l47.9-2.2"/>
<path d="M874.8 293.4l9.2-8.2 9.3-7.2 9.2-6.2 9.2-5.1M936.4 258.5l12.3-1 12.3 0.9 9.2 1.8 12.3 4.2"/>
<path d="M480.5 607.2l9.1 0 6.1 0.7 100.8 18.5 18.3 2.1 15.2 0.6"/>
<path d="M290.2 1083l28.4-0.1 14.2-2.7"/>
<path d="M324.4 1057.2l21.9 0M1969.5 1217.6l22 3.7 21.9 2.6 32.9 3 29.2 1.8 32.9 1 69.5-4"/>
<path d="M376.8 961.7l21.8-0.5 12.5-2.9 9.3-3.6"/>
<path d="M655.4 584.6l37.7-85.3 34.2-73.3 27.5-55.1 30.8-56.5 27.4-44.1 13.7-19.6 10.3-13.4 13.7-16.1 10.3-10.7 13.7-12.2 10.2-7.6 13.8-8 10.2-4.4 10.3-2.9 10.3-1.2 10.3 0.1 13.7 2.6 10.3 3.6 13.7 7.3 13.7 9.6 10.2 8.9 10.3 10.3 13.7 15.5 24 31.9 27.4 42.6"/>
<path d="M411.3 856.6l6.3-1 12.4-3.4 15.6-6 15.6-8.5 18.7-12.8 21.8-18.8 21.8-22.2 18.6-21.9 21.8-28.2M1202.4 607.8l31.1 52.3 18.7 28.7 21.8 30.5 21.8 26.7 21.8 23.1 24.9 22.6 24.9 18.9 34.3 21.9"/>
<path d="M1693 1067.8l22 16.4"/>
<path d="M175.6 1191.1l30-0.1 18.8-2.5"/>
<path d="M134.3 1218.1l51.8 2 14.8-0.2 14.8-1.2M1489.3 898.5l37 35.5M1552.3 957.9l37 32.2 33.3 27.1M1659.6 1045.5l25.9 18.6M1693 1069.3l25.9 17.7"/>
<path d="M268.8 1143.6l15.8-0.4M2195.6 1224.1l47.4-2.9 43.4-1.9"/>
<path d="M210.5 1185.3l24.1 0"/>
<path d="M361.1 983.6l23.5-0.1 10.1-1.8 10-2.9M2044.4 1226l30.2 1.6"/>
<path d="M253.2 1158.1l14.2-1.8M957.1 404l14.1 6 14.2 7.1 21.2 12.5 17.7 11.8 38.9 28.9 67.2 53.4"/>
<path d="M780.7 555.6l28.9-29.2 28.8-26.2 25.3-20.1 18-12.8 14.5-9.3 14.4-8.3 18-9.1 25.3-9.9 14.4-4.3 18-4.1 21.7-2.8M1433.7 732.9l57.7 46.2 25.2 21"/>
<path d="M1545 824.7l34.8 25 22.1 17.7 19 16.2 37.9 34.9 50.6 50.4M1883.3 1088.1l34.8-3.9 18.9-1.5"/>
<path d="M415.1 936.5l8.6-0.1 11.6-2.1M1873.2 1084l17.4-1.1"/>
<path d="M928.8 264l15.5-15.3 12.5-10.2 12.4-7.7 12.4-5.2 12.5-2.8 12.4-0.1 12.4 2.5 12.4 5.1 9.4 5.8 12.4 9.8 12.4 12.5 15.6 19.1 15.5 22.5 12.4 20.2 15.6 27.5 15.5 29.5"/>
<path d="M2007.8 1158.5l14-0.7"/>
<path d="M1802.2 1033.5l39.5-4.1"/>
<path d="M1485 895.9l36.5 32.7M1694.1 1068.9l23.2 16.5"/>
<path d="M147.5 1220.9l42.4 0.7 31.9-1.6 14.1-2 10.6-2.2 24.8-7.5M713.5 485.8l21.3-38.9 24.7-41.2 17.7-26.5 21.3-27.8 17.6-19.5 17.7-16.2 10.7-7.9 10.6-6.7 14.1-6.8"/>
<path d="M491 690.7l18.5-4 21.5-7.2 21.6-10.3 15.3-9.2 24.7-17.9 18.4-15.8 18.5-17.7 27.7-29.6"/>
<path d="M852.2 462.5l22.6-17.9 22.6-15.5 25.9-14.9 22.6-10.8M1914.2 1113.8l51.7-4.3"/>
<path d="M362.3 1022.7l10.2-1.4 13.6-4"/>
<path d="M1232.7 501.6l32.2 26.8 45 39.8 41.8 39.4 35.3 35.9 35.4 38.7 32.1 38 25.7 32.4 38.6 52"/>
<path d="M998 413.6l15 11.9 18.8 16.3 78.9 73.6 37.6 33.2"/>
<path d="M1847.3 1061.1l9.3 0.7"/>
<path d="M343.6 1035.4l13.7-0.1 10.4-1.6"/>
<path d="M203 1198.9l11.3-0.1M2123.8 1227.9l11.4-0.2"/>
<path d="M2036.8 1225.7l30.5 2.5 23.6 1 17 0.5 20.3-0.6"/>
<path d="M345.2 1179.5l13.9-7.7 10.4-6.8 10.4-8 13.9-12 10.4-10.2 13.9-15.1 20.8-25.3"/>
<path d="M235 1165.8l13.5-1.6 13.6-3.6M458.3 901.9l50.7-94.8 17-29.8 27-45.5 33.9-52.9 91.3-135.4M756 420.1l37.3-58.9 16.9-24.9 13.5-18.6 13.5-16.8 13.6-15.2 13.5-13.1 13.5-10.7 13.6-8 13.5-5.5 10.2-2.4 13.5-0.6 13.5 2.1 13.6 5.1 10.1 5.6 13.5 9.7M1185.7 590.1l27.1 46.5 33.8 54.2 20.3 30.1 20.3 28.2 16.9 21.7 27.1 31.5 23.7 24 23.7 21.3 20.3 16.9 27 19.9 84.6 57.5 44 32 40.6 31.8 111.7 92.5 30.4 23.5 27.1 19.3 13.5 8.9 20.3 12.3 20.3 10.9 16.9 8.1 13.6 5.7 20.3 7.4 13.5 4.1 16.9 4.1"/>
<path d="M181.5 1205.5l21.7-2.1"/>
<path d="M1773 1019.4l84.4-8.1"/>
<path d="M1907.1 1102.8l24.7-2.2"/>
<path d="M786.5 387.5l23.7-41.3 10.2-15.9 13.5-19.4 10.2-13 10.2-11.6 10.1-9.9 13.6-10.9 10.1-6.3 10.2-4.6 10.2-2.8 10.1-1.4 10.2 0.5 10.2 2.1 13.5 5 10.2 5.5"/>
<path d="M1901.4 1095.1l57.5-6.2 28.8-2.4"/>
<path d="M189.2 1177.1l30.5-0.2 13.6-1.7 10.1-2.1"/>
<path d="M1018.9 262.6l12 2.1 9.1 2.7 15.1 7 9.1 5.7 9 6.8 15.1 13.8 18.1 20 18.2 23.6 24.1 35.4 24.2 38.7"/>
<path d="M1888.3 1091.4l34.3-2.8"/>
<path d="M1433.7 737.1l19.9 12.7 33.2 22.8 23.2 17.2 16.7 13.2 23.2 19.8 26.6 24.6 19.9 19.6 26.6 27.6"/>
<path d="M824.5 498.7l41.5-44.6 31.1-30.3M1170.4 417.2l20.8 27.4"/>
<path d="M621.8 635.8l33.1-62.9 26.5-44.7 26.5-39.3 16.5-21.5 13.2-15.5"/>
<path d="M813.7 350.2l12.4-16.5 12.4-14.6 12.4-12.8 12.4-10.9 12.4-9 9.3-5.5 12.4-5.5 12.5-3.5M1902.7 1094l24.9-1.6"/>
<path d="M286 1101.6l15-0.6 15.1-3.3M1289.9 717.4l22.6 28.9 26.3 31.1 22.5 24.3 26.4 25.4 26.3 23.1 30.1 23.9 33.8 24.3 45.1 29.1"/>
<path d="M668.9 560.1l24.6-48.4 24.6-44.9 21.5-35.5 21.6-31.6 18.4-23.5 9.2-10.4 12.4-12.6 18.4-15.8 12.3-8.4 9.2-5.1M1105.7 496.2l92.3 122.8 37 48.2 46.1 56.9 30.8 34.8 15.4 16.4 21.5 21.5 18.5 16.8 18.4 15.6 30.8 22.9 18.4 12.2 18.5 11M1859.5 1072.9l61.5-5.3"/>
<path d="M774 403.7l13.5-25.2 17-29.5 16.9-26.9 13.5-19.5 13.6-17.2 16.9-18.4 13.6-12 13.5-9.5 17-8.4 13.5-3.9 13.6-1.4 16.9 1.4 17 5.2 13.5 6.5 13.6 8.7 13.5 10.8M1661.7 1044.7l57.6 51.5 20.3 17.1 20.3 16 23.8 17.5 16.9 11.3 20.3 12.5 23.8 12.6 16.9 7.7 20.3 8.2 23.7 7.9 17 4.6 40.6 7.1 50.9 4.7"/>
<path d="M141.6 1215.3l30.4 1.2 22.8 0"/>
<path d="M1203.5 610.9l21.4 30.1M2068.6 1187.2l14.3-0.3"/>
<path d="M1579.3 977.4l24.1 26.2 31.1 32.2 27.6 27 20.7 19 24.1 20.6 20.7 16.5 20.7 15.1 24.1 15.9 20.7 12.3 27.6 14.3 24.2 10.6 27.6 10.3 24.1 7.4 27.6 6.6 20.7 3.5 17.3 1.2"/>
<path d="M400.6 965.6l10.4 0"/>
<path d="M2030.6 1172.6l58.9-2.1"/>
<path d="M617.4 643.1l34.4-62.7 34.5-57.5 26.7-40.1 26.8-35.6M2224.3 1220.1l15.3-1.2"/>
<path d="M409.4 915.3l11.3-2.4 11.3-3.8 14.1-6.7 8.4-5.1M714.2 485.2l25.4-46.9 19.8-34.7 22.6-36.9 14.1-21.3 22.5-31 17-20.3 14.1-14.5 14.1-12.6 14.1-10.4 16.9-9.4 8.5-3.4 8.5-2.5 14.1-2.1 14.1 0.2 8.5 1.4 8.4 2.2 17 7 16.9 10.2M1481.9 894.5l115.7 114.5 33.9 31.6 31.1 26.8 31 24.4 16.9 12.2 17 11 28.2 15.7 28.2 12.2"/>
<path d="M1743.5 997l18.1 3.6 24 3.7 21 2.4 30.1 2.3"/>
<path d="M268.2 1153.4l9.5 0"/>
<path d="M444.8 896.2l18.5 0"/>
<path d="M370.9 971.7l6.4-1.1 9.6-2.6 6.3-2.4 9.6-4.8 15.9-11.1 15.9-14.6M1412.7 836.3l31.8 43.4 28.7 34.5 15.9 17.3 19.1 19.1 31.9 28.1 22.3 17.4 38.2 26.3 31.9 19.3 86 49.4"/>
<path d="M406.3 860.6l16.4 0 26.2-3.9 26.3-6.1 23-7.3M701.6 675.8l39.4-48.9 75.5-96.4 42.7-51.1 22.9-24.9 23-22.8 19.7-17.1 16.4-12.5"/>
<path d="M852.7 464.9l16.9-16.6 16.9-15.3"/>
<path d="M306.2 1062.7l27.4 0M921.8 413.6l12.2 0.3 15.2 1.5 15.3 2.7 18.3 4.9 30.4 11.4 21.4 10 18.3 9.7"/>
<path d="M1661.1 1044.4l19.2 18.6 25.5 23 22.4 18.7 25.5 19.5M1763.3 1131l19.1 12.8 22.4 13.4 19.1 10.1 19.2 9"/>
<path d="M415.6 910.6l10.2-1.3 10.2-2.3 20.3-7.7M2123.6 1199.5l27.2-0.6"/>
<path d="M1916.7 1208.2l17.8 5 28.5 5.4 28.5 3.5 39.2 3.1M2045 1226l21.4 1.1"/>
<path d="M958 261.8l13.4-0.6 13.3 1.6M1906.6 1101.1l36.8-2.7"/>
<path d="M1866.8 1079.7l58.3-6"/>
<path d="M508.3 1000.8l17.3-23.6 17.3-25.8 40.2-65.8 63.3-109.6 51.8-93M1092.4 323l25.9 24.9 28.8 30.6 28.7 32.7 28.8 34.6 48.9 63 89.2 122.9M1854.8 1070.3l28.8-2.5"/>
<path d="M373.1 994.9l8.8-1.8 11.8-3.7M1016 426.3l26.6 24.4 29.5 30.3 32.4 36.2 97.3 112.2 29.5 32 20.7 21.2M1723.9 981.3l29.5 16.8 11.8 3.9 11.8 2.1 14.7 0.8 17.7-0.5 70.8-5.5"/>
<path d="M513 631.4l29.6 5.8 52.6 11.6 23.1 4"/>
<path d="M265.8 1144.9l10.4-1 10.3-2"/>
<path d="M171.2 1191l13.9-0.1 17.5-2 13.9-2.7 17.5-4.9M921.3 414l13.9 0.5 14 1.7 24.4 5.7 24.4 8.9 24.5 12.3 27.9 18.1 27.9 21.5 27.9 24.4 31.4 29.7"/>
<path d="M245.5 1219.6l20.4-1 17-2.2 17-3.8 17-5.4 17-7.5 17-9.4 13.5-8.9 17-12.9 17-15.4 13.6-14 17-19.6 13.6-17.5 17-23.6 13.6-20.5 30.5-51.1M1944.1 1126.3l37.4-2.8"/>
<path d="M248.7 1163.8l12.9-1.7M1868.7 1082.4l25.7 2.3"/>
<path d="M872.8 293.5l16.4-15.5 13.1-9.9 13.1-7.5 13.1-5.1 16.4-3.3 13.1 0 13.1 2.2 13.1 4.6"/>
<path d="M155.2 1218.9l33 1.1 25.6-0.5 18.3-2.3 18.3-5"/>
<path d="M189.7 1187.9l22.8-0.2 11.4-1.2 11.4-2.1"/>
<path d="M374.7 996l10.9-1.4 14.5-4.4M2217 1222.4l14.5-0.6"/>
<path d="M265.4 1130.1l9.5-1.1 15.8-3.7M1866.3 1077.6l15.8-0.9"/>
<path d="M331.5 1039.4l9.9-1.7 9.9-2.9 16.6-7.5M2014 1171.8l9.9 0.7"/>
<path d="M958.7 258.6l12.2-2 12.2 0"/>
<path d="M502 1009.7l31.2-41.5 34.4-48.8 53-77.5 65.6-97.7 59.3-92.4 96.7-159.5 21.9-34.8 18.7-28.4M1088.8 320.7l18.7 13.1 18.8 16.2 18.7 19.3 18.7 21.8 21.9 28 18.7 25.4 84.3 120.2 28.1 37.7 18.7 23.3M1357.2 651.6l34.4 36.8 21.8 21 18.8 16.9 34.3 29.1 84.3 67.8 24.9 20.8 43.7 38.6 50 47.5"/>
<path d="M1900.9 1091.6l102.4-8.5"/>
<path d="M359.1 1031.7l10.4 0"/>
<path d="M2158.1 1214.2l23 0.1"/>
<path d="M922.1 412.9l14.6-4.3 14.6-3"/>
<path d="M755.7 420l22.2-38.1 22.2-33.3 22.3-28.3 19-19.8 9.6-8.3 12.7-9.5 12.7-7.8 6.4-3.1 12.7-5 9.5-2.7 9.5-1.7 12.7-0.8M1276.8 706.7l28.6 44.2 15.8 22.6 12.8 16.8 19 23.3 12.7 14.2 19.1 19.5 12.7 11.7 9.5 8.2 19.1 14.8 31.8 21 19 11 25.5 13.4 41.3 20"/>
<path d="M1496.9 904.4l25.5 25.9M1551.2 956.8l28.7 23.6"/>
<path d="M386.1 944.7l13.1-0.3 9.9-2 13.1-4.5 13.2-6.7"/>
<path d="M1914.5 1112.7l37.9-2.5"/>
<path d="M348.7 1175.8l13-7.1 12.9-8.5 9.7-7.3 13-11.2 22.6-23.1 12.9-15 13-16.4M918.2 268.2l12.9-13.8 13-11.6 12.9-9 13-6.4 12.9-3.4 9.7-0.8 13 1.6 12.9 4.5 13 7.4 9.7 7.3 12.9 12.1 13 14.6 12.9 16.6 16.2 23.1 35.6 57.8"/>
<path d="M1846.2 1060.5l18.3-1.4"/>
<path d="M319.3 1064.9l13.3 0"/>
<path d="M1866.8 1076.7l47.8-3.6"/>
<path d="M409.5 874.1l12.9-2.9 12.9-5 13-6.8 12.9-9.1 9.7-8 12.9-12.2 12.9-14.1 16.1-19.7 22.6-31 22.6-34.6 29.1-47.5 61.3-104.1 35.5-56.9 22.6-33.3 12.9-18 16.2-21.1 16.1-19.8M1097.1 491l42 51.8 38.7 46.1 16.1 18.4 35.6 38.6"/>
<path d="M440 826.7l9 0 12-1.8 9-2.2 12.1-4.5 12-5.7 12-7.3 9-6 15-11.8M1933.1 1117.3l42-3.2"/>
<path d="M1907.9 1102l22.6-1.6"/>
<path d="M349.6 1038.1l9.9-1.5M2015.6 1163.4l9.9 0.6"/>
<path d="M272.8 1130.8l10.6-1.2"/>
<path d="M686.5 531.9l29.6-50 20.7-32.1 11.9-17.2M1779.3 1020.5l29.7 4.2"/>
<path d="M869.8 295.2l13.9-13.3 13.8-10.9 13.9-8.4 13.9-6.1 13.8-3.4 10.4-1 7 0.1 13.8 2 13.9 4.4M1570.1 970.1l20.8 20.8 38.1 35.5 45.1 39.5 55.4 46.2 38.2 29.6 31.2 22.2 27.7 17.3 24.3 13.1 20.8 9.6 20.8 8.2 17.3 5.4 13.9 3 62.4 5.7 52 2.8 48.5 1.6"/>
<path d="M619 637.7l135.7-229.3 21.4-35.6 21.4-34 21.5-31.6 17.8-23.9 17.9-21.2 17.8-18 10.8-9 10.7-7.7 17.8-9.6 10.7-3.6 7.2-1.3 10.7-0.8 10.7 0.7 7.2 1.6 10.7 3.8 7.1 3.7 10.7 6.9 10.7 8.8 10.8 10.6 17.8 21.6M1197.6 601l25 44 17.8 28.3 14.3 20.7 17.9 24.2 14.2 17.9 32.2 37 85.7 89.8 32.1 32.8 39.3 38.4 39.3 35.6 25 20.6 28.6 21.5 32.1 22.1 103.6 66.1 92.9 61.5 35.7 21.5 35.7 18 14.3 6.1 17.9 6.5 14.2 4.2 10.8 2.1 57.1 5.1 67.9 3.5"/>
<path d="M826.2 495.6l27.3-22.1 21.2-14.3 24.2-13.4 21.2-9 21.2-6.6 24.2-4.4 9.1-0.9 18.2-0.6 24.2 1.7M1768.2 1014.9l15.2 1 21.2-0.7 90.9-8.5"/>
<path d="M499.6 542.8l6 0.2 12 2.3 78.1 16.6 15 2.2 15 1.1 15-0.7 15-3.6 12.1-5.7 6-4.1 6-5.1M1658.6 1044l42.1 41 18 16.2 21 17.5 21 16.3 18 12.8 33.1 20.5 21 11.2 18 8.6 18 7.4 21 7.5 18 5.2 18.1 4.1 42 5.4"/>
<path d="M438.9 880.3l24.6 0 12.3-2.1"/>
<path d="M297.1 1103l13.3 0M1983.6 1148.7l13.3-0.8"/>
<path d="M381 1000.9l10.5-1.3 10.5-2.6"/>
<path d="M1689.6 951.4l25.8 20.3 29.5 24.7M2212.3 1218l33.1-1.7"/>
<path d="M652.8 590.6l25.8-62.8 19.3-45 19.4-42.5 19.3-39.1 19.4-35.4 19.3-30.9 16.2-22.3 19.3-22.5 16.2-15.1 9.6-7.6 9.7-6.4 16.1-8.2 9.7-3.6 9.7-2.5 9.7-1.4 9.6-0.6 19.4 1.5 9.7 1.9 9.7 2.9 12.9 5.1 9.6 4.9M1659.2 1046.9l42 34.9 22.5 17 19.4 13.6"/>
<path d="M891.1 285.7l10-8.2 9.9-7.1M934.2 258.3l10-3.2 10-2 9.9-0.9 10 0.2 9.9 1.4 10 2.4 16.6 6.2M1017.2 265.7l19.9 12.6"/>
<path d="M233.9 1174.7l10.1-0.9"/>
<path d="M1491.1 900l32.4 32.9 29.2 26.8 32.4 27.5 35.6 27.8M1977.1 1141.9l9.7-0.5"/>
<path d="M468.9 655.2l27.9-4.4 17.4-4.4 14-4.3 17.4-6.9 14-6.5 27.9-15.9 27.9-20 24.4-20.9 31.5-31 34.8-38M1079.5 471.4l90.8 133.2 24.4 33.1 24.4 30.1 14 15.5 17.4 17.9 10.5 9.9 17.4 14.8 24.5 18 27.9 16.3M2227.6 1220.1l24.4-1.7"/>
<path d="M353 1006l14.5-2.5 10.8-3.8 10.8-5.3 10.9-6.8M901.7 422.3l21.7 1 21.6 2.8 25.3 5.5 18.1 5.1 21.6 7.3 21.7 8.4 21.6 9.4 32.5 16M2093 1227.7l14.4 1.1 28.9 0.2 36.1-1 25.3-1.6"/>
<path d="M673.5 551.1l36.4-58M1288.3 718.9l29.1 33.3 32.8 33.7"/>
<path d="M1691.5 1067.1l29 25.4M1778.5 1138.2l28.9 20 32.6 19.5 29 14.5 25.4 10.4 25.3 7.9 25.4 5.3 28.9 4 36.3 3"/>
<path d="M272.8 1129.4l18.7-0.3"/>
<path d="M1279.2 559.5l55.3 47.9 35.7 32.4 42.3 41.3 22.8 24.4 29.2 33.7 29.3 36.1 22.7 29.3"/>
<path d="M1930.3 1210.8l21 5.5 21 4.3 24.6 3.6 28 2.9 17.5 1.3 28.1 0.8 35 0.1 24.6-0.8"/>
<path d="M2049.4 1182.8l13.7-0.5"/>
<path d="M364.5 1024.4l12-1.5M1809.7 1041l60-6.9 27-2.5"/>
<path d="M292.3 1071.5l19.8-0.2 9.9-1.6 9.9-3"/>
<path d="M357.4 1034.4l9.7-1.4"/>
<path d="M941.2 406.1l12.7 6.8 15.8 9.9 15.8 11.5 18.9 15.3 37.9 34.4 78.9 76.9 31.6 29 44.2 37.1 41.1 30.6M1778 1021.6l60-6.4 19-1.4"/>
<path d="M569.6 899.8l28.7-45.6 25.1-42.7 32.4-57.3 35.9-66.9M2164 1214.6l43.1 0.8"/>
<path d="M298.6 1102.6l11.4-0.5M1382.9 816.3l34.1 33.1 41.7 37 41.8 32.9 41.7 29.8M2171.5 1226.2l64.5-5.1"/>
<path d="M2030.6 1174.3l51.5-3.5 40.5-1.9"/>
<path d="M426.8 907.3l23.5 0 10-1M711.6 659.1l40.2-57 50.2-73.1M1073.4 300l13.4 9.4 13.4 11.6 13.4 13.8 13.4 15.9 13.4 17.8 16.7 24.5 16.8 26.3 16.7 27.7"/>
<path d="M2085.1 1227.8l22.3 1.4 37.3-0.9 29.8-1.5 59.6-5.5"/>
<path d="M343.6 1044.6l14.2-3"/>
<path d="M176.2 1213.5l17.9 0.2"/>
<path d="M222.5 1181.1l12.7 0M1801.7 1033.4l41.2-3.6"/>
<path d="M197 1163.4l23.4 0 20-2.7 23.4-5.5 20-7.3M1859 1070.8l20 3.6 23.4 2.3"/>
<path d="M2086.8 1191.8l27.6 1"/>
<path d="M471.8 781.1l22.8-3.8 26.1-6.4 19.6-6.3 16.2-6.8"/>
<path d="M332 1044.6l10.6-0.4 14.1-3.1"/>
<path d="M2012.9 1163.5l19.5 3.6 19.5 2"/>
<path d="M290.3 1086.8l29.3-0.2"/>
<path d="M334.8 1029.2l27.1 0 10.2-1.3"/>
<path d="M619.6 814.1l47.8-71.5 40.5-64 33.1-55.9 33.1-59.4M1016.9 268.1l11 2.9 14.7 6.5 11.1 6.8 14.7 11.7M1083.1 310.6l18.4 21.8 18.4 25.2"/>
<path d="M291.2 1074.5l23.6-0.2 16.9-3.7"/>
<path d="M390.6 1000.6l8.6-1.5M1732.9 990.2l14.4 0.9 20.2-0.7 95-9.7"/>
<path d="M267.1 1111.4l13.5-0.1 6.8-0.7 10.2-2.1 10.1-3.4M1660.1 1043.9l33.9 32.4 37.3 32.8 27.1 21.5 27.2 19.3 30.5 18.6 23.7 12 30.5 12.4 27.1 8.2"/>
<path d="M207.8 1220.9l38.1 1.2 15.2-0.8 11.4-1.5 15.3-3.3 11.4-3.6 15.2-6.1 15.2-7.8 15.3-9.1 11.4-8.1 15.2-12.1 11.5-10.3 15.2-15.2 15.2-16.9 15.3-18.5 15.2-20.4M851.4 312.1l15.2-24.1 19-26.1 15.3-17.2 15.2-14.1 15.2-10.4 15.3-6.9 7.6-2 11.4-1.3 15.2 1.4 7.6 2 7.7 2.8 15.2 8.4 15.2 11.4 19.1 17.8 15.2 17 19 23.2 22.9 30.7 30.4 43.1M1616.8 1013.4l38.1 39.3 19 18.6 19 17.4 30.5 25.6 34.3 24.8 15.2 9.7 22.8 13.1 34.3 16.7 34.3 13.5 22.8 7.4 15.3 4.1"/>
<path d="M428.4 871.9l9.7-1.6 9.6-2.6 19.3-8.1 19.3-11.7 16.1-12.6"/>
<path d="M374.6 975.7l26.3 0 9.8-0.9M624 803.8l23-26.7 26.3-31.9 26.2-33.9 19.7-26.7 45.9-67.7 88.6-138.4 16.5-23.7 16.4-22.1M1598.7 873.1l49.2 35.5 36.1 28.1 42.7 36.8 36 34.3M2035.1 1178l16.4-0.8"/>
<path d="M293.6 1099.4l24.2 0"/>
<path d="M854.8 465.2l17.9-14.5 18-12.7 14.3-8.7 18-9 14.3-5.8 14.3-4.1 14.4-3 17.9-1.6M1471.7 768.5l50.2 28.5 28.7 18.1 25.1 17.5 32.3 25.7 25.1 22.2 28.7 27.4 93.2 96.7"/>
<path d="M209 1185l13-0.6 13.1-2.1"/>
<path d="M2121.7 1203.4l29.3 4 29.3 1.7"/>
<path d="M289.8 1084.3l28.1 0 14.1-2.3M912.4 418.3l28.2-2 24.6 0.9 17.6 2.1 10.5 1.9 24.6 6.2"/>
<path d="M349.1 1025.7l9.3-1.5 9.3-2.6 18.5-8M1886.4 1090.2l40.1-3.3"/>
<path d="M734.9 456.1l20.1-39.7 23.4-42.8 20.1-33.3 20.1-29.6 20.1-25.6 20.1-21.5 20.1-16.9 16.7-10.4 10.1-4.7 10-3.5 6.7-1.9 10.1-1.6 10-0.5 10.1 0.7 10 1.8 10.1 2.8 16.7 7.2 13.4 7.7 10 6.7 20.1 16.1 23.5 22.2"/>
<path d="M773.4 400.8l24.4-39.2 12.2-17.5 12.2-16 21.4-24.1 9.2-8.8 12.2-10.4 9.1-6.5 12.3-7.4 12.2-5.5 9.1-3.1 12.3-2.3 12.2-0.9 12.2 1 9.1 1.8M1271.2 704.1l21.3 30.1 24.5 31.1 12.2 14.3 15.3 16.6 18.3 18.1 27.5 23.8 21.3 16.2 24.5 16 33.6 20M1478.8 895.4l21.4 11.8M1778.1 1019.8l21.4 2.3 45.8 3.6"/>
<path d="M444.3 707.5l20.5 0 14.7-3.5 14.7-4.7 14.6-6.1 14.7-7.3 14.6-8.8 14.7-10.1 17.6-14 17.6-15.4 29.3-29 35.2-39.2 41-48.8"/>
<path d="M1977.3 1145.3l16.6 1.5"/>
<path d="M1162.4 406.8l18.5 17.1 18.5 19.3 18.6 21.3 15.4 19.2 15.4 20.7 21.6 30.9 37.1 57.7M1816.9 1041.4l37.1-3.2"/>
<path d="M650.4 758.7l22.3-40.5"/>
<path d="M920.8 411.7l13.3-2.3 16.6-2M957.4 407.1l16.6 0.1 16.7 1.7"/>
<path d="M265.6 1210.3l18.2-3.4 10.9-3 18.3-6.8 10.9-5.3 14.6-8.3 14.6-10.1 14.6-11.5 10.9-9.9"/>
<path d="M802.1 529.4l41.3-43.5 34.8-33.9 31.8-27.2 12.7-9.5 19-12.7M1354.1 648.7l95.2 92.2 44.4 44.8M1918.7 1114.1l12.7-0.8"/>
<path d="M1883.4 1085.4l16.4 3.5 16.4 2.7 23 2.3"/>
<path d="M467.5 1058.2l12.4-12.2 15.6-18.2 18.8-25.8 18.7-28.9 15.6-26.3 21.8-39.2 46.8-89.9M1019.6 262.7l15.6 4.9 9.4 4.3 9.4 5.4 15.5 11.2 18.8 16.9 15.6 16.6 18.7 22.8 18.7 25.6 25 37.9M1905.6 1101.8l49.9-6.2 34.3-3.2"/>
<path d="M1709.5 969.2l41.1 26.8 41.1 30.3M2228.5 1220.4l37.3-2.5"/>
<path d="M198.4 1201.7l11.8-0.5M805.7 520.8l31.5-24.5 31.6-21.8 27.6-16.5 15.8-8 15.7-6.8 15.8-5.8 11.9-3.5 11.8-2.7 11.8-1.9 15.8-1.2 7.9 0.1 11.8 0.8 11.8 1.7M1436.7 737.6l31.5 25.2 27.6 23M2182 1225.3l31.5-2.2"/>
<path d="M541.4 948.4l21.3-24.4 21.3-27.8 21.3-31.1 24.8-40.8 21.3-37.9 24.9-48.2 21.3-44.4 24.8-54.4M956.7 262.9l14.2-2.8 14.2-0.6M1017.1 266.1l10.6 4.2 10.7 5.1 14.2 8.3 14.2 9.5M1073.9 298.5l21.3 17.4 24.8 23.6 24.8 27 21.3 25.6 24.9 32.5 28.4 39.8 78.1 116.6"/>
<path d="M1975.6 1147.2l65.6-4.2"/>
<path d="M223.4 1174.9l13.9-1.4 10.5-1.9M617.9 640.7l52.3-101.6 45.4-83.4 17.5-29.7 20.9-33.5 17.5-25.4 13.9-18.4 14-16.6 17.5-17.8 17.4-14.5 14-8.9 14-6.5 13.9-4.1 7-1 10.5-0.5 13.9 1.5M1106.6 494.6l52.4 81.8 31.4 46.4 34.9 47.3 14 17.6 17.5 20.5 31.4 33.4 31.4 29.2 17.5 14.6 20.9 16.4 21 15.6 24.4 17.2"/>
<path d="M759.6 417.5l23.9-35.8 20.4-26.2 10.2-11.3 13.6-13.4 10.2-8.7 10.3-7.5"/>
<path d="M2124.7 1199.9l107.1-2"/>
<path d="M225 1145.6l22.7 0 6.5-0.6 13-2.8 13-4.6M1101.9 494.8l32.5 38.9"/>
<path d="M2228.4 1220.4l12-1.3 48.1-2.8"/>
<path d="M651 756.2l46.2-68.4 30.8-48.6 43.1-70.4M2008.9 1158.6l18.5 1.6"/>
<path d="M851.1 462.1l25.5-29.9"/>
<path d="M665.5 731.1l26.8-40.5M711.3 661.3l45.8-72.6M2230.2 1220.7l30.6-1.8"/>
<path d="M2066.1 1226.9l41.7 2.2 41.6-1.7 41.7-2.9M2232.8 1220.7l37.8-2.3"/>
<path d="M799.3 368.1l17-31.5 13.5-23.3 13.6-21.5 13.6-19.2 13.6-16.4 17-17 13.5-10.2 10.2-5.5 13.6-4.9 13.6-1.9 13.6 1.2 13.6 4.1 13.5 7.2 13.6 9.8 13.6 12.3 13.6 14.5M1407.1 835.4l30.6 30 33.9 31.6 51 45.1 44.1 37.5 37.4 29.6 23.7 17.6 27.2 18.9 30.6 19.3M1692.3 1069.1l23.8 13.9"/>
<path d="M250.9 1136.1l16.1-1.2 13-2.6M1846.2 1060.4l54.9-5.1"/>
<path d="M392.2 954.9l9.5-1.7 12.6-4.1 9.6-4.3 9.5-5.5"/>
<path d="M386.8 967.4l19.1-0.1 6.3-1.3M771.8 399.6l19.1-26.1 19.1-21.7"/>
<path d="M324.6 1050.8l16.4-3.3 16.4-7M1105.4 498.6l23 23"/>
<path d="M555.1 929.2l42.9-58.7 50.1-70.5 60.8-89.1 50-78.1 93-152.5 35.7-55.1M1395.3 694l53.6 46.2 60.8 56.6M2085.2 1192l25 3 32.2 1.7"/>
<path d="M403.8 944.3l13.8-2.1 17.2-5.4"/>
<path d="M346.4 1044.5l10.5 0"/>
<path d="M472.3 819.8l9.3-1 15.6-4.2 12.4-4.9 12.5-6.4"/>
<path d="M2068.4 1185.2l10.7 0.5"/>
<path d="M917 264.5l12.7-9.6 12.8-7.8 9.6-4.6 9.6-3.3 9.6-2.1 9.5-1 9.6 0.5 9.6 1.9 12.8 4.8 9.5 5.1 9.6 6.5 9.6 7.8 12.8 12.7 9.6 10.9 15.9 20.8M1380 813.8l31.9 30.4 22.3 18.2 19.2 14.3"/>
<path d="M382.4 1001.1l9.3 0 6.2-1.2"/>
<path d="M331.1 1186.8l13.5-6.6 13.5-8.2 13.6-9.5 13.5-10.9 10.1-9 13.5-13.5 23.7-26.8M936.4 259.7l16.9-7.6 16.9-3.7 6.7-0.5 10.2 0.3 13.5 2.7 10.2 3.6 6.7 3.1 16.9 10.3 16.9 13.3 17 16.1M1964.4 1128.1l23.6-1.6"/>
<path d="M377.6 1153.1l17.4-12.4 20.9-17.8 17.4-17.5 20.9-24 20.9-26.9 14-19.7 17.4-26.1 27.9-45.1M569.2 902.7l24.4-44.6M1109.3 345.4l17.4 13.7 20.9 19.3 20.9 22.3 20.9 24.7 27.9 36 20.9 28.7 87.1 124.7"/>
<path d="M349.2 1017.9l24.7-0.1 12.4-2M1909.4 1098.8l21.7-1.7"/>
<path d="M759.8 416.6l14.2-20.6 14.3-18.6 10.6-12.6 14.3-14.8"/>
<path d="M933.8 266.5l13-9 9.7-5.3 9.8-3.9 13-3.1 9.8-0.5 13 1.3 9.7 2.6 9.8 4.1 9.7 5.3 13 9.2 13.1 11.3 9.7 9.8 9.8 11 13 16.2 26 37"/>
<path d="M254.2 1146.6l22.7 0 7.6-0.8M2126.2 1228.4l45.5-1.9 22.8-1.9"/>
<path d="M1776.3 1021l26.4-1.5 65.9-8.4 29.7-2.8"/>
<path d="M852.8 460.9l15.4-11.9 18.5-12.4 15.4-8.7 18.4-8.2 15.4-5.1 18.5-4.2 15.4-2 18.5-0.4M1296.3 580.3l46.2 51.3 61.6 71.7M1835.2 1056.2l40.1-4.1 27.7-1.9"/>
<path d="M1962.2 1131.9l46.1-3"/>
<path d="M2013.2 1166.6l32.2-1.6"/>
<path d="M871.3 294.8l16.3-15.7 13.1-10.1 13-7.7 13.1-5.4 13-3 6.5-0.6 9.8 0.3 13.1 2.4 13 4.9"/>
<path d="M472.5 785.2l20.8-2 13.9-2.3 20.7-5 13.9-4.7M2088.8 1227.8l20.8 1.1 27.7-0.6 38-2 27.7-2.5M2230.7 1221.1l10.4-1.1"/>
<path d="M282.7 1106.7l13.6-2.2 13.7-4.1M886.5 431.3l13.7-1.4 13.6-0.2 13.7 1.2 13.6 2.3 17.1 4.1 10.2 3.2 17.1 6.6 13.6 6.1 27.3 14.3 23.9 14.3 17 11 34.1 24.3 54.6 41.8M1930.5 1122.8l95.5-7.7"/>
<path d="M450.2 886.5l12.7-2.2 12.7-4"/>
<path d="M304.9 1090.7l15.8-3"/>
<path d="M264 1209.8l19.6-2.4 19.7-4.9 16.3-6.3 19.7-10 19.6-13.1 19.7-16.1 13.1-12.4 22.9-25.2M1017 271.4l9.9 0.9 9.8 2.2 9.8 3.3 9.8 4.6 13.1 7.8 9.8 7.2 19.7 17.5 19.6 21.5 26.2 34 22.9 33.8 26.2 42.1"/>
<path d="M914.6 267.5l12.8-10.7 12.7-8.7 15.9-7.8 12.7-3.9 12.8-1.7 12.7 0.6 12.7 2.8 12.8 4.8 15.9 9 12.7 9.4 12.7 11 12.8 12.8 15.9 18.1 15.9 20.3 15.9 22.2 19.1 28.8"/>
<path d="M231.4 1175.8l10.7-1M2042.3 1179.1l10.7 0.5"/>
<path d="M448.4 852.1l13.1-1.9 16.2-5.2 13.1-6.2 16.2-10.3"/>
<path d="M514.4 722.9l52.6 10.1M824.3 498.3l22.2-25M854.8 464.4l30.4-31.1M1214.5 478.7l27.7 26 44.3 43.3 55.3 57.9 55.3 62.7 105.2 123.3"/>
<path d="M1976.2 1141.4l22.7-1.5"/>
<path d="M187.4 1201.3l20.3 0"/>
<path d="M322.8 1072l10.2 0M1401.1 831.6l27.3 27 13.6 12.1 13.7 11 30.7 22.2 34.1 21.1"/>
<path d="M602.8 843.5l32.8-51.6 32.8-49.8 42.5-62.9 75.4-108.6 95-142.2M1068 294.2l13.1 7.3 16.4 12.6 16.3 15.9 16.4 18.9 19.7 26 19.6 28.6 59 92.1"/>
<path d="M270.5 1134.5l9.6 0M1768.1 1014.5l31.9 8.5 32 6 31.9 4.3 38.3 3.4"/>
<path d="M262.4 1139.5l17.6-0.6"/>
<path d="M859.3 304.7l20.2-25.7 10-10.9 10.1-9.5 10.1-8.2 10.1-6.4 10.1-5 10-3.3 10.1-1.8 10.1 0 10.1 1.6 10.1 3.1 6.7 3.1 13.4 8.1 16.8 14.1"/>
<path d="M1929.7 1116.5l34.4 1.4"/>
<path d="M2161.8 1215.6l38.5-1.2"/>
<path d="M410.7 900.4l26.2-0.1 17.4-5.5 14.6-6.4M1692.3 955.8l29.1 12 29.1 10.9 49.5 15.9 43.7 10.7 32.1 5.5 23.3 3.3"/>
<path d="M879 291.1l12.9-12.1 12.9-9.6 13-7.2 12.9-4.8 12.9-2.4 12.9-0.1 12.9 2.4 12.9 4.5"/>
<path d="M1905.5 1108.7l38.7-3.5"/>
<path d="M2069.9 1184.4l35.9 1.6"/>
<path d="M684.3 534.8l22.4-35.2M1100.2 492.5l44.8 63.1 35.2 46.4 16 19.6 19.2 22.2 19.2 20.9 16 16.1"/>
<path d="M1296.2 724.7l21.4 25.3 25.1 26.8"/>
<path d="M459.5 793.3l22.6-3.5 19.4-4.5 22.6-6.9 19.4-7.5"/>
<path d="M383.7 960.7l11.9-1.5 12-3.7 14.9-7.5 11.9-8.5"/>
<path d="M1977.4 1142.3l20.8 3.8 24.2 2"/>
<path d="M1859 1072.6l44.5-5.2 25.3-2.3"/>
<path d="M447 787.5l16.3-2.3 16.3-4.1 16.4-5.3 13-5.4 16.3-8.3 13.1-7.9 9.8-6.7 16.3-12.7M1471.4 890.2l29.4 21.1 19.5 12.8"/>
<path d="M2085.2 1192.3l31.9-0.7"/>
<path d="M222.3 1179l17.6 0M2011.7 1171.7l14.1-0.5"/>
<path d="M268.2 1114.9l11.2-1 7.4-1.5 11.1-3.3 11.2-4.5M1055.1 454.1l48.3 42.5M2146.4 1210.6l18.5-0.3"/>
<path d="M2126.6 1228.2l48.7-2.2"/>
<path d="M2125.6 1203.6l9.7 0.4"/>
<path d="M299.4 1086.3l21.4 0M713.5 490.8l103.5-224.2 25-50.6 21.4-39 21.4-34 10.7-14.4 10.7-12.4 10.8-10.4 10.7-8.2 10.7-5.9 10.7-3.4 10.7-1.2 10.7 1.2 10.7 3.9 10.7 6.1 10.7 8.7 10.7 11.2 10.8 13.2 10.7 15.1 21.4 36.1 25 49.5 25 54.8 49.9 115.4"/>
<path d="M443.7 914.1l6.7-0.9 10-2.9"/>
<path d="M257.9 1138.2l20.6 0M757.5 420.5l24.1-41.2 20.6-31.6 20.7-27.3 17.2-18.7 10.4-9.2 10.3-7.6 10.4-6 6.8-3.1 10.4-3.4 6.9-1.2 6.9-0.6 10.3 0.6"/>
<path d="M427 836.7l28.3 0 15.8-3.2 9.4-2.9 12.6-4.8 22.1-11.8"/>
<path d="M1350.5 645.4l33.2 31.6 22.1 22.1 33.2 34.7 29.5 32.6M1778.3 1137.8l14.7 12.1 18.4 13.8 14.8 9.7 14.7 8.7 29.5 14.8 18.5 7.4 18.4 6.1 22.1 5.5 44.3 5.9 55.3 4.1 59 1.8"/>
<path d="M1861.2 1073l43.3-3.2"/>
<path d="M219 1155.5l13.4-1.6 16.8-3.8 16.8-6 13.5-6.3M1845.1 1066.2l90.7-7.2"/>
<path d="M1433.5 735.4l32.9 27.1"/>
<path d="M141.4 1220.2l51.8 1.6 15.9-0.5 16-1.3 11.9-1.7 15.9-3.7 12-4.1 11.9-4.8M2153.5 1226.8l23.9-0.7"/>
<path d="M353.3 1036.3l14.5 0M711.7 657.8l61.5-87.5 29-39.1 21.7-27.9 14.5-17.8 21.7-24.7 18.1-18.6 18.1-16.5M1471.9 767.6l39.8 28.9M1537.1 815.8l28.9 23.4 25.4 21.5 61.5 56.4M2123.6 1202.1l36.2 4.1 43.4 2"/>
<path d="M298.7 1073.5l33.3-0.4"/>
<path d="M291.2 1109.3l18.3-0.2M2094 1227.9l25.8 0.8 47.7-1.2"/>
<path d="M377.6 929.2l16.7-0.5 10-2.1 10-3.2 10-4.4 10-5.6 10-6.8 10-7.9"/>
<path d="M326.8 1017.3l9.5-1.5 9.5-2.6 9.5-3.6 9.6-4.6 19-12.3 19-16.3M954.8 407.6l19 6.6 19 9 22.3 12.9 19 12.9 15.8 12 28.6 23.5 25.4 22.6 38 35.7M1849.2 1069.1l19-1.3 79.3-7.8"/>
<path d="M1791 1031.8l67.8-7.1"/>
<path d="M192.2 1190.1l30.1-0.4"/>
<path d="M321 1073.1l9.3-1.6"/>
<path d="M376.8 919l14-2.1 13.9-3.8 10.4-4.1 17.4-9.1 14-9.1 13.9-10.3 17.4-15.1 13.9-13.5M2124.8 1203.3l31.3-0.9"/>
<path d="M222.1 1180.1l19.2-0.1M620.8 638.2l38.4-75 42.2-77.7 26.8-45.1 15.3-23.8 11.5-16.5 11.5-15.5 15.4-18.8 11.5-12.6 15.3-14.9 11.5-9.6 11.5-8.1 11.5-6.7 15.3-6.8M1548.7 953.5l53.6 50.3 23 20.1 23 19.1 19.2 15.3 34.5 26 26.8 18.7 23.1 15.1M2043.2 1225.6l26.9 2.1 38.3 1.6 72.9-3.1"/>
<path d="M1059.5 290.2l10.9 4.3 10.8 5.6 18.1 12.7 10.9 9.5 10.8 10.8 18.1 20.7 18.1 23.9 25.3 37.8 25.3 41.8 28.9 50.3"/>
<path d="M209.5 1186.2l11.1-0.7 14.9-2.2"/>
<path d="M1702.4 962.9l36.8 24.9 6.1 3.1 9.2 2.8 12.3 1.4 12.2 0 61.3-4.9"/>
<path d="M506.5 999.8l13.6-14.2 10.2-11.7 27.3-35.2 23.9-35.1 23.9-38.6 30.7-53.6 27.3-50.8 30.7-59.6 40.9-81.6M1417.4 716.5l81.8 60.7 27.3 21.6 23.9 20 23.9 21.3 27.3 25.8 51.2 51.8"/>
<path d="M729.5 628.2l20.5-28.7M849.2 465.4l17.1-20.1 13.7-15M1434.3 734l34.2 29.5"/>
<path d="M421.9 921.3l10-1.6 9.9-2.9 10-3.8 10-4.9"/>
<path d="M1789.7 1031.5l87.9-7.6"/>
<path d="M368.3 1000.7l16.6-2.6 16.7-5.6"/>
<path d="M1604.9 877.2l22.8 20.7"/>
<path d="M1865.3 1078.9l36.5-3.3"/>
<path d="M375.7 1008l12.8-2 9.5-2.7M700.9 680l22.3-31.1 19.2-28 47.8-74.5"/>
<path d="M453.3 751.1l17.3 0 8.6-1.1 20.1-5.1 14.4-5.4 17.2-7.4 20.2-10.9 11.5-7.4 20.1-14.5M936.3 261.2l8.6-1.6 11.5-0.2 8.7 1.2 11.5 3.4"/>
<path d="M2169.1 1226.1l29.2-0.5 29.3-1.5"/>
<path d="M1070.2 295.7l18.9 12.2 15.8 13.4 18.9 19.5 15.8 18.7 22.1 30 15.7 23.5 15.8 24.8 28.4 47.3"/>
<path d="M369.1 945.1l26.5 0 8.9-1.1 14.7-4 14.8-6.3M959.1 260.3l8.8 0.8 8.9 1.8M1858.9 1073.3l17.7-1.7"/>
<path d="M806.8 356.1l13.7-17.2 13.8-15.1 13.7-12.9 13.8-10.6M2046.9 1182.9l27.4-1.2"/>
<path d="M2124 1203.2l71.1-2.6"/>
<path d="M1196.9 449.5l37.6 41.7 80.4 94.1 51 57.2 37.6 40.5 112.6 117.8M1851.4 1069.8l45.6-4.6"/>
<path d="M349.2 1030l10.3-1.5 10.2-3"/>
<path d="M1223.1 487.1l25.4 28.3 25.5 30.6 25.5 32.9 29.1 39.8M1692.4 1067.6l29.1 23.8"/>
<path d="M267.9 1135.9l13.8 0"/>
<path d="M2094.4 1228l14.6 0.6 21.9-0.3 51.2-2.5"/>
<path d="M456.2 830.6l15.6-2.9 15.7-4.4 18.8-7.1 12.5-6.2M2013 1167.5l21.9 4.1 21.9 2"/>
<path d="M2151.4 1213l49.2 0.8"/>
<path d="M348 1047.4l11 0"/>
<path d="M188.9 1207.3l14.4-0.8"/>
<path d="M356.5 1167.9l13.5-7.2 10.1-6.6 10.2-7.4 13.5-11.7 13.5-13.6 10.1-11.3 20.2-25.7"/>
<path d="M1974.3 1137.5l35.5-2.3"/>
<path d="M403.8 904.6l10-1.5 9.9-2.6 9.9-3.2 10-4.2 19.9-11 19.8-14.4"/>
<path d="M686.1 532.3l20.6-34.6M1280.9 711.5l24.1 33.3 24 30.4 20.7 23.3 20.6 20.4 27.5 23.5 20.6 14.9 20.7 13.5 27.5 16.1"/>
<path d="M669 559.2l21-36.7 17.4-28.6 21-31.6 17.5-23.8"/>
<path d="M461.2 706.4l27.9-3.9 22.4-4.2 19.6-5 16.7-5.7 19.6-8.5 16.8-9.3 13.9-9.4 14-11"/>
<path d="M715.3 484.4l30.1-53.6 24-38.5 12-17.5 12.1-16.2 21-25.1 21-20.3 9.1-7.2 12-8.2 18-9.3 15-5.1 9-2M1580.8 980.8l18.1 15.9M1637.9 1030.2l42.1 34.2 39.1 29"/>
<path d="M756.2 420.5l24.9-41.9 24.8-37.2 12.4-16.4 9.3-11.1 18.6-19.1 9.4-7.8 9.3-6.6 9.3-5.5 9.3-4.2 9.3-3 9.3-1.6 9.3-0.5 9.3 0.6"/>
<path d="M2010.9 1171.5l58.9-3.7"/>
<path d="M261.2 1143.5l10.1-1.1 10.1-2"/>
<path d="M758.4 418.9l25.9-48.1 22.6-36.8 12.9-18.5 9.7-12.5 13-14.6 9.7-9.4 9.7-7.8 9.7-6.5 12.9-6.4 9.7-3.1 9.7-1.6 13 0.1 12.9 2.7 9.7 3.5M1696.2 1068.8l19.4 16.7"/>
<path d="M376.6 959.3l12.4-2.4 15.4-5.2 15.4-7.6 15.4-10.2"/>
<path d="M186.8 1207.2l15.5-0.5M2019.4 1224.1l31 3.2 38.7 0.8"/>
<path d="M610.2 828.7l117.6-172.9 42.8-65.9 60.5-95.6 39.2-58.6M2039.3 1178.5l17.8 3.9 21.4 3.6 24.9 2.6 17.8 0.8"/>
<path d="M780.4 393l19.7-30.6 19.8-28.2 19.8-25.8 16.4-18.9 16.5-16.7 16.5-14 16.4-11.4 16.5-8.5 13.2-4.5 16.5-2.6 13.1 0.5 9.9 2.2 6.6 2.2 16.5 8.3 13.1 9.6 16.5 15.1 13.2 15.1"/>
<path d="M852.9 463.5l25.3-20.3 14.5-10 10.8-6.7 14.5-7.8 10.8-4.9 14.5-5.5 10.9-3.3M1431.7 732.2l36.2 33.2M2014.2 1168.9l21.7 4.1 25.3 3.5 32.6 1.9"/>
<path d="M1078.8 308l17.2 10.9 20.6 16.9 17.2 17.1 20.7 24.2 17.2 23.1 17.2 25.6 24.1 39.7 24.1 42.5"/>
<path d="M225 1148.9l13.2-0.9 16.4-3.4 13.1-4.5 13.2-6.1M964.4 403.8l9.9 2.8 13.1 5 13.2 6.3 9.9 5.6 23 15.6 26.2 21.9 19.8 18.9 26.3 27.4 85.4 96.9 39.4 43M1845.2 1060.7l36.1-4.1 23-1.8"/>
<path d="M422.7 879.4l6.3-0.8 12.6-3.2 9.5-3.7 9.5-4.7 9.5-5.7 12.7-9 19-16.7"/>
<path d="M2068.6 1187.5l45.5-2"/>
<path d="M1717.3 976.2l19 11 34.7 18 22.1 10.2 28.4 11.2 22.1 7.4 25.3 6.5 25.3 4.9 25.2 3"/>
<path d="M516.8 766.1l19.1-3.5 19.1-5.7"/>
<path d="M265.4 1114.6l22.7-0.1 12.9-1.8"/>
<path d="M210.6 1179.6l14.6 0 14.7-1.1"/>
<path d="M290.1 1108.3l17.7 0"/>
<path d="M2031.4 1174l10 0.6"/>
<path d="M442.8 862.5l23.1-0.3 13.3-2.4 13.2-4.2M985.8 260.3l13.2-5.7 13.3-3.2 13.2-1 13.2 1.4 13.3 4 13.2 6.6 13.3 9 13.2 11.4 13.3 13.9 9.9 11.8 13.2 17.7 13.3 19.7 13.2 21.2 16.6 28.7 39.7 74.8"/>
<path d="M1931.1 1121.6l9.8 1.1"/>
<path d="M768.3 405.9l18.4-29.3 18.3-26.1 18.3-22.5 14.7-15.3 18.3-15.1 14.7-8.8 11-4.7 7.3-2.2 14.7-2.2"/>
<path d="M2100.5 1227.9l21.9 0.7 33-0.4"/>
<path d="M1831.3 1043.5l33.6-3.1"/>
<path d="M196.2 1196.6l23.9-0.6"/>
<path d="M1989.8 1149.1l73.4-5.1"/>
<path d="M443.7 909.2l8.5-1.4 8.5-2.6"/>
<path d="M2222.6 1220.6l19.7-2 31.7-1.8"/>
<path d="M1207.8 466.1l21 23.2 27.9 33.8 80.2 105.1"/>
<path d="M724.1 638.2l23.1-34.8M1212.6 472.4l43.4 52.7M1264.6 535.5l83.9 99.7 72.2 83.6M1848.5 1063.7l11.6 1.5"/>
<path d="M346.1 1047.4l13.3 0"/>
<path d="M961.8 265l12.4-4.8 9.4-2.1M989.8 257.3l15.6 0.1 9.4 1.5 9.3 2.7 15.6 7.1 9.4 5.8 9.3 6.9 18.7 17 18.7 20.7 18.7 23.7 21.8 30.8"/>
<path d="M1864.3 1076.8l23.7 10.3M1905 1093.3l20.3 6.1 20.4 4.7 20.3 3.1 17 1.4"/>
<path d="M176.8 1200.7l30.6-0.1M1901.3 1092.8l17-1.2"/>
<path d="M1889.2 1090.9l35.6-3.3"/>
<path d="M1603.5 879l47 31.1 43.7 32.6 50.4 42.1 47.1 42.6M1905.9 1100.9l20.2-1.4 53.8-6.5 26.8-2.3"/>
<path d="M374.1 1015.9l13.4 0"/>
<path d="M232.4 1219.3l24.4-1.1 20.9-3.1 10.5-2.7 13.9-4.5 17.4-7.8 20.9-11.9 17.4-12.6 24.4-22.3 20.9-23.1M772.2 400.5l14-22.2 13.9-20.6 24.4-32.1 10.4-11.9 13.9-14.3 14-12.6 13.9-10.5 13.9-8.6 14-6.6 10.4-3.8 13.9-3.2 14-1.2 13.9 0.7 10.5 1.8 17.4 5.5M1597.6 995.4l31.3 30.9 38.3 35.1 34.9 29.1 27.8 21.1 34.9 23.8 24.3 15 38.3 20.6 27.9 13.1"/>
<path d="M1907.9 1098.5l49.3-3.5"/>
<path d="M218.9 1182.4l13.3 0M1864.4 1076.2l46.3-4.3"/>
<path d="M2041.5 1182.7l50.3-2.7"/>
<path d="M389.9 886.5l18.6 0 3-0.6 14.5-4.5 14.6-6.7 11.7-7.1 14.6-10.8 14.5-13.3 11.7-12"/>
<path d="M374.5 1011.7l11.5-0.5"/>
<path d="M199 1189.1l15.1 0"/>
<path d="M379.5 972.8l15.1 0 10.4-1.5"/>
<path d="M450.9 840l8.2 0 11.7-2.6 14.9-4.8 15.3-6.8"/>
<path d="M237.2 1174.3l1.2 0"/>
<path d="M191.8 1171.5l30.2 0 17-2.1"/>
<path d="M179.6 1150.1l36.5-0.1 16.9-2.2 10.2-2.4 10.4-3.5 10.1-4.3 11.7-6M276.6 1130.9l7.7-4.6"/>
<path d="M247.2 1140.8l24.9 0"/>
<path d="M385.7 987.5l6.6 0"/>
<path d="M225.8 1218.4l17.6-0.3 13.7-1.2 13.3-2.2 13.7-3.6 16.6-6 13.6-6.5 17-9.7 13.3-9.2M354.7 1171.7l8.3-7.1"/>
<path d="M259.7 1145l17.7 0"/>
<path d="M365.3 933.9l15.3-0.1 11.7-2.8 12.1-4.5 17.3-9.1 14.8-10.4 14.9-12.6 17.7-17.3 14.5-16.1"/>
<path d="M175.9 1210.3l11.1 0"/>
<path d="M298.2 1091.8l14.9-2.1"/>
<path d="M219.4 1187.1l1 0"/>
<path d="M415.2 806.5l8 0 15.8-2.6 15.5-4.5 15.8-6.2 12.6-6.3 18.9-11.6 18.8-13.7 11.4-9.4"/>
<path d="M297.4 1074.6l25.6 0"/>
<path d="M362.5 969l13.8-0.1 13.3-2.6 13.4-4.6 14-6.7"/>
<path d="M346.4 998.7l9.8-0.7 13.8-3.1 13.7-5 11.3-5.9"/>
<path d="M439.8 906.1l14.9-0.1"/>
<path d="M384.2 939.4l13.8-0.5 14.5-3.2 17.1-6.5 15.8-8.6"/>
<path d="M392.9 904.9l12-0.6 10.5-1.8 10.6-3.5 10.3-4.4 13.7-7.8 13.7-9.7 21.4-18.8"/>
<path d="M187.7 1190.7l12.8-0.4 13.8-1.7M224 1186.7l2.4-0.6"/>
<path d="M198.8 1177.7l9.2-0.7 12.8-2.4 18.7-5.7M246.9 1165.9l6.6-3.1M269.3 1154l8.1-5.2"/>
<path d="M300.1 1109.6l1.4 0"/>
<path d="M402 907.9l15.8 0 12.3-2.1 12.6-4 14.5-7.2M461.5 892l1.9-1.2"/>
<path d="M149.9 1221l43.6 0.8 25.5-0.9 10.7-1.3 10.9-2.2 19.4-6.2"/>
<path d="M197.9 1198.2l11.5 0"/>
<path d="M338.5 1182.5l2.9-1.5M354.4 1173.4l15.5-10.7 12.6-10.1 15.4-14 15.9-16.4M417.4 1118.2l5.3-5.8"/>
<path d="M139.5 1207.5l31.2-0.3 24.5-2.9M199.1 1203.6l1.9-0.4"/>
<path d="M225.8 1160.5l16.3-0.4 16.2-2.2"/>
<path d="M420.2 853.5l7.1 0 12.1-2 9.2-2.4 14.8-5.2 21.7-10.5 19.5-12.2M506 820.2l3.5-2.5"/>
<path d="M415 936.3l13.5-0.1"/>
<path d="M266.9 1104.8l13.1 0 10.2-1.4 10.8-2.6 9.5-3.1"/>
<path d="M321 1081.6l2 0"/>
<path d="M401.3 964.6l0.8 0"/>
<path d="M359.7 971.7l25-0.3 9.4-1.8 11.3-3.4"/>
<path d="M283.2 1088.5l18.7 0 11.7-1.4"/>
<path d="M174.9 1213.6l12.4 0.1"/>
<path d="M194.4 1221l40.4 0.7 22.3-0.9 26.2-4.3 18.9-5.5 7.4-2.8 18.8-8.7 11-5.8 11.3-6.9 22.8-16.5 21.1-18.9"/>
<path d="M341.1 1039.5l9.5 0"/>
<path d="M275.1 1121.7l10.1 0"/>
<path d="M440.3 752.7l16.3 0 15.5-2.9 15.9-4.3 21.5-8.6 19.1-10 25.1-16.1 15.9-11.9 19.1-15.6"/>
<path d="M236.2 1164.1l17 0"/>
<path d="M395 973.1l10.4 0"/>
<path d="M428.7 793.4l19 0 11.2-1.3 17.2-4.3 14.2-5.2 17.2-8.6 17-10.5 17.2-12.7 14-11.9"/>
<path d="M277.8 1074.2l34.5 0 12.9-2"/>
<path d="M201.3 1190l13-0.1"/>
<path d="M194.1 1184.5l19.9 0 12-1.2"/>
<path d="M353.3 1033.8l7.2 0"/>
<path d="M308.6 1095.4l2 0"/>
<path d="M428.6 1106.4l14-11.2 13.4-12.7 10.3-11.2 16.4-20 26.7-37.9 31.1-51.3"/>
<path d="M173 1214.5l14 0"/>
<path d="M345.6 1002.5l31.6-0.3 6.9-1.1 9.2-2.6"/>
<path d="M306 1063.1l22.2-0.1"/>
<path d="M389.9 945.4l17.2 0 9.6-1.7 10.8-3.1"/>
<path d="M132.2 1215l33.3 0.4 21.9-1.3"/>
<path d="M279 1127.5l5.4 0"/>
<path d="M281.2 1093.5l19.9-0.1 9-0.9"/>
<path d="M416.6 891.7l13.2-2.4 18.3-6.4 15.8-7.9 17.4-11.3"/>
<path d="M160.2 1213.6l27 0.3"/>
<path d="M266.4 1142.9l5.9 0"/>
<path d="M327.5 1052.7l10-0.4 10.9-2.4"/>
<path d="M268.3 1142.4l3.9 0"/>
<path d="M256.7 1138.4l15.3 0"/>
<path d="M266.1 1143.2l5.8 0"/>
<path d="M232.6 1139.9l19.2-0.6 10.4-1.8 9.8-2.5"/>
<path d="M369.6 964.2l20.6-0.3 12.4-1.9 10.5-2.4"/>
<path d="M200.2 1185.7l25.9-0.2"/>
<path d="M319 1045.1l26.6 0 4.4-0.6"/>
<path d="M269.9 1137.4l2.3 0"/>
<path d="M219.9 1184.4l6.2 0"/>
<path d="M387 890.5l24.7-0.4 14.3-4.3 14.5-6.3 14.3-8.5 14.5-10.8 17.3-15.4 14.5-14.7"/>
<path d="M226.7 1134l15.3-0.1 14.6-2.1 14.7-4.5 13.6-6.1"/>
<path d="M267.2 1086.8l34.8-0.2 11.1-1.8 10.4-2.9"/>
<path d="M251.8 1131.5l23.8 0"/>
<path d="M245 1153.5l15.3-0.2 16.9-2.3"/>
<path d="M318.5 1082.2l4.5 0"/>
<path d="M366.5 1162.1l2-1.1M369.5 1160.4l11.6-7.1 9.6-7 12.2-10 9.9-9.1 12.6-12.7 12.3-13.8 22.8-29.1"/>
<path d="M271.5 1131.4l4.9 0"/>
<path d="M274.1 1114.3l18 0"/>
<path d="M259.6 1144.2l9 0 6.9-0.8"/>
<path d="M176 1205.2l19.2 0.1"/>
<path d="M191.8 1196.2l19.8-1.5"/>
<path d="M305.2 1088.9l8.2 0"/>
<path d="M366.9 981.1l17.9-0.5 18.7-4.6"/>
<path d="M375.8 883.5l42.7-0.1 12-2.6 9.3-3.3 15-7.6 15.3-10.3 18.1-15.3 13.3-13.8"/>
<path d="M222.8 1171.4l16.4 0"/>
<path d="M309.4 1061.6l13-0.3 14.7-3.1"/>
<path d="M308.6 1083.1l13.8 0"/>
<path d="M311 1035.4l31.8-0.3 10.2-1.8 8.2-2.4"/>
<path d="M240 1214.8l18.4-1.8 14.8-3 11.3-3 15.3-5.7M306.8 1198.2l2-1.1"/>
<path d="M332.4 1040.1l15-0.3"/>
<path d="M206.4 1178.9l26 0"/>
<path d="M183.1 1187.8l31.4 0M217.7 1187.6l2.8-0.3"/>
<path d="M303.2 1093.8l7.4 0"/>
<path d="M233.5 1159.8l24.6 0"/>
<path d="M289.9 1111.1l9.1 0"/>
<path d="M184.9 1191.8l26.5-0.4"/>
<path d="M270.5 1118.6l10.7-1 8.9-1.7"/>
<path d="M395.3 927.7l45.8-0.3"/>
<path d="M362.1 1019.9l14.9 0"/>
<path d="M280.8 1110.4l20.1 0"/>
<path d="M298.5 1027.2l31.9 0 9.3-1.4 9.4-2.7 9.4-3.6 12.4-6.5 12.3-8.5 10.1-8.3"/>
<path d="M291.2 1103.1l10.1 0"/>
<path d="M310.4 1063.2l17.5 0"/>
<path d="M437.5 708.9l20.6-0.1 23.2-5.9 17.4-6.1 14.4-5.9 11.7-5.4 13.9-7.7"/>
<path d="M178.5 1220l36.7-0.5M223 1218.8l20.8-2.9 18.3-4.5M263.9 1210.8l1.5-0.5"/>
<path d="M235.6 1137.8l19.1 0 17.6-2.7"/>
<path d="M365.8 1012.2l14.9 0 5.9-0.9"/>
<path d="M260.5 1150.1l16.9 0"/>
<path d="M444.6 1088.9l3.2-3.5M448.5 1084.6l17.4-21.3 19.6-26.3"/>
<path d="M384.2 940.2l7.3 0 3.2-0.7 11.8-3.7 9.1-4.2 18.1-11.9 16.6-14.7"/>
<path d="M482.6 727.8l16.4-0.1 8.7-1.2 14.9-3.4 11.8-4.2 14.4-6.7 14.9-8.6 11.8-8 12.9-10.4"/>
<path d="M321.7 1070.7l3.4 0"/>
<path d="M448.6 798.2l10.4-0.3 15.1-3.4 14-4.4 14.7-6.1 14.4-7.3 14.4-8.8 14.7-10.6 11.2-9.2"/>
<path d="M233.8 1145.6l32.6 0 10.7-0.9"/>
<path d="M458 1072.6l21.4-18.2"/>
<path d="M198.2 1173.9l25.4-0.1 15.5-1.5"/>
<path d="M473.2 598l20 0 34.2 6.3 50.4 10.3"/>
<path d="M407.2 908.8l25.9 0 17.2-3.6"/>
<path d="M376 999.8l17 0"/>
<path d="M368.1 986.6l23.8 0"/>
<path d="M362.3 938.2l19.5-0.4 10.8-2.1 10.9-3.3 10.8-4.8 10.9-6.3 10.8-7.4 11.3-9M461.5 892l2.7-2.7"/>
<path d="M316 1054.4l25.2 0"/>
<path d="M316.3 1038.4l36.2-0.3"/>
<path d="M246.1 1138.8l15.5-0.1 10.5-1.2"/>
<path d="M300.4 1106.7l0.6 0"/>
<path d="M270.3 1151l6.7 0"/>
<path d="M255.7 1121.3l29.5 0"/>
<path d="M239.7 1215l15.2-1.8 13.5-2.7 13.2-3.9 13.6-5.4"/>
<path d="M261.1 1122.1l24.5 0"/>
<path d="M270.6 1109.4l15.7-0.6 15.1-3.3"/>
<path d="M360.4 1024l10.7 0"/>
<path d="M258.4 1107.4l32-0.1 10.8-1.2"/>
<path d="M223.6 1183.8l2.8 0"/>
<path d="M202.5 1187.2l17.7 0"/>
<path d="M254.4 1152.8l12.1-0.8 11-1.6"/>
<path d="M267.2 1098.2l28.9 0 13.9-1.7"/>
<path d="M486.5 703.1l29.1-0.3 27.7-6.4 24.6-8.7 15.1-7 13.4-7.3"/>
<path d="M175.9 1210.3l11.1 0.1"/>
<path d="M147.4 1191.5l20.9-0.1 24.8-3.4 21.7-5.9 10.7-4 14.1-6.4M250.2 1166l3.1-1.7M268.5 1154.3l8.8-6.4"/>
<path d="M210.6 1184.9l15.8 0"/>
<path d="M268.6 1125l15.7-0.1"/>
<path d="M398.7 847.3l29.4 0 7.1-0.6 14.1-2.6 10.6-3.4 14.2-5.7 14.1-7.8 11-7.3 16.1-13.1"/>
<path d="M269.5 1152.9l2 0"/>
<path d="M222.7 1219.4l14.3-0.6 15.1-1.6 14.6-2.7 14.7-3.9 11.3-4 15-6.5 14.7-7.5 12.7-7.7M338.5 1182.7l2.7-1.9M354.6 1171l5.1-4.1"/>
<path d="M276.5 1083.5l17.2 0 7.1-0.7 10.4-2 12-3.7"/>
<path d="M244.1 1140.6l7 0 6.4-0.8 14.6-3.3"/>
<path d="M320.7 924.2l25.3 0 7.4-1 17.3-4.1 10.4-3.7 10.1-4.6 17.6-10 20.5-14.9 21.1-18 22.4-22"/>
<path d="M295.9 1087.2l17-0.5"/>
<path d="M149.5 1208.7l38 0.4"/>
<path d="M347.8 1024.3l15.6 0 10-1.5"/>
<path d="M271.6 1115l11.1 0 10.7-2"/>
<path d="M270.3 1131.1l5.9 0"/>
<path d="M444.9 725.8l20.1 0 20.8-3.1 13.8-3.3 13.6-4.1 13.8-5.4 13.9-6.4 14.4-7.8"/>
<path d="M430.9 752l33.2-0.1 11.7-1.8 12-2.8 11.7-3.6 14.5-6 11.7-5.9 16.1-9.6"/>
<path d="M306.2 1010.9l28.1-0.5 10.3-2.4 10-3.8 13.3-7.3 10-7.1 13.5-11.7 11.8-12.2M405.7 963.1l20.3-24.9M426.5 937.5l1.5-2.1M429.5 933.4l4.8-6.7"/>
<path d="M232.5 1177.1l1.5 0"/>
<path d="M263.6 1122.4l21.6 0"/>
<path d="M276.8 1092.4l33.7 0"/>
<path d="M285.2 1116.1l5 0"/>
<path d="M376.6 868.5l19.4 0 13.4-2.4 20.2-6.2 20.5-9.6 16.9-10.5 20.2-15.3 16.9-15.1 21.2-22.3M543.7 765.5l4.6-5.7M551.5 755.9l2.8-3.7M555.4 750.8l1.7-2.3"/>
<path d="M183.7 1211.2l3.5 0"/>
<path d="M254.3 1123l30.9 0"/>
<path d="M444.1 849.7l8.6-0.5 17-4.9 17.2-7.8 14.1-8.8"/>
<path d="M276.4 1128.7l6.1 0"/>
<path d="M186.2 1198.6l17.7 0"/>
<path d="M224.3 1167.5l11-0.9 17.9-4.4"/>
<path d="M337.1 1042.2l13.5 0"/>
<path d="M176.9 1202l24.7 0"/>
<path d="M393.9 956.4l10.9-0.3 9-2.7 8.6-3.3"/>
<path d="M423.5 833.4l20.4-0.3 11.6-2.9 14.9-5.4 12-5.7 14.5-8.6 12-8.3 13.3-10.6"/>
<path d="M306.7 1070.3l18.4-0.4"/>
<path d="M231.8 1174.8l5.3-0.1"/>
<path d="M214.8 1168.4l24.4 0"/>
<path d="M327.7 1012.9l8.3 0 7-0.9 14.3-4 14.3-6.5 16.4-10.6"/>
<path d="M355.9 983.1l32.3 0 7.9-0.9"/>
<path d="M256.8 1132.7l17.2 0"/>
<path d="M371.4 1018.7l6 0"/>
<path d="M343.8 961.1l27.8-0.1 13.2-2.7 12.9-4.2 9.6-4.2 19.3-11"/>
<path d="M405.7 892.5l22 0 13.8-2.5 7.3-2.2 10-4.2 10.4-5.4 7.3-4.7"/>
<path d="M298.2 1044.2l11.2-0.3 14.2-3 11.2-4.1 10.8-5.6 10.8-7 11.2-8.8 10.8-9.9 13.5-14.1M441.2 927.1l2.4-3.4M446.3 919.7l8.1-12.2M473.2 878.1l3.1-4.9"/>
<path d="M347.9 1038.8l2.4 0"/>
<path d="M345.5 995.5l13.4-1.2 7.2-1.7 10.4-3.6 14-6.8 14.5-9.5"/>
<path d="M419.8 835.7l39.5 0 9.5-1.7 12.6-3.9 9.5-3.9 12.7-6.7 9.9-6.4"/>
<path d="M195.5 1150.8l39 0 6.9-0.6 14.8-2.9 16.4-5.9"/>
<path d="M302.8 1075l20.2-0.4"/>
<path d="M282.7 1205.1l12.4-3.9"/>
<path d="M301.7 1099.9l5.5-0.2"/>
<path d="M193.6 1194.2l17.3-1.6"/>
<path d="M395.5 1138.5l11.3-7.9 17.3-14.8 17.7-18 17.7-20.5 17.3-22.5 17.4-24.7 17.7-27.6 19.7-32.5"/>
<path d="M270.7 1130.7l5.6 0"/>
<path d="M309.5 1032.3l45.9 0 6.2-0.5"/>
<path d="M287.9 1059.4l39.8-0.1 9.4-1.2"/>
<path d="M311.8 1196.2l14.5-4.5 15.1-6.2 12.6-6.3 15.2-8.9 12.3-8.4 15.4-11.9 12-10.3 12.6-12"/>
<path d="M456.8 1074.2l11.2-10.6 13.2-14.2 19.5-24.6"/>
<path d="M477.4 710.5l12.4 0 24.4-5.2 18.9-6.4 15.2-6.7 15.6-8.5 15.6-10.1 18.4-14.2 13.6-12.3"/>
<path d="M228.3 1174.7l10.1-0.4"/>
<path d="M188.3 1167.8l25.3 0 11.5-0.9 15.2-2.9 17.8-5.9M267.8 1153.8l9.3-4.9"/>
<path d="M255.4 1160.1l3 0"/>
<path d="M333.9 1052.1l11.1-0.2"/>
<path d="M316.5 1065.7l8.8 0"/>
<path d="M267.2 1126.1l17.2 0"/>
<path d="M351.9 990.2l16.1 0 6.4-0.7 9.7-1.9 11-3.7"/>
<path d="M155.3 1209.5l32.1 0.1"/>
<path d="M272.5 1108.8l28.6-0.1"/>
<path d="M187.2 1174.7l29.8-0.4 10.9-1.3 11.3-2.1"/>
<path d="M307.3 1066.8l18 0"/>
<path d="M340.3 1021.4l36.2-0.5"/>
<path d="M352.6 992.4l16.3 0 9.7-1.7 9.7-2.7M389 987.8l5.4-2"/>
<path d="M395.8 963l9.4 0"/>
<path d="M297.2 1110.1l4.3 0"/>
<path d="M284.8 1069.7l25.5 0 6.5-0.7 8.5-2"/>
<path d="M363.3 1016.6l17 0"/>
<path d="M278.5 1117.6l6.8 0"/>
<path d="M458.4 769.9l27 0 12.7-2.5 15.8-4.1 16.1-5.4 13-5.2 14.4-6.9"/>
<path d="M434.4 756.2l34.1-0.4 16.3-2.4 20.1-5.2 22.7-9.1 13.7-6.9 16.7-10.1 17.4-12.2"/>
<path d="M312.4 1087.7l1 0"/>
<path d="M479.6 712.8l18.9-0.1 18.2-3.2 14.9-3.5 12.6-3.9 17.8-6.8 9.7-4.4 16.7-8.9"/>
<path d="M287.7 1115.8l2.5 0"/>
<path d="M274.5 1119.5l10.8 0"/>
<path d="M241 1163.3l12.5 0"/>
<path d="M289.4 1115.7l1.1 0"/>
<path d="M223.6 1169.7l15.5 0"/>
<path d="M247.2 1136.7l24.7 0"/>
<path d="M306.3 1001.9l40.3 0 8.9-1.2 9.1-2.1 8.9-3 14.6-7M389.4 987.9l5.8-3.4"/>
<path d="M419.6 930.4l15-0.1"/>
<path d="M245.4 1119l23.4-0.2 12.8-2.3 11.6-3.3M294.4 1112.8l1.9-0.8M297.1 1111.7l4.2-1.7"/>
<path d="M394.6 868.6l11.9-0.1 13-2.4 16.2-4.8 16.6-6.9 16-8.5 13.5-8.5 12.9-9.3 18.3-15.2"/>
<path d="M185.5 1195.6l25.9-0.1"/>
<path d="M400.6 915.1l11.4 0 9.7-1.7 13-3.8 13.8-5.9"/>
<path d="M223.2 1176.3l12 0"/>
<path d="M375.8 980l24.6 0"/>
<path d="M408 904.2l25.7-0.2 15.6-3.2"/>
<path d="M374.4 955.4l33.9-0.1 9.9-1.1"/>
<path d="M270 1136.4l2.3 0"/>
<path d="M240.2 1149.1l21-0.2 15.9-2.3"/>
<path d="M482.7 760.7l4.5 0 11.8 2.3 38.3 8.6"/>
<path d="M347.3 1029.1l15.6 0"/>
<path d="M354.8 1170.4l9.8-4.5 9.5-5.4 9.8-6.5 12.8-9.9 12.5-11.4 9.8-10.1 9.8-10.9 11.7-14.6"/>
<path d="M471.5 1054.7l2-2.3M474.6 1051.3l13.9-16.5 13.3-17.2 28.6-40.9"/>
<path d="M338.3 1052.7l2.5 0"/>
<path d="M190.9 1200l10.5 0"/>
<path d="M308.1 1096.2l2.4 0"/>
<path d="M233.3 1136.8l13.5 0 10.5-1.3 10.5-2.3 14.2-4.8"/>
<path d="M333.4 995.1l16-0.3 10.1-2 7.2-2.5 10.2-4.8 10.1-6.4 7.2-5.3 9.1-8.1M405.9 963.2l12.1-12.8 9.2-10.8M434.4 930.4l18.6-26.1M460.5 892.8l16.4-26.1 23.5-39.5"/>
<path d="M386.4 995.7l6.8 0"/>
<path d="M498.5 648.7l19.3 0.4 83.7 16.2"/>
<path d="M298.3 1072.3l26.8-0.5"/>
<path d="M324.5 1017.4l43-0.1 15.7-3"/>
<path d="M464.2 765.2l21.3-0.5 13.1-2.2 10.1-2.8 13.5-4.9 10.1-4.7 10.1-5.6 14.2-9.2M561.1 732.1l3.4-2.5"/>
<path d="M125.8 1208.9l36.7-0.3 17-1.2 15.6-2"/>
<path d="M342.5 1026.4l8.7 0 6.9-0.8 10.2-2.2 7.9-2.5"/>
<path d="M426.6 856.1l23.5-0.1 10.9-1.6 14.3-4 10.6-4.3 9.3-4.7"/>
<path d="M462 795.5l7.6 0 9.9-1.1 9.8-2 9.5-2.7 19.6-8 18.7-10.7"/>
<path d="M319.8 1079.3l3.3 0"/>
<path d="M244 1164.7l9-0.4"/>
<path d="M332.7 969.4l19.3 0 10.1-1.5 16-4.5 13.1-6 16.2-9.9 13.2-10.4 16.2-15 15.7-17.1"/>
<path d="M390.4 916.2l11.7 0 8.4-1.4 11.4-3.3 11.4-5 11.4-6.8 8.7-6.3 11.4-9.5 11.4-10.6"/>
<path d="M374.3 975.7l12.8-1.5 18-5.2"/>
<path d="M344.3 1042.9l5.7 0"/>
<path d="M391 995.7l2.4 0"/>
<path d="M297.2 1106.1l4-0.2"/>
<path d="M276.5 1144.3l0.8 0"/>
<path d="M238.5 1151.4l19.5-0.6 19-3.7"/>
<path d="M311.7 1047.6l6.2 0 12.3-1.8 15.3-4.5M354.4 1037.7l1.6-0.7M356.7 1036.7l1.3-0.6"/>
<path d="M286.3 1074.4l37-0.3"/>
<path d="M266.4 1128.8l15.6 0"/>
<path d="M334.1 1042.5l16.1-0.4"/>
<path d="M271.7 1107l13.2-0.8 16.2-3.8"/>
<path d="M267.5 1151.1l9.6-0.2"/>
<path d="M312.7 1047.1l37.6 0"/>
<path d="M126.6 1213l21.9-0.1 13.5-0.8 13.2-1.6 11.8-2.2M189.8 1207.6l3.2-0.8M193.8 1206.6l1.1-0.3"/>
<path d="M211.6 1155.8l34.9-0.3 16.7-3 14-4.6"/>
<path d="M389.8 897.9l33.6 0 10-1.9 16.7-5.5 9.9-4.7 10-6M471.4 878.8l1.6-1"/>
<path d="M398.2 909.6l14.3-0.4 18.2-4.5 17.8-7.7 18.8-11.5"/>
<path d="M215.8 1184.8l10.4 0"/>
<path d="M409 940l18.5 0"/>
<path d="M397.2 956.2l18.8 0"/>
<path d="M394.3 922.9l22.2 0 9.5-1.1 12.8-3.6 15.7-7.6"/>
<path d="M336 1011.7l50.1-0.4"/>
<path d="M144 1211.3l26.8-0.1 16.7-0.7"/>
<path d="M180.5 1202.8l20.5 0"/>
<path d="M383.4 997.3l9.9 0"/>
<path d="M266.6 1121.2l18.6-0.1"/>
<path d="M417.8 1117.3l17.2-13.3 16.4-15.1 19.2-20.7 17.8-21.8"/>
<path d="M174 1206.3l21.1 0"/>
<path d="M364.8 1018.4l6.4-0.3 9-1.5"/>
<path d="M369.8 933.2l8.7-0.4 13-2.8 12.9-4.4 12.8-6.1 13.1-7.9 13-9.4 13.1-10.6 14.4-13.2"/>
<path d="M267.9 1072.7l38-0.1 9.4-1.3 9.7-2.4"/>
<path d="M236.1 1149.1l8-0.2 10.1-1.2 17.8-4.4"/>
<path d="M181.1 1192.9l30.5 0"/>
<path d="M400.2 803.6l13.7 0 12-2.6 17.7-6 17.7-8.5 17.7-10.8 15-11.1 14.7-12.7 18.9-18.2"/>
<path d="M320.5 989l39.8 0 6.9-0.8 10-2.3 6.9-2.3 10.2-4.4 10.8-5.6"/>
<path d="M261.9 1135.2l10.6 0"/>
<path d="M212.7 1186.1l13.4 0"/>
<path d="M226 1165.6l19.4 0"/>
<path d="M374.2 1003.7l7.6-0.7 10.1-2.1"/>
<path d="M363.9 942.7l24.4-0.3 10.3-2 9.9-2.8 10-3.9 10.2-5.1 13.2-7.9 7.2-5.2M451.3 913.9l2.9-2.2"/>
<path d="M188.9 1190.3l25.5-0.5"/>
<path d="M211.1 1186.5l8.8 0"/>
<path d="M321.1 1071.9l4 0"/>
<path d="M201.4 1188.5l12.7 0"/>
<path d="M235.8 1216.2l16.2-1.6 14.7-2.8 14.8-4 17.1-6.7"/>
<path d="M156.5 1209.7l30.5-0.4"/>
<path d="M302.8 1079.7l20.9-0.1"/>
<path d="M371 1012.4l14.4 0"/>
<path d="M266.5 1150.7l10.9 0"/>
<path d="M257.3 1157.7l0.7 0"/>
<path d="M275.3 1113.1l18 0"/>
<path d="M209.8 1177.1l14.4-0.1 10.8-0.8"/>
<path d="M342.1 1042.9l8.2 0"/>
<path d="M242.5 1160.4l16 0"/>
<path d="M140.3 1203l22.1 0.1 13.6-1.2 20.7-3.1 14.6-3.6"/>
<path d="M345.2 1032.3l16.3 0"/>
<path d="M357.4 916.3l32.6 0 6-1 15-4.4 17.3-8.4 17.6-12.1 17.7-15.3 17.6-18.5 19.2-22.7"/>
<path d="M249.9 1158.8l8.5 0"/>
<path d="M396.3 912.2l7.2 0 9.4-1.6 9.7-2.5 9.7-3.4 16.6-7.6 18.7-11.3"/>
<path d="M306.7 1197.9l2-0.6M309.8 1197l13.9-4.5 11.3-4.4 18.1-8.5 10.9-6.1 22.2-14.5 22.2-17.7"/>
<path d="M316.4 1064.8l9.2 0"/>
<path d="M354.9 1173.2l11.6-5.8 13.1-7.9 13-9.5 11.8-9.7"/>
<path d="M347.7 988.5l27.2-0.1 9.9-1.5 10.6-3.1"/>
<path d="M263.8 1125l20.2 0"/>
<path d="M172.6 1205.2l22.7 0"/>
<path d="M382.5 922l7.5 0 12.4-2.1 9.6-2.7 12.6-4.9 12.4-6.4 9.6-5.9 9.6-6.6 13-10.5"/>
<path d="M378.4 992.9l11.1-0.5"/>
<path d="M517.1 595.8l5.4 0.5 25.2 4.7 75 16.1"/>
<path d="M472.8 654.2l17.7 0.3 25.6 5.5 54.5 13.3 12.8 2.3 10.7 1.3"/>
<path d="M418.5 806.3l9.3-0.2 15.3-2.5 15.3-4 12.4-4.2 18.6-8.3 12.4-6.3 15.2-8.8 14.6-9.6"/>
<path d="M301.1 1043.5l20.1 0 10.9-1.3 14.4-3.4 14.8-5.9"/>
<path d="M243.2 1119.1l36.4-0.1 5.9-0.6"/>
<path d="M372.9 837l38.6-0.2 20.4-4.3 17.7-6.3 17.3-8.5 21-13.2 20.7-15.8 19.8-18.1"/>
<path d="M155.9 1212.3l31.2 0.3"/>
<path d="M167.3 1202.3l33.6 0"/>
<path d="M210.3 1193.4l1.1 0"/>
<path d="M287.5 1070.2l37.6-0.1"/>
<path d="M186.7 1206.9l6.4 0"/>
<path d="M313.3 1062.5l9.8 0 10.2-1.8"/>
<path d="M431.7 773.1l30.2 0 19.5-2.8 22-4.7 29.8-9.6"/>
<path d="M343.7 963.4l43.8-0.1 13.2-2.6 16.4-5.6"/>
<path d="M395.6 929.1l7.3-0.3 6.8-1.1 9.9-2.7 6.7-2.7 13.3-7.2 14.1-10.1"/>
<path d="M401.2 876l10.1 0 6.1-1.4 14.6-4.5 14.9-6.3 11.8-6.4 14.9-9.6 11.9-9.1 15.9-14M505.8 820.4l7.4-7.3"/>
<path d="M351.1 1036.6l7.3-0.5"/>
<path d="M155.1 1219l53.9 1.8 17.6-0.3 13.9-1.1 14.2-2.5 13.9-3.9 13.9-5.6 12.7-6.5"/>
<path d="M298.3 1096.7l12.2 0"/>
<path d="M424.6 940.3l2.7 0"/>
<path d="M402.9 900.5l14.3-0.2 13.9-2.1 20-4.9 13.5-4.6"/>
<path d="M296.9 1106.8l4.5 0"/>
<path d="M402.1 852l13.1-2.4 18.4-4.9 18.5-6.8 12.3-5.5 15.7-8.6 18.5-11.7 23.8-18.1"/>
<path d="M370.4 864.6l36.6-0.1 13.1-2.6 13-4.8 12.9-6.7 10.1-6.4 13.2-10.1"/>
<path d="M380 969.2l10.1 0 13-2.8"/>
<path d="M454.8 849.3l11.5-1.3 12.9-3.2 9.6-3.5 10.5-4.8"/>
<path d="M394.4 888.1l35.1 0 5.6-0.6 20-5.3 11.2-4.5 9.8-4.8"/>
<path d="M347.1 953.7l31.2 0 12.9-2.1 10-3.2 9.5-4.1 10-5.5 7.3-4.9M429.5 932.9l10.7-8.3 9-8M451.9 914.1l2.2-2.2"/>
<path d="M314.6 1030.2l12.7 0 12.8-2.3 10.1-2.9 19.1-8.3 9.8-5.6 11.1-7.6"/>
<path d="M387.4 1002.3l2.8 0"/>
<path d="M186.4 1211.6l1.1 0"/>
<path d="M274.4 1092.4l20.5-0.3 6.7-1.3 11.8-3.8M318.5 1084.9l3.7-1.8"/>
<path d="M272.6 1064.4l13.5 0 10-1.7 7-2.1 9.8-4.1 6.7-3.8 10.3-6.9 6.7-5.4 17.1-16 17-19.5 20-27.1 20-30.7"/>
<path d="M208 1197.2l3.2 0"/>
<path d="M230.9 1158.1l27.3 0"/>
<path d="M301.3 1022.1l25.7-0.5 9.6-1.7 9.7-2.9 9.7-3.9 12.7-7 19.6-14.1"/>
<path d="M397.7 874.2l25.8 0 10.1-1.4 10.2-2.5 13.3-4.5 10.2-4.7 10.1-5.6 12.1-7.8"/>
<path d="M351.7 981.8l21.1 0 6.5-1 10.3-2.7 15.5-6.9"/>
<path d="M361.3 989.4l27.2 0"/>
<path d="M298.2 1106.6l3.3 0"/>
<path d="M224.3 1154.7l34.2 0"/>
<path d="M190.1 1204.9l5.1 0"/>
<path d="M274.3 1125.8l10.1 0"/>
<path d="M298.5 1102.7l2.5 0"/>
<path d="M304.1 1091.6l6.4 0"/>
<path d="M334 981.9l19.2 0 16.6-2.8 13.4-4.5 9.9-4.6 9.3-5.2M405.3 963.1l12.1-8.5"/>
<path d="M468 866.7l13.1-1.6"/>
<path d="M326.9 1188.8l14.3-2.1 14.9-4.2 14.9-5.8 14.9-7.8 14.9-9.8 14.9-11.5 14.9-13.7 18.4-19.4"/>
<path d="M351.1 998.7l28 0 14.1-2.1"/>
<path d="M353.3 902l20.6-0.4 11.5-3 11.9-4.4 11.9-6 11.5-7.4 11.9-9 9.1-7.7 23.8-24.3 29.6-34.7 23.8-31 44.4-61.3"/>
<path d="M245.9 1156.6l12.5 0"/>
<path d="M171.9 1197.4l19.1-0.1 20-2.3"/>
<path d="M319.4 1071.9l5.6 0"/>
<path d="M263.9 1147.7l13.7 0"/>
<path d="M334 1008l12.9-0.1 14.6-2.6 14.2-5.2 15.1-8.1"/>
<path d="M373.5 948.2l13 0 16.7-2.9 10.2-3.5 14.9-7M437.4 929.1l4.2-2.9"/>
<path d="M425.8 868.6l30.7 0 14.5-2.9 12.1-4.2"/>
<path d="M262.8 1105.4l11.8-0.8 11-2 11-3.1 13.6-5.4"/>
<path d="M241.7 1155.3l16.7-0.4M260.7 1154.6l10.5-1.8M271.9 1152.7l4.6-1.1"/>
<path d="M247.8 1101.9l41.6-0.1 11-1.5 9.7-2.4"/>
<path d="M294.2 994.7l38.2 0 6.4-0.5 9.5-1.9 9.6-3 12.8-5.6 9.6-5.6 12.6-8.6"/>
<path d="M326.8 1188.9l16.2-5.2 17.5-7.7 17.8-9.9 16.8-11.6"/>
<path d="M267.2 1103l25.6-0.2 14.3-2.9"/>
<path d="M374 899.1l43.3 0 9.7-1.5 19.4-5.3 9.8-4.3 12.8-6.8"/>
<path d="M396.1 852.3l17.6 0 6.8-0.9 15.8-4.1 13.1-5.2 12.8-6.3 13.1-8 16.1-11.8 15.8-13.7"/>
<path d="M355.9 990.7l10.7-1.5 13.5-3.9 13.3-5.9 11.5-6.9"/>
<path d="M297.8 1064.5l26.6 0"/>
<path d="M289.1 1062.3l26.1-0.1 10.3-1.4 11.6-2.8"/>
<path d="M397.4 959.4l5.2 0 11.5-1.7"/>
<path d="M377.2 991.1l11.3 0"/>
<path d="M273.9 1090.9l15.6 0 6.6-0.7 7-1.3 10.3-3.1M315.4 1085l8.2-3.7"/>
<path d="M250.4 1131.1l10.3 0 7.4-0.8 16.1-3.9"/>
<path d="M282.8 1204.8l16.7-3.5M306.7 1199.1l12-4.3 13-6 19.3-11.3 9.8-7 12.9-10.6 20.7-20.3"/>
<path d="M214.9 1163.4l9.2-0.2 11.4-1.3 22.9-5.2M264.6 1154.8l13-4.9"/>
<path d="M288.2 1103.3l12.9 0"/>
<path d="M243.9 1128.4l38.4 0"/>
<path d="M189.6 1200.4l11.8-0.5"/>
<path d="M442.8 635.4l5.3 0 5.8-1.1 27.9-6.6 33.7-11.1 18.3-7.6 18.3-9 21.5-12.2 17.8-11.2"/>
<path d="M181.1 1205.9l14 0"/>
<path d="M228.2 1174l10.1 0"/>
<path d="M241.4 1215l17.8-0.7 18.8-2.7 18.8-4.6 15.7-5.5 16-7.2 15.7-8.8 19.1-13.3 11.8-9.4"/>
<path d="M367.2 955.6l17.5 0 12.1-2.3 15.2-5 15.2-7.4"/>
<path d="M279.7 1126.6l4.6 0"/>
<path d="M380.1 866l43.2-0.2 12.4-2.3 9.2-2.6 12.9-4.8 12.9-6.2 15.3-9.3 15.4-11.2"/>
<path d="M441.3 913l7-0.1 6.1-1"/>
<path d="M397.1 872.6l34.9 0 12-2.1 12.3-3.6 12-4.6 20.9-11.4"/>
<path d="M411.2 957.5l3.2 0"/>
<path d="M250.6 1122.2l19.3-0.2 15.3-2.5"/>
<path d="M443.7 747.9l25.9 0 24.2-5 18.1-5.2 12.2-4.4 23.6-10.6"/>
<path d="M174.2 1218.2l12.1 0.3M225.7 1218.2l20.9-2.7 21-5.3"/>
<path d="M386.8 929.6l17.4 0 15.9-3 9.7-3.1 9.3-3.9 15.5-8.2"/>
<path d="M280.4 1116.3l10 0"/>
<path d="M262.3 1130.3l18 0"/>
<path d="M271.5 1143.3l0.6 0"/>
<path d="M424.7 918.7l13.8 0 10.8-1.7"/>
<path d="M445.1 817.3l8.9 0 3.3-0.6 11.8-2.6 9.7-2.9 21.2-8.2 22.7-12"/>
<path d="M265.9 1109.7l21.9 0 13.2-1.7"/>
<path d="M244 1153.9l18.9-0.1 13.4-2"/>
<path d="M340.2 984.9l12.7-0.5 9.8-1.7 6.8-1.9 16.3-6.3 16.2-8.8M406.5 962.9l7.5-5.3"/>
<path d="M397.2 937.7l21 0 10-1.6"/>
<path d="M219.3 1166.5l23.3 0"/>
<path d="M369.9 944.8l37.9-0.1 10-1.9 9.4-2.9"/>
<path d="M280.7 1205.7l19.1-3.8 18-5.4 18-7.6 18.4-9.8 14.2-9.1 21.5-16.7 18-16.5 17-17.8"/>
<path d="M319.2 1053.3l22.1 0"/>
<path d="M432.5 727.2l22.9 0 55.4-9.7 23.3-4.8 20.3-5.2 11.8-3.6 17.1-6.3"/>
<path d="M245.9 1213.8l12.9-1 22.1-3 22.5-5.3 14.9-4.9 11.5-4.6 10.9-5 12.7-6.9"/>
<path d="M385.9 932.6l33.9 0 16.4-3.7M437 928.7l4.2-1.5"/>
<path d="M237.9 1160.6l16.1 0"/>
<path d="M306.6 1198.2l15.5-4.4 19.1-7.8 15.4-8.7 19.5-13.2 15.5-12.5 19.1-18.3 15.5-17.1 15.1-18.1"/>
<path d="M304.2 1097.9l5.9 0"/>
<path d="M176.3 1191.8l34.6 0"/>
<path d="M237.5 1160.8l11.1-0.8 10-1.9"/>
<path d="M340.8 927.4l15.3-0.4 17.7-3.1 17.2-5.3 17.4-7.7 24-14.3 17.5-12.5 20.9-18 18.3-18"/>
<path d="M286.2 1091l19.3-0.1 8-0.6"/>
<path d="M433.4 864l39-0.1 11-1.9"/>
<path d="M326.4 1060.8l6.7 0"/>
<path d="M324.7 1053.9l16.4 0"/>
<path d="M276.3 1128l5.8 0"/>
<path d="M250.5 1144.1l26.9 0"/>
<path d="M153.3 1214.5l33.8-0.1"/>
<path d="M234.8 1137.7l18-0.1 10.2-1.4 9.9-2.4"/>
<path d="M404.5 1130.6l8.8-6.7 12.6-11.2 9.8-9.7 12.6-14 13-15.8 12.7-16.6 24.5-35.7"/>
<path d="M299 1051.2l36.6 0 14.3-2.3"/>
<path d="M282.9 1115.5l7.4 0"/>
<path d="M191.5 1207l1.4 0"/>
<path d="M179.6 1208.4l7.4 0"/>
<path d="M305.8 1031.7l30-0.1 13.8-2.8 10.2-3.7 10.2-5.2 10.2-6.7 9.8-7.8"/>
<path d="M358.4 1005.2l19.4 0 12.9-2"/>
<path d="M226.6 1178.9l5.9 0"/>
<path d="M247.9 1125.9l21.7-0.1 14.5-1.9"/>
<path d="M296.5 1099.4l12.7 0"/>
<path d="M265.4 1128.1l7.3-0.1 11.7-1.4"/>
<path d="M357 893.4l31.9-0.2 16.8-3 13.4-3.7 10.2-3.6 13.4-5.8 12-6.2"/>
<path d="M369.8 1014.5l13.2-0.6"/>
<path d="M152.4 1204.2l27.8-0.1 20.8-1.7"/>
<path d="M214.1 1158l17.4-1.2 14.2-2.8 14.6-4.6 14.9-6.3"/>
<path d="M284.6 1203.9l2.2-0.7"/>
<path d="M331.4 1020.8l17.9-0.1 10.3-1.9 13.8-4.7 10.1-5 6.6-4.1"/>
<path d="M246.4 1100.3l48.5-0.1 15.3-2.1"/>
<path d="M357.5 961.5l17.6 0 9.3-1.1 9.1-2.1 9.3-3.3 9.1-4.2 15.3-9.3"/>
<path d="M407.5 927.9l20.1-0.2 15.9-3.7"/>
<path d="M255.3 1142.7l17.1 0"/>
<path d="M212 1190.2l2 0"/>
<path d="M362.5 975.1l14.8 0 6.4-1 12.9-3.3 8.3-3.2"/>
<path d="M417.8 857.2l3.7 0 15-3.6 15-5.6 14.5-7.2 9.4-5.6 14.9-10.6 15-12 10.1-9.1"/>
<path d="M360.6 968.5l38.8 0 6-0.7"/>
<path d="M280.1 1125.2l4.1 0"/>
<path d="M220.9 1169.4l18.7 0"/>
<path d="M499.8 1015.4l18.3-14.2 21.2-20.4 24.1-28 22-29.1"/>
<path d="M358.9 947.3l25.9 0 6.8-1 10.3-2.6 10.2-3.6 13.6-6.6 10.4-6.3 9.9-7.2"/>
<path d="M417.7 1118.3l19.6-15.1 17.6-17 17.9-20.6 19.8-26.6"/>
<path d="M494.4 807l9-1.9 13.7-4.1"/>
<path d="M394 909.5l17.9-2.6 10.7-3.2 10.7-4.3 17.7-9.9 10.7-7.4 16.3-12.8"/>
<path d="M314.4 1026.6l22.1-0.2 6.9-0.9 10.4-2.6 7.2-2.6 10.1-4.8 10.3-6.2 8.8-6.4"/>
<path d="M237.4 1171.5l2.2 0"/>
<path d="M281.5 1120.7l3.8 0"/>
<path d="M349.8 904.8l14.1 0 10.2-1.3 13.5-3.1 13.6-4.7 13.5-6.4 16.9-9.8 13.5-9.5 15.6-12.3"/>
<path d="M184.4 1212.3l3.1 0"/>
<path d="M261.3 1123.1l23.8 0"/>
<path d="M415.9 907l9.1-0.4 9.8-2.1 9.7-3 8.5-3.7"/>
<path d="M249.9 1213.1l12-0.4 13.2-1.7 13.1-2.8 12.9-4.1 13.2-5.4 9.7-5 9.8-5.6 13.2-9.1M354.8 1173.1l14-12.2"/>
<path d="M346.4 1050.7l0.6 0"/>
<path d="M272.4 1059.9l30.9-0.1 10-1.4 19.3-5.7 17.8-8.8"/>
<path d="M385 994.4l8.2-0.1"/>
<path d="M202.3 1175.7l20 0 15.8-1.7"/>
<path d="M296.5 1109.8l4.7 0"/>
<path d="M276.6 1076.7l31.6-0.1 15-2.3"/>
<path d="M333.2 1047.2l16.9 0"/>
<path d="M282.5 1099.8l24.5 0"/>
<path d="M289 1102.2l12.1-0.4M302.5 1101.6l1.6-0.3"/>
<path d="M394.9 909.4l40.9-0.2 16.9-4"/>
<path d="M198 1193.8l13.4 0"/>
<path d="M285.9 1111.5l10.7 0"/>
<path d="M313.1 1079.6l10.3 0"/>
<path d="M234.2 1135l37.9-0.4"/>
<path d="M181.3 1200.2l20.3-0.2"/>
<path d="M399 964.5l4.2 0"/>
<path d="M335.4 982.8l16.5 0 6.6-0.7 9.5-2 13-4.4 12.8-6.4 12.9-8 20.3-15.7"/>
<path d="M261.6 1140.5l10.8 0"/>
<path d="M328.5 1040.9l18.7-0.6"/>
<path d="M402.8 968.4l2.6-0.1"/>
<path d="M284.1 1115l8 0"/>
<path d="M253.1 1105.1l18.2 0 10.7-1 14.2-3.7 13.9-5.8"/>
<path d="M409.3 910.5l23.8-0.2 10.5-1.5 10.8-2.8"/>
<path d="M321.4 1051.7l17.2-0.2 9.4-1.7M348.7 1049.6l1.2-0.3"/>
<path d="M221.9 1154.6l17.9-0.1 10.3-1.2 13.5-3.4 13.9-5.2"/>
<path d="M252.9 1135.6l19.1 0"/>
<path d="M448.7 1083.6l1.7-1.9M453.8 1078l1.2-1.3"/>
<path d="M343.9 1023.9l16 0 14.6-2.1"/>
<path d="M478.1 737.2l11.9-1.1 13.9-2.3 13.4-3.3 13.5-4.1 26.9-11.3 19.8-10.6"/>
<path d="M305.1 1067l19.8-0.1"/>
<path d="M227.1 1170.5l11.8 0"/>
<path d="M251.8 1156.6l6.4 0"/>
<path d="M436.8 883.8l10.6 0 5.7-1.2 11.2-3.3 12-5"/>
<path d="M396.3 931.5l3.2 0 6.2-1.4 15.4-4.4 15.2-5.5 12.6-6M449.7 913.8l4.3-2.3"/>
<path d="M289.3 1050.2l44.2 0 16.7-2.6"/>
<path d="M414.5 914.3l10.4-1.5 9.7-2.3 15.8-5.4"/>
<path d="M256.2 1133l18.4 0"/>
<path d="M348.7 942.6l28.3-0.2 12.7-2.5 12.2-3.9 12.7-5.9 12.4-7.2 12.4-8.9 10.9-9.2"/>
<path d="M206.1 1194.9l5.1 0"/>
<path d="M290 1098.2l20.3 0"/>
<path d="M258.3 1143.5l13.9 0"/>
<path d="M387.5 830.5l19.1 0 3.2-0.5 15.6-3.8 15.7-6 15.7-7.9 12.7-7.8 18.7-14.3 15.4-13.6"/>
<path d="M481.1 797.9l12.6-2.4 11.3-3.6 14.1-5.9 10.8-5.6"/>
<path d="M393.7 858l11.7 0 9.6-1.7 9.8-2.6 16.4-6.1 16.4-8.6 16.3-11 16.6-13.3 19.5-18.1 16.3-17.2"/>
<path d="M479.5 651l8.8 0 5.3 0.8 78.2 14.4 14.1 1.3 13.7-0.2"/>
<path d="M458.8 770.8l13.4 0 8.1-1.4 16.5-4.5 11-4 13.8-6.5 10.9-6 13.5-8.7 11.8-8.7"/>
<path d="M305.6 1094.8l4.4 0"/>
<path d="M161.1 1205.5l33.9 0.1"/>
<path d="M376.3 907.9l16.2 0 10.4-1.1 13.6-3 10.4-3.9 13.8-6.8 13.8-8.8 13.8-10.8 16.8-15"/>
<path d="M313.8 1080.9l9.3 0"/>
<path d="M379.8 993.1l13.3 0"/>
<path d="M316.4 1077.7l6.5-0.3"/>
<path d="M384.5 932l36.2-0.1 9.3-1.5 10.3-2.7"/>
<path d="M162.2 1213.6l24.8-0.3"/>
<path d="M356 986.4l11.3-0.4 14.3-3 10.8-4.1 12.6-6.9"/>
<path d="M294.9 1089.3l18.6 0"/>
<path d="M229.9 1158.6l14.2-1 14.2-2.7M259.2 1154.7l18.2-6"/>
<path d="M401.3 964.1l2.3 0"/>
<path d="M284.6 1083.2l10.1-0.2 7.2-1.1 10.4-2.6 11-4.1"/>
<path d="M255 1153.7l11.1-0.4 10.3-1.6"/>
<path d="M239.7 1214.9l3.5-0.5M245.6 1214l3.3-0.6M249.8 1213.2l8.3-1.9"/>
<path d="M338.7 1048.3l11.6 0"/>
<path d="M381.2 856.6l41.2-0.2 18.6-3.6 15.1-4.8 15.4-6.6 15.3-8.1 13.7-8.4"/>
<path d="M233.2 1172.5l5.1 0"/>
<path d="M285.4 1086.2l27.7 0"/>
<path d="M457.4 839.2l3.7-0.1 18-4 9.2-3.1 13.2-5.5"/>
<path d="M292.9 1110.5l6 0"/>
<path d="M219.4 1153.1l41.9 0 15.8-2"/>
<path d="M370 874.4l47.6-0.3 9.8-1.5 12.8-3.6 12.9-5.5 16-9.4 16-12 16.4-15"/>
<path d="M388.7 791.5l40.6-0.1 13.3-2.3 16.6-5.5 20-9.9 16.4-10.9 16.6-13 20.6-18.4"/>
<path d="M299 1106.5l2 0"/>
<path d="M413.7 867.5l21.9-0.2 13.9-2.7 10.3-3.3 10.2-4.1 10.3-5.3 11.8-7.2"/>
<path d="M463.3 795.4l19.1 0 11.5-2.3 20.3-6.4 17.2-7.8"/>
<path d="M231.9 1216.5l1.7 0M236.1 1216.4l14-1.2 14.9-2.4 18.4-5.2 16.5-6.3M307.1 1197.9l1-0.5"/>
<path d="M342.4 1042.8l7.9-0.5"/>
<path d="M314 1065.8l11.6 0"/>
<path d="M333.5 954.5l41.3 0 9.9-1.4 12.7-3.5 10-3.8 10-5 11-6.5M431.7 932l12.7-9.5"/>
<path d="M346.9 1025.9l12.9-0.3 13.4-2.8"/>
<path d="M135.5 1214.5l51.5 0.6"/>
<path d="M334.8 1055l6.6 0"/>
<path d="M401.2 884.1l33.2 0 5.9-1.2 8.5-2.3 11.4-4.1 18.7-9.6"/>
<path d="M298.6 1062.6l26.2 0 6.4-0.7"/>
<path d="M150.2 1218.3l36.4 0.4"/>
<path d="M347.1 990.6l27.5-0.2 12.1-2.7 9-3.2"/>
<path d="M202.6 1175.6l32.6 0"/>
<path d="M465.4 826.1l9.3 0 12.4-2.6 9.1-2.6 17.1-6.9"/>
<path d="M261.5 1109.7l17.9-0.3 11.1-1.6 10.8-2.7"/>
<path d="M315.2 1071.2l9.8-0.4"/>
<path d="M271.2 1111.8l17.6 0 10.3-0.9"/>
<path d="M442.3 722.6l33 0 3.6-0.5 15.7-3.5 12.5-3.5 21.7-8.5 22.1-11.6 21.7-14.6 18.9-15.1 20.9-20.3"/>
<path d="M493 720.9l7-0.1 5.8-1.5 31.5-10 25.6-11.2 14.3-7.8 10.8-6.7"/>
<path d="M253.7 1114.5l4.8 0 9.6-1.4 13.2-3.7 16.3-7.1 12.4-7.4"/>
<path d="M357.8 919.9l10.7-0.3 12.6-2.7 18.5-6.7 12.5-6.4 15.5-9.8 15.6-11.8 15.3-13.5 15.9-15.8"/>
<path d="M439.4 844.8l20.1-0.1 6.1-1 18.5-4.2 16.4-5.8"/>
<path d="M303.8 1053.6l29.3 0 14-2.8"/>
<path d="M287.1 1069.9l38.2 0"/>
<path d="M378.3 979.8l12.4 0 9.7-1.9"/>
<path d="M267.2 1069.1l28.8-0.1 6.7-0.8 9.9-2.2 10.2-3.8 9.9-4.8 17.8-11.7"/>
<path d="M253.6 1157.3l4.6 0"/>
<path d="M374 993l11 0 4.1-0.7"/>
<path d="M334.3 1056l6.7 0"/>
<path d="M273.1 1125.4l11.1 0"/>
<path d="M231.3 1173.6l6.9 0"/>
<path d="M321.6 1056.2l19.5 0"/>
<path d="M389 967.2l16.1 0"/>
<path d="M295.6 1106.6l5.9 0"/>
<path d="M139.2 1213.7l31.9 0.3 16.1-0.6"/>
<path d="M420.2 914.7l17.7-1.7 16.1-3.9"/>
<path d="M386 977.4l11.8 0 4.5-0.6"/>
<path d="M302.8 1071.9l22.4 0"/>
<path d="M128.8 1217.1l38.8 1.3 18.5 0"/>
<path d="M210 1181.8l17.3-0.9M229.2 1180.6l3.1-0.5"/>
<path d="M196.5 1170.9l22.7-0.1 13.2-1.8 9.7-2.2M242.6 1166.7l2.5-0.7M245.9 1165.7l7.3-2.4"/>
<path d="M354.7 1171.2l11.2-8.4"/>
<path d="M421.4 812.7l19.3 0 9.2-1.9 17.5-5.5 18.2-8.6 14.6-8.9 17.9-13.3 17.9-16 19.7-20.1M561.2 732.3l4.4-4.8"/>
<path d="M313.9 1041.5l36.2 0"/>
<path d="M284.6 1114l7.5 0"/>
<path d="M277.9 1118l7.3 0"/>
<path d="M391 850.4l40.5 0 16.4-2.9 15.9-4.7 13.1-5.5 13.1-6.7 14.3-8.9"/>
<path d="M371 847.9l11.1 0 15.7-3.7 13.1-5.4 12.9-7.2 12.8-9.1 16-13.6 16.2-16.2 15.5-17.4"/>
<path d="M440.7 804.2l15.9 0 7-0.7 9.9-1.9 16.7-5.2 10.3-4.2 13.3-7 23.6-15.7M543 765.3l5.5-4.3"/>
<path d="M423.9 884.7l15.5-0.1 10.7-1.5 14.1-4.1 12.1-5.3"/>
<path d="M408.7 883.1l10.8-2.3 12.6-4.3 13-6.5 12.9-8.5 15.7-12.8 12.9-12.4 12.9-14 15.7-18.8M516.7 801.5l5.6-7.2M542.6 765.8l14.7-22.4"/>
<path d="M288 1093.2l14.9 0 7.4-0.8"/>
<path d="M372.7 1158.1l20.9-15.3 17.1-15.2"/>
<path d="M319.8 1077.9l3.5 0"/>
<path d="M155.2 1208.6l32-0.7M191.5 1207.6l1.6-0.2"/>
<path d="M361 962l37.7 0 15.7-3.4"/>
<path d="M272.1 1129.5l10.2-1.3"/>
<path d="M194.7 1197.9l15 0"/>
<path d="M221.6 1165.5l14.9-0.4 16.5-2.4"/>
<path d="M446.7 803.7l30.9 0 13-2.3 10.3-3.2 6.7-2.9 9.9-5.1 7.9-5M528.2 783.3l2.4-1.7"/>
<path d="M419.4 946.1l8-0.1"/>
<path d="M440.2 899.8l9.8 0"/>
<path d="M185.2 1212.5l2.1 0"/>
<path d="M248.3 1144.6l28.6 0"/>
<path d="M348.6 973.9l23.9 0 6.3-0.6 12.3-2.7 11.2-4.3M409.5 962.8l3.5-1.9"/>
<path d="M230.3 1153.4l41.1-0.3"/>
<path d="M388.4 993l4.9-0.6"/>
<path d="M374.6 986.5l8.6-0.9 11.8-2.9"/>
<path d="M194.3 1189.6l9.8 0 10.2-0.9"/>
<path d="M340.4 1043.7l10-0.1"/>
<path d="M356.9 872.9l20.7-0.6 9.2-2.3 11.5-4.2 9.2-4.4 11.8-7.4 9.3-6.7 11.8-10 21-21.2 23.7-28.1 29.9-41.2 30.6-46.3"/>
<path d="M279.9 1070.6l34 0 11.8-1.4"/>
<path d="M442.6 687.8l13.3 0 39-7.8 24.3-7 18.3-7.1 17.9-8.6 21.3-12.9 18.3-13.1 17.7-15.3"/>
<path d="M222.6 1134l34.1-0.2 11.3-1.6 14.3-3.9"/>
<path d="M322 1035.2l37.3 0"/>
<path d="M284.7 1095.8l25.5 0"/>
<path d="M296.1 1075.6l16.6 0 10.2-1.9"/>
<path d="M313.3 904.4l26.7 0 9.7-1.5 10.1-2.6 10.1-3.6 10.1-4.7 9.6-5.6 13.6-9.4 12.8-10.4 13.6-12.4 13.2-13.4 10-11.3 26.8-32.8 31.8-43"/>
<path d="M178.3 1201.4l22.7-0.9"/>
<path d="M221.5 1185.6l4.8 0"/>
<path d="M337.2 1008.7l30.5-0.2 12.5-2.9 11.9-4.5"/>
<path d="M264.1 1146l13.2-0.9"/>
<path d="M237.3 1168.5l2.3 0"/>
<path d="M284.6 1071.6l40.6 0"/>
<path d="M417.1 848.6l10.6-0.5 13-3 15.7-6.1 12.8-7 12.7-9 15.7-13.4 13-12.9 15.1-16.8"/>
<path d="M208.5 1169.8l30.8 0"/>
<path d="M341.7 1040.8l3.2 0"/>
<path d="M304.2 1061.4l7-0.4 10.6-1.6 10.6-2.6 9-3.1M343.3 1053l2.4-1"/>
<path d="M419 934.6l9.2-0.4"/>
<path d="M420.3 824l26.8-0.1 20.3-4.3 17-4.9 8.8-3.2 14.3-6.3 12.9-6.7"/>
<path d="M438.8 807.1l7.5-0.5 15.3-3.9 14.9-5.7 15.1-7.9 12.2-8 12-9.3 12.2-10.8 16.6-16.5"/>
<path d="M328.2 1041.2l16.9 0"/>
<path d="M275.9 1110.5l23.7 0"/>
<path d="M481.3 698.3l8.1 0 17.5-3.9 17.5-5.2 29.1-11.3 26.2-13.2"/>
<path d="M357.4 982.7l22.1-0.2 12.3-2 8.4-2.4"/>
<path d="M285.3 1082.6l37.2 0"/>
<path d="M385.5 935.8l6.2 0 10.2-1.3 17.4-4.3 13.9-5.5 15.8-8.3"/>
<path d="M354.9 1170.3l6.2-3.7"/>
<path d="M469.9 617.9l13.9 0 24.1-4.5 63-9.1"/>
<path d="M342.2 1001.2l10.2-0.3 13-2.2 10-2.9 12.5-5.1"/>
<path d="M309.7 1067.2l15.4 0"/>
<path d="M379.7 986.6l14.7-0.3"/>
<path d="M302.9 1083.5l19.7 0"/>
<path d="M393.9 938.1l15.1 0 12.7-2.5 6.3-2"/>
<path d="M253.6 1147.5l24-0.3"/>
<path d="M281.1 1115.4l11.3 0"/>
<path d="M222.8 1183l3.8 0"/>
<path d="M189.8 1191l21.4 0"/>
<path d="M216.9 1172.9l21.6 0"/>
<path d="M279.6 1066.1l22.7 0 9.5-1.1 15.8-4.4 13.6-6"/>
<path d="M479.8 693.1l17.2 0 25.7-4.1 20.6-4.2 28.8-8 27.1-10.2"/>
<path d="M258.9 1128.1l23.6 0"/>
<path d="M276.9 1129.6l3.3 0"/>
<path d="M186.6 1188.1l28 0"/>
<path d="M295.2 1203.5l11.8-0.7 10.5-1.4 24.6-5.6 17.7-6.7 21.1-10.9 21.2-14.6 17.4-14.9 14.3-14.2 20.1-23.6"/>
<path d="M374.5 1006.5l15.8 0"/>
<path d="M305.1 1080.7l18.2-0.1"/>
<path d="M445.3 760.5l25.6 0 20.8-4.4 18.1-5.5 18.1-7.3 15.5-7.6 15.1-8.9 14-9.5"/>
<path d="M280.4 1084.5l32.4-0.1 9.3-1.2"/>
<path d="M309.6 1088.8l3.5 0"/>
<path d="M295.4 1088.3l18 0"/>
<path d="M400.5 901.2l22.9 0 9.7-1.3 16.1-4.4 15.1-6.7"/>
<path d="M174.9 1207.5l18.1-0.3"/>
<path d="M411.7 954.3l6.3 0"/>
<path d="M303.7 1058.2l24.3 0 10.6-1.2"/>
<path d="M235.7 1215.9l18.8 0 16.2-1.2 16.3-2.6 13.3-3.3 13-4.6 16.3-7.1 16.3-9 13.6-8.6"/>
<path d="M474.2 770.9l35.6-0.1 21.6-4.7 16.6-5"/>
<path d="M272.7 1149.3l4.8 0"/>
<path d="M418.1 1117.8l12.1-10.7 13.9-14.4"/>
<path d="M152.7 1216.9l33.5 0.8M235.7 1215.6l1.8-0.2M239.6 1215l3.7-0.7M245.7 1213.9l2.4-0.6M249.6 1213l2.7-0.7M253.8 1212l2.4-0.7"/>
<path d="M407 841l29.4 0 13.9-1.9 10.7-2.5 13.9-4.3 10.7-4.2 14.2-6.7 13.3-7.5"/>
<path d="M488.7 728.9l19.3 0 46.3 9.3"/>
<path d="M399.7 920l11.1-0.3 14.4-2.9 14.4-4.7 14.6-6.5"/>
<path d="M360.5 1166.4l16.5-5.9 13.2-6.8 12.9-8.2 19.1-15.5 16.1-16.2 16.2-18.8 18.8-24.7 14.8-21.4"/>
<path d="M268.5 1100.8l25.9-0.2 15.6-2.5"/>
<path d="M337.4 1042.9l13-0.5"/>
<path d="M377.8 967.3l7 0 9.3-1.6 12.3-4.2 7.7-3.9"/>
<path d="M142.9 1212.3l44.1 0"/>
<path d="M371.4 1016.9l9.6-1"/>
<path d="M450.1 605.6l46.5 0.4 38.8 8.2 63.1 16.1 21.8 4"/>
<path d="M273.8 1123.3l11.2-1.2"/>
<path d="M321.1 1059.1l16.1 0"/>
<path d="M306.2 1096.9l4.1 0"/>
<path d="M210.1 1191.2l1.2 0"/>
<path d="M261.3 1115.5l20.8-0.1 10.3-1.5"/>
<path d="M458.4 723.5l14.5 0 14.3-1.7 20.7-4.7 17.5-5.8 17.5-7.4 17.5-8.8 21.2-13.3 15.7-11"/>
<path d="M398.5 840.7l29.1 0 6.3-0.7 13-2.9 15.5-5.5 15.8-8.2 15.8-10.8 12.6-10.2 18.6-17.3M525.9 784.4l4.6-4.8M533.3 776.6l2.1-2.3M543.5 765.3l4.9-5.6M551.9 755.5l2.5-3"/>
<path d="M332.4 1050.8l9.5 0 6.7-1"/>
<path d="M346.6 1005.2l8.7-0.1 12.8-2.4 13.2-4.7 11.8-6"/>
<path d="M254.3 1150.8l12.1 0 10.6-1.1"/>
<path d="M388.9 953.1l18.8 0 14.4-3"/>
<path d="M354.4 939.2l19.6 0 9.9-1.9 13.6-4.2 16.3-7.4 16.7-10.7 16.6-13.5 16.7-16.2 15-16.7"/>
<path d="M335.2 1032.5l13.2 0 13.8-2.9"/>
<path d="M294.4 1092.7l16.1 0"/>
<path d="M203.3 1177.3l30.9 0"/>
<path d="M265.8 1144l11.4 0"/>
<path d="M474.6 776.9l14.8-0.2 15.8-2.4 15.8-3.2 17.4-4.6M544.4 764.7l2.9-0.9"/>
<path d="M383.2 1008.6l4.3 0"/>
<path d="M223.9 1182.8l2.6 0"/>
<path d="M439.2 921l6 0"/>
<path d="M360.8 997.4l6.6 0 9.5-1.4 12.3-3.6"/>
<path d="M279.5 1108.5l21.8 0"/>
<path d="M349.7 985.3l32.6 0 12.8-2.1"/>
<path d="M431.2 923.3l9.6 0 3.7-0.6"/>
<path d="M402.2 956.2l14.4-0.5"/>
<path d="M301.1 1068.2l8.7-1.2 10.3-3 10.4-4.3 10.7-6M342.2 1053.1l8-5.6"/>
<path d="M266.2 1116.9l16 0 7.8-0.8"/>
<path d="M171.9 1218.4l14.1 0.4M198.3 1219.5l42.1 1.8 13.3-0.3 13-1.1"/>
<path d="M295.2 1050.3l6.9-0.1 16.4-2.9 13.3-4.3 10-4.2 13.4-7.3 10-6.5 10-7.4 14.9-12.4"/>
<path d="M275.8 1125.5l8.7 0"/>
<path d="M363.1 1016.7l10.3 0 10-1.5"/>
<path d="M274.6 1121.9l10.6 0"/>
<path d="M304.7 1046.1l37 0 8.8-1"/>
<path d="M310.8 1086.6l2.5 0"/>
<path d="M288.2 1100.5l15.9 0"/>
<path d="M314.7 1029.3l34.6 0 13.9-2.3M364.4 1026.7l1.8-0.5"/>
<path d="M209.2 1187.9l5.2 0"/>
<path d="M370.4 986.1l23.7 0"/>
<path d="M405.9 1129.2l11.3-9.5"/>
<path d="M345.1 1049.8l3.1 0"/>
<path d="M381.6 967.7l17.4 0 6.7-1.1"/>
<path d="M265.9 1067l38.1 0 6.9-0.7 13.7-3.5 12.6-5.2M338.7 1056.9l2.6-1.4"/>
<path d="M382.7 942.9l18.9 0 6.3-0.8 9.9-2.3 10.6-3.9"/>
<path d="M403.4 1131.1l12.7-6.6 6.6-4.1 17.3-13.1 17.4-16.6 23.5-27.3 13.9-18.6 20.4-30.3 20.4-33 27.8-48.2"/>
<path d="M219.9 1163.5l33.5 0"/>
<path d="M302.6 1076.1l20.7 0"/>
<path d="M416.6 921.1l29 0"/>
<path d="M500.9 689.8l10-0.3 13.8-2.2 16.7-4.5 16.7-6.7 17.5-8.9 13.5-8.2 13.5-9.6 14.9-12"/>
<path d="M434.7 834.5l31.8 0 6.2-0.9 14.9-4.1 16.4-8.3M506.3 819.8l2.6-1.7"/>
<path d="M330.3 1045.5l8.2-0.6 11.4-3"/>
<path d="M171.1 1211.2l16.2 0"/>
<path d="M351.6 919.3l20.3-0.1 3.6-0.5 13.6-3.5 13.5-5.7 13.4-8 10.3-7.5 13.4-11.8 12.9-12.9"/>
<path d="M180.9 1204.3l14.1 0"/>
<path d="M359.5 947.9l26.1 0 13.6-1.6 13.8-4.2 15.2-7.2M437.5 929.1l4.9-3.3"/>
<path d="M174.3 1221.2l69.2 2.7 19.6-0.9 16.1-2.4 16.4-4.6 20-8 19.6-10.6 17.8-12"/>
<path d="M312.6 1068l12.5-0.4"/>
<path d="M363.7 1010.4l22.3 0"/>
<path d="M289.8 1103.9l11.4-0.1"/>
<path d="M267.2 1132.2l7.9 0"/>
<path d="M265.9 1148.7l11.2 0"/>
<path d="M251.9 1153.9l15.6 0"/>
<path d="M184.9 1207.5l2.1 0"/>
<path d="M307.4 1081.7l15.7 0"/>
<path d="M359.7 1025.4l8.7-0.6M369.2 1024.7l2.4-0.4"/>
<path d="M351.6 1025.8l14.4 0"/>
<path d="M418.2 930.8l16.3 0"/>
<path d="M264.3 1087.5l25.9 0 6.6-0.6 12.8-2.4 13.7-4.8"/>
<path d="M442.3 856.6l3.2-0.1 8.3-1.8 8.5-2.9 11.2-4.9 16.8-9.8 11-8"/>
<path d="M346.9 1046.1l3.7 0"/>
<path d="M410.8 1124.4l2-1.4M414.7 1121.5l11.2-9.2 10.5-10 20.7-22.9 17.8-22.9 25.3-37.8"/>
<path d="M242.4 1156.1l15.7 0"/>
<path d="M246 1165.1l7.3 0"/>
<path d="M250.3 1129.6l29.8 0"/>
<path d="M270.8 1087.1l42.4 0"/>
<path d="M383.4 879.1l17.8 0 9.5-1.6 15-4.1 15.4-6.2 15.1-7.9 15.4-10.1 15-11.6 15.1-13.2M506 820.3l7.5-7.2"/>
<path d="M209.4 1189.7l5 0"/>
<path d="M439.6 863.4l18.3 0 6.5-0.9 12.6-3.2 10.6-4.3"/>
<path d="M196.3 1194.1l15.3 0"/>
<path d="M356.3 970.7l31.2-0.2 9.7-1.8 8.3-2.5"/>
<path d="M514.6 628.4l27.6 3.9 70.8 11.6"/>
<path d="M207.5 1180.1l24.7-0.3"/>
<path d="M401.9 1133.2l9.9-8.2 10.4-10 17.2-19.3M440.9 1093.8l2.5-3.2M444.9 1088.7l1.5-1.9"/>
<path d="M205 1169.3l34.3-0.2"/>
<path d="M394.4 935.6l19.4 0 9.5-2 10.8-3.6M434.7 929.7l1.3-0.5M437.1 928.7l4-1.9"/>
<path d="M240.1 1215l10.2-1.1 13.2-2.5M264.1 1211.3l3.5-0.9M269 1210l2.6-0.7M272.9 1208.9l18.7-6.6"/>
<path d="M374.7 1010.7l11.5 0"/>
<path d="M305.4 1073.3l17.9 0"/>
<path d="M125.5 1216.1l61.1 1.5"/>
<path d="M245.5 1117.6l27.8 0 10.4-1.3 8.7-2"/>
<path d="M354.2 1022.5l20 0"/>
<path d="M151.8 1220.4l57.8 1.3 32.2-1.1 16.3-2.4 15.9-3.7 16-5.2 15.7-6.6"/>
<path d="M181.9 1208.8l5.3 0"/>
<path d="M304.2 1093.2l6.3 0"/>
<path d="M399.8 815.9l6.4-0.5 15.4-4.2 12.3-4.6 12.5-5.6 15.2-8.6 12.3-8.2 22.3-17.4"/>
<path d="M405.4 916.1l10.8-0.3 11.4-2.3 11.9-3.6 11.4-4.8"/>
<path d="M355.4 927.8l34.3-0.1 12.5-2.4 12.2-4.1 15.3-7.6 12.5-8.4 12.5-10 14.4-13.7M471.4 879.1l4.8-5.1"/>
<path d="M444 814.6l15.5-0.4 11.2-2.3 11.5-3.1 19.8-7.8 11.2-5.8 12.1-7.3"/>
<path d="M382.2 1005.5l8.2-0.2"/>
<path d="M343.5 987.1l36.7 0 6.1-1.1 9.3-2.8"/>
<path d="M330.4 1057.6l6.5 0"/>
<path d="M191.8 1184.4l16.7-0.6 13.2-2.4 10.4-2.8"/>
<path d="M228.5 1152.4l32.9-0.1 16.1-2.6"/>
<path d="M282.9 1058.8l32.1 0 6.8-0.9 13.6-3.6 15-6.8"/>
<path d="M358 1028.4l5.2 0"/>
<path d="M204.8 1166.1l29.5-0.1 18.8-2.7"/>
<path d="M388.3 979.8l12.3 0"/>
<path d="M471.1 862.7l11.4 0"/>
<path d="M293.1 1103.9l8.3 0"/>
<path d="M363 977.5l11 0 10.3-1.6 10.4-3.1 10.6-5"/>
<path d="M367 955.3l36.6 0 7.5-1 8.9-2"/>
<path d="M259.2 1119.2l5.4 0 10.6-1.3 10.4-2.3 7.5-2.5M294.4 1112.7l1.6-0.6M296.8 1111.8l4.1-1.8"/>
<path d="M467.9 600.4l25 0.3 97.5 18.2 18.5 2.6 16.3 1"/>
<path d="M274.4 1084l40.5 0 7.4-0.6"/>
<path d="M320 1056.4l20.9 0"/>
<path d="M394.1 850.8l17.2 0 6.3-1 15.3-4.3 16-6.9 21.6-13 18.8-14.7 21.9-20.8 21.6-23.9 21.3-26.7"/>
<path d="M157.8 1190.1l44 0 12.3-1"/>
<path d="M341.4 980.3l43.3-0.1 9.8-1.7 8.9-2.5"/>
<path d="M291.4 1110.2l10.1 0"/>
<path d="M350.7 1024.7l11.8 0 10.7-1.6"/>
<path d="M197.2 1192.5l14.1 0"/>
<path d="M342.6 1033.2l18.3-0.5"/>
<path d="M337.8 1182.9l3.9-1.7M354.9 1174.3l18.2-11.9 17.3-14.4 13.8-13.1 17.6-19.5"/>
<path d="M228.9 1166.6l16-0.9M245.4 1165.6l7.6-1.6"/>
<path d="M163 1205l18.5 0 13.6-1M198.4 1203.6l2.6-0.4"/>
<path d="M344.5 1037.3l6.8 0 6.8-1.2"/>
<path d="M190.5 1204.7l4.7 0"/>
<path d="M280.9 1103.8l20.2-0.6"/>
<path d="M182.5 1211.6l4.8 0"/>
<path d="M382.2 962l30 0"/>
<path d="M400.4 914.8l9 0 16.8-4 14.2-5.9 12.9-7.3"/>
<path d="M440.8 895.3l16.1 0"/>
<path d="M403.4 858.3l19.3 0 26-3.9 23.2-5.3 23.3-7.1"/>
<path d="M303.5 1064.8l22 0"/>
<path d="M405.2 906.4l13.7-0.3 13.4-2.4 10.5-3.2 14.4-6"/>
<path d="M361.1 989.9l14.9-0.5 9-2.1 10.6-3.8"/>
<path d="M500.4 620.2l12.6 0 6.3 1.2 76 16.5 19.8 3.6"/>
<path d="M259.1 1145l10-0.2 8.4-1"/>
<path d="M156.3 1190.2l32.4-0.4 20.8-3 16.6-4.1"/>
<path d="M233.4 1219.6l25.7-0.4 23.8-2.7 23.8-5.9 10.3-3.4 10.5-4.5"/>
<path d="M236.5 1162.8l16.8-0.5"/>
<path d="M318.9 1037.6l12.5 0 6.9-1.1 13.3-3.6 11.9-5.2M368.5 1025l9-5.6"/>
<path d="M358.1 1035.3l1.4 0"/>
<path d="M209 1196.2l2.2 0"/>
<path d="M304.9 1092.7l5.4 0"/>
<path d="M334.8 1057.8l2.1 0"/>
<path d="M279.6 1119.4l5.6 0"/>
<path d="M283.5 1116.4l6.8 0"/>
<path d="M299.9 1061.7l31.4 0"/>
<path d="M355.3 1028.3l8.1 0"/>
<path d="M404.8 868.7l4.9 0 9.4-1.9 16.3-6.1 16.1-9 16.1-12.3 16.1-15.3 16.1-17.9 16.4-20.7 19.1-27"/>
<path d="M423.6 826.2l28.4-0.4 12-2.1 9-2.6 11.8-4.7 12.4-6.3 14.9-9.4 10.4-7.8"/>
<path d="M343.1 1040.5l2.2 0"/>
<path d="M223 1184l3.2 0"/>
<path d="M328.3 1037.3l19.2 0 10.8-1.5"/>
<path d="M489.5 536.6l16.2 0.2 87.4 18.6"/>
<path d="M437.4 877.4l26.1 0 12.6-2.2"/>
<path d="M228 1175.6l9.5-0.2"/>
<path d="M459.1 648.9l9.8 0 24.4-3.7 17.4-4.2 17.3-5.3 17.7-7 17.3-8.3 17.7-10.1 17.1-11.2"/>
<path d="M301.9 1093.1l8.5 0"/>
<path d="M349 1025.2l19.2-0.3"/>
<path d="M279.3 1073.2l32.8-0.2 13-2.4"/>
<path d="M295.8 1104.9l5.3 0"/>
<path d="M417.8 912.2l36.4-0.2"/>
<path d="M325.9 1043.2l17.5 0 7.3-1.3"/>
<path d="M212.6 1180.8l14.9 0"/>
<path d="M317.5 1084.5l4.6-0.4"/>
<path d="M452.5 780.9l19.3 0 23.1-3.8 26-6.4 16-5.1 11.4-4.4"/>
<path d="M279.1 1089.5l34.4 0"/>
<path d="M282.1 1071.8l29.4 0 13.8-2.2"/>
<path d="M255.8 1113.3l28.2-0.4 10-1.6 7.4-1.9"/>
<path d="M200.7 1221.4l41.3 1.2 15.3-0.6 11.3-1.1 11.7-2.1 11.3-2.8 15.2-5.4 13.9-6"/>
<path d="M208 1185.7l18.1-1.1"/>
<path d="M278.3 1082.8l44.6-0.4"/>
<path d="M268.4 1209.8l2.8-0.5M272.4 1209.1l15.2-3.3 17.7-5.7M306.5 1199.6l17.6-7.9 18-10.7M354.7 1172.1l14.4-11.6"/>
<path d="M307.2 1093.4l3.3 0"/>
<path d="M266.7 1137.9l5.6 0"/>
<path d="M271.3 1136.3l0.6 0"/>
<path d="M447.5 918.1l0.9 0"/>
<path d="M372.9 970.6l32.3-0.1"/>
<path d="M316.5 1048.9l8.1 0 9.7-1.6 6.8-1.9 9.2-3.5"/>
<path d="M393.9 945l10 0 6.7-0.8 16.7-4"/>
<path d="M321.2 1079.2l2.2 0"/>
<path d="M345.4 1042.5l4.7 0"/>
<path d="M378.1 996.5l15.1-0.3"/>
<path d="M338.3 1016.8l32.6 0 10.3-1.1"/>
<path d="M195 1196.3l15.9 0"/>
<path d="M199 1199.9l2.3 0"/>
<path d="M437.4 884.2l16.1-0.4 16.8-3.9"/>
<path d="M297.6 1089.2l7.2 0 8.2-1.3"/>
<path d="M272.7 1208.8l14.3-2.3 16.4-4.3 16.4-6.3 19.6-10.1 13.1-8.5 16.1-12.2 16.4-14.6 12-12.2"/>
<path d="M499.2 724.4l15.2 0 45.1 8.5"/>
<path d="M183.2 1200.6l18.1 0.1"/>
<path d="M322.7 1069.4l2.9 0"/>
<path d="M257.7 1138.5l14.5 0"/>
<path d="M225.3 1181.8l1 0"/>
<path d="M393 904.3l43.7-0.1 12.4-3.6"/>
<path d="M376.3 1005.6l14.2 0"/>
<path d="M443.1 800l16.4 0 22.6-3.4 22.6-5.3 20.7-6.3"/>
<path d="M365.3 955.6l21.2-0.1 12-2.1 15.1-5.8 13.6-8.2"/>
<path d="M216.2 1179.9l15.7 0"/>
<path d="M383.3 1005.8l6.9 0"/>
<path d="M469.1 863.6l9.1 0 3.8-0.7"/>
<path d="M429.1 913.4l14.7 0 10.5-2"/>
<path d="M245.5 1139.4l26.7 0"/>
<path d="M421.2 844.8l34.1 0 6.3-1 18.9-4.9 12.6-4.7 8.1-3.9"/>
<path d="M199.1 1198.6l4.9 0"/>
<path d="M129.7 1220.2l55.5 1.5 27.9-0.7 23.8-2.8 16.1-3.7 10.2-3.4"/>
<path d="M349.8 1037l6.8 0"/>
<path d="M284.9 1076l38.4 0"/>
<path d="M317.8 1021.5l8.8 0 6.9-1 9.2-2.1 12.3-4.4 16.5-8.5 12.3-8.2 7.3-5.7"/>
<path d="M365.1 916.4l11.8 0 13.9-2.1 13.9-3.8 10.3-4.2 14.1-7.2 10.6-6.5 17.4-12.4 13.8-11.6"/>
<path d="M210.3 1180.9l16.6 0"/>
<path d="M200.7 1185.9l12.4-0.2 13.1-1.2"/>
<path d="M516.6 988.4l13.7-15.5 17.3-21.6 16.8-23.4 19.4-29.1"/>
<path d="M399.8 963l5.7 0"/>
<path d="M350.5 1002.9l17.8 0 6.6-0.6 10-1.9 8.7-2.6"/>
<path d="M374.2 1003.4l7.8-0.8 11.3-2.5"/>
<path d="M348.5 1028.3l11-1.6 14.5-4.7M374.7 1021.7l1.3-0.5"/>
<path d="M226.9 1176l8.9 0"/>
<path d="M252.6 1134.3l20.4 0"/>
<path d="M331.4 1043.6l18.8 0"/>
<path d="M183.8 1207.6l3.4 0"/>
<path d="M319 1080.4l4.5 0"/>
<path d="M292.7 1096.9l17.6 0"/>
<path d="M260.3 1142.3l12-1.3"/>
<path d="M367.7 954.1l9-0.1 6.1-1 12.3-3.2 9.3-3.5 18.6-9.7 9.3-6.3 14-10.8"/>
<path d="M292.2 1106l9 0"/>
<path d="M418.3 873.1l7.5-0.3 12.7-2.8 9.4-3.3 9.6-4.5 12.7-7.6 12.4-8.9 18.4-16.4"/>
<path d="M512.6 760.8l4.2 0 12.7-2 9.6-2.3 15.1-4.7"/>
<path d="M264.7 1115.9l27.6-0.5"/>
<path d="M194.7 1179.3l37.8-0.4"/>
<path d="M427.9 864l34.9 0 13.1-2.1 8.5-2"/>
<path d="M250.5 1159.3l7.9 0"/>
<path d="M192.1 1197.2l19.2-0.1"/>
<path d="M165.8 1201.2l35.3 0"/>
<path d="M263.3 1144l13.8 0"/>
<path d="M200 1182.8l26 0"/>
<path d="M2021.8 1163.6l18 0"/>
<path d="M1913.7 1101.8l16.2-0.8"/>
<path d="M1723.1 979.9l15.2 1.5 18.7-0.4 94.1-9.5 22.2-0.5"/>
<path d="M2137.5 1209l23 0"/>
<path d="M1827.6 1050.3l39.4 6.5 23.7 2.5 11 0"/>
<path d="M1827.8 1052.4l32.3-2.9 17.9-0.1"/>
<path d="M2015.8 1158.8l7.6 0"/>
<path d="M1938.9 1120.3l10.4 0"/>
<path d="M2170.4 1215.3l34.3-0.1"/>
<path d="M2131.6 1199.5l8 0.2"/>
<path d="M2039.6 1176.8l4.7 0.8M2047.9 1178.3l23.9 3.1 25 1"/>
<path d="M1908.9 1092l4.3 0"/>
<path d="M2133.7 1207.6l43.8-1.5 19.5 0"/>
<path d="M1742.7 992.7l13.8-0.1 18.6-1.1 71.8-7.2 20-1.5"/>
<path d="M1845.7 1057.1l48.4-5.1 27.7-2.3"/>
<path d="M2076.6 1184.7l8.6 0"/>
<path d="M2076.3 1186.2l1.5 0"/>
<path d="M2021.7 1162.6l9.9 0"/>
<path d="M1970.4 1129.3l22.5 0.9"/>
<path d="M2069.7 1227.5l10.4 0.6M2086.5 1228.5l27.6 0.8 66.9-2.1"/>
<path d="M1827.5 1051.8l4 2.6M1853.5 1063.4l16.4 2.5 21.5 0.3 99-8.1 19.4-0.2"/>
<path d="M2015.4 1158.6l19.8-0.1"/>
<path d="M1956.4 1127.5l46.3-3 16.6-0.2"/>
<path d="M2021 1171.1l5 1.6M2040 1177l2.3 0.7M2048.9 1179.4l13.1 3.2M2062.9 1182.8l4.1 0.8M2077 1185.4l25.9 3 25.1 0.5"/>
<path d="M1984.7 1143.2l14.7 0.6"/>
<path d="M1870.7 1073.5l8.6-0.7M1882.3 1072.6l60.6-5.8 22.6-1.7 9.7-0.1"/>
<path d="M1938.1 1115.9l8.2 0"/>
<path d="M2076.3 1185.9l2 0"/>
<path d="M1913.8 1103.7l29.6-0.5"/>
<path d="M2132 1202.2l5.7 0.1"/>
<path d="M1747.5 995.1l23.1-1.4 65.1-5.7 8.2-0.2"/>
<path d="M2132.7 1207.5l36.5-0.5"/>
<path d="M2094 1191.6l30 2 31 0.4"/>
<path d="M1827.7 1049.1l17.2 7.8M1853.6 1060.5l22.1 7.9 26.3 6.7 23.2 3.5 9.8 0.8 11.2 0"/>
<path d="M1938.6 1118.8l27.1-1.5"/>
<path d="M1922.1 1112.3l11.1 0"/>
<path d="M2039.5 1174.2l3.3 0"/>
<path d="M1909 1094l3.8 0"/>
<path d="M2131.6 1200.2l50.6-0.5"/>
<path d="M2120.5 1196l40.3 1"/>
<path d="M2093.4 1190.5l16.1-0.1"/>
<path d="M2004.3 1149.6l24.5-0.1"/>
<path d="M1872.4 1075.8l28.3-2.6 20.4 0"/>
<path d="M1928 1113.6l37.1-3.3 18.5-1"/>
<path d="M2020.7 1167.5l9.4 0.7"/>
<path d="M1788 1022.8l54.1-6.2 11.8-1 8.4 0"/>
<path d="M1827.8 1047.2l27.7-1.2 72.9-8 19.7-1.8 8-0.1"/>
<path d="M1915.7 1098.5l39.6-2.7 20.7-0.1"/>
<path d="M1836.5 1042.8l55.9-6.1 16-0.2"/>
<path d="M2004.1 1224.8l25.6 3.1 22.6 1.9 55.6 2.3 66.3-3.1 66.9-5.4 14.3 0"/>
<path d="M2105.1 1230l29.9 0.3 36.2-1.1 68.3-5 31.9-1.3"/>
<path d="M1872.9 1077l52-4.6 14-0.3"/>
<path d="M1823.9 1166l2.7 1.4M1831.1 1169.8l2.7 1.4"/>
<path d="M2137.7 1208.8l19.1 0.2"/>
<path d="M2007.8 1155.6l64-5.2 14.8-0.8 18.1 0"/>
<path d="M2020.2 1166.3l10.4-0.6M2033 1165.6l36.4-2.1 16.5-0.1"/>
<path d="M1857.8 1067.8l22.3 1.5"/>
<path d="M2076.8 1187.4l16.8 0.1"/>
<path d="M1922.9 1112.8l66.7-6.7 16.4-1.2 14.9-0.1"/>
<path d="M1913.9 1104.3l14.1 1.3 10.4 0"/>
<path d="M2020.4 1165.3l10.4 0.7M2043.2 1166.1l6.5 0"/>
<path d="M2005 1154.3l15.1 1.4 18.4 0"/>
<path d="M2191.7 1224.7l4.1-0.2M2203.8 1224.1l36.8-2.2 29.2-0.6"/>
<path d="M1938.8 1120l8.9-0.6 16.7 0"/>
<path d="M1836.5 1043.4l34.6-3.2 10.8-0.2"/>
<path d="M1970.9 1130.4l53.6-4 21.8-0.1"/>
<path d="M2004.3 1152.2l43.5-3.5 26.8-1.2"/>
<path d="M2096.5 1194l45.7-1.8 26.2-0.4"/>
<path d="M1954.9 1126.5l26.9-2.1 16.4-0.1"/>
<path d="M1956.9 1126.9l16.1-0.9"/>
<path d="M1999.7 1148.9l12.4 0"/>
<path d="M1984.7 1146.3l2 0.3M1991.6 1147.3l25.5 2.5 27.4 0.6"/>
<path d="M1939.7 1123.2l2 0.6M1942.8 1124.1l2.3 0.6M1970.7 1130.1l20.9 2.1 18.2 0"/>
<path d="M1991.9 1148.2l19.1 0"/>
<path d="M1982.6 1137.5l29-1"/>
<path d="M2076.8 1186.2l3.7 0"/>
<path d="M2120.8 1197.6l11.7 0.5"/>
<path d="M1721.4 972.9l8.4 1.3 9.9 0.5 19.7-0.7 19.7-2.1 62.3-8.7 19.7-1.8"/>
<path d="M1965.1 1127.6l62.6-5.9 22-0.1"/>
<path d="M2191.7 1224.7l3.8-0.3M2203.7 1223.9l7.4-0.5M2214.5 1223.2l28.8-2.2 39.9-1.6"/>
<path d="M2004.7 1152.4l15.3 0"/>
<path d="M1942.4 1123.8l41.2-4 25.6-1.4"/>
<path d="M2048.9 1180.2l2.8 0"/>
<path d="M2132.2 1206.2l68.9-1.2"/>
<path d="M2171 1215.1l6.3 0.4M2181.9 1215.9l32.4 0.9 40.2-0.1"/>
<path d="M2191.5 1224.6l3.6-0.2M2203.6 1224l37-2.4 22.8-0.4"/>
<path d="M1938.4 1213.3l26.6 6.3 33.3 4.7 40.3 3.1 38.2 1.3"/>
<path d="M1751.5 999.2l14.6 1.6 15.4-0.2 72.8-6.6 13.8-0.2"/>
<path d="M2015.2 1159.8l23.2 2.3 13.8 0.1"/>
<path d="M1913.8 1107.8l21.7 2"/>
<path d="M2020.6 1168.4l9.9-0.5M2043.4 1167.4l20.2 0"/>
<path d="M2015.4 1160l14-0.1"/>
<path d="M2170.9 1215.3l3.4 0.2M2181.9 1215.9l24.7 0.5 46-0.3"/>
<path d="M1910.6 1095.4l43.9-4.4 22.4-1.3"/>
<path d="M1756.4 1138.5l24.5 13.5 18.9 9 21.5 8.3 18.8 5.6"/>
<path d="M1956.5 1126.9l28.2-0.8"/>
<path d="M1891.8 1088.2l14.3-0.1M1906.9 1088.1l3.5 0"/>
<path d="M2065.6 1227.4l30.5 2.2 17.6 0.4 56.1-2.2 40-2.9"/>
<path d="M1896.1 1089.8l9.9-1M1908.6 1088.5l43.9-3.5"/>
<path d="M2133.4 1227.9l7.1 0"/>
<path d="M1976.8 1134l27.1-1.7 17.4 0"/>
<path d="M1938.9 1120.7l21.8-0.5"/>
<path d="M1970.1 1127.9l10.8-0.2"/>
<path d="M1891.9 1087.5l35.6-3.7 16.4-1"/>
<path d="M1984.7 1140.9l4.3 0"/>
<path d="M1886.4 1083.9l77.5-7.1 24.7-1.7"/>
<path d="M1719.3 1126.7l23.7 17.1 19.6 12.3 19.2 10.7 22.2 10.4 19.6 7 19.2 5.5 19.5 4 17.2 2"/>
<path d="M1954.3 1126.5l22.4-0.5"/>
<path d="M1853.1 1065.8l13.9 3.7 15.4 3.3M1884.2 1073.1l26.9 3.5 18.6 0"/>
<path d="M1827.6 1049.8l40.2-4.8 28.9-2.6"/>
<path d="M1808.7 1033l65.7-8.1 15-1"/>
<path d="M2132.4 1207.4l20.4 0.2"/>
<path d="M1942.5 1123.8l18.8 0.3"/>
<path d="M2161.9 1226.9l29.1-0.8 65.7-3.3"/>
<path d="M1980.1 1219.6l3.5 0.4M1987.9 1220.4l5.4 0.5"/>
<path d="M1991.9 1148.4l18.9-1.5 10.5-0.1"/>
<path d="M2132.6 1207.1l34.6 0.9"/>
<path d="M1833.3 1041.6l45.7-3.6"/>
<path d="M2134 1227.8l9-0.1"/>
<path d="M1853.8 1064l27.4 4.3 11.7 0.8 15.1 0"/>
<path d="M1893.1 1089.6l13.1-1.3M1907 1088.3l18.6-0.9"/>
<path d="M1984.8 1141.7l9.1 0.7 16.6 0"/>
<path d="M1939.6 1122.7l11.1 1.4 15.6 0.1 75.7-5.7 24.4-0.6"/>
<path d="M1791.6 1024.7l24.8 3.7 19.4 0"/>
<path d="M1770.5 1012l51.2 3.7"/>
<path d="M2137.4 1208.7l21.6 0.4"/>
<path d="M2093.1 1189.2l37.8 0.7"/>
<path d="M1732 959.7l7.7 6.5 6.1 3.4 9.4 3.2 9.1 1.2 15.4-0.4 58.1-7.1 10.4-0.1"/>
<path d="M2039.8 1176.1l38.4-2"/>
<path d="M2075.2 1227.4l5.4 0.4M2093 1228.4l18.1 0.7 64.9-1.2"/>
<path d="M2104.3 1228.4l33.2 0.6 58.7-1.1"/>
<path d="M2235.7 1220.8l6.6 0"/>
<path d="M1886.8 1085l5.6 0"/>
<path d="M2133.5 1228.1l39.7-0.5 65.3-4.3"/>
<path d="M1781.8 1020.3l82.4-6.1 20.9 0"/>
<path d="M2053.5 1226.4l5.2 0.4M2070.7 1227.5l9.7 0.3M2101.6 1228.5l13.7 0"/>
<path d="M1976.6 1134l25.3-0.7"/>
<path d="M1812.8 1039.1l39-4.1 15.9-0.1"/>
<path d="M2120.9 1198.3l52.9-0.8"/>
<path d="M1832.9 1045.1l21.8 2.9 16.8 0.2"/>
<path d="M1866.4 1072.5l13.3 0.4M1884.1 1072.9l3.9 0"/>
<path d="M1801.7 1152.6l21.3 14 24.7 13.8M1884 1196l5.8 2.1"/>
<path d="M1904.7 1211.2l12.1 3.8 13.9 3.4 42.2 5.6 60.2 4.2 63.9 1.8"/>
<path d="M2131.7 1205.2l48-1.9 32.2-0.4"/>
<path d="M1979.8 1219.3l3.9 0.6M1986.1 1220.3l14.5 1.9M2001.5 1222.3l4.4 0.5M2010.7 1223.4l2.9 0.3M2033.4 1225.4l4.3 0.3M2046.9 1226.4l11.6 0.7M2063.8 1227.4l16.9 0.8M2093.8 1228.5l28 0M2133.3 1228.1l8.3-0.2"/>
<path d="M2020.5 1168.9l9.9 3.8M2039.3 1176l5.6 1.9M2048.3 1179l12.8 3.8M2076.5 1186.9l3.8 0.9M2081.6 1188.1l3 0.6M2093.6 1190.6l27.3 4.2 29.9 2.1"/>
<path d="M2235.6 1219.6l21.5-0.4"/>
<path d="M1982.8 1136.3l38.8-3.5 23.1-1.1"/>
<path d="M2020.6 1172.5l9.8-0.8M2039.5 1171l31.1-2 9.8-0.1"/>
<path d="M1876.6 1082.7l10.1-0.9 9.7 0"/>
<path d="M2048.5 1179.2l22.6 2.6 23.7 1.3"/>
<path d="M1942.9 1124.4l21.2-1.5 62-5.8 25.4-1.3"/>
<path d="M2120.3 1197.9l52.2 1.3"/>
<path d="M1833.5 1049.4l15.2 1.9 17 0.1 20-1.3 60.7-5.4 8.9-0.3"/>
<path d="M1830.9 1054.1l8.6 1.5M1840.7 1055.8l11.6 1.8M1852.9 1057.7l17.2 1.7 18.8 0"/>
<path d="M1853.5 1061.1l39.2-4.3 14.4-0.8"/>
<path d="M2155.4 1211.8l46.5 0.7"/>
<path d="M1772.6 1014.3l84.3-8.4 22.6-0.1"/>
<path d="M1691.6 941.7l111.6 90.9M1827.2 1046.3l13.5 2.2 14.5 0.1 73.5-7.3 18.5-0.2"/>
<path d="M2015.6 1158.4l16.1 0"/>
<path d="M1852.7 1058l27.4-2.4 17.4 0"/>
<path d="M2020.6 1165.7l9.8 2.7M2039.3 1170.8l25.5 5.4 24.1 3.6 24.5 2 19.6 0.5"/>
<path d="M2161.6 1227.2l30.4-0.8"/>
<path d="M1836.3 1042.1l29.5-3.6 17.1 0"/>
<path d="M1920.6 1110.3l21.4-1.5 10.6 0"/>
<path d="M1915.5 1108.6l38.2-2.8 10.1-0.2"/>
<path d="M1956.5 1126.9l46.6-3.3 21.3-0.2"/>
<path d="M1984.7 1146.2l12.7-0.3"/>
<path d="M1866.6 1072.1l36.5-3.5 16.1 0"/>
<path d="M1913.7 1105.7l21.7 2.5 23.8 1"/>
<path d="M2137.2 1208.9l16.2-0.1"/>
<path d="M2161.5 1226.9l5.9 0"/>
<path d="M2021.8 1163.6l30.2-1.3 19.8 0"/>
<path d="M1972.4 1218.3l3.5 0.5M1979.8 1219.4l3.9 0.5M1987.1 1220.3l6.4 0.8M1995.5 1221.3l5.3 0.6"/>
<path d="M1853.3 1060.8l42.5-1.3"/>
<path d="M1949.1 1216.6l17.7 3.2 18.2 2.5 25.5 2.4 26.6 1.7M2039.1 1226.5l19.1 0.8M2062.3 1227.5l17.9 0.5"/>
<path d="M1857.7 1069.4l54.9-6.2 17.1-0.4"/>
<path d="M2224.8 1221.7l6.6-0.2M2235.7 1221.3l30.9-0.8"/>
<path d="M1852.5 1059.2l6.2-0.3"/>
<path d="M2020.1 1166l51.5-3.5 18.6-0.2"/>
<path d="M2076.4 1183.9l15.2-0.3"/>
<path d="M2015.2 1160.2l23.5-0.1"/>
<path d="M2076.4 1186.9l34.2-1.4 19.4-0.1"/>
<path d="M1939 1116.6l47.1-3.9 17.9-0.6"/>
<path d="M2214.1 1223.1l22.8-0.6"/>
<path d="M1794.1 1028.6l48.6-4.1 23.1-0.2"/>
<path d="M2021.7 1163.7l8.8 0"/>
<path d="M1982.4 1138.9l24-0.4"/>
<path d="M1984.5 1144l14 0"/>
<path d="M1908.2 1091.5l57.5-6.2 9.4-0.8 12.7-0.1"/>
<path d="M1891.3 1086.1l35.1-3.6 8.1 0"/>
<path d="M1809.3 1033.8l67.6-8.4 14.8-1.4 8.9 0"/>
<path d="M2193.4 1217.5l6.1-0.1"/>
<path d="M2015.9 1161.1l39-2.6 20.5-0.7"/>
<path d="M1913.4 1107.3l15.7 3.7 13.6 2.3 12.7 1.3 9.8 0"/>
<path d="M1970.7 1130.9l32.5-2.3 9.9-0.1"/>
<path d="M1914.5 1207.3l1.9 0.6M1917.4 1208.2l14.6 4.1 21.8 4.4 25.4 3.5 21.1 1.8"/>
<path d="M1982.3 1139.2l10.5 0"/>
<path d="M2224.8 1221.6l1.8-0.1"/>
<path d="M1913.7 1108l11.4 0"/>
<path d="M1853.8 1062.9l20.3-1.6 19.9 0"/>
<path d="M2004.4 1153.4l14.1 0"/>
<path d="M1743.6 1129.2l32.3 20.5 29.5 16.1 30 13.7 32.2 11.7"/>
<path d="M1853.5 1061.3l31.6-3.1 7.4 0"/>
<path d="M1922.8 1112.7l46.6-4 17.4-0.7"/>
<path d="M1751.6 998.3l37.3 14.2 29.3 8.5 32.3 5.9 19.1 1.9 11.2 0"/>
<path d="M1972.4 1132.7l19.1-0.9"/>
<path d="M1872.9 1075.8l11.4-1.4M1885 1074.4l46.9-5 24.3-1.2"/>
<path d="M1798.1 1027.3l8.7 5.6M1809.9 1034.8l10.1 6.1M1827.9 1045.3l18.6 9.5 13.3 5.9 26.7 9.6 13.5 3.6 16.7 3.3 16.3 2 9 0"/>
<path d="M2178.8 1225.9l10.1-0.4M2191.7 1225.4l34.1-1.7"/>
<path d="M2120.6 1197l28.1-0.3"/>
<path d="M1924.8 1099.4l4.8 0"/>
<path d="M2004.5 1152.2l20.9-1.1"/>
<path d="M2020.9 1169l9.4-0.4M2043.8 1168l26.9-0.2"/>
<path d="M1857.2 1067.2l10-0.1"/>
<path d="M1922.5 1112.1l13 0"/>
<path d="M2021.3 1164.4l39-1.9"/>
<path d="M2158.5 1213l38.7 0.6"/>
<path d="M1652.3 908.9l36.1 33.5 47.3 46.4M1796.6 1031.3l17.5-0.4 52.3-6.3 16.2-0.8"/>
<path d="M2015.4 1158.2l31.7 2.6 25.1 0.7"/>
<path d="M2120.5 1196.9l5.1 0"/>
<path d="M1631.9 1033.6l23.2 15.5 23.6 14.5M1696.4 1073.7l15.6 8.6"/>
<path d="M1989.8 1220.4l3.9 0.5"/>
<path d="M2020.4 1171.3l8.1 0.3"/>
<path d="M1970.5 1131.3l20.4 0.2"/>
<path d="M2191.2 1224.8l1.7 0"/>
<path d="M1836.7 1042.2l42.4-5 19.8-1.4"/>
<path d="M1989.8 1220.3l4 0.5M1997.9 1221.3l3 0.4M2053 1226.4l5.5 0.4M2068.1 1227.4l12.6 0.6M2093.9 1228.4l26.2 0.1M2133.3 1228l12.6-0.6M2161.1 1227.1l7 0"/>
<path d="M2093.2 1191.9l17.3 2.8M2111.4 1194.8l6.4 0.9M2120.5 1196l27.7 2.7 30.9 1.1"/>
<path d="M2020.9 1165.4l25.2-0.4"/>
<path d="M2155.3 1211.8l19.1 0.2"/>
<path d="M1964.9 1217.4l3.4 0.4"/>
<path d="M1970.3 1132.1l23-0.6"/>
<path d="M2155.8 1212.3l38.3 2.5 44.5-0.1"/>
<path d="M1908.9 1091.4l13.4-1 14.6-0.1"/>
<path d="M2131.7 1204.3l16.2 0.4"/>
<path d="M2203.2 1223.6l10.8 0"/>
<path d="M2004.9 1154.3l8.1 0"/>
<path d="M2203.4 1223.5l12.4 0"/>
<path d="M1830.9 1053.8l48-5.4 18.3 0"/>
<path d="M1845.4 1057.3l21.6-1.7"/>
<path d="M1910.5 1095.4l55.8-4.7 21.5-0.1"/>
<path d="M1763.3 1005.8l79.3-8.1 14.3-1.2 9.8 0"/>
<path d="M2020.4 1169.1l10.1 2.1M2039.2 1172.7l18.8 2.1 18.8 0.4"/>
<path d="M1945.4 1114l27.4-1.9 11.2-0.2"/>
<path d="M2181.5 1216.5l52-0.9"/>
<path d="M2137.2 1208.9l16 0"/>
<path d="M1984.3 1142l56.9-4"/>
<path d="M2004.1 1154.4l24.9-1.2"/>
<path d="M1864.9 1190.4l4.9 2.3M1870.6 1193.1l21.3 9 24.3 8.4 14.6 4 24.3 4.7 24.7 3.6 34.9 3.2 46 2.5 30 0.6"/>
<path d="M1924.6 1098.9l9.2 0"/>
<path d="M1913.3 1106.8l23.7 7M1938.7 1114.2l13.2 3 14.8 2.5 15.2 1.7 9.3 0"/>
<path d="M1982.8 1136.5l57.4-3.6 19.9 0"/>
<path d="M2133.9 1227.5l1.6 0M2203.9 1224.2l3.2 0"/>
<path d="M2077.9 1227.5l2.4 0.1M2099.9 1228.5l19.2 0M2133.5 1228.1l15.2-0.6M2161.6 1226.9l8-0.4M2178.4 1225.9l6-0.5M2191.6 1224.8l5.2-0.4M2203.6 1223.8l4.4-0.4M2214.4 1222.9l4.8-0.5M2224.4 1222.3l15.6 0"/>
<path d="M1741.5 1115l3.7 2.5"/>
<path d="M2137.7 1209l21.4 0.1"/>
<path d="M2096.5 1194.1l4.9 0.5M2120.7 1196.3l53.3 2.7"/>
<path d="M2142.7 1228l12.1-0.5M2161.7 1227.1l12.7-0.7M2178.7 1226.1l9-0.7M2191.7 1225.1l8.6-0.7M2203.8 1224.1l8.4-0.7M2214.8 1223.2l8.9-0.8M2224.8 1222.3l10.1-0.9M2235.8 1221.4l41.5-2.3 12.7 0"/>
<path d="M1872.8 1079.3l29.5 6.3 32.2 5.3 28.7 3.2 26.4 1.6"/>
<path d="M1836.6 1044.1l39.1-3.9 21.5 0"/>
<path d="M1919.6 1099.3l23.7 3.3 20.2 0.4"/>
<path d="M2132 1203l16.3 0.4"/>
<path d="M2102.4 1228.5l51.3-0.3 55.9-2.9 9.4 0"/>
<path d="M2020.7 1164.7l26.8-0.5"/>
<path d="M2161.4 1226.6l3.3-0.1"/>
<path d="M2155.5 1211.8l33.2-0.5"/>
<path d="M1796.1 1030.5l59.6-5 21.8-0.2"/>
<path d="M1938.5 1117.8l23.8 0.4"/>
<path d="M2030.7 1225.4l7.2 0.8M2040.5 1226.4l28.3 2.3 24.1 1 41.7 0.3"/>
<path d="M1853.7 1063.1l20.3-1.3"/>
<path d="M1913.5 1097.6l28.2-1.7 11.7-0.1"/>
<path d="M1807.9 1155.6l12.6 8.2M1823.8 1165.8l2.8 1.7M1829 1168.9l11.7 6.7M1843.1 1176.9l4.7 2.5M1886.7 1197.1l2.8 1.1"/>
<path d="M2034.5 1225.4l3.1 0.3M2043.5 1226.4l29.6 2.6 34.5 1.5 65.1-2.2 15.2 0"/>
<path d="M2168.2 1213.9l34.5 0.4"/>
<path d="M1938.7 1119.8l55.3-5 25.6-0.7"/>
<path d="M2020.5 1172.3l10.1-0.6M2039.4 1171.3l22.3-0.6"/>
<path d="M2180.7 1215.5l65.9-1.1"/>
<path d="M1827.7 1047.7l70.7-6.2 20.3-0.2"/>
<path d="M1890.5 1075.3l97.2-8.6 20.5-0.2"/>
<path d="M2039.7 1176.6l8.7-0.1"/>
<path d="M1809.9 1036.2l21.3 5.4M1836.8 1042.7l19.2 2.4 14.1 0"/>
<path d="M2168.5 1214.4l16.5 0"/>
<path d="M2229.3 1219.6l13.3-1.1 13.6-0.1"/>
<path d="M1852.4 1058.4l64.1-7.2 22.8-0.4"/>
<path d="M2096.4 1194.2l40.7-0.9"/>
<path d="M2062.9 1183.3l9.5 0"/>
<path d="M1857.9 1069.5l18.8-0.4"/>
<path d="M1970.7 1128.1l37.4-2.8 17.5 0"/>
<path d="M2191.5 1225.2l5.8 0"/>
<path d="M1909 1093.1l10.3-0.3"/>
<path d="M1809.5 1038.5l98.6-8.5 19.5 0"/>
<path d="M1910.5 1095.4l30.5-2.5 8.5-0.1"/>
<path d="M1916.4 1109l6 0"/>
<path d="M1977 1134.6l1 0"/>
<path d="M1982.8 1139.3l24.5-1.8 21.7 0"/>
<path d="M2240 1219.5l11.5-0.1"/>
<path d="M1939.9 1122.6l11.7-0.5"/>
<path d="M1770.3 1009.2l20.3 5 11.8 1.5 8.6 0"/>
<path d="M2053.1 1226.4l5.7 0.5M2064 1227.4l45.3 2.4 37.8-1.5 37.5-2.5 16.1 0"/>
<path d="M1809.8 1036.1l54.1-6.7 18.1-0.3"/>
<path d="M2137.7 1208.7l20.5 0.2"/>
<path d="M2021.3 1164l7.1 0"/>
<path d="M1857.7 1067.5l32.9-3.2 16.7-0.1"/>
<path d="M1913.3 1099.9l5.8-0.5M1924.5 1099.2l17 0"/>
<path d="M2133.5 1227.8l13.8-0.3M2161.6 1226.9l8.6-0.4M2178.4 1225.9l5.6-0.5M2191.5 1224.7l3.8-0.3M2203.5 1223.6l2.3-0.2M2239.5 1220.4l9.3 0"/>
<path d="M1984.8 1144.8l28.3-1.9 11.8 0"/>
<path d="M1913.7 1099.6l6.3-0.1"/>
<path d="M2191.3 1224.7l5.5-0.2M2203.2 1224.2l39.4-2.4 40.8-1.4"/>
<path d="M1876.4 1083.4l37.3-3.6 18.2-1.1"/>
<path d="M2021.1 1170.3l8.9 1.8M2040 1173.9l24.7 3.1 21.4 1.2"/>
<path d="M1604.5 1014.7l20.6 19.9 25.5 23.1 22.5 19.2 18.7 14.8 9.8 5.7 9.3 3.4 9.8 2.1 11.8 0.9"/>
<path d="M2012 1157.1l6.2-0.1"/>
<path d="M1791.8 1026.4l24.5 7.9 26.7 6.5 32.5 5.1 17.6 1.8 7.4 0"/>
<path d="M2161.3 1226.6l5 0"/>
<path d="M1970.8 1128l14.3 0"/>
<path d="M1731.5 985.5l29.3-1.6 82.4-8.8 17.1 0"/>
<path d="M1790.9 1023.8l67-5.1 21.7-0.2"/>
<path d="M2076.3 1185.1l43.9-2.2 19.3-0.2"/>
<path d="M2133.6 1207.6l23.6 0.4"/>
<path d="M1707.3 1094.4l32.8 26.1 8.3 4.6 7.9 3"/>
<path d="M1947.8 1125.1l11.2 0"/>
<path d="M1982.9 1136.6l32.4-2.9 17.1-0.8"/>
<path d="M1939.8 1122.8l11.9 1.2 9.8 0"/>
<path d="M2007.9 1155.7l26.1-0.7"/>
<path d="M2020.8 1171.7l9.4-0.6M2039.7 1170.4l61.6-3"/>
<path d="M1872.8 1073.6l6.3-0.7M1882.7 1072.6l34.1-3 18.7 0"/>
<path d="M1984.6 1144.3l12.2 4.7M2004.4 1151.7l26.8 8.4 26.9 6 24 3.6 13.4 1.2 15.1 0.6"/>
<path d="M2133.8 1208.4l1.8 0.2M2137.7 1208.7l19.9 0.9 21 0.1"/>
<path d="M2131.8 1200.4l30.4 1.1"/>
<path d="M2039.3 1175.5l20.7 0.8"/>
<path d="M2155.2 1211.6l24 0.2"/>
<path d="M1913.8 1108.2l35.9-2.9 14.5-0.1"/>
<path d="M1956.9 1127.2l9 0"/>
<path d="M2093.6 1188.7l16.7 0"/>
<path d="M1831.5 1048.6l11.9 8.9M1853.4 1065l7.1 5.4M1872.4 1079.2l7.1 5.2M2004.2 1153.7l17.6 5.3 17.6 3.9 17.6 2.6 17.6 1.1"/>
<path d="M1984.6 1145.2l5.3 1.5M1991.4 1147.1l6.4 1.7M2004.6 1150.4l18.9 3.8 24.2 3.2 20.8 1.5 19.3 0"/>
<path d="M1895.1 1090l11.4-1.2M1908.5 1088.6l20.3-1.7 15.9-0.1"/>
<path d="M2050.9 1181.6l39.7-2.3 18.5 0"/>
<path d="M2070.5 1227.4l10.1 0.6M2088.4 1228.5l23.2 0.8 48.4-1.1"/>
<path d="M2093.7 1190.5l13.6 0.2"/>
<path d="M2102.5 1228.4l22.4 0.1M2133.6 1228.2l17.8-0.7M2161.7 1226.9l8.3-0.5M2178.4 1225.8l4.5-0.4M2191.6 1224.6l2.3-0.2M2214.4 1223l8.3 0"/>
<path d="M2224.3 1222.1l47-0.9"/>
<path d="M2120.4 1197l6.1 0"/>
<path d="M2133.8 1227.7l8.4-0.2M2162 1226.6l3.3-0.1M2178.9 1225.6l2-0.2M2214.7 1223.4l3.6 0"/>
<path d="M2020.7 1165.2l9.7 0.8M2043.7 1166.7l9.9 0"/>
<path d="M2020.6 1165.5l9.8 1.6M2043.6 1168.9l28.5 2.8 26.9 1.1"/>
<path d="M1642.3 1035.1l9.3 6.4M1666.6 1051.8l11.9 8.1M1699.3 1073.9l11.4 7.7"/>
<path d="M2020.4 1170.6l10.1-0.4M2039.5 1169.6l2.3-0.2M2043.3 1169.3l62.1-4.3 32.6-0.8"/>
<path d="M1805 1155.4l15.4 10.3 17.9 10.8 17.4 9.2 13.9 6.6M1873.6 1194l21.3 8.4 21.4 6.6 17.9 4.1 20.4 2.8"/>
<path d="M2214.4 1223l8.8-0.6M2224.5 1222.4l19.2-1.3 41.6-1.3"/>
<path d="M2007.7 1156.5l32.2-1.1"/>
<path d="M2018.7 1224.4l4.7 0.5M2027.4 1225.4l44.5 3.7 31.9 1 17.8-0.1"/>
<path d="M1853.1 1066.3l36.8-3.9 19.4 0"/>
<path d="M1941.5 1113.6l83.7-8.2 13.6-0.9 17.1 0"/>
<path d="M1945.2 1113.8l23.5-1.6 13.4-0.1"/>
<path d="M1853.4 1060.4l26.7-0.5"/>
<path d="M2224.1 1219.5l3.1 0"/>
<path d="M1945.4 1114.4l11.1 0"/>
<path d="M2181.5 1216.1l7 0"/>
<path d="M1764.2 1007.2l14.5 0.1 16-1 74.1-8 18.4-1.4"/>
<path d="M2155.7 1212.2l11.4 1.4M2168.6 1213.8l37.5 2.6 41.5 0.1"/>
<path d="M1743.7 993.7l21.7-1.3 73.9-6.7 21.1-0.1"/>
<path d="M1984.9 1144.3l12.4 0"/>
<path d="M2097.1 1228.4l11.9 0.7 30.3-0.5 33.9-1.5 33.5-2.8 8.7 0"/>
<path d="M1755.9 1127.6l10.9 9.2 16.3 12.4 13.2 9 16.8 10.2 13.2 7.1 15.9 7.3 13.6 5.4 20.9 6.8M1881.2 1196.2l8.2 2"/>
<path d="M1942.8 1124.2l2.7 0.5M1947.8 1125.1l3 0.6M1954.5 1126.3l9.7 1.3M1970.6 1128.1l13.8 0"/>
<path d="M2076.3 1186.1l19.9 1.7 12.4 0"/>
<path d="M1834.2 1173.5l12.9 6.1"/>
<path d="M2093.7 1192.5l7.2 0"/>
<path d="M1841.3 1056.6l26.9-2.4 15.1-0.1"/>
<path d="M1812.4 1039.3l40.2-4.5 23 0"/>
<path d="M1872.5 1081.1l3.9 0"/>
<path d="M2069.4 1227.4l11.4 0.7M2087.9 1228.4l20.9 0.8 23.5-0.7M2133.6 1228.4l20.1-1M2161.7 1227l9.2-0.6M2178.4 1225.9l5.5-0.5M2191.4 1224.7l11.3-0.1"/>
<path d="M1979.3 1219.3l4.1 0.7M1985.4 1220.3l20.1 2.7M2008.4 1223.4l5.3 0.6M2017.8 1224.4l5.8 0.6M2028.1 1225.4l9.4 0.8M2039.9 1226.4l32 2.2 34.5 1.2 52.4-2.3"/>
<path d="M2203.7 1223.7l1.6 0"/>
<path d="M2224.4 1221.9l25.5-0.3"/>
<path d="M2040.8 1177.6l29.2-1.7 16.4-0.1"/>
<path d="M2224.2 1221.8l44.9-0.9"/>
<path d="M1792.6 1150.9l29 16.3 26 12.9"/>
<path d="M2004.9 1153l9.6 0.6"/>
<path d="M1976.7 1134l8.7 0.2"/>
<path d="M1846 1057.4l59.6-6 20.7-0.1"/>
<path d="M2224.6 1219l18.7-0.5"/>
<path d="M1884.5 1073.6l77.6-6.2 17-0.1"/>
<path d="M1852.5 1057.8l36.3-3.1 13.3-0.5"/>
<path d="M2076.6 1185.1l9.6-0.2"/>
<path d="M1827.7 1053.6l69.6-8.7 21.5-2.1 8.3 0"/>
<path d="M1984.3 1139.8l13.2-0.2"/>
<path d="M2133.4 1208.3l30.1 0.6"/>
<path d="M2214.3 1222.7l3.7-0.3M2224.2 1221.9l5.2-0.5M2235 1221.4l10.9 0"/>
<path d="M1823.2 1041.2l41.5-4.3 12.7-0.1"/>
<path d="M1655.5 1054.3l38.7 33.2 31.2 23.7 24.7 16.6 9 4 9.9 2.7"/>
<path d="M1947.8 1125.1l10.5-0.7 18.1 0"/>
<path d="M1964.6 1217.4l3.8 0.6M1971.1 1218.4l4.4 0.6M1978.9 1219.4l4.4 0.6M1987.3 1220.4l6.1 0.6M1997.8 1221.4l2.4 0.2"/>
<path d="M1761 1004.1l64-8.9 23.3-2.2"/>
<path d="M2020.8 1171.6l4.3 1M2039.7 1175.7l30.7 4.5 13.8 1.1 16.7 0.3"/>
<path d="M1836.9 1042.8l18.4-1.6 12.1-0.2"/>
<path d="M2004.8 1150.1l4.6 0.3"/>
<path d="M1999.8 1149.2l10.4 0"/>
<path d="M1853.6 1060.4l62.7-5.8 18.2-0.4"/>
<path d="M1970.5 1127.6l39.9-3.3 23 0"/>
<path d="M1913.5 1107.1l22.5 4.8 20.3 3.2 20.2 2.1 20.3 0.6"/>
<path d="M2131.9 1202.8l16.4 0"/>
<path d="M1865.8 1071.3l46.4-5.2 21.8-1.1"/>
<path d="M1912.9 1096.2l9.9 2.4M1925 1099.1l20.2 4.2 17.2 2.7 17.3 2 12.1 0.4"/>
<path d="M2076.7 1183.7l4.4 0"/>
<path d="M1936.9 1098.6l32.2 12.5 16.9 5.4 16.6 4.4 13.9 2.9 20.1 3 16.6 1.3 10.4 0"/>
<path d="M2096.7 1194.3l30.4-0.6"/>
<path d="M2131.5 1203.2l14.5 0"/>
<path d="M2161.3 1226.6l4.3-0.1M2178.4 1225.7l3.9-0.3M2191.6 1224.7l2.7-0.3M2224.6 1221.6l2.3-0.2M2239.3 1220.2l20.6-1.1"/>
<path d="M1982.8 1138.3l16.5 2.1 8.8 0"/>
<path d="M2050.3 1182.1l9.1 0.4M2062.4 1182.5l13 0"/>
<path d="M1938.8 1121l24.6 6.6M1970.9 1129.3l24.4 3.9 13.3 1.4 11.5 0.4"/>
<path d="M1922.8 1112.1l5.2 1.6M1938.8 1116.6l20.7 3.4 15 0.4"/>
<path d="M2021.7 1162.3l13.4 0"/>
<path d="M2011.7 1156.6l5.6 0"/>
<path d="M1727 1109.8l26.6 18.8 18.8 11.7 24.7 13 23.3 9.9"/>
<path d="M1857.6 1068.9l7.2 1.8M1865.8 1070.9l13.4 2.6M1884.8 1074.3l18.4 1.5"/>
<path d="M2131.6 1199.7l46.8 0.5"/>
<path d="M1889.2 1202.3l21.2 7.1 21.6 5.2 32.9 4.8 40.9 3.4"/>
<path d="M1787.4 1022.8l62.9-7.2 18.5-0.5"/>
<path d="M1872.5 1080.8l21.3 2.9 24.6 2.4 24.9 0.4"/>
<path d="M1876 1082.6l20.5-1.8 11.2 0"/>
<path d="M1742.6 1143.8l29.2 20.9 25.9 15.4 25.8 12.7 28.8 11.3 26.3 7.6 25.8 4.9 19 1.8 35.6 0.2"/>
<path d="M1830.8 1054l49.9-4.8 15.4-0.4"/>
<path d="M1796.4 1030.2l5.1 1.7M1809.4 1034.2l20.1 5.3 24.7 5.3 24.7 3.9 22.3 2.1"/>
<path d="M2219.4 1218.2l17.4-0.5"/>
<path d="M1690.1 947l2.5 2.5M1693.5 950.5l17.5 18.2M1812.3 1039.5l23.3-1.2 73.7-9.6 22.3-2.2 6.3-0.1"/>
<path d="M2004.7 1153.6l9.7 4.4M2015.5 1158.5l17.5 7.4M2041.2 1169.1l38.3 12.6 32.7 7.7 17.8 3 21.6 2.8 36.4 2.2"/>
<path d="M1827.4 1046.2l42.8-3.9 16-0.2"/>
<path d="M2039.2 1175.8l13.2 0.5"/>
<path d="M2235.3 1221.2l4 0"/>
<path d="M1891.8 1088.2l20.5-0.9"/>
<path d="M2048.2 1180.1l18.1-0.1"/>
<path d="M1811.7 1000.1l27.1 21.5 6.4 3 9.2 2.4 9.3 0.8 9.4-0.2 53.3-5.3 16.1 0"/>
<path d="M1761.5 1136.6l24.4 15.9 28.3 15.8 28.4 13 24.9 9.4"/>
<path d="M1664.3 1051.4l22.6 21.1 20.6 18.1 21.6 17.6 16.5 12.4M1753.8 1126.5l22.6 14.8 21.1 12.2 11.8 6 10.3 3"/>
<path d="M1939.6 1122.8l21-1.9 13.1 0"/>
<path d="M1913.3 1101.3l14.7 0.7"/>
<path d="M1951.4 1215.3l3.3 0.6M1957.2 1216.3l3.3 0.6M1963.4 1217.3l5.3 0.9M1970 1218.3l5.7 0.8M1977.8 1219.4l5.7 0.6M1987.2 1220.4l6.2 0.6M1997.5 1221.4l2.9 0.2"/>
<path d="M1781.3 1019.9l65.1-6 17.6-0.5"/>
<path d="M2011.6 1157l18.3-1 14.9-0.1"/>
<path d="M2093.6 1193.2l15.1 0.9 19.9 0"/>
<path d="M2050.5 1181.7l8.1 0"/>
<path d="M2181.6 1216.2l30.9 0.1"/>
<path d="M2191.3 1225.2l83.4-3.8"/>
<path d="M2193.9 1217.3l12.9 0.2M2210.8 1217.5l31.6-0.6"/>
<path d="M1872.6 1076.1l32.8-2.2"/>
<path d="M1947.6 1124.7l24.8-1.6"/>
<path d="M1857.3 1068.5l6.4 2.4M1866.5 1071.8l6 2M1873.4 1074.1l25.4 7.4 22.1 4.8 25.8 3.5 18.9 0.7"/>
<path d="M1966 1217.3l2.2 0.5M1970.9 1218.4l4.3 0.8M1976.2 1219.4l37 4.9M2014.8 1224.4l8.6 0.8M2025.5 1225.4l11.7 1M2038.7 1226.5l30.6 1.8 31.3 0.5"/>
<path d="M2093.6 1191.1l24.9 1.7 24.2 0.8"/>
<path d="M1938.1 1122.4l21.7-1.5 18.2-0.1"/>
<path d="M1809.5 1036.2l22.6-1.7 62.1-8 16.5-1.8 6.6-0.1"/>
<path d="M1984.2 1145.3l10.8 0"/>
<path d="M2093.2 1189.4l40.1-0.8"/>
<path d="M1787.9 1022.5l57.2-4 15.6 0"/>
<path d="M2100.4 1228.5l20.4 0.3 36.4-0.6"/>
<path d="M2026.6 1172.5l3.7 0"/>
<path d="M2133.6 1208.1l19.3 1.5M2153.7 1209.6l38.2 1.8 40.1 0.2"/>
<path d="M1751.3 998.9l10.6 2 9.7 1.1 24.7 0.2 22.5-1.5 78.1-7.4 13.3-0.2"/>
<path d="M1915.6 1098.2l2.7 0.5M1922.8 1099.4l25 2.8"/>
<path d="M2020.8 1165.9l32.8-1.1"/>
<path d="M2131.5 1204.8l9.4 0.1"/>
<path d="M1915.5 1098.4l17.5 0"/>
<path d="M1982.7 1139.2l15.4-1 16.1-0.1"/>
<path d="M2104.4 1228.4l30.2 0.8 34.2-0.6 72.4-4.7 31.4-1"/>
<path d="M2117 1228.8l14.8-0.3M2133.8 1228.4l24.3-0.9M2161.8 1227.3l15.3-0.8M2178.8 1226.3l11.1-0.8M2191.9 1225.3l10.1-0.9M2203.9 1224.3l9.4-0.9M2214.8 1223.3l9.6-0.9M2224.9 1222.4l10.3-1M2235.9 1221.4l6.9-0.3"/>
<path d="M1938.6 1121.2l12.7 4.6M1970.7 1131.8l17.3 4.3 20.1 3.4 20.1 1.8 14.8 0"/>
<path d="M1843.5 1178.6l4.3 2.5M1848.8 1181.7l20.5 10.8 16.8 7.5 19.2 7.2 16.7 5.1 9.6 2.2 32.5 5 49.8 4.6M2019.2 1224.4l4.3 0.3M2055.6 1226.4l3.3 0.2"/>
<path d="M2214.3 1222.6l5.6 0"/>
<path d="M2048.7 1180.9l4.4 0"/>
<path d="M1866.5 1072.4l33.8-3.3 15.8-0.3"/>
<path d="M2133.9 1227.6l12.6-0.1M2161.9 1227.1l15.3-0.7M2178.7 1226.3l27.9-2 13.6 0"/>
<path d="M1727.5 959.4l13.8 12.8 11.2 7.5 12 4.7 14.9 2.7 11.6 0.4 14.9-0.7 85.3-10.5 21.8-0.3"/>
<path d="M1803.6 1032.2l57-4.1 20.2 0"/>
<path d="M2137.5 1208.6l5.4 0"/>
<path d="M1982.3 1138.6l17.9 0"/>
<path d="M1827.3 1051.9l28-2.7 11.3-0.1"/>
<path d="M1938.3 1115.1l85-6 32.3-1.1"/>
<path d="M1938.2 1120.2l51.5-6.3 23.9-2.2 5.8 0"/>
<path d="M1678.6 1069.8l30.5 20.9 32.5 21.2M1742.6 1112.6l3.1 1.9"/>
<path d="M1984.7 1141.1l23.8-0.6"/>
<path d="M1821.3 1174.7l22.3 9.1 25.6 8"/>
<path d="M2030.8 1225.4l6.8 0.7M2039.6 1226.3l32.5 2.8 37.9 1.4 63.2-3 67.1-6.1 13.1 0"/>
<path d="M2191.4 1224.6l3.5-0.1M2203.5 1224.1l38.2-1.9 30.7-0.7"/>
<path d="M1763.5 1006l21.2-1 59.2-6 19.9 0"/>
<path d="M1801.7 1152.7l25.1 14.9"/>
<path d="M1833.4 1055.5l52.3-4.9"/>
<path d="M2132.5 1206.9l3.5 0"/>
<path d="M2154.5 1211.2l23.3 0.2"/>
<path d="M2020.6 1168l9.9-0.5M2043.5 1166.9l25.3-0.9"/>
<path d="M1827.5 1051.5l17.9 2.4 16.1 0.2"/>
<path d="M2137.2 1208.6l16.9 0"/>
<path d="M1884.2 1196.7l8.6 3.4M1914 1207.2l18.7 4.8M1945.7 1214.3l2.9 0.5M1951.5 1215.3l3.4 0.5M1957.8 1216.3l2.8 0.4M1965 1217.3l3.8 0.6M1972.7 1218.3l2.9 0.4"/>
<path d="M1805.4 1154.7l0.8 0.3"/>
<path d="M2096.8 1193.9l16.3-0.1"/>
<path d="M2232.9 1219.6l44.7-2.3 12.4 0"/>
<path d="M1777.9 1017.6l2.5 1.2M1780.9 1019l26.3 10.4 23.4 7.1 23.1 5.2 27.2 3.5"/>
<path d="M1942.8 1124.2l2.6 0"/>
<path d="M1791.8 1026.3l16.6 4.5 26.9 5.8 20.8 3.1 16.3 1.6"/>
<path d="M1922.4 1112.2l31.4-0.7"/>
<path d="M2004.4 1153.4l5.9 0"/>
<path d="M1938.5 1121.6l4.1 2.4M2015.6 1159.2l18.6 6.6M2043.5 1168.6l25 6.3 24.2 4.3 27.1 2.7 21.8 0.3"/>
<path d="M1786.7 1021.8l25.3-1.7 73.3-8.1 21.5 0"/>
<path d="M1972.4 1132.7l24.7 2.7 17.9 0.2"/>
<path d="M1789.5 1159.7l28.4 11.5 29.1 9.1"/>
<path d="M1775.4 1146.3l10.4 3.4 13.3 1.8"/>
<path d="M1913.6 1102.9l31-1.6"/>
<path d="M1777.3 994.7l11.3 1.2 15.3 0.1 73.1-6.6 22.7-0.1"/>
<path d="M2224.8 1218.9l29.7-1.5 19.4 0"/>
<path d="M1908.6 1092.8l18.9-1.5 18.6 0"/>
<path d="M1832.8 1055.6l60.4-6.1 17.6-0.1"/>
<path d="M1914.4 1097.6l10-0.7 17.6 0"/>
<path d="M1857.5 1067.4l53.8-4.8 16.8-0.2"/>
<path d="M1853.2 1063.6l15.9-0.4"/>
<path d="M1976.8 1133.8l31.3-1.9 11.3-0.1"/>
<path d="M1852.9 1058.1l16.4-0.3"/>
<path d="M2161.8 1226.6l3.3-0.1"/>
<path d="M1939.6 1123l41.7-2.9"/>
<path d="M2178.3 1226l11.6-0.6M2191.6 1225.4l25.3-0.4"/>
<path d="M2015.6 1160l17.1-0.1"/>
<path d="M1819.5 1040.6l56.7-4.8 20.2-1"/>
<path d="M2048 1179.9l7.8 0"/>
<path d="M1922.4 1113.5l33.2-2.5"/>
<path d="M1872.8 1082.2l23.2-2 12.4 0"/>
<path d="M1786.9 1022.4l38.4-4.4 22-1.6"/>
<path d="M2239.2 1220.3l8.8 0"/>
<path d="M2132.7 1206.4l8.5 0"/>
<path d="M1916.8 1109.3l2.4 0.3M1920.8 1109.7l9.8 0.4"/>
<path d="M2049.4 1226.4l8.7 0.6M2066 1227.5l14.2 0.5M2098.5 1228.5l22.9 0M2133.8 1228.3l3.8 0"/>
<path d="M1900.2 1090.5l5.8-0.4M1908.9 1089.9l12.7-0.7"/>
<path d="M1872.6 1077.6l47.2-4.7 12.8-0.1"/>
<path d="M2070.4 1227.5l9.7 0.5M2091.2 1228.5l17.5 0.6 19.9-0.6M2134 1228.3l13.5-0.6"/>
<path d="M1982.6 1139l19.5-1.5 19.4 0"/>
<path d="M2193.6 1216.6l34.2-0.9"/>
<path d="M2155.4 1211.7l15.8-0.1"/>
<path d="M1997.7 1225.1l59.2 4.1 47.5 1.5 54.6-2.5 19.8 0"/>
<path d="M1781.9 1141.7l15.6 10.7 15.2 9.4 18.2 9.8 16.5 7.7"/>
<path d="M1984.4 1141.8l26.2 2.6 22.5 0.2"/>
<path d="M1831.3 1181.7l26.8 13 25.5 9.1 25.5 6.2 12.8 1.9 14.2 0.8"/>
<path d="M1916 1097.7l63.3-7.2 23.8-0.3"/>
<path d="M1922.5 1113.2l23.6-2.1 18-0.1"/>
<path d="M1803.8 1032.1l46.7-6 16.5-0.5"/>
<path d="M1860.8 1069.7l8.7 0"/>
<path d="M2048.8 1181.3l20.6 0.1"/>
<path d="M2004.4 1150.9l21.1-0.7"/>
<path d="M2219.8 1218l23.8-1.1"/>
<path d="M1886.8 1084.5l23-0.5"/>
<path d="M2161.6 1226.7l4.9 0"/>
<path d="M1763.9 1005.8l22.6-0.2 69-5.7 19.9 0"/>
<path d="M2158.3 1212.6l68.3-1.9"/>
<path d="M2077 1186.6l52.3 0.8"/>
<path d="M2132.5 1206.1l2.7 0"/>
<path d="M1857.7 1069.2l10.8 0"/>
<path d="M1827.8 1046.6l56.6-4.8 19.7 0"/>
<path d="M2039.3 1174.2l8 0"/>
<path d="M1702.6 1102l30.9 25.1 19.5 14.2 9.8 6.1 9.7 3.8 9.7 2.3 10.2 1.1 14 0.2"/>
<path d="M1913.4 1104.4l28.9 8.4 26.1 5.4 26.5 3.4 20.5 0.6"/>
<path d="M2132.6 1207l29.6 0.3"/>
<path d="M2076.7 1184.7l8.8 0"/>
<path d="M1939 1119.2l18 2.2 7 0"/>
<path d="M1645.7 1035.9l37.7 40.2 16.6 16.2 6.4 4.5 9.3 4.6 9.7 3.1 10.3 1.5"/>
<path d="M1866.5 1073.3l42.4-4.3 22.1-0.1"/>
<path d="M2224.4 1219l20.4-0.5"/>
<path d="M1908.6 1094.2l13.4 1.4 12.8 0"/>
<path d="M2155.2 1212.3l6.8 0"/>
<path d="M2050.7 1182.2l10.6 0"/>
<path d="M2132.3 1207.2l15.2 0"/>
<path d="M1914 1100.1l5-0.2"/>
<path d="M1852.5 1058.1l8.5 0"/>
<path d="M1940.3 1123.6l17-0.4"/>
<path d="M1872.6 1082.1l30.4-3.1 17.1-0.1"/>
<path d="M2193.6 1217.3l7 0"/>
<path d="M1827.4 1046.4l10.2 0"/>
<path d="M1853.6 1059.9l19.6 0.7"/>
<path d="M1764.4 1007.1l25.7-1.3 72.6-6 13.6 0"/>
<path d="M2133.8 1227.8l19.2-0.3M2161.7 1227.2l11.5-0.4"/>
<path d="M2239.7 1219.6l12.2-0.7 17.5 0"/>
<path d="M1976.4 1134.8l9.9 0"/>
<path d="M2035.3 1225.4l2 0.2M2048.6 1226.4l9.6 0.7M2065 1227.5l15.2 0.3"/>
<path d="M1886.6 1084.2l21.7-0.1"/>
<path d="M1803.2 1032.6l39.3-4"/>
<path d="M2133.4 1227.8l20.8 0"/>
<path d="M2030.6 1225.4l7.2 0.7M2040.7 1226.4l26.7 2.1 30.6 1.3 41.1-0.4"/>
<path d="M1908.7 1091.8l19-0.9"/>
<path d="M1910.7 1095.4l22.8-1"/>
<path d="M2224.6 1218.8l0.9 0"/>
<path d="M2076.2 1187l16.6-0.1"/>
<path d="M2230 1219.6l14-0.8"/>
<path d="M1716.6 1109.8l19.3 11.9 19.9 10.4 19.5 8.8 17 6.3"/>
<path d="M1740.2 991.5l21.1 4.4 24.3 3.8 30 3.2 25.3 1.6"/>
<path d="M1735.8 1109.4l9.7 7.5M1780.9 1141.8l24 14.5 28.8 15"/>
<path d="M2131.7 1199.3l27-0.5"/>
<path d="M1913.6 1103.1l26.3-1.9 15.7-0.2"/>
<path d="M1872.4 1081l37.6-4.1 19.6-1.3"/>
<path d="M1872.2 1081.5l22.3 1.9 16.2 0"/>
<path d="M2214.1 1222.8l31.9-0.6"/>
<path d="M1872.2 1078l22.7-0.5"/>
<path d="M1909 1093.8l80.7-7.1 19.5-0.9"/>
<path d="M2170.7 1214.7l20.9 0"/>
<path d="M1920.7 1110.2l28.5-2 17.8 0"/>
<path d="M1853.2 1062.4l14.7-0.7"/>
<path d="M1872.5 1076.6l42.2-3"/>
<path d="M1913.5 1104l17.1-1.2 15.6 0"/>
<path d="M2021.1 1164.3l19.3 0.3"/>
<path d="M1781.9 1020.1l26.8 3.8 7.3 0"/>
<path d="M1802.6 1164.1l27.3 16.5 32.2 16.9 24.8 10.7 17.6 6.3 10.7 3 14.6 2.7 10.8 0.5 32.1 3.4 79 4.2"/>
<path d="M1991.5 1148.3l20.5-0.3"/>
<path d="M2168.3 1213.9l12.3 0"/>
<path d="M1860.4 1070.2l9.7 0"/>
<path d="M1984.6 1140.3l7.9-0.1"/>
<path d="M2104.1 1228.4l39.6 0.4 63.2-2.6"/>
<path d="M2062.7 1183.5l10.9 0"/>
<path d="M1814.1 1039.6l55.7-6.6 27.2-2.5"/>
<path d="M1782.1 1020.6l71.4-7.5 22.8 0"/>
<path d="M2170 1214.7l52.8 0.5"/>
<path d="M2161.1 1226.8l10.5-0.3M2178 1226.1l10.5-0.7M2191.5 1225.2l10.4-0.8M2203.4 1224.3l32.3-2.8 16.4-0.1"/>
<path d="M1872.3 1075.7l27 3.2 21.8 0.2"/>
<path d="M2021.6 1163.7l11.7 2M2043.4 1166.8l8.3 0.7 13.6 0"/>
<path d="M2021.2 1163.1l12.8 0"/>
<path d="M2047.5 1177.9l4.1-0.1"/>
<path d="M2131.9 1204.7l26.4 3 27.9 1.1"/>
<path d="M1908.5 1090.6l18.3-1.2"/>
<path d="M1784.5 1020.9l63 5.1"/>
<path d="M1984.9 1145.4l17.4 0.7"/>
<path d="M1817.4 1040.5l33.2-3 17.8-0.1"/>
<path d="M2155.5 1211.8l16.2 0"/>
<path d="M1930.9 1113.5l5.4 0"/>
<path d="M2239.6 1219.6l26.3-1.5 16 0"/>
<path d="M2235.4 1220.5l6 0"/>
<path d="M2131.5 1200.3l104.5-1.9"/>
<path d="M2161.7 1226.9l7.4-0.4M2178.8 1225.8l4.1-0.4M2191.8 1224.7l2.5-0.2M2204 1223.6l1.8-0.2M2214.9 1222.6l1.8-0.1M2224.8 1221.7l2.8-0.2M2235.8 1220.7l2.5-0.2M2239.8 1220.3l30.8-1.6 14.5 0"/>
<path d="M1852.5 1058.4l45.4-4.4 18.2 0"/>
<path d="M1915.1 1098.4l15.8-1.2 19.3 0"/>
<path d="M1776.3 1017.5l23.3-1.2 78.7-9.9 16.5-1.7 10.2-0.1"/>
<path d="M2020.6 1164.7l26-1.2"/>
<path d="M2092.7 1228.4l13.5 0.8 17.2-0.2 54.5-2.6M2178.7 1226.4l10.8-1M2191.4 1225.3l9.3-0.9M2203.7 1224.1l7.5-0.7M2214.6 1223.1l7.1-0.7M2224.7 1222.1l7.1-0.7M2235.5 1221l9.4-0.5"/>
<path d="M1939.9 1123.1l65.7-5.8 20.4-1.4 10.8 0"/>
<path d="M2048.8 1178.8l17 0.2"/>
<path d="M1770.6 1011.3l16.6 4.8 16.2 3.8 38.1 6.8 22.3 2.9 32 3 25.2 0.5"/>
<path d="M2004.5 1152.8l6.1 0"/>
<path d="M1697.4 956.5l29.7 12.1 29.2 10.8 29.2 9.5 26.1 7.5 29.2 7 34.9 6.1 23.5 3.3 17.2 0"/>
<path d="M2076.8 1185.2l32 1"/>
<path d="M1914 1108.4l5.8 0"/>
<path d="M1984.8 1143.7l13.3 2.2 14 1.4 25.4 0.6"/>
<path d="M2093 1192.3l32.1-0.5"/>
<path d="M2153.5 1209.7l30.1-0.1"/>
<path d="M2133.4 1228l14.3-0.5M2161.6 1226.8l6.2-0.4M2178.5 1225.7l3.5-0.3M2224.4 1221.8l15.4 0"/>
<path d="M2131.7 1204.6l6.1 0.1"/>
<path d="M1866.5 1072.6l35.1-2.7 16.7-0.1"/>
<path d="M1857.6 1066.7l79-6.4"/>
<path d="M2093.7 1190.6l7.3 0"/>
<path d="M2131.7 1202.4l42.4 4 18.3 0.9 30.1 0.2"/>
<path d="M2106 1228.5l24.9 0 38.1-1.1"/>
<path d="M1857.9 1068.2l86.3-8.6 20.3-0.1"/>
<path d="M1792 1027.9l53.7-6 13-1.1 7.6 0"/>
<path d="M1976.7 1135.5l11 0"/>
<path d="M1912.5 1096.1l17.5 0"/>
<path d="M2131.9 1202.2l39.3-0.6"/>
<path d="M2055.1 1226.4l3.3 0.3M2068.6 1227.4l12 0.7M2089.2 1228.5l19.5 0.7 48.4-1.7M2161.6 1227.2l14.7-0.8M2178.5 1226.3l19.9-0.2"/>
<path d="M1693.2 952.5l45.8 31.3 6.7 3.4 9 2.7 12 1.4 11.9 0 58.7-5 18.1 0"/>
<path d="M2131.7 1202.2l69.2-2.3"/>
<path d="M1859.9 1069.6l34.5-3.4 21-0.1"/>
<path d="M2158.6 1212.8l59.3 0.6"/>
<path d="M1982.5 1138.7l24.1-1.6 12.8 0"/>
<path d="M2020.8 1171.6l9.6-0.7M2039.6 1170.3l36.9-1.5"/>
<path d="M2048.6 1180.3l11.6 2.4M2062.3 1183l3.8 0.7M2076.4 1185.3l27.1 3 30.7 0.8"/>
<path d="M1764.8 1003.2l24.9 11.8 16 6.6 28.5 10.3 15.6 4.7 22.3 5.5 22.3 4.1 24.9 3 15.2 0"/>
<path d="M2020.4 1171.9l6.4 0.7M2039.5 1173.5l2.5 0.1"/>
<path d="M1939.9 1122.9l10.4 0.1"/>
<path d="M2103 1228.4l26.6 0.6 37.7-0.5"/>
<path d="M1823.8 1040.7l41.3-4"/>
<path d="M1991.8 1147.6l47-3.7 29.8-1.4"/>
<path d="M2227.3 1219.6l15-1.5 31.6-1.8 16.1 0"/>
<path d="M1853.4 1065.1l6.8 0.7 15.4 0"/>
<path d="M1872.4 1077.6l12.2 5.3 21.6 8M1908.3 1091.7l23.7 6.8 20.8 4.3 23.2 2.9 22.9 0.4"/>
<path d="M1895.9 1090.6l10.3-1.1M1908.7 1089.3l12.9-1.2 12.9-0.1"/>
<path d="M1913.6 1102.4l83-9.1 22-0.6"/>
<path d="M1774.9 1143.8l21.4 12.4 23.9 12.6 24.4 11.7 22.9 9.7M1882.9 1196l7 2.5"/>
<path d="M1872.6 1076.8l34.6-3.3 11 0"/>
</g>
<path d="M128.5 1245.4 132.5 1245.4 136.5 1245.4 140.5 1245.3 144.5 1245.3 148.5 1245.3 152.5 1245.3 156.5 1245.3 160.5 1245.3 164.5 1245.2 168.5 1245.2 172.5 1245.2 176.5 1245.2 180.5 1245.2 184.5 1245.1 188.5 1245.1 192.5 1245.1 196.5 1245.0 200.5 1245.0 204.5 1244.9 208.5 1244.9 212.5 1244.8 216.5 1244.8 220.5 1244.7 224.5 1244.6 228.5 1244.5 232.5 1244.4 236.5 1244.3 240.5 1244.2 244.5 1244.1 248.5 1244.0 252.5 1243.8 256.5 1243.7 260.5 1243.5 264.5 1243.3 268.5 1243.0 272.5 1242.7 276.5 1242.2 280.5 1241.6 284.5 1241.0 288.5 1240.3 292.5 1239.5 296.5 1238.8 300.5 1238.0 304.5 1237.2 308.5 1236.2 312.5 1235.0 316.5 1233.6 320.5 1231.8 324.5 1229.7 328.5 1227.3 332.5 1224.7 335.9 1222.4 337.5 1221.1 339.2 1219.7 340.9 1218.3 342.5 1216.9 344.1 1215.4 345.7 1213.9 347.3 1212.4 348.8 1211.0 350.4 1210.0 351.9 1208.8 353.4 1207.6 354.9 1206.3 356.3 1204.9 357.8 1203.4 359.2 1201.8 360.6 1200.2 362.0 1198.5 363.4 1196.7 364.7 1194.9 366.1 1192.9 367.4 1190.9 368.7 1188.8 370.0 1186.7 371.2 1184.9 372.5 1183.1 373.7 1181.4 374.9 1179.6 376.1 1177.8 377.2 1176.0 378.4 1174.2 379.5 1172.3 380.6 1170.5 381.7 1168.6 382.7 1166.8 383.8 1164.9 384.8 1163.0 385.8 1161.1 386.8 1159.2 387.8 1157.3 388.7 1155.4 389.7 1153.5 390.6 1151.5 391.5 1149.6 392.4 1147.6 393.3 1145.7 394.1 1143.7 395.0 1141.8 395.8 1139.8 396.7 1137.8 397.5 1135.8 398.3 1133.9 399.1 1131.9 399.9 1129.9 400.6 1127.9 401.4 1125.9 402.2 1123.9 402.9 1121.8 403.7 1119.8 404.4 1117.8 405.1 1115.8 405.9 1113.8 406.6 1111.7 407.3 1109.7 408.0 1107.7 408.7 1105.6 409.4 1103.6 410.1 1101.6 410.8 1099.5 411.5 1097.5 412.2 1095.5 412.9 1093.4 413.6 1091.4 414.3 1089.4 415.0 1087.3 415.7 1085.3 416.4 1083.3 417.1 1081.2 417.8 1079.2 418.5 1077.2 419.2 1075.2 420.0 1073.1 420.7 1071.1 421.4 1069.1 422.1 1067.1 422.9 1065.1 423.6 1063.1 424.4 1061.1 425.2 1059.1 425.9 1057.1 426.7 1055.1 427.5 1053.1 428.3 1051.1 429.1 1049.1 429.9 1047.2 430.8 1045.2 431.6 1043.3 432.5 1041.3 433.3 1039.3 434.2 1037.4 435.1 1035.5 435.9 1033.5 436.8 1031.6 437.7 1029.6 438.6 1027.7 439.5 1025.8 440.4 1023.8 441.3 1021.9 442.2 1020.0 443.1 1018.0 444.0 1016.1 444.9 1014.2 445.8 1012.2 446.7 1010.3 447.6 1008.3 448.4 1006.4 449.3 1004.4 450.2 1002.5 451.1 1000.5 451.9 998.6 452.8 996.6 453.6 994.7 454.5 992.7 455.3 990.7 456.1 988.7 457.0 986.7 457.8 984.8 458.6 982.8 459.4 980.8 460.3 978.8 461.1 976.8 462.0 974.9 462.8 972.9 463.7 971.0 464.6 969.0 465.6 967.1 466.5 965.2 467.5 963.3 468.5 961.4 469.5 959.5 470.6 957.7 471.6 955.8 472.7 954.0 473.8 952.2 474.9 950.3 476.0 948.5 477.2 946.7 478.3 944.9 479.5 943.1 480.7 941.4 481.9 939.6 483.1 937.8 484.3 936.1 485.5 934.3 486.7 932.5 488.0 930.8 489.2 929.1 490.5 927.3 491.8 925.6 493.0 923.9 494.3 922.1 495.6 920.4 496.9 918.7 498.1 916.9 499.4 915.2 500.7 913.5 502.0 911.8 503.3 910.1 504.6 908.3 505.9 906.6 507.1 904.9 508.4 903.1 509.7 901.4 510.9 899.7 512.2 897.9 513.5 896.2 514.7 894.5 516.0 892.7 517.3 891.0 518.5 889.2 519.8 887.5 521.0 885.8 522.3 884.0 523.5 882.3 524.7 880.5 526.0 878.8 527.2 877.0 528.5 875.3 529.7 873.5 530.9 871.7 532.1 870.0 533.4 868.2 534.6 866.5 535.8 864.7 537.0 862.9 538.2 861.2 539.4 859.4 540.7 857.6 541.9 855.9 543.1 854.1 544.3 852.3 545.5 850.5 546.7 848.8 547.9 847.0 549.1 845.2 550.3 843.4 551.4 841.6 552.6 839.9 553.8 838.1 555.0 836.3 556.2 834.5 557.4 832.7 558.5 830.9 559.7 829.1 560.9 827.4 562.1 825.6 563.2 823.8 564.4 822.0 565.6 820.2 566.7 818.4 567.9 816.6 569.1 814.8 570.2 813.0 571.4 811.2 572.5 809.4 573.7 807.6 574.9 805.8 576.0 804.0 577.2 802.2 578.3 800.4 579.5 798.6 580.6 796.7 581.7 794.9 582.9 793.1 584.0 791.3 585.2 789.5 586.3 787.7 587.4 785.9 588.6 784.1 589.7 782.2 590.8 780.4 592.0 778.6 593.1 776.8 594.2 775.0 595.4 773.2 596.5 771.3 597.6 769.5 598.7 767.7 599.9 765.9 601.0 764.0 602.1 762.2 603.2 760.4 604.3 758.6 605.5 756.7 606.6 754.9 607.7 753.1 608.8 751.3 609.9 749.4 611.0 747.6 612.1 745.8 613.2 743.9 614.4 742.1 615.5 740.3 616.6 738.4 617.7 736.6 618.8 734.8 619.9 732.9 621.0 731.1 622.1 729.3 623.2 727.4 624.3 725.6 625.4 723.8 626.5 721.9 627.6 720.1 628.7 718.2 629.8 716.4 630.9 714.6 632.0 712.7 633.1 710.9 634.2 709.0 635.3 707.2 636.4 705.4 637.5 703.5 638.6 701.7 639.7 699.8 640.8 698.0 641.8 696.2 642.9 694.3 644.0 692.5 645.1 690.6 646.2 688.8 647.3 686.9 648.4 685.1 649.5 683.3 650.6 681.4 651.7 679.6 652.8 677.7 653.8 675.9 654.9 674.0 656.0 672.2 657.1 670.3 658.2 668.5 659.3 666.6 660.4 664.8 661.5 663.0 662.6 661.1 663.7 659.3 664.7 657.4 665.8 655.6 666.9 653.7 668.0 651.9 669.1 650.0 670.2 648.2 671.3 646.3 672.4 644.5 673.5 642.7 674.6 640.8 675.6 639.0 676.7 637.1 677.8 635.3 678.9 633.4 680.0 631.6 681.1 629.7 682.2 627.9 683.3 626.1 684.4 624.2 685.5 622.4 686.6 620.5 687.7 618.7 688.8 616.8 689.9 615.0 691.0 613.2 692.1 611.3 693.2 609.5 694.3 607.6 695.4 605.8 696.5 603.9 697.6 602.1 698.7 600.3 699.8 598.4 700.9 596.6 702.0 594.7 703.1 592.9 704.2 591.1 705.3 589.2 706.4 587.4 707.5 585.6 708.6 583.7 709.7 581.9 710.8 580.0 711.9 578.2 713.1 576.4 714.2 574.5 715.3 572.7 716.4 570.9 717.5 569.0 718.6 567.2 719.8 565.4 720.9 563.5 722.0 561.7 723.1 559.9 724.2 558.1 725.4 556.2 726.5 554.4 727.6 552.6 728.8 550.7 729.9 548.9 731.0 547.1 732.1 545.3 733.3 543.4 734.4 541.6 735.6 539.8 736.7 538.0 737.8 536.2 739.0 534.3 740.1 532.5 741.3 530.7 742.4 528.9 743.6 527.1 744.7 525.3 745.9 523.5 747.0 521.6 748.2 519.8 749.3 518.0 750.5 516.2 751.7 514.4 752.8 512.6 754.0 510.8 755.2 509.0 756.3 507.2 757.5 505.4 758.7 503.6 759.9 501.8 761.1 500.1 762.3 498.3 763.5 496.5 764.7 494.7 765.9 492.9 767.1 491.2 768.3 489.4 769.5 487.6 770.7 485.9 771.9 484.1 773.1 482.3 774.4 480.6 775.6 478.8 776.8 477.1 778.1 475.3 779.3 473.6 780.5 471.8 781.8 470.1 783.0 468.4 784.3 466.6 785.6 464.9 786.8 463.2 788.1 461.5 789.4 459.8 790.7 458.1 791.9 456.3 793.2 454.6 794.5 452.9 795.8 451.2 797.1 449.6 798.5 447.9 799.8 446.2 801.1 444.5 802.4 442.8 803.8 441.2 805.1 439.5 806.4 437.9 807.8 436.2 809.1 434.6 810.5 432.9 811.9 431.3 813.2 429.6 814.6 428.0 816.0 426.4 817.4 424.8 818.8 423.2 820.2 421.6 821.6 420.0 823.0 418.4 824.5 416.8 825.9 415.2 827.3 413.6 828.8 412.1 830.2 410.5 831.7 408.9 833.1 407.4 834.6 405.8 836.1 404.3 837.6 402.8 839.1 401.3 840.6 399.8 842.1 398.3 843.6 396.8 845.2 395.3 846.7 393.8 848.3 392.3 849.8 390.8 851.4 389.4 853.0 387.9 854.5 386.5 856.1 385.1 857.7 383.6 859.3 382.2 861.0 380.8 862.6 379.4 864.2 378.0 865.9 376.7 867.5 375.3 869.2 373.9 870.9 372.6 872.6 371.3 874.3 369.9 876.0 368.6 877.7 367.3 879.4 366.0 881.2 364.7 882.9 363.4 884.7 362.2 886.5 360.9 888.2 359.7 890.0 358.5 891.8 357.2 893.7 356.0 895.5 354.9 897.3 353.7 899.2 352.6 901.0 351.5 902.9 350.4 904.8 349.3 906.7 348.3 908.6 347.2 910.5 346.2 912.4 345.3 914.4 344.3 916.3 343.4 918.3 342.5 920.3 341.7 922.2 340.9 924.2 340.1 926.3 339.3 928.3 338.6 930.3 337.9 932.4 337.3 934.4 336.7 936.5 336.1 938.6 335.6 940.7 335.1 942.8 334.7 944.9 334.3 947.0 333.9 949.1 333.6 951.3 333.3 953.4 333.1 955.6 332.9 957.7 332.8 959.9 332.7 962.0 332.7 964.1 332.6 966.3 332.7 968.4 332.8 970.5 332.9 972.7 333.1 974.8 333.3 976.9 333.5 979.0 333.8 981.0 334.2 983.1 334.6 985.2 335.0 987.2 335.4 989.3 335.9 991.3 336.5 993.3 337.1 995.3 337.7 997.3 338.3 999.3 339.0 1001.3 339.7 1003.3 340.5 1005.2 341.3 1007.2 342.1 1009.1 343.0 1011.0 343.8 1013.0 344.8 1014.9 345.7 1016.8 346.7 1018.7 347.7 1020.5 348.7 1022.4 349.7 1024.3 350.8 1026.1 351.9 1028.0 353.0 1029.8 354.2 1031.6 355.3 1033.4 356.5 1035.2 357.7 1037.0 358.9 1038.8 360.2 1040.5 361.5 1042.3 362.7 1044.1 364.0 1045.8 365.3 1047.5 366.7 1049.2 368.0 1050.9 369.4 1052.6 370.7 1054.3 372.1 1056.0 373.5 1057.7 374.9 1059.3 376.3 1061.0 377.7 1062.6 379.2 1064.2 380.6 1065.8 382.0 1067.4 383.5 1069.0 384.9 1070.6 386.4 1072.2 387.9 1073.8 389.4 1075.3 390.8 1076.9 392.3 1078.4 393.8 1079.9 395.3 1081.5 396.9 1083.0 398.4 1084.5 399.9 1086.0 401.4 1087.5 403.0 1089.0 404.5 1090.4 406.1 1091.9 407.6 1093.4 409.2 1094.8 410.7 1096.3 412.3 1097.7 413.9 1099.2 415.5 1100.6 417.1 1102.0 418.7 1103.5 420.2 1104.9 421.8 1106.3 423.4 1107.7 425.1 1109.1 426.7 1110.5 428.3 1111.9 429.9 1113.3 431.5 1114.7 433.1 1116.1 434.8 1117.4 436.4 1118.8 438.0 1120.2 439.7 1121.5 441.3 1122.9 443.0 1124.3 444.6 1125.6 446.3 1127.0 447.9 1128.3 449.6 1129.7 451.2 1131.0 452.9 1132.4 454.5 1133.7 456.2 1135.1 457.8 1136.4 459.5 1137.8 461.2 1139.1 462.8 1140.5 464.5 1141.8 466.2 1143.1 467.8 1144.5 469.5 1145.8 471.2 1147.2 472.8 1148.5 474.5 1149.8 476.2 1151.2 477.8 1152.5 479.5 1153.9 481.2 1155.2 482.8 1156.5 484.5 1157.9 486.2 1159.2 487.8 1160.6 489.5 1161.9 491.2 1163.3 492.8 1164.6 494.5 1166.0 496.2 1167.3 497.8 1168.6 499.5 1170.0 501.2 1171.3 502.8 1172.7 504.5 1174.0 506.2 1175.4 507.8 1176.7 509.5 1178.0 511.2 1179.4 512.8 1180.7 514.5 1182.1 516.2 1183.4 517.8 1184.8 519.5 1186.1 521.2 1187.4 522.9 1188.8 524.5 1190.1 526.2 1191.4 527.9 1192.8 529.6 1194.1 531.2 1195.5 532.9 1196.8 534.6 1198.1 536.3 1199.5 538.0 1200.8 539.6 1202.1 541.3 1203.4 543.0 1204.8 544.7 1206.1 546.4 1207.4 548.1 1208.8 549.7 1210.1 551.4 1211.4 553.1 1212.7 554.8 1214.0 556.5 1215.4 558.2 1216.7 559.9 1218.0 561.6 1219.3 563.3 1220.6 565.0 1221.9 566.7 1223.3 568.4 1224.6 570.0 1225.9 571.7 1227.2 573.4 1228.5 575.1 1229.8 576.8 1231.1 578.5 1232.4 580.2 1233.8 581.9 1235.1 583.6 1236.4 585.3 1237.7 587.0 1239.0 588.7 1240.3 590.4 1241.6 592.1 1242.9 593.8 1244.2 595.5 1245.5 597.2 1246.8 598.9 1248.2 600.6 1249.5 602.3 1250.8 604.0 1252.1 605.7 1253.4 607.4 1254.7 609.1 1256.0 610.8 1257.3 612.5 1258.7 614.2 1260.0 615.9 1261.3 617.6 1262.6 619.3 1263.9 621.0 1265.3 622.6 1266.6 624.3 1267.9 626.0 1269.2 627.7 1270.5 629.4 1271.9 631.1 1273.2 632.7 1274.5 634.4 1275.9 636.1 1277.2 637.8 1278.5 639.5 1279.9 641.1 1281.2 642.8 1282.6 644.5 1283.9 646.1 1285.2 647.8 1286.6 649.5 1287.9 651.1 1289.3 652.8 1290.6 654.4 1292.0 656.1 1293.4 657.8 1294.7 659.4 1296.1 661.1 1297.5 662.7 1298.8 664.3 1300.2 666.0 1301.6 667.6 1303.0 669.3 1304.3 670.9 1305.7 672.5 1307.1 674.2 1308.5 675.8 1309.9 677.4 1311.3 679.0 1312.7 680.6 1314.1 682.3 1315.5 683.9 1316.9 685.5 1318.3 687.1 1319.7 688.7 1321.2 690.3 1322.6 691.9 1324.0 693.5 1325.4 695.0 1326.9 696.6 1328.3 698.2 1329.8 699.8 1331.2 701.4 1332.7 702.9 1334.1 704.5 1335.6 706.1 1337.0 707.6 1338.5 709.2 1340.0 710.7 1341.5 712.3 1342.9 713.8 1344.4 715.4 1345.9 716.9 1347.4 718.4 1348.9 720.0 1350.4 721.5 1351.9 723.0 1353.4 724.5 1354.9 726.0 1356.4 727.5 1358.0 729.1 1359.5 730.6 1361.0 732.1 1362.5 733.6 1364.1 735.1 1365.6 736.6 1367.2 738.0 1368.7 739.5 1370.2 741.0 1371.8 742.5 1373.3 744.0 1374.9 745.4 1376.5 746.9 1378.0 748.4 1379.6 749.9 1381.1 751.3 1382.7 752.8 1384.3 754.2 1385.9 755.7 1387.4 757.1 1389.0 758.6 1390.6 760.0 1392.2 761.5 1393.8 762.9 1395.4 764.4 1397.0 765.8 1398.6 767.3 1400.2 768.7 1401.8 770.1 1403.4 771.5 1405.0 773.0 1406.6 774.4 1408.2 775.8 1409.8 777.2 1411.4 778.7 1413.0 780.1 1414.6 781.5 1416.3 782.9 1417.9 784.3 1419.5 785.7 1421.1 787.1 1422.8 788.5 1424.4 789.9 1426.0 791.3 1427.6 792.7 1429.3 794.1 1430.9 795.5 1432.5 796.9 1434.2 798.3 1435.8 799.7 1437.4 801.1 1439.1 802.5 1440.7 803.9 1442.4 805.3 1444.0 806.6 1445.7 808.0 1447.3 809.4 1448.9 810.8 1450.6 812.2 1452.2 813.5 1453.9 814.9 1455.5 816.3 1457.2 817.7 1458.8 819.0 1460.5 820.4 1462.1 821.8 1463.8 823.2 1465.4 824.5 1467.1 825.9 1468.7 827.3 1470.4 828.6 1472.0 830.0 1473.7 831.4 1475.4 832.7 1477.0 834.1 1478.7 835.5 1480.3 836.8 1482.0 838.2 1483.6 839.6 1485.3 840.9 1486.9 842.3 1488.6 843.6 1490.2 845.0 1491.9 846.4 1493.5 847.7 1495.2 849.1 1496.8 850.4 1498.5 851.8 1500.1 853.2 1501.8 854.5 1503.4 855.9 1505.1 857.2 1506.7 858.6 1508.4 860.0 1510.0 861.3 1511.7 862.7 1513.3 864.0 1515.0 865.4 1516.6 866.8 1518.3 868.1 1519.9 869.5 1521.6 870.8 1523.2 872.2 1524.9 873.5 1526.5 874.9 1528.2 876.3 1529.8 877.6 1531.5 879.0 1533.1 880.3 1534.8 881.7 1536.4 883.1 1538.1 884.4 1539.7 885.8 1541.3 887.2 1543.0 888.5 1544.6 889.9 1546.3 891.2 1547.9 892.6 1549.6 894.0 1551.2 895.3 1552.8 896.7 1554.5 898.1 1556.1 899.4 1557.8 900.8 1559.4 902.2 1561.0 903.5 1562.7 904.9 1564.3 906.3 1566.0 907.6 1567.6 909.0 1569.2 910.4 1570.9 911.8 1572.5 913.1 1574.1 914.5 1575.8 915.9 1577.4 917.3 1579.0 918.6 1580.7 920.0 1582.3 921.4 1583.9 922.8 1585.6 924.2 1587.2 925.5 1588.8 926.9 1590.5 928.3 1592.1 929.7 1593.7 931.1 1595.3 932.5 1597.0 933.9 1598.6 935.2 1600.2 936.6 1601.8 938.0 1603.5 939.4 1605.1 940.8 1606.7 942.2 1608.3 943.6 1610.0 945.0 1611.6 946.4 1613.2 947.8 1614.8 949.2 1616.4 950.6 1618.1 952.0 1619.7 953.5 1621.3 954.9 1622.9 956.3 1624.5 957.7 1626.1 959.1 1627.7 960.5 1629.4 961.9 1631.0 963.4 1632.6 964.8 1634.2 966.2 1635.8 967.6 1637.4 969.1 1639.0 970.5 1640.6 971.9 1642.2 973.4 1643.8 974.8 1645.4 976.2 1647.0 977.7 1648.7 979.1 1650.3 980.5 1651.9 982.0 1653.5 983.4 1655.1 984.9 1656.7 986.3 1658.3 987.7 1659.9 989.2 1661.5 990.6 1663.1 992.1 1664.7 993.5 1666.3 994.9 1667.9 996.4 1669.5 997.8 1671.1 999.3 1672.7 1000.7 1674.3 1002.1 1675.9 1003.6 1677.5 1005.0 1679.2 1006.5 1680.8 1007.9 1682.4 1009.3 1684.0 1010.7 1685.6 1012.2 1687.2 1013.6 1688.8 1015.0 1690.5 1016.5 1692.1 1017.9 1693.7 1019.3 1695.3 1020.7 1696.9 1022.1 1698.6 1023.5 1700.2 1024.9 1701.8 1026.4 1703.5 1027.8 1705.1 1029.2 1706.7 1030.6 1708.4 1032.0 1710.0 1033.3 1711.7 1034.7 1713.3 1036.1 1714.9 1037.5 1716.6 1038.9 1718.2 1040.2 1719.9 1041.6 1721.6 1043.0 1723.2 1044.3 1724.9 1045.7 1726.5 1047.0 1728.2 1048.4 1729.9 1049.7 1731.6 1051.1 1733.2 1052.4 1734.9 1053.7 1736.6 1055.1 1738.3 1056.4 1740.0 1057.7 1741.7 1059.0 1743.4 1060.3 1745.1 1061.6 1746.8 1062.9 1748.5 1064.2 1750.2 1065.4 1751.9 1066.7 1753.6 1068.0 1755.4 1069.2 1757.1 1070.5 1758.8 1071.7 1760.6 1073.0 1762.3 1074.2 1764.0 1075.4 1765.8 1076.7 1767.5 1077.9 1769.3 1079.1 1771.1 1080.3 1772.8 1081.5 1774.6 1082.6 1776.4 1083.8 1778.2 1085.0 1780.0 1086.1 1781.7 1087.3 1783.5 1088.4 1785.3 1089.6 1787.2 1090.7 1789.0 1091.8 1790.8 1092.9 1792.6 1094.0 1794.4 1095.1 1796.3 1096.2 1798.1 1097.2 1799.9 1098.3 1801.8 1099.4 1803.6 1100.4 1805.5 1101.5 1807.4 1102.5 1809.2 1103.5 1811.1 1104.5 1813.0 1105.6 1814.9 1106.6 1816.7 1107.6 1818.6 1108.6 1820.5 1109.6 1822.4 1110.5 1824.3 1111.5 1826.2 1112.5 1828.1 1113.4 1830.0 1114.4 1831.9 1115.4 1833.8 1116.3 1835.8 1117.3 1837.7 1118.2 1839.6 1119.1 1841.5 1120.1 1843.5 1121.0 1845.4 1121.9 1847.3 1122.8 1849.3 1123.8 1851.2 1124.7 1853.1 1125.6 1855.1 1126.5 1857.0 1127.4 1859.0 1128.3 1860.9 1129.2 1862.9 1130.1 1864.8 1131.0 1866.8 1131.9 1868.7 1132.8 1870.7 1133.7 1872.6 1134.6 1874.6 1135.4 1876.5 1136.3 1878.5 1137.2 1880.5 1138.1 1882.4 1139.0 1884.4 1139.9 1886.3 1140.7 1888.3 1141.6 1890.3 1142.5 1892.2 1143.4 1894.2 1144.3 1896.1 1145.2 1898.1 1146.0 1900.1 1146.9 1902.0 1147.8 1904.0 1148.7 1905.9 1149.6 1907.9 1150.5 1909.9 1151.4 1911.8 1152.3 1913.8 1153.2 1915.7 1154.1 1917.7 1155.0 1919.6 1155.9 1921.6 1156.8 1923.5 1157.7 1925.5 1158.6 1927.4 1159.5 1929.4 1160.4 1931.3 1161.3 1933.2 1162.3 1935.2 1163.2 1937.1 1164.1 1939.0 1165.1 1941.0 1166.0 1942.9 1166.9 1944.8 1167.9 1946.7 1168.9 1948.7 1169.8 1950.6 1170.8 1952.5 1171.8 1954.4 1172.7 1956.3 1173.7 1958.2 1174.7 1960.1 1175.7 1962.0 1176.7 1963.9 1177.7 1965.8 1178.7 1967.7 1179.7 1969.6 1180.8 1971.4 1181.8 1973.3 1182.9 1975.2 1183.9 1977.1 1185.0 1978.9 1186.0 1980.8 1187.1 1982.7 1188.1 1984.5 1189.2 1986.4 1190.3 1988.2 1191.3 1990.1 1192.4 1991.9 1193.5 1993.8 1194.5 1995.7 1195.6 1997.5 1196.7 1999.4 1197.7 2001.2 1198.8 2003.1 1199.8 2005.0 1200.9 2006.8 1201.9 2008.7 1203.0 2010.5 1204.0 2012.4 1205.1 2014.3 1206.1 2016.2 1207.1 2018.0 1208.1 2019.9 1209.1 2021.8 1210.5 2023.7 1211.8 2025.6 1213.0 2027.5 1214.1 2029.4 1215.2 2031.3 1216.2 2033.3 1217.2 2035.2 1218.0 2037.1 1218.8 2039.0 1219.6 2041.0 1220.3 2042.9 1220.9 2044.9 1221.4 2046.9 1222.1 2048.9 1222.9 2050.0 1223.3 2054.0 1224.8 2058.0 1226.2 2062.0 1227.6 2066.0 1228.9 2070.0 1230.2 2074.0 1231.5 2078.0 1232.8 2082.0 1233.9 2086.0 1234.9 2090.0 1235.7 2094.0 1236.5 2098.0 1237.2 2102.0 1237.8 2106.0 1238.4 2110.0 1239.0 2114.0 1239.5 2118.0 1240.0 2122.0 1240.5 2126.0 1241.0 2130.0 1241.5 2134.0 1241.9 2138.0 1242.4 2142.0 1242.7 2146.0 1243.1 2150.0 1243.4 2154.0 1243.6 2158.0 1243.8 2162.0 1244.0 2166.0 1244.1 2170.0 1244.2 2174.0 1244.4 2178.0 1244.5 2182.0 1244.6 2186.0 1244.7 2190.0 1244.8 2194.0 1244.9 2198.0 1244.9 2202.0 1245.0 2206.0 1245.1 2210.0 1245.2 2214.0 1245.2 2218.0 1245.3 2222.0 1245.3 2226.0 1245.4 2230.0 1245.4 2234.0 1245.4 2238.0 1245.4 2242.0 1245.5 2246.0 1245.5 2250.0 1245.5 2254.0 1245.6 2258.0 1245.6 2262.0 1245.6 2266.0 1245.7 2270.0 1245.7 2274.0 1245.7 2278.0 1245.7 2282.0 1245.8 2286.0 1245.8 2290.0 1245.8 2292.8 1245.8" fill="none" stroke="#fa7c17" stroke-width="6.25" stroke-dasharray="23.1 10"/>

<g font-size="42.5" text-anchor="middle">
<text x="455.5" y="1343.8">0.4</text>
<text x="970.8" y="1343.8">0.6</text>
<text x="1486.1" y="1343.8">0.8</text>
<text x="2001.4" y="1343.8">1.0</text>
</g>
<text x="1212" y="1394.5" font-size="42" text-anchor="middle">y</text>
<g>
<line x1="1920.2" y1="58" x2="1977.8" y2="58" stroke="#2a2eec" stroke-width="4.2" stroke-linecap="round"/>
<line x1="1920.2" y1="99.9" x2="1977.8" y2="99.9" stroke="#000" stroke-width="4.2" stroke-linecap="round"/>
<line x1="1920" y1="142.9" x2="1976.1" y2="142.9" stroke="#fa7c17" stroke-width="6" stroke-dasharray="23.1 9.8"/>
</g>
<g font-size="28.6">
<text x="2001" y="68.2" textLength="286" lengthAdjust="spacingAndGlyphs">Posterior predictive</text>
<text x="2002.1" y="111" textLength="140.5" lengthAdjust="spacingAndGlyphs">Observed</text>
<text x="2001.1" y="153.4" textLength="377.5" lengthAdjust="spacingAndGlyphs">Posterior predictive mean</text>
</g>
</svg>
</body></html>
